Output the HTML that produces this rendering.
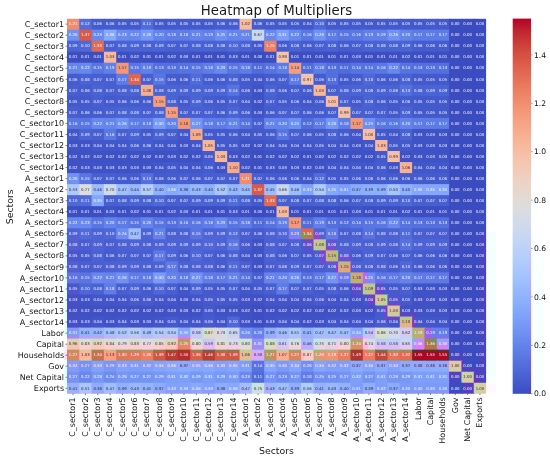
<!DOCTYPE html>
<html><head><meta charset="utf-8"><title>Heatmap of Multipliers</title>
<style>html,body{margin:0;padding:0;background:#fff}svg{display:block;will-change:transform}text{font-family:"DejaVu Sans","Liberation Sans",sans-serif}</style></head><body>
<svg width="550" height="459" viewBox="0 0 550 459">
<rect width="550" height="459" fill="#fff"/>
<g shape-rendering="crispEdges">
<rect x="64" y="232" width="16" height="8" fill="#e8ffff"/>
<rect x="80" y="232" width="16" height="8" fill="#e2ffff"/>
<rect x="96" y="232" width="16" height="8" fill="#e3ffff"/>
<rect x="112" y="232" width="16" height="8" fill="#e0ffff"/>
<rect x="128" y="232" width="16" height="8" fill="#e3ffff"/>
<rect x="144" y="232" width="16" height="8" fill="#e2ffff"/>
<rect x="160" y="232" width="16" height="8" fill="#e2ffff"/>
<rect x="176" y="232" width="16" height="8" fill="#e2ffff"/>
<rect x="192" y="232" width="16" height="8" fill="#e2ffff"/>
<rect x="208" y="232" width="16" height="8" fill="#e4ffff"/>
<rect x="224" y="232" width="16" height="8" fill="#e1ffff"/>
<rect x="240" y="232" width="16" height="8" fill="#e4ffff"/>
<rect x="256" y="232" width="16" height="8" fill="#e4ffff"/>
<rect x="272" y="232" width="16" height="8" fill="#e3ffff"/>
<rect x="288" y="232" width="16" height="8" fill="#f2ffff"/>
<rect x="304" y="232" width="16" height="8" fill="#ffeeff"/>
<rect x="320" y="232" width="16" height="8" fill="#e5ffff"/>
<rect x="336" y="232" width="16" height="8" fill="#e3ffff"/>
<rect x="352" y="232" width="16" height="8" fill="#e3ffff"/>
<rect x="368" y="232" width="16" height="8" fill="#e2ffff"/>
<rect x="384" y="232" width="16" height="8" fill="#e3ffff"/>
<rect x="400" y="232" width="16" height="8" fill="#e2ffff"/>
<rect x="416" y="232" width="16" height="8" fill="#e4ffff"/>
<rect x="432" y="232" width="16" height="8" fill="#e4ffff"/>
<rect x="448" y="232" width="16" height="8" fill="#e7ffff"/>
<rect x="464" y="232" width="16" height="8" fill="#e8ffff"/>
<rect x="480" y="232" width="16" height="8" fill="#f6ffff"/>
<rect x="512" y="232" width="16" height="8" fill="#f1ffff"/>
<rect x="528" y="232" width="16" height="8" fill="#fcffff"/>
<rect x="64" y="240" width="16" height="8" fill="#e9ffff"/>
<rect x="80" y="240" width="16" height="8" fill="#e4ffff"/>
<rect x="96" y="240" width="16" height="8" fill="#e4ffff"/>
<rect x="112" y="240" width="16" height="8" fill="#e3ffff"/>
<rect x="128" y="240" width="16" height="8" fill="#e3ffff"/>
<rect x="144" y="240" width="16" height="8" fill="#e3ffff"/>
<rect x="160" y="240" width="16" height="8" fill="#e4ffff"/>
<rect x="176" y="240" width="16" height="8" fill="#e2ffff"/>
<rect x="192" y="240" width="16" height="8" fill="#e3ffff"/>
<rect x="208" y="240" width="16" height="8" fill="#e3ffff"/>
<rect x="224" y="240" width="16" height="8" fill="#e1ffff"/>
<rect x="240" y="240" width="16" height="8" fill="#e5ffff"/>
<rect x="256" y="240" width="16" height="8" fill="#e5ffff"/>
<rect x="272" y="240" width="16" height="8" fill="#e4ffff"/>
<rect x="288" y="240" width="16" height="8" fill="#e3ffff"/>
<rect x="304" y="240" width="16" height="8" fill="#fffcff"/>
<rect x="336" y="240" width="16" height="8" fill="#e3ffff"/>
<rect x="352" y="240" width="16" height="8" fill="#e3ffff"/>
<rect x="368" y="240" width="16" height="8" fill="#e3ffff"/>
<rect x="384" y="240" width="16" height="8" fill="#e3ffff"/>
<rect x="400" y="240" width="16" height="8" fill="#e1ffff"/>
<rect x="416" y="240" width="16" height="8" fill="#e3ffff"/>
<rect x="432" y="240" width="16" height="8" fill="#e3ffff"/>
<rect x="448" y="240" width="16" height="8" fill="#e7ffff"/>
<rect x="464" y="240" width="16" height="8" fill="#e8ffff"/>
<rect x="480" y="240" width="16" height="8" fill="#f6ffff"/>
<rect x="512" y="240" width="16" height="8" fill="#efffff"/>
<rect x="528" y="240" width="16" height="8" fill="#fcffff"/>
<rect x="64" y="248" width="16" height="8" fill="#e9ffff"/>
<rect x="80" y="248" width="16" height="8" fill="#e3ffff"/>
<rect x="96" y="248" width="16" height="8" fill="#e3ffff"/>
<rect x="112" y="248" width="16" height="8" fill="#e3ffff"/>
<rect x="128" y="248" width="16" height="8" fill="#e3ffff"/>
<rect x="144" y="248" width="16" height="8" fill="#e2ffff"/>
<rect x="160" y="248" width="16" height="8" fill="#e2ffff"/>
<rect x="176" y="248" width="16" height="8" fill="#e2ffff"/>
<rect x="192" y="248" width="16" height="8" fill="#e2ffff"/>
<rect x="208" y="248" width="16" height="8" fill="#e3ffff"/>
<rect x="224" y="248" width="16" height="8" fill="#e2ffff"/>
<rect x="240" y="248" width="16" height="8" fill="#e4ffff"/>
<rect x="256" y="248" width="16" height="8" fill="#e4ffff"/>
<rect x="272" y="248" width="16" height="8" fill="#e3ffff"/>
<rect x="288" y="248" width="16" height="8" fill="#e3ffff"/>
<rect x="304" y="248" width="16" height="8" fill="#eeffff"/>
<rect x="320" y="248" width="16" height="8" fill="#fff4ff"/>
<rect x="336" y="248" width="16" height="8" fill="#ebffff"/>
<rect x="352" y="248" width="16" height="8" fill="#e3ffff"/>
<rect x="368" y="248" width="16" height="8" fill="#e3ffff"/>
<rect x="384" y="248" width="16" height="8" fill="#e3ffff"/>
<rect x="400" y="248" width="16" height="8" fill="#e2ffff"/>
<rect x="416" y="248" width="16" height="8" fill="#e3ffff"/>
<rect x="432" y="248" width="16" height="8" fill="#e3ffff"/>
<rect x="448" y="248" width="16" height="8" fill="#e7ffff"/>
<rect x="464" y="248" width="16" height="8" fill="#e7ffff"/>
<rect x="480" y="248" width="16" height="8" fill="#f6ffff"/>
<rect x="512" y="248" width="16" height="8" fill="#ecffff"/>
<rect x="528" y="248" width="16" height="8" fill="#fbffff"/>
<rect x="64" y="256" width="16" height="8" fill="#e8ffff"/>
<rect x="80" y="256" width="16" height="8" fill="#e3ffff"/>
<rect x="96" y="256" width="16" height="8" fill="#e2ffff"/>
<rect x="112" y="256" width="16" height="8" fill="#e2ffff"/>
<rect x="128" y="256" width="16" height="8" fill="#e2ffff"/>
<rect x="144" y="256" width="16" height="8" fill="#e1ffff"/>
<rect x="160" y="256" width="16" height="8" fill="#e0ffff"/>
<rect x="176" y="256" width="16" height="8" fill="#e2ffff"/>
<rect x="192" y="256" width="16" height="8" fill="#e2ffff"/>
<rect x="208" y="256" width="16" height="8" fill="#e3ffff"/>
<rect x="224" y="256" width="16" height="8" fill="#e2ffff"/>
<rect x="240" y="256" width="16" height="8" fill="#e4ffff"/>
<rect x="256" y="256" width="16" height="8" fill="#e3ffff"/>
<rect x="272" y="256" width="16" height="8" fill="#e2ffff"/>
<rect x="288" y="256" width="16" height="8" fill="#e2ffff"/>
<rect x="304" y="256" width="16" height="8" fill="#e3ffff"/>
<rect x="320" y="256" width="16" height="8" fill="#fffaff"/>
<rect x="336" y="256" width="16" height="8" fill="#fffdff"/>
<rect x="352" y="256" width="16" height="8" fill="#e2ffff"/>
<rect x="368" y="256" width="16" height="8" fill="#e2ffff"/>
<rect x="384" y="256" width="16" height="8" fill="#e3ffff"/>
<rect x="400" y="256" width="16" height="8" fill="#e2ffff"/>
<rect x="416" y="256" width="16" height="8" fill="#e3ffff"/>
<rect x="432" y="256" width="16" height="8" fill="#e3ffff"/>
<rect x="448" y="256" width="16" height="8" fill="#e6ffff"/>
<rect x="464" y="256" width="16" height="8" fill="#e7ffff"/>
<rect x="480" y="256" width="16" height="8" fill="#f6ffff"/>
<rect x="512" y="256" width="16" height="8" fill="#e8ffff"/>
<rect x="528" y="256" width="16" height="8" fill="#faffff"/>
<rect x="64" y="264" width="16" height="8" fill="#e9ffff"/>
<rect x="80" y="264" width="16" height="8" fill="#e4ffff"/>
<rect x="96" y="264" width="16" height="8" fill="#e4ffff"/>
<rect x="112" y="264" width="16" height="8" fill="#e3ffff"/>
<rect x="128" y="264" width="16" height="8" fill="#e3ffff"/>
<rect x="144" y="264" width="16" height="8" fill="#e3ffff"/>
<rect x="160" y="264" width="16" height="8" fill="#e1ffff"/>
<rect x="176" y="264" width="16" height="8" fill="#e2ffff"/>
<rect x="192" y="264" width="16" height="8" fill="#e3ffff"/>
<rect x="208" y="264" width="16" height="8" fill="#e4ffff"/>
<rect x="224" y="264" width="16" height="8" fill="#e2ffff"/>
<rect x="240" y="264" width="16" height="8" fill="#e5ffff"/>
<rect x="256" y="264" width="16" height="8" fill="#e5ffff"/>
<rect x="272" y="264" width="16" height="8" fill="#e4ffff"/>
<rect x="288" y="264" width="16" height="8" fill="#e3ffff"/>
<rect x="304" y="264" width="16" height="8" fill="#e4ffff"/>
<rect x="320" y="264" width="16" height="8" fill="#e4ffff"/>
<rect x="336" y="264" width="16" height="8" fill="#ffeaff"/>
<rect x="352" y="264" width="16" height="8" fill="#e3ffff"/>
<rect x="368" y="264" width="16" height="8" fill="#e4ffff"/>
<rect x="384" y="264" width="16" height="8" fill="#e4ffff"/>
<rect x="400" y="264" width="16" height="8" fill="#e3ffff"/>
<rect x="416" y="264" width="16" height="8" fill="#e4ffff"/>
<rect x="432" y="264" width="16" height="8" fill="#e4ffff"/>
<rect x="448" y="264" width="16" height="8" fill="#e7ffff"/>
<rect x="464" y="264" width="16" height="8" fill="#e8ffff"/>
<rect x="480" y="264" width="16" height="8" fill="#f6ffff"/>
<rect x="512" y="264" width="16" height="8" fill="#e6ffff"/>
<rect x="528" y="264" width="16" height="8" fill="#faffff"/>
<rect x="64" y="272" width="16" height="8" fill="#e6ffff"/>
<rect x="80" y="272" width="16" height="8" fill="#e1ffff"/>
<rect x="96" y="272" width="16" height="8" fill="#dfffff"/>
<rect x="112" y="272" width="16" height="8" fill="#dfffff"/>
<rect x="128" y="272" width="16" height="8" fill="#dfffff"/>
<rect x="144" y="272" width="16" height="8" fill="#e0ffff"/>
<rect x="160" y="272" width="16" height="8" fill="#dfffff"/>
<rect x="176" y="272" width="16" height="8" fill="#dfffff"/>
<rect x="192" y="272" width="16" height="8" fill="#dfffff"/>
<rect x="208" y="272" width="16" height="8" fill="#e0ffff"/>
<rect x="224" y="272" width="16" height="8" fill="#dfffff"/>
<rect x="240" y="272" width="16" height="8" fill="#e2ffff"/>
<rect x="256" y="272" width="16" height="8" fill="#e2ffff"/>
<rect x="272" y="272" width="16" height="8" fill="#dfffff"/>
<rect x="288" y="272" width="16" height="8" fill="#dfffff"/>
<rect x="304" y="272" width="16" height="8" fill="#e1ffff"/>
<rect x="320" y="272" width="16" height="8" fill="#dfffff"/>
<rect x="336" y="272" width="16" height="8" fill="#ecffff"/>
<rect x="352" y="272" width="16" height="8" fill="#fff0ff"/>
<rect x="368" y="272" width="16" height="8" fill="#e0ffff"/>
<rect x="384" y="272" width="16" height="8" fill="#e0ffff"/>
<rect x="400" y="272" width="16" height="8" fill="#dfffff"/>
<rect x="416" y="272" width="16" height="8" fill="#e0ffff"/>
<rect x="432" y="272" width="16" height="8" fill="#e0ffff"/>
<rect x="448" y="272" width="16" height="8" fill="#e7ffff"/>
<rect x="464" y="272" width="16" height="8" fill="#e8ffff"/>
<rect x="480" y="272" width="16" height="8" fill="#f6ffff"/>
<rect x="512" y="272" width="16" height="8" fill="#e4ffff"/>
<rect x="528" y="272" width="16" height="8" fill="#faffff"/>
<rect x="64" y="280" width="16" height="8" fill="#e7ffff"/>
<rect x="80" y="280" width="16" height="8" fill="#e0ffff"/>
<rect x="96" y="280" width="16" height="8" fill="#dfffff"/>
<rect x="112" y="280" width="16" height="8" fill="#dfffff"/>
<rect x="128" y="280" width="16" height="8" fill="#e0ffff"/>
<rect x="144" y="280" width="16" height="8" fill="#e0ffff"/>
<rect x="160" y="280" width="16" height="8" fill="#e0ffff"/>
<rect x="176" y="280" width="16" height="8" fill="#e1ffff"/>
<rect x="192" y="280" width="16" height="8" fill="#e0ffff"/>
<rect x="208" y="280" width="16" height="8" fill="#e1ffff"/>
<rect x="224" y="280" width="16" height="8" fill="#e0ffff"/>
<rect x="240" y="280" width="16" height="8" fill="#e2ffff"/>
<rect x="256" y="280" width="16" height="8" fill="#e2ffff"/>
<rect x="272" y="280" width="16" height="8" fill="#deffff"/>
<rect x="288" y="280" width="16" height="8" fill="#e0ffff"/>
<rect x="304" y="280" width="16" height="8" fill="#e1ffff"/>
<rect x="320" y="280" width="16" height="8" fill="#e0ffff"/>
<rect x="336" y="280" width="16" height="8" fill="#e4ffff"/>
<rect x="352" y="280" width="16" height="8" fill="#fff7ff"/>
<rect x="368" y="280" width="16" height="8" fill="#f6ffff"/>
<rect x="384" y="280" width="16" height="8" fill="#e1ffff"/>
<rect x="400" y="280" width="16" height="8" fill="#e0ffff"/>
<rect x="416" y="280" width="16" height="8" fill="#e2ffff"/>
<rect x="432" y="280" width="16" height="8" fill="#e2ffff"/>
<rect x="448" y="280" width="16" height="8" fill="#e6ffff"/>
<rect x="464" y="280" width="16" height="8" fill="#e6ffff"/>
<rect x="480" y="280" width="16" height="8" fill="#f6ffff"/>
<rect x="512" y="280" width="16" height="8" fill="#e2ffff"/>
<rect x="528" y="280" width="16" height="8" fill="#f9ffff"/>
<rect x="64" y="288" width="16" height="8" fill="#e9ffff"/>
<rect x="80" y="288" width="16" height="8" fill="#e3ffff"/>
<rect x="96" y="288" width="16" height="8" fill="#e2ffff"/>
<rect x="112" y="288" width="16" height="8" fill="#e3ffff"/>
<rect x="128" y="288" width="16" height="8" fill="#e3ffff"/>
<rect x="144" y="288" width="16" height="8" fill="#e3ffff"/>
<rect x="160" y="288" width="16" height="8" fill="#e3ffff"/>
<rect x="176" y="288" width="16" height="8" fill="#e4ffff"/>
<rect x="192" y="288" width="16" height="8" fill="#e3ffff"/>
<rect x="208" y="288" width="16" height="8" fill="#e4ffff"/>
<rect x="224" y="288" width="16" height="8" fill="#e3ffff"/>
<rect x="240" y="288" width="16" height="8" fill="#e5ffff"/>
<rect x="256" y="288" width="16" height="8" fill="#e4ffff"/>
<rect x="272" y="288" width="16" height="8" fill="#e1ffff"/>
<rect x="288" y="288" width="16" height="8" fill="#e3ffff"/>
<rect x="304" y="288" width="16" height="8" fill="#e4ffff"/>
<rect x="320" y="288" width="16" height="8" fill="#e4ffff"/>
<rect x="336" y="288" width="16" height="8" fill="#e4ffff"/>
<rect x="352" y="288" width="16" height="8" fill="#faffff"/>
<rect x="368" y="288" width="16" height="8" fill="#fffaff"/>
<rect x="384" y="288" width="16" height="8" fill="#e7ffff"/>
<rect x="400" y="288" width="16" height="8" fill="#e4ffff"/>
<rect x="416" y="288" width="16" height="8" fill="#e5ffff"/>
<rect x="432" y="288" width="16" height="8" fill="#e6ffff"/>
<rect x="448" y="288" width="16" height="8" fill="#e7ffff"/>
<rect x="464" y="288" width="16" height="8" fill="#e7ffff"/>
<rect x="480" y="288" width="16" height="8" fill="#f6ffff"/>
<rect x="512" y="288" width="16" height="8" fill="#e1ffff"/>
<rect x="528" y="288" width="16" height="8" fill="#f9ffff"/>
<rect x="64" y="296" width="16" height="8" fill="#ebffff"/>
<rect x="80" y="296" width="16" height="8" fill="#e6ffff"/>
<rect x="96" y="296" width="16" height="8" fill="#e6ffff"/>
<rect x="112" y="296" width="16" height="8" fill="#e6ffff"/>
<rect x="128" y="296" width="16" height="8" fill="#e4ffff"/>
<rect x="144" y="296" width="16" height="8" fill="#e5ffff"/>
<rect x="160" y="296" width="16" height="8" fill="#e6ffff"/>
<rect x="176" y="296" width="16" height="8" fill="#e6ffff"/>
<rect x="192" y="296" width="16" height="8" fill="#e5ffff"/>
<rect x="208" y="296" width="16" height="8" fill="#e5ffff"/>
<rect x="224" y="296" width="16" height="8" fill="#e5ffff"/>
<rect x="240" y="296" width="16" height="8" fill="#e6ffff"/>
<rect x="256" y="296" width="16" height="8" fill="#e6ffff"/>
<rect x="272" y="296" width="16" height="8" fill="#e6ffff"/>
<rect x="288" y="296" width="16" height="8" fill="#e5ffff"/>
<rect x="304" y="296" width="16" height="8" fill="#e5ffff"/>
<rect x="320" y="296" width="16" height="8" fill="#e6ffff"/>
<rect x="336" y="296" width="16" height="8" fill="#e5ffff"/>
<rect x="352" y="296" width="16" height="8" fill="#e6ffff"/>
<rect x="368" y="296" width="16" height="8" fill="#fff7ff"/>
<rect x="384" y="296" width="16" height="8" fill="#f5ffff"/>
<rect x="400" y="296" width="16" height="8" fill="#e5ffff"/>
<rect x="416" y="296" width="16" height="8" fill="#e6ffff"/>
<rect x="432" y="296" width="16" height="8" fill="#e6ffff"/>
<rect x="448" y="296" width="16" height="8" fill="#e8ffff"/>
<rect x="464" y="296" width="16" height="8" fill="#e8ffff"/>
<rect x="480" y="296" width="16" height="8" fill="#f6ffff"/>
<rect x="512" y="296" width="16" height="8" fill="#dfffff"/>
<rect x="528" y="296" width="16" height="8" fill="#f9ffff"/>
<rect x="64" y="304" width="16" height="8" fill="#ebffff"/>
<rect x="80" y="304" width="16" height="8" fill="#e6ffff"/>
<rect x="96" y="304" width="16" height="8" fill="#e7ffff"/>
<rect x="112" y="304" width="16" height="8" fill="#e6ffff"/>
<rect x="128" y="304" width="16" height="8" fill="#e6ffff"/>
<rect x="144" y="304" width="16" height="8" fill="#e6ffff"/>
<rect x="160" y="304" width="16" height="8" fill="#e6ffff"/>
<rect x="176" y="304" width="16" height="8" fill="#e6ffff"/>
<rect x="192" y="304" width="16" height="8" fill="#e6ffff"/>
<rect x="208" y="304" width="16" height="8" fill="#e6ffff"/>
<rect x="224" y="304" width="16" height="8" fill="#e6ffff"/>
<rect x="240" y="304" width="16" height="8" fill="#e7ffff"/>
<rect x="256" y="304" width="16" height="8" fill="#e7ffff"/>
<rect x="272" y="304" width="16" height="8" fill="#e6ffff"/>
<rect x="288" y="304" width="16" height="8" fill="#e6ffff"/>
<rect x="304" y="304" width="16" height="8" fill="#e6ffff"/>
<rect x="320" y="304" width="16" height="8" fill="#e7ffff"/>
<rect x="336" y="304" width="16" height="8" fill="#e6ffff"/>
<rect x="352" y="304" width="16" height="8" fill="#e6ffff"/>
<rect x="368" y="304" width="16" height="8" fill="#eeffff"/>
<rect x="384" y="304" width="16" height="8" fill="#fff5ff"/>
<rect x="400" y="304" width="16" height="8" fill="#e6ffff"/>
<rect x="416" y="304" width="16" height="8" fill="#e6ffff"/>
<rect x="432" y="304" width="16" height="8" fill="#e6ffff"/>
<rect x="448" y="304" width="16" height="8" fill="#e8ffff"/>
<rect x="464" y="304" width="16" height="8" fill="#e8ffff"/>
<rect x="480" y="304" width="16" height="8" fill="#f6ffff"/>
<rect x="512" y="304" width="16" height="8" fill="#deffff"/>
<rect x="528" y="304" width="16" height="8" fill="#f8ffff"/>
<rect x="64" y="312" width="16" height="8" fill="#e9ffff"/>
<rect x="80" y="312" width="16" height="8" fill="#e4ffff"/>
<rect x="96" y="312" width="16" height="8" fill="#e4ffff"/>
<rect x="112" y="312" width="16" height="8" fill="#e4ffff"/>
<rect x="128" y="312" width="16" height="8" fill="#e4ffff"/>
<rect x="144" y="312" width="16" height="8" fill="#e4ffff"/>
<rect x="160" y="312" width="16" height="8" fill="#e4ffff"/>
<rect x="176" y="312" width="16" height="8" fill="#e4ffff"/>
<rect x="192" y="312" width="16" height="8" fill="#e3ffff"/>
<rect x="208" y="312" width="16" height="8" fill="#e3ffff"/>
<rect x="224" y="312" width="16" height="8" fill="#e2ffff"/>
<rect x="240" y="312" width="16" height="8" fill="#e4ffff"/>
<rect x="256" y="312" width="16" height="8" fill="#e5ffff"/>
<rect x="272" y="312" width="16" height="8" fill="#e4ffff"/>
<rect x="288" y="312" width="16" height="8" fill="#e4ffff"/>
<rect x="304" y="312" width="16" height="8" fill="#e4ffff"/>
<rect x="320" y="312" width="16" height="8" fill="#e4ffff"/>
<rect x="336" y="312" width="16" height="8" fill="#e4ffff"/>
<rect x="352" y="312" width="16" height="8" fill="#e4ffff"/>
<rect x="368" y="312" width="16" height="8" fill="#e3ffff"/>
<rect x="384" y="312" width="16" height="8" fill="#fffcff"/>
<rect x="416" y="312" width="16" height="8" fill="#e4ffff"/>
<rect x="432" y="312" width="16" height="8" fill="#e4ffff"/>
<rect x="448" y="312" width="16" height="8" fill="#e6ffff"/>
<rect x="464" y="312" width="16" height="8" fill="#e6ffff"/>
<rect x="480" y="312" width="16" height="8" fill="#f5ffff"/>
<rect x="512" y="312" width="16" height="8" fill="#deffff"/>
<rect x="528" y="312" width="16" height="8" fill="#f8ffff"/>
<rect x="64" y="320" width="16" height="8" fill="#eaffff"/>
<rect x="80" y="320" width="16" height="8" fill="#e6ffff"/>
<rect x="96" y="320" width="16" height="8" fill="#e6ffff"/>
<rect x="112" y="320" width="16" height="8" fill="#e6ffff"/>
<rect x="128" y="320" width="16" height="8" fill="#e6ffff"/>
<rect x="144" y="320" width="16" height="8" fill="#e6ffff"/>
<rect x="160" y="320" width="16" height="8" fill="#e6ffff"/>
<rect x="176" y="320" width="16" height="8" fill="#e5ffff"/>
<rect x="192" y="320" width="16" height="8" fill="#e6ffff"/>
<rect x="208" y="320" width="16" height="8" fill="#e7ffff"/>
<rect x="224" y="320" width="16" height="8" fill="#e4ffff"/>
<rect x="240" y="320" width="16" height="8" fill="#e6ffff"/>
<rect x="256" y="320" width="16" height="8" fill="#e6ffff"/>
<rect x="272" y="320" width="16" height="8" fill="#e6ffff"/>
<rect x="288" y="320" width="16" height="8" fill="#e5ffff"/>
<rect x="304" y="320" width="16" height="8" fill="#e6ffff"/>
<rect x="320" y="320" width="16" height="8" fill="#e6ffff"/>
<rect x="336" y="320" width="16" height="8" fill="#e5ffff"/>
<rect x="352" y="320" width="16" height="8" fill="#e5ffff"/>
<rect x="368" y="320" width="16" height="8" fill="#e6ffff"/>
<rect x="384" y="320" width="16" height="8" fill="#e8ffff"/>
<rect x="400" y="320" width="16" height="8" fill="#ffeeff"/>
<rect x="416" y="320" width="16" height="8" fill="#e8ffff"/>
<rect x="432" y="320" width="16" height="8" fill="#e5ffff"/>
<rect x="448" y="320" width="16" height="8" fill="#e8ffff"/>
<rect x="464" y="320" width="16" height="8" fill="#e8ffff"/>
<rect x="480" y="320" width="16" height="8" fill="#f6ffff"/>
<rect x="512" y="320" width="16" height="8" fill="#ddffff"/>
<rect x="528" y="320" width="16" height="8" fill="#f8ffff"/>
<rect x="64" y="328" width="16" height="8" fill="#e4ffff"/>
<rect x="80" y="328" width="16" height="8" fill="#e1ffff"/>
<rect x="96" y="328" width="16" height="8" fill="#e3ffff"/>
<rect x="112" y="328" width="16" height="8" fill="#e6ffff"/>
<rect x="128" y="328" width="16" height="8" fill="#e8ffff"/>
<rect x="144" y="328" width="16" height="8" fill="#e6ffff"/>
<rect x="160" y="328" width="16" height="8" fill="#e8ffff"/>
<rect x="176" y="328" width="16" height="8" fill="#e1ffff"/>
<rect x="192" y="328" width="16" height="8" fill="#f8ffff"/>
<rect x="208" y="328" width="16" height="8" fill="#fffdff"/>
<rect x="224" y="328" width="16" height="8" fill="#f3ffff"/>
<rect x="240" y="328" width="16" height="8" fill="#dfffff"/>
<rect x="256" y="328" width="16" height="8" fill="#dfffff"/>
<rect x="272" y="328" width="16" height="8" fill="#e2ffff"/>
<rect x="288" y="328" width="16" height="8" fill="#e5ffff"/>
<rect x="304" y="328" width="16" height="8" fill="#e2ffff"/>
<rect x="320" y="328" width="16" height="8" fill="#e3ffff"/>
<rect x="336" y="328" width="16" height="8" fill="#e2ffff"/>
<rect x="352" y="328" width="16" height="8" fill="#e2ffff"/>
<rect x="368" y="328" width="16" height="8" fill="#fdffff"/>
<rect x="384" y="328" width="16" height="8" fill="#fbffff"/>
<rect x="400" y="328" width="16" height="8" fill="#fffdff"/>
<rect x="416" y="328" width="16" height="8" fill="#fff5ff"/>
<rect x="432" y="328" width="16" height="8" fill="#e0ffff"/>
<rect x="448" y="328" width="16" height="8" fill="#e7ffff"/>
<rect x="464" y="328" width="16" height="8" fill="#e8ffff"/>
<rect x="480" y="328" width="16" height="8" fill="#f6ffff"/>
<rect x="512" y="328" width="16" height="8" fill="#ddffff"/>
<rect x="528" y="328" width="16" height="8" fill="#f8ffff"/>
<rect x="64" y="336" width="16" height="8" fill="#fffbff"/>
<rect x="96" y="336" width="16" height="8" fill="#fffeff"/>
<rect x="112" y="336" width="16" height="8" fill="#faffff"/>
<rect x="128" y="336" width="16" height="8" fill="#fdffff"/>
<rect x="144" y="336" width="16" height="8" fill="#faffff"/>
<rect x="160" y="336" width="16" height="8" fill="#fffcff"/>
<rect x="176" y="336" width="16" height="8" fill="#ffefff"/>
<rect x="192" y="336" width="16" height="8" fill="#faffff"/>
<rect x="208" y="336" width="16" height="8" fill="#fdffff"/>
<rect x="224" y="336" width="16" height="8" fill="#f9ffff"/>
<rect x="240" y="336" width="16" height="8" fill="#f0ffff"/>
<rect x="256" y="336" width="16" height="8" fill="#efffff"/>
<rect x="272" y="336" width="16" height="8" fill="#f0ffff"/>
<rect x="288" y="336" width="16" height="8" fill="#f1ffff"/>
<rect x="304" y="336" width="16" height="8" fill="#e9ffff"/>
<rect x="320" y="336" width="16" height="8" fill="#f1ffff"/>
<rect x="336" y="336" width="16" height="8" fill="#fcffff"/>
<rect x="352" y="336" width="16" height="8" fill="#fff4ff"/>
<rect x="368" y="336" width="16" height="8" fill="#f6ffff"/>
<rect x="384" y="336" width="16" height="8" fill="#f0ffff"/>
<rect x="400" y="336" width="16" height="8" fill="#f4ffff"/>
<rect x="416" y="336" width="16" height="8" fill="#fff3ff"/>
<rect x="432" y="336" width="16" height="8" fill="#f6ffff"/>
<rect x="448" y="336" width="16" height="8" fill="#e6ffff"/>
<rect x="464" y="336" width="16" height="8" fill="#e7ffff"/>
<rect x="480" y="336" width="16" height="8" fill="#f6ffff"/>
<rect x="512" y="336" width="16" height="8" fill="#deffff"/>
<rect x="528" y="336" width="16" height="8" fill="#f8ffff"/>
<rect x="64" y="344" width="16" height="8" fill="#ffecff"/>
<rect x="80" y="344" width="16" height="8" fill="#fff1ff"/>
<rect x="96" y="344" width="16" height="8" fill="#ffedff"/>
<rect x="112" y="344" width="16" height="8" fill="#fff1ff"/>
<rect x="128" y="344" width="16" height="8" fill="#ffefff"/>
<rect x="144" y="344" width="16" height="8" fill="#fff0ff"/>
<rect x="160" y="344" width="16" height="8" fill="#ffe8ff"/>
<rect x="176" y="344" width="16" height="8" fill="#ffd9ff"/>
<rect x="192" y="344" width="16" height="8" fill="#fff2ff"/>
<rect x="208" y="344" width="16" height="8" fill="#fff2ff"/>
<rect x="224" y="344" width="16" height="8" fill="#fff2ff"/>
<rect x="240" y="344" width="16" height="8" fill="#fffcff"/>
<rect x="256" y="344" width="16" height="8" fill="#fffeff"/>
<rect x="272" y="344" width="16" height="8" fill="#fff8ff"/>
<rect x="288" y="344" width="16" height="8" fill="#fff7ff"/>
<rect x="320" y="344" width="16" height="8" fill="#fff6ff"/>
<rect x="336" y="344" width="16" height="8" fill="#ffefff"/>
<rect x="352" y="344" width="16" height="8" fill="#ffdfff"/>
<rect x="368" y="344" width="16" height="8" fill="#fff6ff"/>
<rect x="384" y="344" width="16" height="8" fill="#fff9ff"/>
<rect x="400" y="344" width="16" height="8" fill="#fff7ff"/>
<rect x="416" y="344" width="16" height="8" fill="#ffe4ff"/>
<rect x="432" y="344" width="16" height="8" fill="#ffecff"/>
<rect x="448" y="344" width="16" height="8" fill="#e9ffff"/>
<rect x="464" y="344" width="16" height="8" fill="#e7ffff"/>
<rect x="480" y="344" width="16" height="8" fill="#f6ffff"/>
<rect x="512" y="344" width="16" height="8" fill="#deffff"/>
<rect x="528" y="344" width="16" height="8" fill="#f8ffff"/>
<rect x="64" y="352" width="16" height="8" fill="#ffe0ff"/>
<rect x="80" y="352" width="16" height="8" fill="#ffe3ff"/>
<rect x="96" y="352" width="16" height="8" fill="#ffdbff"/>
<rect x="112" y="352" width="16" height="8" fill="#ffdaff"/>
<rect x="128" y="352" width="16" height="8" fill="#ffd7ff"/>
<rect x="144" y="352" width="16" height="8" fill="#ffd6ff"/>
<rect x="160" y="352" width="16" height="8" fill="#ffd1ff"/>
<rect x="176" y="352" width="16" height="8" fill="#ffcdff"/>
<rect x="192" y="352" width="16" height="8" fill="#ffd3ff"/>
<rect x="208" y="352" width="16" height="8" fill="#ffd2ff"/>
<rect x="224" y="352" width="16" height="8" fill="#ffd3ff"/>
<rect x="240" y="352" width="16" height="8" fill="#fff0ff"/>
<rect x="256" y="352" width="16" height="8" fill="#fff3ff"/>
<rect x="272" y="352" width="16" height="8" fill="#ffe2ff"/>
<rect x="288" y="352" width="16" height="8" fill="#ffdeff"/>
<rect x="304" y="352" width="16" height="8" fill="#ffecff"/>
<rect x="320" y="352" width="16" height="8" fill="#ffdeff"/>
<rect x="336" y="352" width="16" height="8" fill="#ffd7ff"/>
<rect x="352" y="352" width="16" height="8" fill="#ffd1ff"/>
<rect x="368" y="352" width="16" height="8" fill="#ffd4ff"/>
<rect x="384" y="352" width="16" height="8" fill="#ffd6ff"/>
<rect x="400" y="352" width="16" height="8" fill="#ffd2ff"/>
<rect x="416" y="352" width="16" height="8" fill="#ffc6ff"/>
<rect x="432" y="352" width="16" height="8" fill="#ffc7ff"/>
<rect x="448" y="352" width="16" height="8" fill="#f2ffff"/>
<rect x="464" y="352" width="16" height="8" fill="#e8ffff"/>
<rect x="480" y="352" width="16" height="8" fill="#f6ffff"/>
<rect x="512" y="352" width="16" height="8" fill="#dfffff"/>
<rect x="528" y="352" width="16" height="8" fill="#f9ffff"/>
<rect x="64" y="360" width="16" height="8" fill="#edffff"/>
<rect x="80" y="360" width="16" height="8" fill="#e6ffff"/>
<rect x="96" y="360" width="16" height="8" fill="#e9ffff"/>
<rect x="112" y="360" width="16" height="8" fill="#e9ffff"/>
<rect x="128" y="360" width="16" height="8" fill="#e8ffff"/>
<rect x="144" y="360" width="16" height="8" fill="#e9ffff"/>
<rect x="160" y="360" width="16" height="8" fill="#ebffff"/>
<rect x="176" y="360" width="16" height="8" fill="#eaffff"/>
<rect x="192" y="360" width="16" height="8" fill="#ebffff"/>
<rect x="208" y="360" width="16" height="8" fill="#ebffff"/>
<rect x="224" y="360" width="16" height="8" fill="#eaffff"/>
<rect x="240" y="360" width="16" height="8" fill="#e5ffff"/>
<rect x="256" y="360" width="16" height="8" fill="#e5ffff"/>
<rect x="272" y="360" width="16" height="8" fill="#e7ffff"/>
<rect x="288" y="360" width="16" height="8" fill="#e7ffff"/>
<rect x="304" y="360" width="16" height="8" fill="#e5ffff"/>
<rect x="320" y="360" width="16" height="8" fill="#e8ffff"/>
<rect x="336" y="360" width="16" height="8" fill="#e8ffff"/>
<rect x="352" y="360" width="16" height="8" fill="#eaffff"/>
<rect x="368" y="360" width="16" height="8" fill="#eaffff"/>
<rect x="384" y="360" width="16" height="8" fill="#eaffff"/>
<rect x="400" y="360" width="16" height="8" fill="#eaffff"/>
<rect x="416" y="360" width="16" height="8" fill="#edffff"/>
<rect x="432" y="360" width="16" height="8" fill="#edffff"/>
<rect x="448" y="360" width="16" height="8" fill="#fff4ff"/>
<rect x="464" y="360" width="16" height="8" fill="#e8ffff"/>
<rect x="480" y="360" width="16" height="8" fill="#f6ffff"/>
<rect x="512" y="360" width="16" height="8" fill="#e1ffff"/>
<rect x="528" y="360" width="16" height="8" fill="#f9ffff"/>
<rect x="64" y="368" width="16" height="8" fill="#e3ffff"/>
<rect x="80" y="368" width="16" height="8" fill="#ddffff"/>
<rect x="96" y="368" width="16" height="8" fill="#ddffff"/>
<rect x="112" y="368" width="16" height="8" fill="#ddffff"/>
<rect x="128" y="368" width="16" height="8" fill="#dcffff"/>
<rect x="144" y="368" width="16" height="8" fill="#ddffff"/>
<rect x="160" y="368" width="16" height="8" fill="#ddffff"/>
<rect x="176" y="368" width="16" height="8" fill="#ddffff"/>
<rect x="192" y="368" width="16" height="8" fill="#ddffff"/>
<rect x="208" y="368" width="16" height="8" fill="#ddffff"/>
<rect x="224" y="368" width="16" height="8" fill="#ddffff"/>
<rect x="240" y="368" width="16" height="8" fill="#ddffff"/>
<rect x="256" y="368" width="16" height="8" fill="#deffff"/>
<rect x="272" y="368" width="16" height="8" fill="#ddffff"/>
<rect x="288" y="368" width="16" height="8" fill="#ddffff"/>
<rect x="304" y="368" width="16" height="8" fill="#ddffff"/>
<rect x="320" y="368" width="16" height="8" fill="#ddffff"/>
<rect x="336" y="368" width="16" height="8" fill="#ddffff"/>
<rect x="352" y="368" width="16" height="8" fill="#ddffff"/>
<rect x="368" y="368" width="16" height="8" fill="#ddffff"/>
<rect x="384" y="368" width="16" height="8" fill="#ddffff"/>
<rect x="400" y="368" width="16" height="8" fill="#deffff"/>
<rect x="416" y="368" width="16" height="8" fill="#deffff"/>
<rect x="432" y="368" width="16" height="8" fill="#ddffff"/>
<rect x="448" y="368" width="16" height="8" fill="#fffdff"/>
<rect x="464" y="368" width="16" height="8" fill="#fcffff"/>
<rect x="480" y="368" width="16" height="8" fill="#f6ffff"/>
<rect x="512" y="368" width="16" height="8" fill="#e2ffff"/>
<rect x="528" y="368" width="16" height="8" fill="#f9ffff"/>
<rect x="64" y="376" width="16" height="8" fill="#e4ffff"/>
<rect x="80" y="376" width="16" height="8" fill="#dfffff"/>
<rect x="96" y="376" width="16" height="8" fill="#dfffff"/>
<rect x="112" y="376" width="16" height="8" fill="#dfffff"/>
<rect x="128" y="376" width="16" height="8" fill="#deffff"/>
<rect x="144" y="376" width="16" height="8" fill="#deffff"/>
<rect x="160" y="376" width="16" height="8" fill="#deffff"/>
<rect x="176" y="376" width="16" height="8" fill="#deffff"/>
<rect x="192" y="376" width="16" height="8" fill="#deffff"/>
<rect x="208" y="376" width="16" height="8" fill="#deffff"/>
<rect x="224" y="376" width="16" height="8" fill="#deffff"/>
<rect x="240" y="376" width="16" height="8" fill="#e0ffff"/>
<rect x="256" y="376" width="16" height="8" fill="#e2ffff"/>
<rect x="272" y="376" width="16" height="8" fill="#deffff"/>
<rect x="288" y="376" width="16" height="8" fill="#deffff"/>
<rect x="304" y="376" width="16" height="8" fill="#e0ffff"/>
<rect x="320" y="376" width="16" height="8" fill="#dfffff"/>
<rect x="336" y="376" width="16" height="8" fill="#ddffff"/>
<rect x="352" y="376" width="16" height="8" fill="#deffff"/>
<rect x="368" y="376" width="16" height="8" fill="#deffff"/>
<rect x="384" y="376" width="16" height="8" fill="#deffff"/>
<rect x="400" y="376" width="16" height="8" fill="#deffff"/>
<rect x="416" y="376" width="16" height="8" fill="#deffff"/>
<rect x="432" y="376" width="16" height="8" fill="#ddffff"/>
<rect x="448" y="376" width="16" height="8" fill="#efffff"/>
<rect x="464" y="376" width="16" height="8" fill="#fff8ff"/>
<rect x="480" y="376" width="16" height="8" fill="#faffff"/>
<rect x="512" y="376" width="16" height="8" fill="#e3ffff"/>
<rect x="528" y="376" width="16" height="8" fill="#f9ffff"/>
<rect x="64" y="384" width="16" height="8" fill="#e7ffff"/>
<rect x="80" y="384" width="16" height="8" fill="#e4ffff"/>
<rect x="96" y="384" width="16" height="8" fill="#e2ffff"/>
<rect x="112" y="384" width="16" height="8" fill="#e1ffff"/>
<rect x="128" y="384" width="16" height="8" fill="#e1ffff"/>
<rect x="144" y="384" width="16" height="8" fill="#e0ffff"/>
<rect x="160" y="384" width="16" height="8" fill="#e0ffff"/>
<rect x="176" y="384" width="16" height="8" fill="#dfffff"/>
<rect x="192" y="384" width="16" height="8" fill="#e0ffff"/>
<rect x="208" y="384" width="16" height="8" fill="#e0ffff"/>
<rect x="224" y="384" width="16" height="8" fill="#e0ffff"/>
<rect x="240" y="384" width="16" height="8" fill="#e9ffff"/>
<rect x="256" y="384" width="16" height="8" fill="#efffff"/>
<rect x="272" y="384" width="16" height="8" fill="#e3ffff"/>
<rect x="288" y="384" width="16" height="8" fill="#e2ffff"/>
<rect x="304" y="384" width="16" height="8" fill="#e6ffff"/>
<rect x="320" y="384" width="16" height="8" fill="#e2ffff"/>
<rect x="336" y="384" width="16" height="8" fill="#e0ffff"/>
<rect x="352" y="384" width="16" height="8" fill="#dfffff"/>
<rect x="368" y="384" width="16" height="8" fill="#e0ffff"/>
<rect x="384" y="384" width="16" height="8" fill="#dfffff"/>
<rect x="400" y="384" width="16" height="8" fill="#dfffff"/>
<rect x="416" y="384" width="16" height="8" fill="#dfffff"/>
<rect x="432" y="384" width="16" height="8" fill="#dfffff"/>
<rect x="448" y="384" width="16" height="8" fill="#e7ffff"/>
<rect x="464" y="384" width="16" height="8" fill="#fffeff"/>
<rect x="480" y="384" width="16" height="8" fill="#fff7ff"/>
<rect x="512" y="384" width="16" height="8" fill="#e5ffff"/>
<rect x="528" y="384" width="16" height="8" fill="#faffff"/>
<rect x="64" y="392" width="16" height="8" fill="#f9ffff"/>
<rect x="80" y="392" width="16" height="8" fill="#f9ffff"/>
<rect x="96" y="392" width="16" height="8" fill="#f8ffff"/>
<rect x="112" y="392" width="16" height="8" fill="#f8ffff"/>
<rect x="128" y="392" width="16" height="8" fill="#f8ffff"/>
<rect x="144" y="392" width="16" height="8" fill="#f8ffff"/>
<rect x="160" y="392" width="16" height="8" fill="#f8ffff"/>
<rect x="176" y="392" width="16" height="8" fill="#f7ffff"/>
<rect x="192" y="392" width="16" height="8" fill="#f8ffff"/>
<rect x="208" y="392" width="16" height="8" fill="#f8ffff"/>
<rect x="224" y="392" width="16" height="8" fill="#f8ffff"/>
<rect x="240" y="392" width="16" height="8" fill="#faffff"/>
<rect x="256" y="392" width="16" height="8" fill="#fbffff"/>
<rect x="272" y="392" width="16" height="8" fill="#f8ffff"/>
<rect x="288" y="392" width="16" height="8" fill="#f8ffff"/>
<rect x="304" y="392" width="16" height="8" fill="#f9ffff"/>
<rect x="320" y="392" width="16" height="8" fill="#f8ffff"/>
<rect x="336" y="392" width="16" height="8" fill="#f8ffff"/>
<rect x="352" y="392" width="16" height="8" fill="#f7ffff"/>
<rect x="368" y="392" width="16" height="8" fill="#f8ffff"/>
<rect x="384" y="392" width="16" height="8" fill="#f8ffff"/>
<rect x="400" y="392" width="16" height="8" fill="#f7ffff"/>
<rect x="416" y="392" width="16" height="8" fill="#f7ffff"/>
<rect x="432" y="392" width="16" height="8" fill="#f7ffff"/>
<rect x="448" y="392" width="16" height="8" fill="#f9ffff"/>
<rect x="480" y="392" width="16" height="8" fill="#fffdff"/>
<rect x="512" y="392" width="16" height="8" fill="#faffff"/>
</g>
<clipPath id="hm"><rect x="66.9" y="18.6" width="419.20" height="375.20"/></clipPath>
<g clip-path="url(#hm)">
<rect x="66.90" y="18.60" width="13.33" height="12.04" fill="#f18d6f"/>
<rect x="79.23" y="18.60" width="13.33" height="12.04" fill="#516ddb"/>
<rect x="91.56" y="18.60" width="13.33" height="12.04" fill="#455cce"/>
<rect x="103.89" y="18.60" width="13.33" height="12.04" fill="#455cce"/>
<rect x="116.22" y="18.60" width="13.33" height="12.04" fill="#445acc"/>
<rect x="128.55" y="18.60" width="13.33" height="12.04" fill="#445acc"/>
<rect x="140.88" y="18.60" width="13.33" height="12.04" fill="#506bda"/>
<rect x="153.21" y="18.60" width="13.33" height="12.04" fill="#445acc"/>
<rect x="165.54" y="18.60" width="13.33" height="12.04" fill="#445acc"/>
<rect x="177.86" y="18.60" width="13.33" height="12.04" fill="#445acc"/>
<rect x="190.19" y="18.60" width="13.33" height="12.04" fill="#445acc"/>
<rect x="202.52" y="18.60" width="13.33" height="12.04" fill="#445acc"/>
<rect x="214.85" y="18.60" width="13.33" height="12.04" fill="#455cce"/>
<rect x="227.18" y="18.60" width="13.33" height="12.04" fill="#455cce"/>
<rect x="239.51" y="18.60" width="13.33" height="12.04" fill="#f7ba9f"/>
<rect x="251.84" y="18.60" width="13.33" height="12.04" fill="#455cce"/>
<rect x="264.17" y="18.60" width="13.33" height="12.04" fill="#445acc"/>
<rect x="276.50" y="18.60" width="13.33" height="12.04" fill="#445acc"/>
<rect x="288.83" y="18.60" width="13.33" height="12.04" fill="#445acc"/>
<rect x="301.16" y="18.60" width="13.33" height="12.04" fill="#4257c9"/>
<rect x="313.49" y="18.60" width="13.33" height="12.04" fill="#4e68d8"/>
<rect x="325.82" y="18.60" width="13.33" height="12.04" fill="#445acc"/>
<rect x="338.15" y="18.60" width="13.33" height="12.04" fill="#445acc"/>
<rect x="350.48" y="18.60" width="13.33" height="12.04" fill="#445acc"/>
<rect x="362.81" y="18.60" width="13.33" height="12.04" fill="#445acc"/>
<rect x="375.14" y="18.60" width="13.33" height="12.04" fill="#445acc"/>
<rect x="387.46" y="18.60" width="13.33" height="12.04" fill="#445acc"/>
<rect x="399.79" y="18.60" width="13.33" height="12.04" fill="#445acc"/>
<rect x="412.12" y="18.60" width="13.33" height="12.04" fill="#445acc"/>
<rect x="424.45" y="18.60" width="13.33" height="12.04" fill="#445acc"/>
<rect x="436.78" y="18.60" width="13.33" height="12.04" fill="#445acc"/>
<rect x="449.11" y="18.60" width="13.33" height="12.04" fill="#3b4cc0"/>
<rect x="461.44" y="18.60" width="13.33" height="12.04" fill="#3b4cc0"/>
<rect x="473.77" y="18.60" width="13.33" height="12.04" fill="#3b4cc0"/>
<rect x="66.90" y="29.64" width="13.33" height="12.04" fill="#6f92f3"/>
<rect x="79.23" y="29.64" width="13.33" height="12.04" fill="#da5a49"/>
<rect x="91.56" y="29.64" width="13.33" height="12.04" fill="#688aef"/>
<rect x="103.89" y="29.64" width="13.33" height="12.04" fill="#86a9fc"/>
<rect x="116.22" y="29.64" width="13.33" height="12.04" fill="#688aef"/>
<rect x="128.55" y="29.64" width="13.33" height="12.04" fill="#6788ee"/>
<rect x="140.88" y="29.64" width="13.33" height="12.04" fill="#7597f6"/>
<rect x="153.21" y="29.64" width="13.33" height="12.04" fill="#6384eb"/>
<rect x="165.54" y="29.64" width="13.33" height="12.04" fill="#5e7de7"/>
<rect x="177.86" y="29.64" width="13.33" height="12.04" fill="#5e7de7"/>
<rect x="190.19" y="29.64" width="13.33" height="12.04" fill="#6485ec"/>
<rect x="202.52" y="29.64" width="13.33" height="12.04" fill="#6180e9"/>
<rect x="214.85" y="29.64" width="13.33" height="12.04" fill="#6e90f2"/>
<rect x="227.18" y="29.64" width="13.33" height="12.04" fill="#6485ec"/>
<rect x="239.51" y="29.64" width="13.33" height="12.04" fill="#6485ec"/>
<rect x="251.84" y="29.64" width="13.33" height="12.04" fill="#cad8ef"/>
<rect x="264.17" y="29.64" width="13.33" height="12.04" fill="#6788ee"/>
<rect x="276.50" y="29.64" width="13.33" height="12.04" fill="#7b9ff9"/>
<rect x="288.83" y="29.64" width="13.33" height="12.04" fill="#6788ee"/>
<rect x="301.16" y="29.64" width="13.33" height="12.04" fill="#5a78e4"/>
<rect x="313.49" y="29.64" width="13.33" height="12.04" fill="#6f92f3"/>
<rect x="325.82" y="29.64" width="13.33" height="12.04" fill="#5d7ce6"/>
<rect x="338.15" y="29.64" width="13.33" height="12.04" fill="#5875e1"/>
<rect x="350.48" y="29.64" width="13.33" height="12.04" fill="#5a78e4"/>
<rect x="362.81" y="29.64" width="13.33" height="12.04" fill="#6180e9"/>
<rect x="375.14" y="29.64" width="13.33" height="12.04" fill="#6180e9"/>
<rect x="387.46" y="29.64" width="13.33" height="12.04" fill="#6f92f3"/>
<rect x="399.79" y="29.64" width="13.33" height="12.04" fill="#6384eb"/>
<rect x="412.12" y="29.64" width="13.33" height="12.04" fill="#5d7ce6"/>
<rect x="424.45" y="29.64" width="13.33" height="12.04" fill="#5d7ce6"/>
<rect x="436.78" y="29.64" width="13.33" height="12.04" fill="#5d7ce6"/>
<rect x="449.11" y="29.64" width="13.33" height="12.04" fill="#3b4cc0"/>
<rect x="461.44" y="29.64" width="13.33" height="12.04" fill="#3b4cc0"/>
<rect x="473.77" y="29.64" width="13.33" height="12.04" fill="#3b4cc0"/>
<rect x="66.90" y="40.67" width="13.33" height="12.04" fill="#4b64d5"/>
<rect x="79.23" y="40.67" width="13.33" height="12.04" fill="#4e68d8"/>
<rect x="91.56" y="40.67" width="13.33" height="12.04" fill="#e26952"/>
<rect x="103.89" y="40.67" width="13.33" height="12.04" fill="#485fd1"/>
<rect x="116.22" y="40.67" width="13.33" height="12.04" fill="#4a63d3"/>
<rect x="128.55" y="40.67" width="13.33" height="12.04" fill="#4b64d5"/>
<rect x="140.88" y="40.67" width="13.33" height="12.04" fill="#4a63d3"/>
<rect x="153.21" y="40.67" width="13.33" height="12.04" fill="#4b64d5"/>
<rect x="165.54" y="40.67" width="13.33" height="12.04" fill="#485fd1"/>
<rect x="177.86" y="40.67" width="13.33" height="12.04" fill="#485fd1"/>
<rect x="190.19" y="40.67" width="13.33" height="12.04" fill="#4a63d3"/>
<rect x="202.52" y="40.67" width="13.33" height="12.04" fill="#4a63d3"/>
<rect x="214.85" y="40.67" width="13.33" height="12.04" fill="#4a63d3"/>
<rect x="227.18" y="40.67" width="13.33" height="12.04" fill="#4e68d8"/>
<rect x="239.51" y="40.67" width="13.33" height="12.04" fill="#4a63d3"/>
<rect x="251.84" y="40.67" width="13.33" height="12.04" fill="#445acc"/>
<rect x="264.17" y="40.67" width="13.33" height="12.04" fill="#ec8165"/>
<rect x="276.50" y="40.67" width="13.33" height="12.04" fill="#455cce"/>
<rect x="288.83" y="40.67" width="13.33" height="12.04" fill="#4a63d3"/>
<rect x="301.16" y="40.67" width="13.33" height="12.04" fill="#455cce"/>
<rect x="313.49" y="40.67" width="13.33" height="12.04" fill="#485fd1"/>
<rect x="325.82" y="40.67" width="13.33" height="12.04" fill="#4a63d3"/>
<rect x="338.15" y="40.67" width="13.33" height="12.04" fill="#455cce"/>
<rect x="350.48" y="40.67" width="13.33" height="12.04" fill="#485fd1"/>
<rect x="362.81" y="40.67" width="13.33" height="12.04" fill="#4a63d3"/>
<rect x="375.14" y="40.67" width="13.33" height="12.04" fill="#4a63d3"/>
<rect x="387.46" y="40.67" width="13.33" height="12.04" fill="#4a63d3"/>
<rect x="399.79" y="40.67" width="13.33" height="12.04" fill="#4b64d5"/>
<rect x="412.12" y="40.67" width="13.33" height="12.04" fill="#455cce"/>
<rect x="424.45" y="40.67" width="13.33" height="12.04" fill="#455cce"/>
<rect x="436.78" y="40.67" width="13.33" height="12.04" fill="#455cce"/>
<rect x="449.11" y="40.67" width="13.33" height="12.04" fill="#3b4cc0"/>
<rect x="461.44" y="40.67" width="13.33" height="12.04" fill="#3b4cc0"/>
<rect x="473.77" y="40.67" width="13.33" height="12.04" fill="#3b4cc0"/>
<rect x="66.90" y="51.71" width="13.33" height="12.04" fill="#3c4ec2"/>
<rect x="79.23" y="51.71" width="13.33" height="12.04" fill="#3c4ec2"/>
<rect x="91.56" y="51.71" width="13.33" height="12.04" fill="#3c4ec2"/>
<rect x="103.89" y="51.71" width="13.33" height="12.04" fill="#f7b89c"/>
<rect x="116.22" y="51.71" width="13.33" height="12.04" fill="#3c4ec2"/>
<rect x="128.55" y="51.71" width="13.33" height="12.04" fill="#3e51c5"/>
<rect x="140.88" y="51.71" width="13.33" height="12.04" fill="#3c4ec2"/>
<rect x="153.21" y="51.71" width="13.33" height="12.04" fill="#3c4ec2"/>
<rect x="165.54" y="51.71" width="13.33" height="12.04" fill="#3e51c5"/>
<rect x="177.86" y="51.71" width="13.33" height="12.04" fill="#3f53c6"/>
<rect x="190.19" y="51.71" width="13.33" height="12.04" fill="#3c4ec2"/>
<rect x="202.52" y="51.71" width="13.33" height="12.04" fill="#3c4ec2"/>
<rect x="214.85" y="51.71" width="13.33" height="12.04" fill="#3c4ec2"/>
<rect x="227.18" y="51.71" width="13.33" height="12.04" fill="#3f53c6"/>
<rect x="239.51" y="51.71" width="13.33" height="12.04" fill="#3c4ec2"/>
<rect x="251.84" y="51.71" width="13.33" height="12.04" fill="#3b4cc0"/>
<rect x="264.17" y="51.71" width="13.33" height="12.04" fill="#3c4ec2"/>
<rect x="276.50" y="51.71" width="13.33" height="12.04" fill="#f5c2aa"/>
<rect x="288.83" y="51.71" width="13.33" height="12.04" fill="#3c4ec2"/>
<rect x="301.16" y="51.71" width="13.33" height="12.04" fill="#3c4ec2"/>
<rect x="313.49" y="51.71" width="13.33" height="12.04" fill="#3c4ec2"/>
<rect x="325.82" y="51.71" width="13.33" height="12.04" fill="#3c4ec2"/>
<rect x="338.15" y="51.71" width="13.33" height="12.04" fill="#3c4ec2"/>
<rect x="350.48" y="51.71" width="13.33" height="12.04" fill="#3f53c6"/>
<rect x="362.81" y="51.71" width="13.33" height="12.04" fill="#3c4ec2"/>
<rect x="375.14" y="51.71" width="13.33" height="12.04" fill="#3c4ec2"/>
<rect x="387.46" y="51.71" width="13.33" height="12.04" fill="#3c4ec2"/>
<rect x="399.79" y="51.71" width="13.33" height="12.04" fill="#3e51c5"/>
<rect x="412.12" y="51.71" width="13.33" height="12.04" fill="#3c4ec2"/>
<rect x="424.45" y="51.71" width="13.33" height="12.04" fill="#3c4ec2"/>
<rect x="436.78" y="51.71" width="13.33" height="12.04" fill="#3c4ec2"/>
<rect x="449.11" y="51.71" width="13.33" height="12.04" fill="#3b4cc0"/>
<rect x="461.44" y="51.71" width="13.33" height="12.04" fill="#3b4cc0"/>
<rect x="473.77" y="51.71" width="13.33" height="12.04" fill="#3b4cc0"/>
<rect x="66.90" y="62.74" width="13.33" height="12.04" fill="#6485ec"/>
<rect x="79.23" y="62.74" width="13.33" height="12.04" fill="#6788ee"/>
<rect x="91.56" y="62.74" width="13.33" height="12.04" fill="#5875e1"/>
<rect x="103.89" y="62.74" width="13.33" height="12.04" fill="#6180e9"/>
<rect x="116.22" y="62.74" width="13.33" height="12.04" fill="#f39778"/>
<rect x="128.55" y="62.74" width="13.33" height="12.04" fill="#5875e1"/>
<rect x="140.88" y="62.74" width="13.33" height="12.04" fill="#6180e9"/>
<rect x="153.21" y="62.74" width="13.33" height="12.04" fill="#5470de"/>
<rect x="165.54" y="62.74" width="13.33" height="12.04" fill="#5470de"/>
<rect x="177.86" y="62.74" width="13.33" height="12.04" fill="#5673e0"/>
<rect x="190.19" y="62.74" width="13.33" height="12.04" fill="#5875e1"/>
<rect x="202.52" y="62.74" width="13.33" height="12.04" fill="#5e7de7"/>
<rect x="214.85" y="62.74" width="13.33" height="12.04" fill="#688aef"/>
<rect x="227.18" y="62.74" width="13.33" height="12.04" fill="#5875e1"/>
<rect x="239.51" y="62.74" width="13.33" height="12.04" fill="#5e7de7"/>
<rect x="251.84" y="62.74" width="13.33" height="12.04" fill="#506bda"/>
<rect x="264.17" y="62.74" width="13.33" height="12.04" fill="#5673e0"/>
<rect x="276.50" y="62.74" width="13.33" height="12.04" fill="#5e7de7"/>
<rect x="288.83" y="62.74" width="13.33" height="12.04" fill="#f59f80"/>
<rect x="301.16" y="62.74" width="13.33" height="12.04" fill="#506bda"/>
<rect x="313.49" y="62.74" width="13.33" height="12.04" fill="#5e7de7"/>
<rect x="325.82" y="62.74" width="13.33" height="12.04" fill="#5470de"/>
<rect x="338.15" y="62.74" width="13.33" height="12.04" fill="#506bda"/>
<rect x="350.48" y="62.74" width="13.33" height="12.04" fill="#5673e0"/>
<rect x="362.81" y="62.74" width="13.33" height="12.04" fill="#5673e0"/>
<rect x="375.14" y="62.74" width="13.33" height="12.04" fill="#5a78e4"/>
<rect x="387.46" y="62.74" width="13.33" height="12.04" fill="#6788ee"/>
<rect x="399.79" y="62.74" width="13.33" height="12.04" fill="#5673e0"/>
<rect x="412.12" y="62.74" width="13.33" height="12.04" fill="#5470de"/>
<rect x="424.45" y="62.74" width="13.33" height="12.04" fill="#5470de"/>
<rect x="436.78" y="62.74" width="13.33" height="12.04" fill="#5470de"/>
<rect x="449.11" y="62.74" width="13.33" height="12.04" fill="#3b4cc0"/>
<rect x="461.44" y="62.74" width="13.33" height="12.04" fill="#3b4cc0"/>
<rect x="473.77" y="62.74" width="13.33" height="12.04" fill="#3b4cc0"/>
<rect x="66.90" y="73.78" width="13.33" height="12.04" fill="#455cce"/>
<rect x="79.23" y="73.78" width="13.33" height="12.04" fill="#4a63d3"/>
<rect x="91.56" y="73.78" width="13.33" height="12.04" fill="#485fd1"/>
<rect x="103.89" y="73.78" width="13.33" height="12.04" fill="#485fd1"/>
<rect x="116.22" y="73.78" width="13.33" height="12.04" fill="#5d7ce6"/>
<rect x="128.55" y="73.78" width="13.33" height="12.04" fill="#e0654f"/>
<rect x="140.88" y="73.78" width="13.33" height="12.04" fill="#485fd1"/>
<rect x="153.21" y="73.78" width="13.33" height="12.04" fill="#5875e1"/>
<rect x="165.54" y="73.78" width="13.33" height="12.04" fill="#455cce"/>
<rect x="177.86" y="73.78" width="13.33" height="12.04" fill="#455cce"/>
<rect x="190.19" y="73.78" width="13.33" height="12.04" fill="#506bda"/>
<rect x="202.52" y="73.78" width="13.33" height="12.04" fill="#455cce"/>
<rect x="214.85" y="73.78" width="13.33" height="12.04" fill="#455cce"/>
<rect x="227.18" y="73.78" width="13.33" height="12.04" fill="#4a63d3"/>
<rect x="239.51" y="73.78" width="13.33" height="12.04" fill="#445acc"/>
<rect x="251.84" y="73.78" width="13.33" height="12.04" fill="#4257c9"/>
<rect x="264.17" y="73.78" width="13.33" height="12.04" fill="#455cce"/>
<rect x="276.50" y="73.78" width="13.33" height="12.04" fill="#485fd1"/>
<rect x="288.83" y="73.78" width="13.33" height="12.04" fill="#5d7ce6"/>
<rect x="301.16" y="73.78" width="13.33" height="12.04" fill="#f5c4ac"/>
<rect x="313.49" y="73.78" width="13.33" height="12.04" fill="#455cce"/>
<rect x="325.82" y="73.78" width="13.33" height="12.04" fill="#5470de"/>
<rect x="338.15" y="73.78" width="13.33" height="12.04" fill="#445acc"/>
<rect x="350.48" y="73.78" width="13.33" height="12.04" fill="#455cce"/>
<rect x="362.81" y="73.78" width="13.33" height="12.04" fill="#4e68d8"/>
<rect x="375.14" y="73.78" width="13.33" height="12.04" fill="#455cce"/>
<rect x="387.46" y="73.78" width="13.33" height="12.04" fill="#455cce"/>
<rect x="399.79" y="73.78" width="13.33" height="12.04" fill="#4a63d3"/>
<rect x="412.12" y="73.78" width="13.33" height="12.04" fill="#445acc"/>
<rect x="424.45" y="73.78" width="13.33" height="12.04" fill="#445acc"/>
<rect x="436.78" y="73.78" width="13.33" height="12.04" fill="#445acc"/>
<rect x="449.11" y="73.78" width="13.33" height="12.04" fill="#3b4cc0"/>
<rect x="461.44" y="73.78" width="13.33" height="12.04" fill="#3b4cc0"/>
<rect x="473.77" y="73.78" width="13.33" height="12.04" fill="#3b4cc0"/>
<rect x="66.90" y="84.81" width="13.33" height="12.04" fill="#485fd1"/>
<rect x="79.23" y="84.81" width="13.33" height="12.04" fill="#455cce"/>
<rect x="91.56" y="84.81" width="13.33" height="12.04" fill="#4a63d3"/>
<rect x="103.89" y="84.81" width="13.33" height="12.04" fill="#485fd1"/>
<rect x="116.22" y="84.81" width="13.33" height="12.04" fill="#4a63d3"/>
<rect x="128.55" y="84.81" width="13.33" height="12.04" fill="#4a63d3"/>
<rect x="140.88" y="84.81" width="13.33" height="12.04" fill="#f7ad90"/>
<rect x="153.21" y="84.81" width="13.33" height="12.04" fill="#4a63d3"/>
<rect x="165.54" y="84.81" width="13.33" height="12.04" fill="#4b64d5"/>
<rect x="177.86" y="84.81" width="13.33" height="12.04" fill="#4b64d5"/>
<rect x="190.19" y="84.81" width="13.33" height="12.04" fill="#4b64d5"/>
<rect x="202.52" y="84.81" width="13.33" height="12.04" fill="#4b64d5"/>
<rect x="214.85" y="84.81" width="13.33" height="12.04" fill="#4b64d5"/>
<rect x="227.18" y="84.81" width="13.33" height="12.04" fill="#5673e0"/>
<rect x="239.51" y="84.81" width="13.33" height="12.04" fill="#455cce"/>
<rect x="251.84" y="84.81" width="13.33" height="12.04" fill="#3f53c6"/>
<rect x="264.17" y="84.81" width="13.33" height="12.04" fill="#4a63d3"/>
<rect x="276.50" y="84.81" width="13.33" height="12.04" fill="#455cce"/>
<rect x="288.83" y="84.81" width="13.33" height="12.04" fill="#485fd1"/>
<rect x="301.16" y="84.81" width="13.33" height="12.04" fill="#455cce"/>
<rect x="313.49" y="84.81" width="13.33" height="12.04" fill="#f7b89c"/>
<rect x="325.82" y="84.81" width="13.33" height="12.04" fill="#485fd1"/>
<rect x="338.15" y="84.81" width="13.33" height="12.04" fill="#4a63d3"/>
<rect x="350.48" y="84.81" width="13.33" height="12.04" fill="#4b64d5"/>
<rect x="362.81" y="84.81" width="13.33" height="12.04" fill="#4a63d3"/>
<rect x="375.14" y="84.81" width="13.33" height="12.04" fill="#4b64d5"/>
<rect x="387.46" y="84.81" width="13.33" height="12.04" fill="#4a63d3"/>
<rect x="399.79" y="84.81" width="13.33" height="12.04" fill="#5470de"/>
<rect x="412.12" y="84.81" width="13.33" height="12.04" fill="#4a63d3"/>
<rect x="424.45" y="84.81" width="13.33" height="12.04" fill="#4b64d5"/>
<rect x="436.78" y="84.81" width="13.33" height="12.04" fill="#4b64d5"/>
<rect x="449.11" y="84.81" width="13.33" height="12.04" fill="#3b4cc0"/>
<rect x="461.44" y="84.81" width="13.33" height="12.04" fill="#3b4cc0"/>
<rect x="473.77" y="84.81" width="13.33" height="12.04" fill="#3b4cc0"/>
<rect x="66.90" y="95.85" width="13.33" height="12.04" fill="#445acc"/>
<rect x="79.23" y="95.85" width="13.33" height="12.04" fill="#445acc"/>
<rect x="91.56" y="95.85" width="13.33" height="12.04" fill="#485fd1"/>
<rect x="103.89" y="95.85" width="13.33" height="12.04" fill="#445acc"/>
<rect x="116.22" y="95.85" width="13.33" height="12.04" fill="#455cce"/>
<rect x="128.55" y="95.85" width="13.33" height="12.04" fill="#455cce"/>
<rect x="140.88" y="95.85" width="13.33" height="12.04" fill="#455cce"/>
<rect x="153.21" y="95.85" width="13.33" height="12.04" fill="#f59d7e"/>
<rect x="165.54" y="95.85" width="13.33" height="12.04" fill="#4a63d3"/>
<rect x="177.86" y="95.85" width="13.33" height="12.04" fill="#445acc"/>
<rect x="190.19" y="95.85" width="13.33" height="12.04" fill="#4b64d5"/>
<rect x="202.52" y="95.85" width="13.33" height="12.04" fill="#455cce"/>
<rect x="214.85" y="95.85" width="13.33" height="12.04" fill="#445acc"/>
<rect x="227.18" y="95.85" width="13.33" height="12.04" fill="#485fd1"/>
<rect x="239.51" y="95.85" width="13.33" height="12.04" fill="#4257c9"/>
<rect x="251.84" y="95.85" width="13.33" height="12.04" fill="#3e51c5"/>
<rect x="264.17" y="95.85" width="13.33" height="12.04" fill="#485fd1"/>
<rect x="276.50" y="95.85" width="13.33" height="12.04" fill="#445acc"/>
<rect x="288.83" y="95.85" width="13.33" height="12.04" fill="#455cce"/>
<rect x="301.16" y="95.85" width="13.33" height="12.04" fill="#4257c9"/>
<rect x="313.49" y="95.85" width="13.33" height="12.04" fill="#455cce"/>
<rect x="325.82" y="95.85" width="13.33" height="12.04" fill="#f6bda2"/>
<rect x="338.15" y="95.85" width="13.33" height="12.04" fill="#485fd1"/>
<rect x="350.48" y="95.85" width="13.33" height="12.04" fill="#445acc"/>
<rect x="362.81" y="95.85" width="13.33" height="12.04" fill="#4a63d3"/>
<rect x="375.14" y="95.85" width="13.33" height="12.04" fill="#455cce"/>
<rect x="387.46" y="95.85" width="13.33" height="12.04" fill="#445acc"/>
<rect x="399.79" y="95.85" width="13.33" height="12.04" fill="#455cce"/>
<rect x="412.12" y="95.85" width="13.33" height="12.04" fill="#445acc"/>
<rect x="424.45" y="95.85" width="13.33" height="12.04" fill="#445acc"/>
<rect x="436.78" y="95.85" width="13.33" height="12.04" fill="#445acc"/>
<rect x="449.11" y="95.85" width="13.33" height="12.04" fill="#3b4cc0"/>
<rect x="461.44" y="95.85" width="13.33" height="12.04" fill="#3b4cc0"/>
<rect x="473.77" y="95.85" width="13.33" height="12.04" fill="#3b4cc0"/>
<rect x="66.90" y="106.88" width="13.33" height="12.04" fill="#485fd1"/>
<rect x="79.23" y="106.88" width="13.33" height="12.04" fill="#455cce"/>
<rect x="91.56" y="106.88" width="13.33" height="12.04" fill="#455cce"/>
<rect x="103.89" y="106.88" width="13.33" height="12.04" fill="#485fd1"/>
<rect x="116.22" y="106.88" width="13.33" height="12.04" fill="#4a63d3"/>
<rect x="128.55" y="106.88" width="13.33" height="12.04" fill="#4a63d3"/>
<rect x="140.88" y="106.88" width="13.33" height="12.04" fill="#485fd1"/>
<rect x="153.21" y="106.88" width="13.33" height="12.04" fill="#4a63d3"/>
<rect x="165.54" y="106.88" width="13.33" height="12.04" fill="#f59d7e"/>
<rect x="177.86" y="106.88" width="13.33" height="12.04" fill="#485fd1"/>
<rect x="190.19" y="106.88" width="13.33" height="12.04" fill="#485fd1"/>
<rect x="202.52" y="106.88" width="13.33" height="12.04" fill="#485fd1"/>
<rect x="214.85" y="106.88" width="13.33" height="12.04" fill="#455cce"/>
<rect x="227.18" y="106.88" width="13.33" height="12.04" fill="#4b64d5"/>
<rect x="239.51" y="106.88" width="13.33" height="12.04" fill="#455cce"/>
<rect x="251.84" y="106.88" width="13.33" height="12.04" fill="#3f53c6"/>
<rect x="264.17" y="106.88" width="13.33" height="12.04" fill="#455cce"/>
<rect x="276.50" y="106.88" width="13.33" height="12.04" fill="#485fd1"/>
<rect x="288.83" y="106.88" width="13.33" height="12.04" fill="#485fd1"/>
<rect x="301.16" y="106.88" width="13.33" height="12.04" fill="#455cce"/>
<rect x="313.49" y="106.88" width="13.33" height="12.04" fill="#455cce"/>
<rect x="325.82" y="106.88" width="13.33" height="12.04" fill="#485fd1"/>
<rect x="338.15" y="106.88" width="13.33" height="12.04" fill="#f5c0a7"/>
<rect x="350.48" y="106.88" width="13.33" height="12.04" fill="#485fd1"/>
<rect x="362.81" y="106.88" width="13.33" height="12.04" fill="#485fd1"/>
<rect x="375.14" y="106.88" width="13.33" height="12.04" fill="#485fd1"/>
<rect x="387.46" y="106.88" width="13.33" height="12.04" fill="#445acc"/>
<rect x="399.79" y="106.88" width="13.33" height="12.04" fill="#4b64d5"/>
<rect x="412.12" y="106.88" width="13.33" height="12.04" fill="#445acc"/>
<rect x="424.45" y="106.88" width="13.33" height="12.04" fill="#445acc"/>
<rect x="436.78" y="106.88" width="13.33" height="12.04" fill="#445acc"/>
<rect x="449.11" y="106.88" width="13.33" height="12.04" fill="#3b4cc0"/>
<rect x="461.44" y="106.88" width="13.33" height="12.04" fill="#3b4cc0"/>
<rect x="473.77" y="106.88" width="13.33" height="12.04" fill="#3b4cc0"/>
<rect x="66.90" y="117.92" width="13.33" height="12.04" fill="#5a78e4"/>
<rect x="79.23" y="117.92" width="13.33" height="12.04" fill="#5875e1"/>
<rect x="91.56" y="117.92" width="13.33" height="12.04" fill="#6788ee"/>
<rect x="103.89" y="117.92" width="13.33" height="12.04" fill="#6485ec"/>
<rect x="116.22" y="117.92" width="13.33" height="12.04" fill="#6f92f3"/>
<rect x="128.55" y="117.92" width="13.33" height="12.04" fill="#5d7ce6"/>
<rect x="140.88" y="117.92" width="13.33" height="12.04" fill="#5e7de7"/>
<rect x="153.21" y="117.92" width="13.33" height="12.04" fill="#799cf8"/>
<rect x="165.54" y="117.92" width="13.33" height="12.04" fill="#6384eb"/>
<rect x="177.86" y="117.92" width="13.33" height="12.04" fill="#f39577"/>
<rect x="190.19" y="117.92" width="13.33" height="12.04" fill="#7295f4"/>
<rect x="202.52" y="117.92" width="13.33" height="12.04" fill="#5e7de7"/>
<rect x="214.85" y="117.92" width="13.33" height="12.04" fill="#5d7ce6"/>
<rect x="227.18" y="117.92" width="13.33" height="12.04" fill="#6485ec"/>
<rect x="239.51" y="117.92" width="13.33" height="12.04" fill="#5673e0"/>
<rect x="251.84" y="117.92" width="13.33" height="12.04" fill="#485fd1"/>
<rect x="264.17" y="117.92" width="13.33" height="12.04" fill="#6485ec"/>
<rect x="276.50" y="117.92" width="13.33" height="12.04" fill="#6384eb"/>
<rect x="288.83" y="117.92" width="13.33" height="12.04" fill="#6e90f2"/>
<rect x="301.16" y="117.92" width="13.33" height="12.04" fill="#516ddb"/>
<rect x="313.49" y="117.92" width="13.33" height="12.04" fill="#5d7ce6"/>
<rect x="325.82" y="117.92" width="13.33" height="12.04" fill="#7597f6"/>
<rect x="338.15" y="117.92" width="13.33" height="12.04" fill="#5e7de7"/>
<rect x="350.48" y="117.92" width="13.33" height="12.04" fill="#f39778"/>
<rect x="362.81" y="117.92" width="13.33" height="12.04" fill="#6e90f2"/>
<rect x="375.14" y="117.92" width="13.33" height="12.04" fill="#5a78e4"/>
<rect x="387.46" y="117.92" width="13.33" height="12.04" fill="#5a78e4"/>
<rect x="399.79" y="117.92" width="13.33" height="12.04" fill="#6384eb"/>
<rect x="412.12" y="117.92" width="13.33" height="12.04" fill="#5d7ce6"/>
<rect x="424.45" y="117.92" width="13.33" height="12.04" fill="#5d7ce6"/>
<rect x="436.78" y="117.92" width="13.33" height="12.04" fill="#5d7ce6"/>
<rect x="449.11" y="117.92" width="13.33" height="12.04" fill="#3b4cc0"/>
<rect x="461.44" y="117.92" width="13.33" height="12.04" fill="#3b4cc0"/>
<rect x="473.77" y="117.92" width="13.33" height="12.04" fill="#3b4cc0"/>
<rect x="66.90" y="128.95" width="13.33" height="12.04" fill="#4257c9"/>
<rect x="79.23" y="128.95" width="13.33" height="12.04" fill="#4b64d5"/>
<rect x="91.56" y="128.95" width="13.33" height="12.04" fill="#485fd1"/>
<rect x="103.89" y="128.95" width="13.33" height="12.04" fill="#5a78e4"/>
<rect x="116.22" y="128.95" width="13.33" height="12.04" fill="#485fd1"/>
<rect x="128.55" y="128.95" width="13.33" height="12.04" fill="#4b64d5"/>
<rect x="140.88" y="128.95" width="13.33" height="12.04" fill="#445acc"/>
<rect x="153.21" y="128.95" width="13.33" height="12.04" fill="#4b64d5"/>
<rect x="165.54" y="128.95" width="13.33" height="12.04" fill="#485fd1"/>
<rect x="177.86" y="128.95" width="13.33" height="12.04" fill="#4257c9"/>
<rect x="190.19" y="128.95" width="13.33" height="12.04" fill="#f7aa8c"/>
<rect x="202.52" y="128.95" width="13.33" height="12.04" fill="#445acc"/>
<rect x="214.85" y="128.95" width="13.33" height="12.04" fill="#445acc"/>
<rect x="227.18" y="128.95" width="13.33" height="12.04" fill="#455cce"/>
<rect x="239.51" y="128.95" width="13.33" height="12.04" fill="#4257c9"/>
<rect x="251.84" y="128.95" width="13.33" height="12.04" fill="#445acc"/>
<rect x="264.17" y="128.95" width="13.33" height="12.04" fill="#455cce"/>
<rect x="276.50" y="128.95" width="13.33" height="12.04" fill="#5875e1"/>
<rect x="288.83" y="128.95" width="13.33" height="12.04" fill="#485fd1"/>
<rect x="301.16" y="128.95" width="13.33" height="12.04" fill="#455cce"/>
<rect x="313.49" y="128.95" width="13.33" height="12.04" fill="#445acc"/>
<rect x="325.82" y="128.95" width="13.33" height="12.04" fill="#4a63d3"/>
<rect x="338.15" y="128.95" width="13.33" height="12.04" fill="#455cce"/>
<rect x="350.48" y="128.95" width="13.33" height="12.04" fill="#4257c9"/>
<rect x="362.81" y="128.95" width="13.33" height="12.04" fill="#f6bea4"/>
<rect x="375.14" y="128.95" width="13.33" height="12.04" fill="#445acc"/>
<rect x="387.46" y="128.95" width="13.33" height="12.04" fill="#4257c9"/>
<rect x="399.79" y="128.95" width="13.33" height="12.04" fill="#4a63d3"/>
<rect x="412.12" y="128.95" width="13.33" height="12.04" fill="#3f53c6"/>
<rect x="424.45" y="128.95" width="13.33" height="12.04" fill="#3f53c6"/>
<rect x="436.78" y="128.95" width="13.33" height="12.04" fill="#3f53c6"/>
<rect x="449.11" y="128.95" width="13.33" height="12.04" fill="#3b4cc0"/>
<rect x="461.44" y="128.95" width="13.33" height="12.04" fill="#3b4cc0"/>
<rect x="473.77" y="128.95" width="13.33" height="12.04" fill="#3b4cc0"/>
<rect x="66.90" y="139.99" width="13.33" height="12.04" fill="#3f53c6"/>
<rect x="79.23" y="139.99" width="13.33" height="12.04" fill="#3f53c6"/>
<rect x="91.56" y="139.99" width="13.33" height="12.04" fill="#4257c9"/>
<rect x="103.89" y="139.99" width="13.33" height="12.04" fill="#4257c9"/>
<rect x="116.22" y="139.99" width="13.33" height="12.04" fill="#4257c9"/>
<rect x="128.55" y="139.99" width="13.33" height="12.04" fill="#455cce"/>
<rect x="140.88" y="139.99" width="13.33" height="12.04" fill="#455cce"/>
<rect x="153.21" y="139.99" width="13.33" height="12.04" fill="#4257c9"/>
<rect x="165.54" y="139.99" width="13.33" height="12.04" fill="#4257c9"/>
<rect x="177.86" y="139.99" width="13.33" height="12.04" fill="#3f53c6"/>
<rect x="190.19" y="139.99" width="13.33" height="12.04" fill="#4257c9"/>
<rect x="202.52" y="139.99" width="13.33" height="12.04" fill="#f7b497"/>
<rect x="214.85" y="139.99" width="13.33" height="12.04" fill="#445acc"/>
<rect x="227.18" y="139.99" width="13.33" height="12.04" fill="#445acc"/>
<rect x="239.51" y="139.99" width="13.33" height="12.04" fill="#3e51c5"/>
<rect x="251.84" y="139.99" width="13.33" height="12.04" fill="#3e51c5"/>
<rect x="264.17" y="139.99" width="13.33" height="12.04" fill="#4257c9"/>
<rect x="276.50" y="139.99" width="13.33" height="12.04" fill="#4257c9"/>
<rect x="288.83" y="139.99" width="13.33" height="12.04" fill="#4257c9"/>
<rect x="301.16" y="139.99" width="13.33" height="12.04" fill="#4257c9"/>
<rect x="313.49" y="139.99" width="13.33" height="12.04" fill="#445acc"/>
<rect x="325.82" y="139.99" width="13.33" height="12.04" fill="#4257c9"/>
<rect x="338.15" y="139.99" width="13.33" height="12.04" fill="#4257c9"/>
<rect x="350.48" y="139.99" width="13.33" height="12.04" fill="#3f53c6"/>
<rect x="362.81" y="139.99" width="13.33" height="12.04" fill="#4257c9"/>
<rect x="375.14" y="139.99" width="13.33" height="12.04" fill="#f7b89c"/>
<rect x="387.46" y="139.99" width="13.33" height="12.04" fill="#445acc"/>
<rect x="399.79" y="139.99" width="13.33" height="12.04" fill="#445acc"/>
<rect x="412.12" y="139.99" width="13.33" height="12.04" fill="#3f53c6"/>
<rect x="424.45" y="139.99" width="13.33" height="12.04" fill="#3f53c6"/>
<rect x="436.78" y="139.99" width="13.33" height="12.04" fill="#3f53c6"/>
<rect x="449.11" y="139.99" width="13.33" height="12.04" fill="#3b4cc0"/>
<rect x="461.44" y="139.99" width="13.33" height="12.04" fill="#3b4cc0"/>
<rect x="473.77" y="139.99" width="13.33" height="12.04" fill="#3b4cc0"/>
<rect x="66.90" y="151.02" width="13.33" height="12.04" fill="#3e51c5"/>
<rect x="79.23" y="151.02" width="13.33" height="12.04" fill="#3e51c5"/>
<rect x="91.56" y="151.02" width="13.33" height="12.04" fill="#3e51c5"/>
<rect x="103.89" y="151.02" width="13.33" height="12.04" fill="#3e51c5"/>
<rect x="116.22" y="151.02" width="13.33" height="12.04" fill="#3e51c5"/>
<rect x="128.55" y="151.02" width="13.33" height="12.04" fill="#3e51c5"/>
<rect x="140.88" y="151.02" width="13.33" height="12.04" fill="#3e51c5"/>
<rect x="153.21" y="151.02" width="13.33" height="12.04" fill="#3e51c5"/>
<rect x="165.54" y="151.02" width="13.33" height="12.04" fill="#3f53c6"/>
<rect x="177.86" y="151.02" width="13.33" height="12.04" fill="#3e51c5"/>
<rect x="190.19" y="151.02" width="13.33" height="12.04" fill="#3e51c5"/>
<rect x="202.52" y="151.02" width="13.33" height="12.04" fill="#445acc"/>
<rect x="214.85" y="151.02" width="13.33" height="12.04" fill="#f7b89c"/>
<rect x="227.18" y="151.02" width="13.33" height="12.04" fill="#3f53c6"/>
<rect x="239.51" y="151.02" width="13.33" height="12.04" fill="#3e51c5"/>
<rect x="251.84" y="151.02" width="13.33" height="12.04" fill="#3c4ec2"/>
<rect x="264.17" y="151.02" width="13.33" height="12.04" fill="#3e51c5"/>
<rect x="276.50" y="151.02" width="13.33" height="12.04" fill="#3e51c5"/>
<rect x="288.83" y="151.02" width="13.33" height="12.04" fill="#3e51c5"/>
<rect x="301.16" y="151.02" width="13.33" height="12.04" fill="#3c4ec2"/>
<rect x="313.49" y="151.02" width="13.33" height="12.04" fill="#3e51c5"/>
<rect x="325.82" y="151.02" width="13.33" height="12.04" fill="#3e51c5"/>
<rect x="338.15" y="151.02" width="13.33" height="12.04" fill="#3e51c5"/>
<rect x="350.48" y="151.02" width="13.33" height="12.04" fill="#3e51c5"/>
<rect x="362.81" y="151.02" width="13.33" height="12.04" fill="#3e51c5"/>
<rect x="375.14" y="151.02" width="13.33" height="12.04" fill="#445acc"/>
<rect x="387.46" y="151.02" width="13.33" height="12.04" fill="#f5c0a7"/>
<rect x="399.79" y="151.02" width="13.33" height="12.04" fill="#3e51c5"/>
<rect x="412.12" y="151.02" width="13.33" height="12.04" fill="#3f53c6"/>
<rect x="424.45" y="151.02" width="13.33" height="12.04" fill="#3f53c6"/>
<rect x="436.78" y="151.02" width="13.33" height="12.04" fill="#3f53c6"/>
<rect x="449.11" y="151.02" width="13.33" height="12.04" fill="#3b4cc0"/>
<rect x="461.44" y="151.02" width="13.33" height="12.04" fill="#3b4cc0"/>
<rect x="473.77" y="151.02" width="13.33" height="12.04" fill="#3b4cc0"/>
<rect x="66.90" y="162.06" width="13.33" height="12.04" fill="#3e51c5"/>
<rect x="79.23" y="162.06" width="13.33" height="12.04" fill="#3f53c6"/>
<rect x="91.56" y="162.06" width="13.33" height="12.04" fill="#3f53c6"/>
<rect x="103.89" y="162.06" width="13.33" height="12.04" fill="#3f53c6"/>
<rect x="116.22" y="162.06" width="13.33" height="12.04" fill="#3f53c6"/>
<rect x="128.55" y="162.06" width="13.33" height="12.04" fill="#3f53c6"/>
<rect x="140.88" y="162.06" width="13.33" height="12.04" fill="#3f53c6"/>
<rect x="153.21" y="162.06" width="13.33" height="12.04" fill="#4257c9"/>
<rect x="165.54" y="162.06" width="13.33" height="12.04" fill="#445acc"/>
<rect x="177.86" y="162.06" width="13.33" height="12.04" fill="#4257c9"/>
<rect x="190.19" y="162.06" width="13.33" height="12.04" fill="#4257c9"/>
<rect x="202.52" y="162.06" width="13.33" height="12.04" fill="#455cce"/>
<rect x="214.85" y="162.06" width="13.33" height="12.04" fill="#3f53c6"/>
<rect x="227.18" y="162.06" width="13.33" height="12.04" fill="#f7a98b"/>
<rect x="239.51" y="162.06" width="13.33" height="12.04" fill="#3e51c5"/>
<rect x="251.84" y="162.06" width="13.33" height="12.04" fill="#3c4ec2"/>
<rect x="264.17" y="162.06" width="13.33" height="12.04" fill="#3f53c6"/>
<rect x="276.50" y="162.06" width="13.33" height="12.04" fill="#3f53c6"/>
<rect x="288.83" y="162.06" width="13.33" height="12.04" fill="#3f53c6"/>
<rect x="301.16" y="162.06" width="13.33" height="12.04" fill="#3e51c5"/>
<rect x="313.49" y="162.06" width="13.33" height="12.04" fill="#3f53c6"/>
<rect x="325.82" y="162.06" width="13.33" height="12.04" fill="#4257c9"/>
<rect x="338.15" y="162.06" width="13.33" height="12.04" fill="#4257c9"/>
<rect x="350.48" y="162.06" width="13.33" height="12.04" fill="#4257c9"/>
<rect x="362.81" y="162.06" width="13.33" height="12.04" fill="#4257c9"/>
<rect x="375.14" y="162.06" width="13.33" height="12.04" fill="#455cce"/>
<rect x="387.46" y="162.06" width="13.33" height="12.04" fill="#3f53c6"/>
<rect x="399.79" y="162.06" width="13.33" height="12.04" fill="#f7b194"/>
<rect x="412.12" y="162.06" width="13.33" height="12.04" fill="#4257c9"/>
<rect x="424.45" y="162.06" width="13.33" height="12.04" fill="#4257c9"/>
<rect x="436.78" y="162.06" width="13.33" height="12.04" fill="#4257c9"/>
<rect x="449.11" y="162.06" width="13.33" height="12.04" fill="#3b4cc0"/>
<rect x="461.44" y="162.06" width="13.33" height="12.04" fill="#3b4cc0"/>
<rect x="473.77" y="162.06" width="13.33" height="12.04" fill="#3b4cc0"/>
<rect x="66.90" y="173.09" width="13.33" height="12.04" fill="#6f92f3"/>
<rect x="79.23" y="173.09" width="13.33" height="12.04" fill="#5875e1"/>
<rect x="91.56" y="173.09" width="13.33" height="12.04" fill="#485fd1"/>
<rect x="103.89" y="173.09" width="13.33" height="12.04" fill="#485fd1"/>
<rect x="116.22" y="173.09" width="13.33" height="12.04" fill="#455cce"/>
<rect x="128.55" y="173.09" width="13.33" height="12.04" fill="#455cce"/>
<rect x="140.88" y="173.09" width="13.33" height="12.04" fill="#5470de"/>
<rect x="153.21" y="173.09" width="13.33" height="12.04" fill="#455cce"/>
<rect x="165.54" y="173.09" width="13.33" height="12.04" fill="#455cce"/>
<rect x="177.86" y="173.09" width="13.33" height="12.04" fill="#485fd1"/>
<rect x="190.19" y="173.09" width="13.33" height="12.04" fill="#455cce"/>
<rect x="202.52" y="173.09" width="13.33" height="12.04" fill="#485fd1"/>
<rect x="214.85" y="173.09" width="13.33" height="12.04" fill="#485fd1"/>
<rect x="227.18" y="173.09" width="13.33" height="12.04" fill="#485fd1"/>
<rect x="239.51" y="173.09" width="13.33" height="12.04" fill="#f18d6f"/>
<rect x="251.84" y="173.09" width="13.33" height="12.04" fill="#485fd1"/>
<rect x="264.17" y="173.09" width="13.33" height="12.04" fill="#455cce"/>
<rect x="276.50" y="173.09" width="13.33" height="12.04" fill="#455cce"/>
<rect x="288.83" y="173.09" width="13.33" height="12.04" fill="#455cce"/>
<rect x="301.16" y="173.09" width="13.33" height="12.04" fill="#4257c9"/>
<rect x="313.49" y="173.09" width="13.33" height="12.04" fill="#516ddb"/>
<rect x="325.82" y="173.09" width="13.33" height="12.04" fill="#445acc"/>
<rect x="338.15" y="173.09" width="13.33" height="12.04" fill="#445acc"/>
<rect x="350.48" y="173.09" width="13.33" height="12.04" fill="#455cce"/>
<rect x="362.81" y="173.09" width="13.33" height="12.04" fill="#455cce"/>
<rect x="375.14" y="173.09" width="13.33" height="12.04" fill="#455cce"/>
<rect x="387.46" y="173.09" width="13.33" height="12.04" fill="#455cce"/>
<rect x="399.79" y="173.09" width="13.33" height="12.04" fill="#455cce"/>
<rect x="412.12" y="173.09" width="13.33" height="12.04" fill="#455cce"/>
<rect x="424.45" y="173.09" width="13.33" height="12.04" fill="#455cce"/>
<rect x="436.78" y="173.09" width="13.33" height="12.04" fill="#455cce"/>
<rect x="449.11" y="173.09" width="13.33" height="12.04" fill="#3b4cc0"/>
<rect x="461.44" y="173.09" width="13.33" height="12.04" fill="#3b4cc0"/>
<rect x="473.77" y="173.09" width="13.33" height="12.04" fill="#3b4cc0"/>
<rect x="66.90" y="184.13" width="13.33" height="12.04" fill="#adc9fd"/>
<rect x="79.23" y="184.13" width="13.33" height="12.04" fill="#dcdddd"/>
<rect x="91.56" y="184.13" width="13.33" height="12.04" fill="#9dbdff"/>
<rect x="103.89" y="184.13" width="13.33" height="12.04" fill="#cfdaea"/>
<rect x="116.22" y="184.13" width="13.33" height="12.04" fill="#9fbfff"/>
<rect x="128.55" y="184.13" width="13.33" height="12.04" fill="#98b9ff"/>
<rect x="140.88" y="184.13" width="13.33" height="12.04" fill="#b6cefa"/>
<rect x="153.21" y="184.13" width="13.33" height="12.04" fill="#90b2fe"/>
<rect x="165.54" y="184.13" width="13.33" height="12.04" fill="#86a9fc"/>
<rect x="177.86" y="184.13" width="13.33" height="12.04" fill="#8badfd"/>
<rect x="190.19" y="184.13" width="13.33" height="12.04" fill="#97b8ff"/>
<rect x="202.52" y="184.13" width="13.33" height="12.04" fill="#90b2fe"/>
<rect x="214.85" y="184.13" width="13.33" height="12.04" fill="#aac7fd"/>
<rect x="227.18" y="184.13" width="13.33" height="12.04" fill="#94b6ff"/>
<rect x="239.51" y="184.13" width="13.33" height="12.04" fill="#9bbcff"/>
<rect x="251.84" y="184.13" width="13.33" height="12.04" fill="#da5a49"/>
<rect x="264.17" y="184.13" width="13.33" height="12.04" fill="#9bbcff"/>
<rect x="276.50" y="184.13" width="13.33" height="12.04" fill="#c9d7f0"/>
<rect x="288.83" y="184.13" width="13.33" height="12.04" fill="#9dbdff"/>
<rect x="301.16" y="184.13" width="13.33" height="12.04" fill="#80a3fa"/>
<rect x="313.49" y="184.13" width="13.33" height="12.04" fill="#afcafc"/>
<rect x="325.82" y="184.13" width="13.33" height="12.04" fill="#84a7fc"/>
<rect x="338.15" y="184.13" width="13.33" height="12.04" fill="#7b9ff9"/>
<rect x="350.48" y="184.13" width="13.33" height="12.04" fill="#89acfd"/>
<rect x="362.81" y="184.13" width="13.33" height="12.04" fill="#8db0fe"/>
<rect x="375.14" y="184.13" width="13.33" height="12.04" fill="#8db0fe"/>
<rect x="387.46" y="184.13" width="13.33" height="12.04" fill="#a6c4fe"/>
<rect x="399.79" y="184.13" width="13.33" height="12.04" fill="#90b2fe"/>
<rect x="412.12" y="184.13" width="13.33" height="12.04" fill="#84a7fc"/>
<rect x="424.45" y="184.13" width="13.33" height="12.04" fill="#84a7fc"/>
<rect x="436.78" y="184.13" width="13.33" height="12.04" fill="#84a7fc"/>
<rect x="449.11" y="184.13" width="13.33" height="12.04" fill="#3b4cc0"/>
<rect x="461.44" y="184.13" width="13.33" height="12.04" fill="#3b4cc0"/>
<rect x="473.77" y="184.13" width="13.33" height="12.04" fill="#3b4cc0"/>
<rect x="66.90" y="195.16" width="13.33" height="12.04" fill="#4e68d8"/>
<rect x="79.23" y="195.16" width="13.33" height="12.04" fill="#506bda"/>
<rect x="91.56" y="195.16" width="13.33" height="12.04" fill="#84a7fc"/>
<rect x="103.89" y="195.16" width="13.33" height="12.04" fill="#485fd1"/>
<rect x="116.22" y="195.16" width="13.33" height="12.04" fill="#4a63d3"/>
<rect x="128.55" y="195.16" width="13.33" height="12.04" fill="#4b64d5"/>
<rect x="140.88" y="195.16" width="13.33" height="12.04" fill="#4a63d3"/>
<rect x="153.21" y="195.16" width="13.33" height="12.04" fill="#4e68d8"/>
<rect x="165.54" y="195.16" width="13.33" height="12.04" fill="#485fd1"/>
<rect x="177.86" y="195.16" width="13.33" height="12.04" fill="#485fd1"/>
<rect x="190.19" y="195.16" width="13.33" height="12.04" fill="#4b64d5"/>
<rect x="202.52" y="195.16" width="13.33" height="12.04" fill="#4b64d5"/>
<rect x="214.85" y="195.16" width="13.33" height="12.04" fill="#4b64d5"/>
<rect x="227.18" y="195.16" width="13.33" height="12.04" fill="#506bda"/>
<rect x="239.51" y="195.16" width="13.33" height="12.04" fill="#4a63d3"/>
<rect x="251.84" y="195.16" width="13.33" height="12.04" fill="#445acc"/>
<rect x="264.17" y="195.16" width="13.33" height="12.04" fill="#e26952"/>
<rect x="276.50" y="195.16" width="13.33" height="12.04" fill="#485fd1"/>
<rect x="288.83" y="195.16" width="13.33" height="12.04" fill="#4a63d3"/>
<rect x="301.16" y="195.16" width="13.33" height="12.04" fill="#485fd1"/>
<rect x="313.49" y="195.16" width="13.33" height="12.04" fill="#4a63d3"/>
<rect x="325.82" y="195.16" width="13.33" height="12.04" fill="#4a63d3"/>
<rect x="338.15" y="195.16" width="13.33" height="12.04" fill="#455cce"/>
<rect x="350.48" y="195.16" width="13.33" height="12.04" fill="#485fd1"/>
<rect x="362.81" y="195.16" width="13.33" height="12.04" fill="#4a63d3"/>
<rect x="375.14" y="195.16" width="13.33" height="12.04" fill="#4b64d5"/>
<rect x="387.46" y="195.16" width="13.33" height="12.04" fill="#4b64d5"/>
<rect x="399.79" y="195.16" width="13.33" height="12.04" fill="#4e68d8"/>
<rect x="412.12" y="195.16" width="13.33" height="12.04" fill="#485fd1"/>
<rect x="424.45" y="195.16" width="13.33" height="12.04" fill="#485fd1"/>
<rect x="436.78" y="195.16" width="13.33" height="12.04" fill="#485fd1"/>
<rect x="449.11" y="195.16" width="13.33" height="12.04" fill="#3b4cc0"/>
<rect x="461.44" y="195.16" width="13.33" height="12.04" fill="#3b4cc0"/>
<rect x="473.77" y="195.16" width="13.33" height="12.04" fill="#3b4cc0"/>
<rect x="66.90" y="206.20" width="13.33" height="12.04" fill="#3c4ec2"/>
<rect x="79.23" y="206.20" width="13.33" height="12.04" fill="#3c4ec2"/>
<rect x="91.56" y="206.20" width="13.33" height="12.04" fill="#3c4ec2"/>
<rect x="103.89" y="206.20" width="13.33" height="12.04" fill="#3f53c6"/>
<rect x="116.22" y="206.20" width="13.33" height="12.04" fill="#3c4ec2"/>
<rect x="128.55" y="206.20" width="13.33" height="12.04" fill="#3e51c5"/>
<rect x="140.88" y="206.20" width="13.33" height="12.04" fill="#3c4ec2"/>
<rect x="153.21" y="206.20" width="13.33" height="12.04" fill="#3c4ec2"/>
<rect x="165.54" y="206.20" width="13.33" height="12.04" fill="#3e51c5"/>
<rect x="177.86" y="206.20" width="13.33" height="12.04" fill="#3f53c6"/>
<rect x="190.19" y="206.20" width="13.33" height="12.04" fill="#3c4ec2"/>
<rect x="202.52" y="206.20" width="13.33" height="12.04" fill="#3c4ec2"/>
<rect x="214.85" y="206.20" width="13.33" height="12.04" fill="#3c4ec2"/>
<rect x="227.18" y="206.20" width="13.33" height="12.04" fill="#3f53c6"/>
<rect x="239.51" y="206.20" width="13.33" height="12.04" fill="#3c4ec2"/>
<rect x="251.84" y="206.20" width="13.33" height="12.04" fill="#3b4cc0"/>
<rect x="264.17" y="206.20" width="13.33" height="12.04" fill="#3c4ec2"/>
<rect x="276.50" y="206.20" width="13.33" height="12.04" fill="#f7b89c"/>
<rect x="288.83" y="206.20" width="13.33" height="12.04" fill="#3c4ec2"/>
<rect x="301.16" y="206.20" width="13.33" height="12.04" fill="#3c4ec2"/>
<rect x="313.49" y="206.20" width="13.33" height="12.04" fill="#3c4ec2"/>
<rect x="325.82" y="206.20" width="13.33" height="12.04" fill="#3c4ec2"/>
<rect x="338.15" y="206.20" width="13.33" height="12.04" fill="#3c4ec2"/>
<rect x="350.48" y="206.20" width="13.33" height="12.04" fill="#3f53c6"/>
<rect x="362.81" y="206.20" width="13.33" height="12.04" fill="#3c4ec2"/>
<rect x="375.14" y="206.20" width="13.33" height="12.04" fill="#3c4ec2"/>
<rect x="387.46" y="206.20" width="13.33" height="12.04" fill="#3c4ec2"/>
<rect x="399.79" y="206.20" width="13.33" height="12.04" fill="#3e51c5"/>
<rect x="412.12" y="206.20" width="13.33" height="12.04" fill="#3c4ec2"/>
<rect x="424.45" y="206.20" width="13.33" height="12.04" fill="#3c4ec2"/>
<rect x="436.78" y="206.20" width="13.33" height="12.04" fill="#3c4ec2"/>
<rect x="449.11" y="206.20" width="13.33" height="12.04" fill="#3b4cc0"/>
<rect x="461.44" y="206.20" width="13.33" height="12.04" fill="#3b4cc0"/>
<rect x="473.77" y="206.20" width="13.33" height="12.04" fill="#3b4cc0"/>
<rect x="66.90" y="217.24" width="13.33" height="12.04" fill="#6788ee"/>
<rect x="79.23" y="217.24" width="13.33" height="12.04" fill="#688aef"/>
<rect x="91.56" y="217.24" width="13.33" height="12.04" fill="#5875e1"/>
<rect x="103.89" y="217.24" width="13.33" height="12.04" fill="#6384eb"/>
<rect x="116.22" y="217.24" width="13.33" height="12.04" fill="#5d7ce6"/>
<rect x="128.55" y="217.24" width="13.33" height="12.04" fill="#5875e1"/>
<rect x="140.88" y="217.24" width="13.33" height="12.04" fill="#6384eb"/>
<rect x="153.21" y="217.24" width="13.33" height="12.04" fill="#5875e1"/>
<rect x="165.54" y="217.24" width="13.33" height="12.04" fill="#5470de"/>
<rect x="177.86" y="217.24" width="13.33" height="12.04" fill="#5a78e4"/>
<rect x="190.19" y="217.24" width="13.33" height="12.04" fill="#5a78e4"/>
<rect x="202.52" y="217.24" width="13.33" height="12.04" fill="#5e7de7"/>
<rect x="214.85" y="217.24" width="13.33" height="12.04" fill="#688aef"/>
<rect x="227.18" y="217.24" width="13.33" height="12.04" fill="#5875e1"/>
<rect x="239.51" y="217.24" width="13.33" height="12.04" fill="#5e7de7"/>
<rect x="251.84" y="217.24" width="13.33" height="12.04" fill="#506bda"/>
<rect x="264.17" y="217.24" width="13.33" height="12.04" fill="#5673e0"/>
<rect x="276.50" y="217.24" width="13.33" height="12.04" fill="#6180e9"/>
<rect x="288.83" y="217.24" width="13.33" height="12.04" fill="#f39778"/>
<rect x="301.16" y="217.24" width="13.33" height="12.04" fill="#506bda"/>
<rect x="313.49" y="217.24" width="13.33" height="12.04" fill="#6180e9"/>
<rect x="325.82" y="217.24" width="13.33" height="12.04" fill="#5470de"/>
<rect x="338.15" y="217.24" width="13.33" height="12.04" fill="#516ddb"/>
<rect x="350.48" y="217.24" width="13.33" height="12.04" fill="#5673e0"/>
<rect x="362.81" y="217.24" width="13.33" height="12.04" fill="#5875e1"/>
<rect x="375.14" y="217.24" width="13.33" height="12.04" fill="#5a78e4"/>
<rect x="387.46" y="217.24" width="13.33" height="12.04" fill="#6788ee"/>
<rect x="399.79" y="217.24" width="13.33" height="12.04" fill="#5673e0"/>
<rect x="412.12" y="217.24" width="13.33" height="12.04" fill="#5470de"/>
<rect x="424.45" y="217.24" width="13.33" height="12.04" fill="#5470de"/>
<rect x="436.78" y="217.24" width="13.33" height="12.04" fill="#5470de"/>
<rect x="449.11" y="217.24" width="13.33" height="12.04" fill="#3b4cc0"/>
<rect x="461.44" y="217.24" width="13.33" height="12.04" fill="#3b4cc0"/>
<rect x="473.77" y="217.24" width="13.33" height="12.04" fill="#3b4cc0"/>
<rect x="66.90" y="228.27" width="13.33" height="3.73" fill="#4b64d5"/>
<rect x="66.90" y="232.00" width="13.10" height="8.00" fill="#5360d5"/>
<rect x="66.90" y="240.00" width="13.10" height="0.31" fill="#5360d5"/>
<rect x="80.00" y="232.00" width="0.23" height="8.00" fill="#4d64d5"/>
<rect x="80.00" y="240.00" width="0.23" height="0.31" fill="#4e63d5"/>
<rect x="79.23" y="228.27" width="13.33" height="3.73" fill="#506bda"/>
<rect x="79.23" y="232.00" width="0.77" height="8.00" fill="#5967da"/>
<rect x="79.23" y="240.00" width="0.77" height="0.31" fill="#5966da"/>
<rect x="80.00" y="232.00" width="12.56" height="8.00" fill="#536ada"/>
<rect x="80.00" y="240.00" width="12.56" height="0.31" fill="#5469da"/>
<rect x="91.56" y="228.27" width="13.33" height="3.73" fill="#4b64d5"/>
<rect x="91.56" y="232.00" width="4.44" height="8.00" fill="#4d64d5"/>
<rect x="91.56" y="240.00" width="4.44" height="0.31" fill="#4e63d5"/>
<rect x="96.00" y="232.00" width="8.89" height="8.00" fill="#4d63d5"/>
<rect x="96.00" y="240.00" width="8.89" height="0.31" fill="#4f63d5"/>
<rect x="103.89" y="228.27" width="13.33" height="3.73" fill="#4e68d8"/>
<rect x="103.89" y="232.00" width="8.11" height="8.00" fill="#5166d8"/>
<rect x="103.89" y="240.00" width="8.11" height="0.31" fill="#5266d8"/>
<rect x="112.00" y="232.00" width="5.22" height="8.00" fill="#4e68d8"/>
<rect x="112.00" y="240.00" width="5.22" height="0.31" fill="#5166d8"/>
<rect x="116.22" y="228.27" width="13.33" height="3.73" fill="#6b8df0"/>
<rect x="116.22" y="232.00" width="11.78" height="8.00" fill="#6f8bf0"/>
<rect x="116.22" y="240.00" width="11.78" height="0.31" fill="#7389f0"/>
<rect x="128.00" y="232.00" width="1.55" height="8.00" fill="#728af0"/>
<rect x="128.00" y="240.00" width="1.55" height="0.31" fill="#7289f0"/>
<rect x="128.55" y="228.27" width="13.33" height="3.73" fill="#9fbfff"/>
<rect x="128.55" y="232.00" width="13.33" height="8.00" fill="#a0beff"/>
<rect x="128.55" y="240.00" width="13.33" height="0.31" fill="#a1beff"/>
<rect x="140.88" y="228.27" width="13.33" height="3.73" fill="#4b64d5"/>
<rect x="140.88" y="232.00" width="3.12" height="8.00" fill="#4d63d5"/>
<rect x="140.88" y="240.00" width="3.12" height="0.31" fill="#4e63d5"/>
<rect x="144.00" y="232.00" width="10.21" height="8.00" fill="#4c64d5"/>
<rect x="144.00" y="240.00" width="10.21" height="0.31" fill="#4e63d5"/>
<rect x="153.21" y="228.27" width="13.33" height="3.73" fill="#6485ec"/>
<rect x="153.21" y="232.00" width="6.79" height="8.00" fill="#6a83ec"/>
<rect x="153.21" y="240.00" width="6.79" height="0.31" fill="#6b82ec"/>
<rect x="160.00" y="232.00" width="6.54" height="8.00" fill="#6a82ec"/>
<rect x="160.00" y="240.00" width="6.54" height="0.31" fill="#6c82ec"/>
<rect x="165.54" y="228.27" width="13.33" height="3.73" fill="#4a63d3"/>
<rect x="165.54" y="232.00" width="10.46" height="8.00" fill="#4b62d3"/>
<rect x="165.54" y="240.00" width="10.46" height="0.31" fill="#4d61d3"/>
<rect x="176.00" y="232.00" width="2.86" height="8.00" fill="#4c62d3"/>
<rect x="176.00" y="240.00" width="2.86" height="0.31" fill="#4c62d3"/>
<rect x="177.86" y="228.27" width="13.33" height="3.73" fill="#4a63d3"/>
<rect x="177.86" y="232.00" width="13.33" height="8.00" fill="#4c62d3"/>
<rect x="177.86" y="240.00" width="13.33" height="0.31" fill="#4c62d3"/>
<rect x="190.19" y="228.27" width="13.33" height="3.73" fill="#5875e1"/>
<rect x="190.19" y="232.00" width="1.81" height="8.00" fill="#5c73e1"/>
<rect x="190.19" y="240.00" width="1.81" height="0.31" fill="#5c73e1"/>
<rect x="192.00" y="232.00" width="11.52" height="8.00" fill="#5b73e1"/>
<rect x="192.00" y="240.00" width="11.52" height="0.31" fill="#5d72e1"/>
<rect x="202.52" y="228.27" width="13.33" height="3.73" fill="#4b64d5"/>
<rect x="202.52" y="232.00" width="5.48" height="8.00" fill="#4c64d5"/>
<rect x="202.52" y="240.00" width="5.48" height="0.31" fill="#4e63d5"/>
<rect x="208.00" y="232.00" width="7.85" height="8.00" fill="#4e63d5"/>
<rect x="208.00" y="240.00" width="7.85" height="0.31" fill="#4e63d5"/>
<rect x="214.85" y="228.27" width="13.33" height="3.73" fill="#4b64d5"/>
<rect x="214.85" y="232.00" width="9.15" height="8.00" fill="#4e63d5"/>
<rect x="214.85" y="240.00" width="9.15" height="0.31" fill="#4e63d5"/>
<rect x="224.00" y="232.00" width="4.18" height="8.00" fill="#4c64d5"/>
<rect x="224.00" y="240.00" width="4.18" height="0.31" fill="#4b64d5"/>
<rect x="227.18" y="228.27" width="13.33" height="3.73" fill="#516ddb"/>
<rect x="227.18" y="232.00" width="12.82" height="8.00" fill="#546cdb"/>
<rect x="227.18" y="240.00" width="12.82" height="0.31" fill="#536cdb"/>
<rect x="240.00" y="232.00" width="0.51" height="8.00" fill="#566adb"/>
<rect x="240.00" y="240.00" width="0.51" height="0.31" fill="#576adb"/>
<rect x="239.51" y="228.27" width="13.33" height="3.73" fill="#485fd1"/>
<rect x="239.51" y="232.00" width="0.49" height="8.00" fill="#475fd1"/>
<rect x="239.51" y="240.00" width="0.49" height="0.31" fill="#4760d1"/>
<rect x="240.00" y="232.00" width="12.84" height="8.00" fill="#4a5ed1"/>
<rect x="240.00" y="240.00" width="12.84" height="0.31" fill="#4b5ed1"/>
<rect x="251.84" y="228.27" width="13.33" height="3.73" fill="#455cce"/>
<rect x="251.84" y="232.00" width="4.16" height="8.00" fill="#475bce"/>
<rect x="251.84" y="240.00" width="4.16" height="0.31" fill="#485ace"/>
<rect x="256.00" y="232.00" width="9.17" height="8.00" fill="#475bce"/>
<rect x="256.00" y="240.00" width="9.17" height="0.31" fill="#485ace"/>
<rect x="264.17" y="228.27" width="13.33" height="3.73" fill="#4a63d3"/>
<rect x="264.17" y="232.00" width="7.83" height="8.00" fill="#4d61d3"/>
<rect x="264.17" y="240.00" width="7.83" height="0.31" fill="#4e61d3"/>
<rect x="272.00" y="232.00" width="5.50" height="8.00" fill="#4c62d3"/>
<rect x="272.00" y="240.00" width="5.50" height="0.31" fill="#4d61d3"/>
<rect x="276.50" y="228.27" width="13.33" height="3.73" fill="#4e68d8"/>
<rect x="276.50" y="232.00" width="11.50" height="8.00" fill="#5166d8"/>
<rect x="276.50" y="240.00" width="11.50" height="0.31" fill="#5266d8"/>
<rect x="288.00" y="232.00" width="1.83" height="8.00" fill="#605ed8"/>
<rect x="288.00" y="240.00" width="1.83" height="0.31" fill="#5166d8"/>
<rect x="288.83" y="228.27" width="13.33" height="3.73" fill="#688aef"/>
<rect x="288.83" y="232.00" width="13.33" height="8.00" fill="#7f7fef"/>
<rect x="288.83" y="240.00" width="13.33" height="0.31" fill="#7086ef"/>
<rect x="301.16" y="228.27" width="13.33" height="3.73" fill="#e0654f"/>
<rect x="301.16" y="232.00" width="2.84" height="8.00" fill="#7a984f"/>
<rect x="301.16" y="240.00" width="2.84" height="0.31" fill="#6ba04f"/>
<rect x="304.00" y="232.00" width="10.49" height="8.00" fill="#a9814f"/>
<rect x="304.00" y="240.00" width="10.49" height="0.31" fill="#8d8f4f"/>
<rect x="313.49" y="228.27" width="13.33" height="3.73" fill="#4b64d5"/>
<rect x="313.49" y="232.00" width="6.51" height="8.00" fill="#8b44d5"/>
<rect x="313.49" y="240.00" width="6.51" height="0.31" fill="#6f52d5"/>
<rect x="320.00" y="232.00" width="6.82" height="8.00" fill="#4f62d5"/>
<rect x="320.00" y="240.00" width="6.82" height="0.31" fill="#6b54d5"/>
<rect x="325.82" y="228.27" width="13.33" height="3.73" fill="#5e7de7"/>
<rect x="325.82" y="232.00" width="10.18" height="8.00" fill="#6579e7"/>
<rect x="325.82" y="240.00" width="10.18" height="0.31" fill="#816be7"/>
<rect x="336.00" y="232.00" width="3.15" height="8.00" fill="#647ae7"/>
<rect x="336.00" y="240.00" width="3.15" height="0.31" fill="#647ae7"/>
<rect x="338.15" y="228.27" width="13.33" height="3.73" fill="#485fd1"/>
<rect x="338.15" y="232.00" width="13.33" height="8.00" fill="#495fd1"/>
<rect x="338.15" y="240.00" width="13.33" height="0.31" fill="#495fd1"/>
<rect x="350.48" y="228.27" width="13.33" height="3.73" fill="#4a63d3"/>
<rect x="350.48" y="232.00" width="1.52" height="8.00" fill="#4c62d3"/>
<rect x="350.48" y="240.00" width="1.52" height="0.31" fill="#4c62d3"/>
<rect x="352.00" y="232.00" width="11.81" height="8.00" fill="#4c62d3"/>
<rect x="352.00" y="240.00" width="11.81" height="0.31" fill="#4c61d3"/>
<rect x="362.81" y="228.27" width="13.33" height="3.73" fill="#5673e0"/>
<rect x="362.81" y="232.00" width="5.19" height="8.00" fill="#5b71e0"/>
<rect x="362.81" y="240.00" width="5.19" height="0.31" fill="#5b71e0"/>
<rect x="368.00" y="232.00" width="8.14" height="8.00" fill="#5a71e0"/>
<rect x="368.00" y="240.00" width="8.14" height="0.31" fill="#5c71e0"/>
<rect x="375.14" y="228.27" width="13.33" height="3.73" fill="#4a63d3"/>
<rect x="375.14" y="232.00" width="8.86" height="8.00" fill="#4b62d3"/>
<rect x="375.14" y="240.00" width="8.86" height="0.31" fill="#4d61d3"/>
<rect x="384.00" y="232.00" width="4.46" height="8.00" fill="#4c61d3"/>
<rect x="384.00" y="240.00" width="4.46" height="0.31" fill="#4c61d3"/>
<rect x="387.46" y="228.27" width="13.33" height="3.73" fill="#4a63d3"/>
<rect x="387.46" y="232.00" width="12.54" height="8.00" fill="#4c61d3"/>
<rect x="387.46" y="240.00" width="12.54" height="0.31" fill="#4c61d3"/>
<rect x="400.00" y="232.00" width="0.79" height="8.00" fill="#4b62d3"/>
<rect x="400.00" y="240.00" width="0.79" height="0.31" fill="#4a62d3"/>
<rect x="399.79" y="228.27" width="13.33" height="3.73" fill="#506bda"/>
<rect x="399.79" y="232.00" width="0.21" height="8.00" fill="#5469da"/>
<rect x="399.79" y="240.00" width="0.21" height="0.31" fill="#5469da"/>
<rect x="400.00" y="232.00" width="13.12" height="8.00" fill="#536ada"/>
<rect x="400.00" y="240.00" width="13.12" height="0.31" fill="#526ada"/>
<rect x="412.12" y="228.27" width="13.33" height="3.73" fill="#485fd1"/>
<rect x="412.12" y="232.00" width="3.88" height="8.00" fill="#485fd1"/>
<rect x="412.12" y="240.00" width="3.88" height="0.31" fill="#475fd1"/>
<rect x="416.00" y="232.00" width="9.45" height="8.00" fill="#4a5ed1"/>
<rect x="416.00" y="240.00" width="9.45" height="0.31" fill="#495ed1"/>
<rect x="424.45" y="228.27" width="13.33" height="3.73" fill="#485fd1"/>
<rect x="424.45" y="232.00" width="7.55" height="8.00" fill="#4a5ed1"/>
<rect x="424.45" y="240.00" width="7.55" height="0.31" fill="#495ed1"/>
<rect x="432.00" y="232.00" width="5.78" height="8.00" fill="#4a5ed1"/>
<rect x="432.00" y="240.00" width="5.78" height="0.31" fill="#495ed1"/>
<rect x="436.78" y="228.27" width="13.33" height="3.73" fill="#485fd1"/>
<rect x="436.78" y="232.00" width="11.22" height="8.00" fill="#4a5ed1"/>
<rect x="436.78" y="240.00" width="11.22" height="0.31" fill="#495ed1"/>
<rect x="448.00" y="232.00" width="2.11" height="8.00" fill="#4e5cd1"/>
<rect x="448.00" y="240.00" width="2.11" height="0.31" fill="#4d5cd1"/>
<rect x="449.11" y="228.27" width="13.33" height="3.73" fill="#3b4cc0"/>
<rect x="449.11" y="232.00" width="13.33" height="8.00" fill="#3d4bc0"/>
<rect x="449.11" y="240.00" width="13.33" height="0.31" fill="#3d4bc0"/>
<rect x="461.44" y="228.27" width="13.33" height="3.73" fill="#3b4cc0"/>
<rect x="461.44" y="232.00" width="2.56" height="8.00" fill="#3d4bc0"/>
<rect x="461.44" y="240.00" width="2.56" height="0.31" fill="#3d4bc0"/>
<rect x="464.00" y="232.00" width="10.77" height="8.00" fill="#3d4bc0"/>
<rect x="464.00" y="240.00" width="10.77" height="0.31" fill="#3d4bc0"/>
<rect x="473.77" y="228.27" width="13.33" height="3.73" fill="#3b4cc0"/>
<rect x="473.77" y="232.00" width="6.23" height="8.00" fill="#3d4bc0"/>
<rect x="473.77" y="240.00" width="6.23" height="0.31" fill="#3d4bc0"/>
<rect x="480.00" y="232.00" width="7.10" height="8.00" fill="#4b44c0"/>
<rect x="480.00" y="240.00" width="7.10" height="0.31" fill="#4b44c0"/>
<rect x="66.90" y="239.31" width="13.10" height="0.69" fill="#515fd3"/>
<rect x="66.90" y="240.00" width="13.10" height="8.00" fill="#525fd3"/>
<rect x="66.90" y="248.00" width="13.10" height="3.34" fill="#525fd3"/>
<rect x="80.00" y="239.31" width="0.23" height="0.69" fill="#4b62d3"/>
<rect x="80.00" y="240.00" width="0.23" height="8.00" fill="#4d61d3"/>
<rect x="80.00" y="248.00" width="0.23" height="3.34" fill="#4d61d3"/>
<rect x="79.23" y="239.31" width="0.77" height="0.69" fill="#4e5cd1"/>
<rect x="79.23" y="240.00" width="0.77" height="8.00" fill="#4f5cd1"/>
<rect x="79.23" y="248.00" width="0.77" height="3.34" fill="#4f5cd1"/>
<rect x="80.00" y="239.31" width="12.56" height="0.69" fill="#485fd1"/>
<rect x="80.00" y="240.00" width="12.56" height="8.00" fill="#4a5ed1"/>
<rect x="80.00" y="248.00" width="12.56" height="3.34" fill="#495ed1"/>
<rect x="91.56" y="239.31" width="4.44" height="0.69" fill="#4d64d5"/>
<rect x="91.56" y="240.00" width="4.44" height="8.00" fill="#4e63d5"/>
<rect x="91.56" y="248.00" width="4.44" height="3.34" fill="#4e63d5"/>
<rect x="96.00" y="239.31" width="8.89" height="0.69" fill="#4d63d5"/>
<rect x="96.00" y="240.00" width="8.89" height="8.00" fill="#4f63d5"/>
<rect x="96.00" y="248.00" width="8.89" height="3.34" fill="#4e63d5"/>
<rect x="103.89" y="239.31" width="8.11" height="0.69" fill="#495fd1"/>
<rect x="103.89" y="240.00" width="8.11" height="8.00" fill="#4a5ed1"/>
<rect x="103.89" y="248.00" width="8.11" height="3.34" fill="#495ed1"/>
<rect x="112.00" y="239.31" width="5.22" height="0.69" fill="#4660d1"/>
<rect x="112.00" y="240.00" width="5.22" height="8.00" fill="#4a5ed1"/>
<rect x="112.00" y="248.00" width="5.22" height="3.34" fill="#495ed1"/>
<rect x="116.22" y="239.31" width="11.78" height="0.69" fill="#4963d3"/>
<rect x="116.22" y="240.00" width="11.78" height="8.00" fill="#4d61d3"/>
<rect x="116.22" y="248.00" width="11.78" height="3.34" fill="#4c62d3"/>
<rect x="128.00" y="239.31" width="1.55" height="0.69" fill="#4c62d3"/>
<rect x="128.00" y="240.00" width="1.55" height="8.00" fill="#4c62d3"/>
<rect x="128.00" y="248.00" width="1.55" height="3.34" fill="#4c62d3"/>
<rect x="128.55" y="239.31" width="13.33" height="0.69" fill="#4d63d5"/>
<rect x="128.55" y="240.00" width="13.33" height="8.00" fill="#4e63d5"/>
<rect x="128.55" y="248.00" width="13.33" height="3.34" fill="#4d63d5"/>
<rect x="140.88" y="239.31" width="3.12" height="0.69" fill="#4c62d3"/>
<rect x="140.88" y="240.00" width="3.12" height="8.00" fill="#4c62d3"/>
<rect x="140.88" y="248.00" width="3.12" height="3.34" fill="#4c62d3"/>
<rect x="144.00" y="239.31" width="10.21" height="0.69" fill="#4b62d3"/>
<rect x="144.00" y="240.00" width="10.21" height="8.00" fill="#4c61d3"/>
<rect x="144.00" y="248.00" width="10.21" height="3.34" fill="#4b62d3"/>
<rect x="153.21" y="239.31" width="6.79" height="0.69" fill="#4c64d5"/>
<rect x="153.21" y="240.00" width="6.79" height="8.00" fill="#4e63d5"/>
<rect x="153.21" y="248.00" width="6.79" height="3.34" fill="#4c64d5"/>
<rect x="160.00" y="239.31" width="6.54" height="0.69" fill="#4d64d5"/>
<rect x="160.00" y="240.00" width="6.54" height="8.00" fill="#4e63d5"/>
<rect x="160.00" y="248.00" width="6.54" height="3.34" fill="#4c64d5"/>
<rect x="165.54" y="239.31" width="10.46" height="0.69" fill="#4d64d5"/>
<rect x="165.54" y="240.00" width="10.46" height="8.00" fill="#4e63d5"/>
<rect x="165.54" y="248.00" width="10.46" height="3.34" fill="#4c64d5"/>
<rect x="176.00" y="239.31" width="2.86" height="0.69" fill="#4d63d5"/>
<rect x="176.00" y="240.00" width="2.86" height="8.00" fill="#4d63d5"/>
<rect x="176.00" y="248.00" width="2.86" height="3.34" fill="#4d63d5"/>
<rect x="177.86" y="239.31" width="13.33" height="0.69" fill="#4d63d5"/>
<rect x="177.86" y="240.00" width="13.33" height="8.00" fill="#4d63d5"/>
<rect x="177.86" y="248.00" width="13.33" height="3.34" fill="#4d63d5"/>
<rect x="190.19" y="239.31" width="1.81" height="0.69" fill="#4d63d5"/>
<rect x="190.19" y="240.00" width="1.81" height="8.00" fill="#4d63d5"/>
<rect x="190.19" y="248.00" width="1.81" height="3.34" fill="#4d63d5"/>
<rect x="192.00" y="239.31" width="11.52" height="0.69" fill="#4c64d5"/>
<rect x="192.00" y="240.00" width="11.52" height="8.00" fill="#4e63d5"/>
<rect x="192.00" y="248.00" width="11.52" height="3.34" fill="#4d64d5"/>
<rect x="202.52" y="239.31" width="5.48" height="0.69" fill="#5067d8"/>
<rect x="202.52" y="240.00" width="5.48" height="8.00" fill="#5166d8"/>
<rect x="202.52" y="248.00" width="5.48" height="3.34" fill="#5067d8"/>
<rect x="208.00" y="239.31" width="7.85" height="0.69" fill="#5166d8"/>
<rect x="208.00" y="240.00" width="7.85" height="8.00" fill="#5166d8"/>
<rect x="208.00" y="248.00" width="7.85" height="3.34" fill="#5166d8"/>
<rect x="214.85" y="239.31" width="9.15" height="0.69" fill="#4e63d5"/>
<rect x="214.85" y="240.00" width="9.15" height="8.00" fill="#4e63d5"/>
<rect x="214.85" y="248.00" width="9.15" height="3.34" fill="#4e63d5"/>
<rect x="224.00" y="239.31" width="4.18" height="0.69" fill="#4c64d5"/>
<rect x="224.00" y="240.00" width="4.18" height="8.00" fill="#4b64d5"/>
<rect x="224.00" y="248.00" width="4.18" height="3.34" fill="#4c64d5"/>
<rect x="227.18" y="239.31" width="12.82" height="0.69" fill="#5e76e4"/>
<rect x="227.18" y="240.00" width="12.82" height="8.00" fill="#5d77e4"/>
<rect x="227.18" y="248.00" width="12.82" height="3.34" fill="#5e76e4"/>
<rect x="240.00" y="239.31" width="0.51" height="0.69" fill="#6175e4"/>
<rect x="240.00" y="240.00" width="0.51" height="8.00" fill="#6175e4"/>
<rect x="240.00" y="248.00" width="0.51" height="3.34" fill="#6175e4"/>
<rect x="239.51" y="239.31" width="0.49" height="0.69" fill="#445cce"/>
<rect x="239.51" y="240.00" width="0.49" height="8.00" fill="#445cce"/>
<rect x="239.51" y="248.00" width="0.49" height="3.34" fill="#455cce"/>
<rect x="240.00" y="239.31" width="12.84" height="0.69" fill="#475bce"/>
<rect x="240.00" y="240.00" width="12.84" height="8.00" fill="#485ace"/>
<rect x="240.00" y="248.00" width="12.84" height="3.34" fill="#485bce"/>
<rect x="251.84" y="239.31" width="4.16" height="0.69" fill="#4053c6"/>
<rect x="251.84" y="240.00" width="4.16" height="8.00" fill="#4053c6"/>
<rect x="251.84" y="248.00" width="4.16" height="3.34" fill="#4053c6"/>
<rect x="256.00" y="239.31" width="9.17" height="0.69" fill="#3f53c6"/>
<rect x="256.00" y="240.00" width="9.17" height="8.00" fill="#4053c6"/>
<rect x="256.00" y="248.00" width="9.17" height="3.34" fill="#3f53c6"/>
<rect x="264.17" y="239.31" width="7.83" height="0.69" fill="#4d61d3"/>
<rect x="264.17" y="240.00" width="7.83" height="8.00" fill="#4e61d3"/>
<rect x="264.17" y="248.00" width="7.83" height="3.34" fill="#4d61d3"/>
<rect x="272.00" y="239.31" width="5.50" height="0.69" fill="#4c62d3"/>
<rect x="272.00" y="240.00" width="5.50" height="8.00" fill="#4d61d3"/>
<rect x="272.00" y="248.00" width="5.50" height="3.34" fill="#4c61d3"/>
<rect x="276.50" y="239.31" width="11.50" height="0.69" fill="#495ed1"/>
<rect x="276.50" y="240.00" width="11.50" height="8.00" fill="#4a5ed1"/>
<rect x="276.50" y="248.00" width="11.50" height="3.34" fill="#495ed1"/>
<rect x="288.00" y="239.31" width="1.83" height="0.69" fill="#5857d1"/>
<rect x="288.00" y="240.00" width="1.83" height="8.00" fill="#495ed1"/>
<rect x="288.00" y="248.00" width="1.83" height="3.34" fill="#495fd1"/>
<rect x="288.83" y="239.31" width="13.33" height="0.69" fill="#5b5ad3"/>
<rect x="288.83" y="240.00" width="13.33" height="8.00" fill="#4c61d3"/>
<rect x="288.83" y="248.00" width="13.33" height="3.34" fill="#4c62d3"/>
<rect x="301.16" y="239.31" width="2.84" height="0.69" fill="#5554ce"/>
<rect x="301.16" y="240.00" width="2.84" height="8.00" fill="#465bce"/>
<rect x="301.16" y="248.00" width="2.84" height="3.34" fill="#465bce"/>
<rect x="304.00" y="239.31" width="10.49" height="0.69" fill="#843cce"/>
<rect x="304.00" y="240.00" width="10.49" height="8.00" fill="#684ace"/>
<rect x="304.00" y="248.00" width="10.49" height="3.34" fill="#5156ce"/>
<rect x="313.49" y="239.31" width="6.51" height="0.69" fill="#e1b890"/>
<rect x="313.49" y="240.00" width="6.51" height="8.00" fill="#c6c690"/>
<rect x="313.49" y="248.00" width="6.51" height="3.34" fill="#afd290"/>
<rect x="320.00" y="239.31" width="6.82" height="0.69" fill="#a5d790"/>
<rect x="320.00" y="240.00" width="6.82" height="8.00" fill="#c1c990"/>
<rect x="320.00" y="248.00" width="6.82" height="3.34" fill="#d5bf90"/>
<rect x="325.82" y="239.31" width="10.18" height="0.69" fill="#4e61d3"/>
<rect x="325.82" y="240.00" width="10.18" height="8.00" fill="#6953d3"/>
<rect x="325.82" y="248.00" width="10.18" height="3.34" fill="#7d49d3"/>
<rect x="336.00" y="239.31" width="3.15" height="0.69" fill="#4c62d3"/>
<rect x="336.00" y="240.00" width="3.15" height="8.00" fill="#4c62d3"/>
<rect x="336.00" y="248.00" width="3.15" height="3.34" fill="#545dd3"/>
<rect x="338.15" y="239.31" width="13.33" height="0.69" fill="#4c62d3"/>
<rect x="338.15" y="240.00" width="13.33" height="8.00" fill="#4c62d3"/>
<rect x="338.15" y="248.00" width="13.33" height="3.34" fill="#545dd3"/>
<rect x="350.48" y="239.31" width="1.52" height="0.69" fill="#4d63d5"/>
<rect x="350.48" y="240.00" width="1.52" height="8.00" fill="#4d63d5"/>
<rect x="350.48" y="248.00" width="1.52" height="3.34" fill="#565fd5"/>
<rect x="352.00" y="239.31" width="11.81" height="0.69" fill="#4d63d5"/>
<rect x="352.00" y="240.00" width="11.81" height="8.00" fill="#4e63d5"/>
<rect x="352.00" y="248.00" width="11.81" height="3.34" fill="#4d63d5"/>
<rect x="362.81" y="239.31" width="5.19" height="0.69" fill="#4c62d3"/>
<rect x="362.81" y="240.00" width="5.19" height="8.00" fill="#4c61d3"/>
<rect x="362.81" y="248.00" width="5.19" height="3.34" fill="#4c62d3"/>
<rect x="368.00" y="239.31" width="8.14" height="0.69" fill="#4b62d3"/>
<rect x="368.00" y="240.00" width="8.14" height="8.00" fill="#4d61d3"/>
<rect x="368.00" y="248.00" width="8.14" height="3.34" fill="#4c62d3"/>
<rect x="375.14" y="239.31" width="8.86" height="0.69" fill="#4d63d5"/>
<rect x="375.14" y="240.00" width="8.86" height="8.00" fill="#4e63d5"/>
<rect x="375.14" y="248.00" width="8.86" height="3.34" fill="#4d63d5"/>
<rect x="384.00" y="239.31" width="4.46" height="0.69" fill="#4e63d5"/>
<rect x="384.00" y="240.00" width="4.46" height="8.00" fill="#4e63d5"/>
<rect x="384.00" y="248.00" width="4.46" height="3.34" fill="#4e63d5"/>
<rect x="387.46" y="239.31" width="12.54" height="0.69" fill="#4c61d3"/>
<rect x="387.46" y="240.00" width="12.54" height="8.00" fill="#4c61d3"/>
<rect x="387.46" y="248.00" width="12.54" height="3.34" fill="#4c62d3"/>
<rect x="400.00" y="239.31" width="0.79" height="0.69" fill="#4b62d3"/>
<rect x="400.00" y="240.00" width="0.79" height="8.00" fill="#4a62d3"/>
<rect x="400.00" y="248.00" width="0.79" height="3.34" fill="#4b62d3"/>
<rect x="399.79" y="239.31" width="0.21" height="0.69" fill="#5b71e0"/>
<rect x="399.79" y="240.00" width="0.21" height="8.00" fill="#5b71e0"/>
<rect x="399.79" y="248.00" width="0.21" height="3.34" fill="#5b71e0"/>
<rect x="400.00" y="239.31" width="13.12" height="0.69" fill="#5a71e0"/>
<rect x="400.00" y="240.00" width="13.12" height="8.00" fill="#5972e0"/>
<rect x="400.00" y="248.00" width="13.12" height="3.34" fill="#5a71e0"/>
<rect x="412.12" y="239.31" width="3.88" height="0.69" fill="#4d64d5"/>
<rect x="412.12" y="240.00" width="3.88" height="8.00" fill="#4c64d5"/>
<rect x="412.12" y="248.00" width="3.88" height="3.34" fill="#4d63d5"/>
<rect x="416.00" y="239.31" width="9.45" height="0.69" fill="#4f63d5"/>
<rect x="416.00" y="240.00" width="9.45" height="8.00" fill="#4e63d5"/>
<rect x="416.00" y="248.00" width="9.45" height="3.34" fill="#4e63d5"/>
<rect x="424.45" y="239.31" width="7.55" height="0.69" fill="#4f63d5"/>
<rect x="424.45" y="240.00" width="7.55" height="8.00" fill="#4e63d5"/>
<rect x="424.45" y="248.00" width="7.55" height="3.34" fill="#4e63d5"/>
<rect x="432.00" y="239.31" width="5.78" height="0.69" fill="#4f63d5"/>
<rect x="432.00" y="240.00" width="5.78" height="8.00" fill="#4e63d5"/>
<rect x="432.00" y="248.00" width="5.78" height="3.34" fill="#4e63d5"/>
<rect x="436.78" y="239.31" width="11.22" height="0.69" fill="#4f63d5"/>
<rect x="436.78" y="240.00" width="11.22" height="8.00" fill="#4e63d5"/>
<rect x="436.78" y="248.00" width="11.22" height="3.34" fill="#4e63d5"/>
<rect x="448.00" y="239.31" width="2.11" height="0.69" fill="#5261d5"/>
<rect x="448.00" y="240.00" width="2.11" height="8.00" fill="#5261d5"/>
<rect x="448.00" y="248.00" width="2.11" height="3.34" fill="#5161d5"/>
<rect x="449.11" y="239.31" width="13.33" height="0.69" fill="#3d4bc0"/>
<rect x="449.11" y="240.00" width="13.33" height="8.00" fill="#3d4bc0"/>
<rect x="449.11" y="248.00" width="13.33" height="3.34" fill="#3c4bc0"/>
<rect x="461.44" y="239.31" width="2.56" height="0.69" fill="#3d4bc0"/>
<rect x="461.44" y="240.00" width="2.56" height="8.00" fill="#3d4bc0"/>
<rect x="461.44" y="248.00" width="2.56" height="3.34" fill="#3c4bc0"/>
<rect x="464.00" y="239.31" width="10.77" height="0.69" fill="#3d4bc0"/>
<rect x="464.00" y="240.00" width="10.77" height="8.00" fill="#3d4bc0"/>
<rect x="464.00" y="248.00" width="10.77" height="3.34" fill="#3c4bc0"/>
<rect x="473.77" y="239.31" width="6.23" height="0.69" fill="#3d4bc0"/>
<rect x="473.77" y="240.00" width="6.23" height="8.00" fill="#3d4bc0"/>
<rect x="473.77" y="248.00" width="6.23" height="3.34" fill="#3c4bc0"/>
<rect x="480.00" y="239.31" width="7.10" height="0.69" fill="#4b44c0"/>
<rect x="480.00" y="240.00" width="7.10" height="8.00" fill="#4b44c0"/>
<rect x="480.00" y="248.00" width="7.10" height="3.34" fill="#4b44c0"/>
<rect x="66.90" y="250.34" width="13.10" height="5.66" fill="#4a57cc"/>
<rect x="66.90" y="256.00" width="13.10" height="6.38" fill="#4a57cc"/>
<rect x="80.00" y="250.34" width="0.23" height="5.66" fill="#455acc"/>
<rect x="80.00" y="256.00" width="0.23" height="6.38" fill="#445acc"/>
<rect x="79.23" y="250.34" width="0.77" height="5.66" fill="#4a57cc"/>
<rect x="79.23" y="256.00" width="0.77" height="6.38" fill="#4a57cc"/>
<rect x="80.00" y="250.34" width="12.56" height="5.66" fill="#455acc"/>
<rect x="80.00" y="256.00" width="12.56" height="6.38" fill="#445acc"/>
<rect x="91.56" y="250.34" width="4.44" height="5.66" fill="#4d61d3"/>
<rect x="91.56" y="256.00" width="4.44" height="6.38" fill="#4c62d3"/>
<rect x="96.00" y="250.34" width="8.89" height="5.66" fill="#4c62d3"/>
<rect x="96.00" y="256.00" width="8.89" height="6.38" fill="#4b62d3"/>
<rect x="103.89" y="250.34" width="8.11" height="5.66" fill="#465bce"/>
<rect x="103.89" y="256.00" width="8.11" height="6.38" fill="#455cce"/>
<rect x="112.00" y="250.34" width="5.22" height="5.66" fill="#465bce"/>
<rect x="112.00" y="256.00" width="5.22" height="6.38" fill="#455cce"/>
<rect x="116.22" y="250.34" width="11.78" height="5.66" fill="#495ed1"/>
<rect x="116.22" y="256.00" width="11.78" height="6.38" fill="#485fd1"/>
<rect x="128.00" y="250.34" width="1.55" height="5.66" fill="#495fd1"/>
<rect x="128.00" y="256.00" width="1.55" height="6.38" fill="#485fd1"/>
<rect x="128.55" y="250.34" width="13.33" height="5.66" fill="#495fd1"/>
<rect x="128.55" y="256.00" width="13.33" height="6.38" fill="#485fd1"/>
<rect x="140.88" y="250.34" width="3.12" height="5.66" fill="#495fd1"/>
<rect x="140.88" y="256.00" width="3.12" height="6.38" fill="#485fd1"/>
<rect x="144.00" y="250.34" width="10.21" height="5.66" fill="#485fd1"/>
<rect x="144.00" y="256.00" width="10.21" height="6.38" fill="#475fd1"/>
<rect x="153.21" y="250.34" width="6.79" height="5.66" fill="#6179e6"/>
<rect x="153.21" y="256.00" width="6.79" height="6.38" fill="#617ae6"/>
<rect x="160.00" y="250.34" width="6.54" height="5.66" fill="#6179e6"/>
<rect x="160.00" y="256.00" width="6.54" height="6.38" fill="#5f7ae6"/>
<rect x="165.54" y="250.34" width="10.46" height="5.66" fill="#4c64d5"/>
<rect x="165.54" y="256.00" width="10.46" height="6.38" fill="#4b65d5"/>
<rect x="176.00" y="250.34" width="2.86" height="5.66" fill="#4d63d5"/>
<rect x="176.00" y="256.00" width="2.86" height="6.38" fill="#4d64d5"/>
<rect x="177.86" y="250.34" width="13.33" height="5.66" fill="#455cce"/>
<rect x="177.86" y="256.00" width="13.33" height="6.38" fill="#455cce"/>
<rect x="190.19" y="250.34" width="1.81" height="5.66" fill="#5067d8"/>
<rect x="190.19" y="256.00" width="1.81" height="6.38" fill="#5067d8"/>
<rect x="192.00" y="250.34" width="11.52" height="5.66" fill="#5067d8"/>
<rect x="192.00" y="256.00" width="11.52" height="6.38" fill="#4f67d8"/>
<rect x="202.52" y="250.34" width="5.48" height="5.66" fill="#485fd1"/>
<rect x="202.52" y="256.00" width="5.48" height="6.38" fill="#485fd1"/>
<rect x="208.00" y="250.34" width="7.85" height="5.66" fill="#495ed1"/>
<rect x="208.00" y="256.00" width="7.85" height="6.38" fill="#495fd1"/>
<rect x="214.85" y="250.34" width="9.15" height="5.66" fill="#465bce"/>
<rect x="214.85" y="256.00" width="9.15" height="6.38" fill="#465cce"/>
<rect x="224.00" y="250.34" width="4.18" height="5.66" fill="#455cce"/>
<rect x="224.00" y="256.00" width="4.18" height="6.38" fill="#455cce"/>
<rect x="227.18" y="250.34" width="12.82" height="5.66" fill="#4b62d3"/>
<rect x="227.18" y="256.00" width="12.82" height="6.38" fill="#4b62d3"/>
<rect x="240.00" y="250.34" width="0.51" height="5.66" fill="#4e61d3"/>
<rect x="240.00" y="256.00" width="0.51" height="6.38" fill="#4d61d3"/>
<rect x="239.51" y="250.34" width="0.49" height="5.66" fill="#4057c9"/>
<rect x="239.51" y="256.00" width="0.49" height="6.38" fill="#4057c9"/>
<rect x="240.00" y="250.34" width="12.84" height="5.66" fill="#4356c9"/>
<rect x="240.00" y="256.00" width="12.84" height="6.38" fill="#4256c9"/>
<rect x="251.84" y="250.34" width="4.16" height="5.66" fill="#4053c6"/>
<rect x="251.84" y="256.00" width="4.16" height="6.38" fill="#3f53c6"/>
<rect x="256.00" y="250.34" width="9.17" height="5.66" fill="#3f53c6"/>
<rect x="256.00" y="256.00" width="9.17" height="6.38" fill="#3f53c6"/>
<rect x="264.17" y="250.34" width="7.83" height="5.66" fill="#4d61d3"/>
<rect x="264.17" y="256.00" width="7.83" height="6.38" fill="#4d61d3"/>
<rect x="272.00" y="250.34" width="5.50" height="5.66" fill="#4c61d3"/>
<rect x="272.00" y="256.00" width="5.50" height="6.38" fill="#4c62d3"/>
<rect x="276.50" y="250.34" width="11.50" height="5.66" fill="#465bce"/>
<rect x="276.50" y="256.00" width="11.50" height="6.38" fill="#455cce"/>
<rect x="288.00" y="250.34" width="1.83" height="5.66" fill="#465bce"/>
<rect x="288.00" y="256.00" width="1.83" height="6.38" fill="#455cce"/>
<rect x="288.83" y="250.34" width="13.33" height="5.66" fill="#495fd1"/>
<rect x="288.83" y="256.00" width="13.33" height="6.38" fill="#485fd1"/>
<rect x="301.16" y="250.34" width="2.84" height="5.66" fill="#445acc"/>
<rect x="301.16" y="256.00" width="2.84" height="6.38" fill="#445acc"/>
<rect x="304.00" y="250.34" width="10.49" height="5.66" fill="#4f54cc"/>
<rect x="304.00" y="256.00" width="10.49" height="6.38" fill="#455acc"/>
<rect x="313.49" y="250.34" width="6.51" height="5.66" fill="#5459d1"/>
<rect x="313.49" y="256.00" width="6.51" height="6.38" fill="#495ed1"/>
<rect x="320.00" y="250.34" width="6.82" height="5.66" fill="#7a45d1"/>
<rect x="320.00" y="256.00" width="6.82" height="6.38" fill="#6f4bd1"/>
<rect x="325.82" y="250.34" width="10.18" height="5.66" fill="#c9b47e"/>
<rect x="325.82" y="256.00" width="10.18" height="6.38" fill="#beb97e"/>
<rect x="336.00" y="250.34" width="3.15" height="5.66" fill="#a0c87e"/>
<rect x="336.00" y="256.00" width="3.15" height="6.38" fill="#b7bc7e"/>
<rect x="338.15" y="250.34" width="13.33" height="5.66" fill="#545dd3"/>
<rect x="338.15" y="256.00" width="13.33" height="6.38" fill="#6c51d3"/>
<rect x="350.48" y="250.34" width="1.52" height="5.66" fill="#4e57ce"/>
<rect x="350.48" y="256.00" width="1.52" height="6.38" fill="#664bce"/>
<rect x="352.00" y="250.34" width="11.81" height="5.66" fill="#465bce"/>
<rect x="352.00" y="256.00" width="11.81" height="6.38" fill="#455cce"/>
<rect x="362.81" y="250.34" width="5.19" height="5.66" fill="#4d63d5"/>
<rect x="362.81" y="256.00" width="5.19" height="6.38" fill="#4d63d5"/>
<rect x="368.00" y="250.34" width="8.14" height="5.66" fill="#4d63d5"/>
<rect x="368.00" y="256.00" width="8.14" height="6.38" fill="#4d64d5"/>
<rect x="375.14" y="250.34" width="8.86" height="5.66" fill="#495fd1"/>
<rect x="375.14" y="256.00" width="8.86" height="6.38" fill="#485fd1"/>
<rect x="384.00" y="250.34" width="4.46" height="5.66" fill="#495ed1"/>
<rect x="384.00" y="256.00" width="4.46" height="6.38" fill="#495fd1"/>
<rect x="387.46" y="250.34" width="12.54" height="5.66" fill="#465bce"/>
<rect x="387.46" y="256.00" width="12.54" height="6.38" fill="#465bce"/>
<rect x="400.00" y="250.34" width="0.79" height="5.66" fill="#455cce"/>
<rect x="400.00" y="256.00" width="0.79" height="6.38" fill="#455cce"/>
<rect x="399.79" y="250.34" width="0.21" height="5.66" fill="#495ed1"/>
<rect x="399.79" y="256.00" width="0.21" height="6.38" fill="#495fd1"/>
<rect x="400.00" y="250.34" width="13.12" height="5.66" fill="#485fd1"/>
<rect x="400.00" y="256.00" width="13.12" height="6.38" fill="#485fd1"/>
<rect x="412.12" y="250.34" width="3.88" height="5.66" fill="#455cce"/>
<rect x="412.12" y="256.00" width="3.88" height="6.38" fill="#455cce"/>
<rect x="416.00" y="250.34" width="9.45" height="5.66" fill="#465bce"/>
<rect x="416.00" y="256.00" width="9.45" height="6.38" fill="#465bce"/>
<rect x="424.45" y="250.34" width="7.55" height="5.66" fill="#465bce"/>
<rect x="424.45" y="256.00" width="7.55" height="6.38" fill="#465bce"/>
<rect x="432.00" y="250.34" width="5.78" height="5.66" fill="#465bce"/>
<rect x="432.00" y="256.00" width="5.78" height="6.38" fill="#465bce"/>
<rect x="436.78" y="250.34" width="11.22" height="5.66" fill="#465bce"/>
<rect x="436.78" y="256.00" width="11.22" height="6.38" fill="#465bce"/>
<rect x="448.00" y="250.34" width="2.11" height="5.66" fill="#4a59ce"/>
<rect x="448.00" y="256.00" width="2.11" height="6.38" fill="#495ace"/>
<rect x="449.11" y="250.34" width="13.33" height="5.66" fill="#3c4bc0"/>
<rect x="449.11" y="256.00" width="13.33" height="6.38" fill="#3b4cc0"/>
<rect x="461.44" y="250.34" width="2.56" height="5.66" fill="#3c4bc0"/>
<rect x="461.44" y="256.00" width="2.56" height="6.38" fill="#3b4cc0"/>
<rect x="464.00" y="250.34" width="10.77" height="5.66" fill="#3c4bc0"/>
<rect x="464.00" y="256.00" width="10.77" height="6.38" fill="#3c4cc0"/>
<rect x="473.77" y="250.34" width="6.23" height="5.66" fill="#3c4bc0"/>
<rect x="473.77" y="256.00" width="6.23" height="6.38" fill="#3c4cc0"/>
<rect x="480.00" y="250.34" width="7.10" height="5.66" fill="#4b44c0"/>
<rect x="480.00" y="256.00" width="7.10" height="6.38" fill="#4b44c0"/>
<rect x="66.90" y="261.38" width="13.10" height="2.62" fill="#515fd3"/>
<rect x="66.90" y="264.00" width="13.10" height="8.00" fill="#525fd3"/>
<rect x="66.90" y="272.00" width="13.10" height="1.41" fill="#4f60d3"/>
<rect x="80.00" y="261.38" width="0.23" height="2.62" fill="#4c62d3"/>
<rect x="80.00" y="264.00" width="0.23" height="8.00" fill="#4d61d3"/>
<rect x="80.00" y="272.00" width="0.23" height="1.41" fill="#4a63d3"/>
<rect x="79.23" y="261.38" width="0.77" height="2.62" fill="#4e5cd1"/>
<rect x="79.23" y="264.00" width="0.77" height="8.00" fill="#4f5cd1"/>
<rect x="79.23" y="272.00" width="0.77" height="1.41" fill="#4c5dd1"/>
<rect x="80.00" y="261.38" width="12.56" height="2.62" fill="#495fd1"/>
<rect x="80.00" y="264.00" width="12.56" height="8.00" fill="#4a5ed1"/>
<rect x="80.00" y="272.00" width="12.56" height="1.41" fill="#4760d1"/>
<rect x="91.56" y="261.38" width="4.44" height="2.62" fill="#495fd1"/>
<rect x="91.56" y="264.00" width="4.44" height="8.00" fill="#4a5ed1"/>
<rect x="91.56" y="272.00" width="4.44" height="1.41" fill="#4760d1"/>
<rect x="96.00" y="261.38" width="8.89" height="2.62" fill="#485fd1"/>
<rect x="96.00" y="264.00" width="8.89" height="8.00" fill="#4a5ed1"/>
<rect x="96.00" y="272.00" width="8.89" height="1.41" fill="#4560d1"/>
<rect x="103.89" y="261.38" width="8.11" height="2.62" fill="#4b62d3"/>
<rect x="103.89" y="264.00" width="8.11" height="8.00" fill="#4d61d3"/>
<rect x="103.89" y="272.00" width="8.11" height="1.41" fill="#4863d3"/>
<rect x="112.00" y="261.38" width="5.22" height="2.62" fill="#4b62d3"/>
<rect x="112.00" y="264.00" width="5.22" height="8.00" fill="#4c61d3"/>
<rect x="112.00" y="272.00" width="5.22" height="1.41" fill="#4864d3"/>
<rect x="116.22" y="261.38" width="11.78" height="2.62" fill="#4d63d5"/>
<rect x="116.22" y="264.00" width="11.78" height="8.00" fill="#4e63d5"/>
<rect x="116.22" y="272.00" width="11.78" height="1.41" fill="#4965d5"/>
<rect x="128.00" y="261.38" width="1.55" height="2.62" fill="#4d64d5"/>
<rect x="128.00" y="264.00" width="1.55" height="8.00" fill="#4e63d5"/>
<rect x="128.00" y="272.00" width="1.55" height="1.41" fill="#4a65d5"/>
<rect x="128.55" y="261.38" width="13.33" height="2.62" fill="#4d64d5"/>
<rect x="128.55" y="264.00" width="13.33" height="8.00" fill="#4e63d5"/>
<rect x="128.55" y="272.00" width="13.33" height="1.41" fill="#4a65d5"/>
<rect x="140.88" y="261.38" width="3.12" height="2.62" fill="#4b62d3"/>
<rect x="140.88" y="264.00" width="3.12" height="8.00" fill="#4c62d3"/>
<rect x="140.88" y="272.00" width="3.12" height="1.41" fill="#4863d3"/>
<rect x="144.00" y="261.38" width="10.21" height="2.62" fill="#4a63d3"/>
<rect x="144.00" y="264.00" width="10.21" height="8.00" fill="#4c61d3"/>
<rect x="144.00" y="272.00" width="10.21" height="1.41" fill="#4963d3"/>
<rect x="153.21" y="261.38" width="6.79" height="2.62" fill="#4c64d5"/>
<rect x="153.21" y="264.00" width="6.79" height="8.00" fill="#4e63d5"/>
<rect x="153.21" y="272.00" width="6.79" height="1.41" fill="#4a65d5"/>
<rect x="160.00" y="261.38" width="6.54" height="2.62" fill="#4b65d5"/>
<rect x="160.00" y="264.00" width="6.54" height="8.00" fill="#4c64d5"/>
<rect x="160.00" y="272.00" width="6.54" height="1.41" fill="#4a65d5"/>
<rect x="165.54" y="261.38" width="10.46" height="2.62" fill="#5f7ae6"/>
<rect x="165.54" y="264.00" width="10.46" height="8.00" fill="#617ae6"/>
<rect x="165.54" y="272.00" width="10.46" height="1.41" fill="#5f7ae6"/>
<rect x="176.00" y="261.38" width="2.86" height="2.62" fill="#6179e6"/>
<rect x="176.00" y="264.00" width="2.86" height="8.00" fill="#6279e6"/>
<rect x="176.00" y="272.00" width="2.86" height="1.41" fill="#5e7be6"/>
<rect x="177.86" y="261.38" width="13.33" height="2.62" fill="#4b62d3"/>
<rect x="177.86" y="264.00" width="13.33" height="8.00" fill="#4b62d3"/>
<rect x="177.86" y="272.00" width="13.33" height="1.41" fill="#4864d3"/>
<rect x="190.19" y="261.38" width="1.81" height="2.62" fill="#4b62d3"/>
<rect x="190.19" y="264.00" width="1.81" height="8.00" fill="#4b62d3"/>
<rect x="190.19" y="272.00" width="1.81" height="1.41" fill="#4864d3"/>
<rect x="192.00" y="261.38" width="11.52" height="2.62" fill="#4b62d3"/>
<rect x="192.00" y="264.00" width="11.52" height="8.00" fill="#4d61d3"/>
<rect x="192.00" y="272.00" width="11.52" height="1.41" fill="#4864d3"/>
<rect x="202.52" y="261.38" width="5.48" height="2.62" fill="#4b62d3"/>
<rect x="202.52" y="264.00" width="5.48" height="8.00" fill="#4d61d3"/>
<rect x="202.52" y="272.00" width="5.48" height="1.41" fill="#4864d3"/>
<rect x="208.00" y="261.38" width="7.85" height="2.62" fill="#4c62d3"/>
<rect x="208.00" y="264.00" width="7.85" height="8.00" fill="#4d61d3"/>
<rect x="208.00" y="272.00" width="7.85" height="1.41" fill="#4963d3"/>
<rect x="214.85" y="261.38" width="9.15" height="2.62" fill="#465cce"/>
<rect x="214.85" y="264.00" width="9.15" height="8.00" fill="#475bce"/>
<rect x="214.85" y="272.00" width="9.15" height="1.41" fill="#435dce"/>
<rect x="224.00" y="261.38" width="4.18" height="2.62" fill="#455cce"/>
<rect x="224.00" y="264.00" width="4.18" height="8.00" fill="#455cce"/>
<rect x="224.00" y="272.00" width="4.18" height="1.41" fill="#425ece"/>
<rect x="227.18" y="261.38" width="12.82" height="2.62" fill="#526ada"/>
<rect x="227.18" y="264.00" width="12.82" height="8.00" fill="#536ada"/>
<rect x="227.18" y="272.00" width="12.82" height="1.41" fill="#4f6bda"/>
<rect x="240.00" y="261.38" width="0.51" height="2.62" fill="#5569da"/>
<rect x="240.00" y="264.00" width="0.51" height="8.00" fill="#5568da"/>
<rect x="240.00" y="272.00" width="0.51" height="1.41" fill="#526ada"/>
<rect x="239.51" y="261.38" width="0.49" height="2.62" fill="#485fd1"/>
<rect x="239.51" y="264.00" width="0.49" height="8.00" fill="#485fd1"/>
<rect x="239.51" y="272.00" width="0.49" height="1.41" fill="#4561d1"/>
<rect x="240.00" y="261.38" width="12.84" height="2.62" fill="#4a5ed1"/>
<rect x="240.00" y="264.00" width="12.84" height="8.00" fill="#4b5ed1"/>
<rect x="240.00" y="272.00" width="12.84" height="1.41" fill="#485fd1"/>
<rect x="251.84" y="261.38" width="4.16" height="2.62" fill="#3f53c6"/>
<rect x="251.84" y="264.00" width="4.16" height="8.00" fill="#4053c6"/>
<rect x="251.84" y="272.00" width="4.16" height="1.41" fill="#3d54c6"/>
<rect x="256.00" y="261.38" width="9.17" height="2.62" fill="#3f53c6"/>
<rect x="256.00" y="264.00" width="9.17" height="8.00" fill="#4152c6"/>
<rect x="256.00" y="272.00" width="9.17" height="1.41" fill="#3d54c6"/>
<rect x="264.17" y="261.38" width="7.83" height="2.62" fill="#4a5ed1"/>
<rect x="264.17" y="264.00" width="7.83" height="8.00" fill="#4b5dd1"/>
<rect x="264.17" y="272.00" width="7.83" height="1.41" fill="#485fd1"/>
<rect x="272.00" y="261.38" width="5.50" height="2.62" fill="#495fd1"/>
<rect x="272.00" y="264.00" width="5.50" height="8.00" fill="#4a5ed1"/>
<rect x="272.00" y="272.00" width="5.50" height="1.41" fill="#4560d1"/>
<rect x="276.50" y="261.38" width="11.50" height="2.62" fill="#4c62d3"/>
<rect x="276.50" y="264.00" width="11.50" height="8.00" fill="#4d61d3"/>
<rect x="276.50" y="272.00" width="11.50" height="1.41" fill="#4864d3"/>
<rect x="288.00" y="261.38" width="1.83" height="2.62" fill="#4b62d3"/>
<rect x="288.00" y="264.00" width="1.83" height="8.00" fill="#4c62d3"/>
<rect x="288.00" y="272.00" width="1.83" height="1.41" fill="#4864d3"/>
<rect x="288.83" y="261.38" width="13.33" height="2.62" fill="#4d63d5"/>
<rect x="288.83" y="264.00" width="13.33" height="8.00" fill="#4e63d5"/>
<rect x="288.83" y="272.00" width="13.33" height="1.41" fill="#4965d5"/>
<rect x="301.16" y="261.38" width="2.84" height="2.62" fill="#485fd1"/>
<rect x="301.16" y="264.00" width="2.84" height="8.00" fill="#495ed1"/>
<rect x="301.16" y="272.00" width="2.84" height="1.41" fill="#4561d1"/>
<rect x="304.00" y="261.38" width="10.49" height="2.62" fill="#495ed1"/>
<rect x="304.00" y="264.00" width="10.49" height="8.00" fill="#4a5ed1"/>
<rect x="304.00" y="272.00" width="10.49" height="1.41" fill="#4760d1"/>
<rect x="313.49" y="261.38" width="6.51" height="2.62" fill="#495ed1"/>
<rect x="313.49" y="264.00" width="6.51" height="8.00" fill="#4a5ed1"/>
<rect x="313.49" y="272.00" width="6.51" height="1.41" fill="#4760d1"/>
<rect x="320.00" y="261.38" width="6.82" height="2.62" fill="#6f4bd1"/>
<rect x="320.00" y="264.00" width="6.82" height="8.00" fill="#4a5ed1"/>
<rect x="320.00" y="272.00" width="6.82" height="1.41" fill="#4560d1"/>
<rect x="325.82" y="261.38" width="10.18" height="2.62" fill="#724ed3"/>
<rect x="325.82" y="264.00" width="10.18" height="8.00" fill="#4d61d3"/>
<rect x="325.82" y="272.00" width="10.18" height="1.41" fill="#4864d3"/>
<rect x="336.00" y="261.38" width="3.15" height="2.62" fill="#6c51d3"/>
<rect x="336.00" y="264.00" width="3.15" height="8.00" fill="#913fd3"/>
<rect x="336.00" y="272.00" width="3.15" height="1.41" fill="#555dd3"/>
<rect x="338.15" y="261.38" width="13.33" height="2.62" fill="#b7bc7e"/>
<rect x="338.15" y="264.00" width="13.33" height="8.00" fill="#ddaa7e"/>
<rect x="338.15" y="272.00" width="13.33" height="1.41" fill="#a1c87e"/>
<rect x="350.48" y="261.38" width="1.52" height="2.62" fill="#6c51d3"/>
<rect x="350.48" y="264.00" width="1.52" height="8.00" fill="#913fd3"/>
<rect x="350.48" y="272.00" width="1.52" height="1.41" fill="#555dd3"/>
<rect x="352.00" y="261.38" width="11.81" height="2.62" fill="#4b62d3"/>
<rect x="352.00" y="264.00" width="11.81" height="8.00" fill="#4c61d3"/>
<rect x="352.00" y="272.00" width="11.81" height="1.41" fill="#8644d3"/>
<rect x="362.81" y="261.38" width="5.19" height="2.62" fill="#4b62d3"/>
<rect x="362.81" y="264.00" width="5.19" height="8.00" fill="#4c61d3"/>
<rect x="362.81" y="272.00" width="5.19" height="1.41" fill="#8644d3"/>
<rect x="368.00" y="261.38" width="8.14" height="2.62" fill="#4b62d3"/>
<rect x="368.00" y="264.00" width="8.14" height="8.00" fill="#4d61d3"/>
<rect x="368.00" y="272.00" width="8.14" height="1.41" fill="#4963d3"/>
<rect x="375.14" y="261.38" width="8.86" height="2.62" fill="#4b62d3"/>
<rect x="375.14" y="264.00" width="8.86" height="8.00" fill="#4d61d3"/>
<rect x="375.14" y="272.00" width="8.86" height="1.41" fill="#4963d3"/>
<rect x="384.00" y="261.38" width="4.46" height="2.62" fill="#4c62d3"/>
<rect x="384.00" y="264.00" width="4.46" height="8.00" fill="#4d61d3"/>
<rect x="384.00" y="272.00" width="4.46" height="1.41" fill="#4963d3"/>
<rect x="387.46" y="261.38" width="12.54" height="2.62" fill="#465bce"/>
<rect x="387.46" y="264.00" width="12.54" height="8.00" fill="#475bce"/>
<rect x="387.46" y="272.00" width="12.54" height="1.41" fill="#435dce"/>
<rect x="400.00" y="261.38" width="0.79" height="2.62" fill="#455cce"/>
<rect x="400.00" y="264.00" width="0.79" height="8.00" fill="#465cce"/>
<rect x="400.00" y="272.00" width="0.79" height="1.41" fill="#425dce"/>
<rect x="399.79" y="261.38" width="0.21" height="2.62" fill="#5066d8"/>
<rect x="399.79" y="264.00" width="0.21" height="8.00" fill="#5266d8"/>
<rect x="399.79" y="272.00" width="0.21" height="1.41" fill="#4d68d8"/>
<rect x="400.00" y="261.38" width="13.12" height="2.62" fill="#5067d8"/>
<rect x="400.00" y="264.00" width="13.12" height="8.00" fill="#5066d8"/>
<rect x="400.00" y="272.00" width="13.12" height="1.41" fill="#4d68d8"/>
<rect x="412.12" y="261.38" width="3.88" height="2.62" fill="#455cce"/>
<rect x="412.12" y="264.00" width="3.88" height="8.00" fill="#465cce"/>
<rect x="412.12" y="272.00" width="3.88" height="1.41" fill="#425dce"/>
<rect x="416.00" y="261.38" width="9.45" height="2.62" fill="#465bce"/>
<rect x="416.00" y="264.00" width="9.45" height="8.00" fill="#475bce"/>
<rect x="416.00" y="272.00" width="9.45" height="1.41" fill="#435dce"/>
<rect x="424.45" y="261.38" width="7.55" height="2.62" fill="#465bce"/>
<rect x="424.45" y="264.00" width="7.55" height="8.00" fill="#475bce"/>
<rect x="424.45" y="272.00" width="7.55" height="1.41" fill="#435dce"/>
<rect x="432.00" y="261.38" width="5.78" height="2.62" fill="#465bce"/>
<rect x="432.00" y="264.00" width="5.78" height="8.00" fill="#485bce"/>
<rect x="432.00" y="272.00" width="5.78" height="1.41" fill="#435dce"/>
<rect x="436.78" y="261.38" width="11.22" height="2.62" fill="#465bce"/>
<rect x="436.78" y="264.00" width="11.22" height="8.00" fill="#485bce"/>
<rect x="436.78" y="272.00" width="11.22" height="1.41" fill="#435dce"/>
<rect x="448.00" y="261.38" width="2.11" height="2.62" fill="#495ace"/>
<rect x="448.00" y="264.00" width="2.11" height="8.00" fill="#4a59ce"/>
<rect x="448.00" y="272.00" width="2.11" height="1.41" fill="#4a59ce"/>
<rect x="449.11" y="261.38" width="13.33" height="2.62" fill="#3b4cc0"/>
<rect x="449.11" y="264.00" width="13.33" height="8.00" fill="#3d4bc0"/>
<rect x="449.11" y="272.00" width="13.33" height="1.41" fill="#3c4bc0"/>
<rect x="461.44" y="261.38" width="2.56" height="2.62" fill="#3b4cc0"/>
<rect x="461.44" y="264.00" width="2.56" height="8.00" fill="#3d4bc0"/>
<rect x="461.44" y="272.00" width="2.56" height="1.41" fill="#3c4bc0"/>
<rect x="464.00" y="261.38" width="10.77" height="2.62" fill="#3c4cc0"/>
<rect x="464.00" y="264.00" width="10.77" height="8.00" fill="#3d4bc0"/>
<rect x="464.00" y="272.00" width="10.77" height="1.41" fill="#3d4bc0"/>
<rect x="473.77" y="261.38" width="6.23" height="2.62" fill="#3c4cc0"/>
<rect x="473.77" y="264.00" width="6.23" height="8.00" fill="#3d4bc0"/>
<rect x="473.77" y="272.00" width="6.23" height="1.41" fill="#3d4bc0"/>
<rect x="480.00" y="261.38" width="7.10" height="2.62" fill="#4b44c0"/>
<rect x="480.00" y="264.00" width="7.10" height="8.00" fill="#4b44c0"/>
<rect x="480.00" y="272.00" width="7.10" height="1.41" fill="#4b44c0"/>
<rect x="66.90" y="272.41" width="13.10" height="7.59" fill="#6374e4"/>
<rect x="66.90" y="280.00" width="13.10" height="4.45" fill="#6374e4"/>
<rect x="80.00" y="272.41" width="0.23" height="7.59" fill="#5d77e4"/>
<rect x="80.00" y="280.00" width="0.23" height="4.45" fill="#5c77e4"/>
<rect x="79.23" y="272.41" width="0.77" height="7.59" fill="#6071e1"/>
<rect x="79.23" y="280.00" width="0.77" height="4.45" fill="#6071e1"/>
<rect x="80.00" y="272.41" width="12.56" height="7.59" fill="#5a74e1"/>
<rect x="80.00" y="280.00" width="12.56" height="4.45" fill="#5a74e1"/>
<rect x="91.56" y="272.41" width="4.44" height="7.59" fill="#6c86ee"/>
<rect x="91.56" y="280.00" width="4.44" height="4.45" fill="#6b86ee"/>
<rect x="96.00" y="272.41" width="8.89" height="7.59" fill="#6a87ee"/>
<rect x="96.00" y="280.00" width="8.89" height="4.45" fill="#6987ee"/>
<rect x="103.89" y="272.41" width="8.11" height="7.59" fill="#6784ec"/>
<rect x="103.89" y="280.00" width="8.11" height="4.45" fill="#6784ec"/>
<rect x="112.00" y="272.41" width="5.22" height="7.59" fill="#6784ec"/>
<rect x="112.00" y="280.00" width="5.22" height="4.45" fill="#6784ec"/>
<rect x="116.22" y="272.41" width="11.78" height="7.59" fill="#7290f3"/>
<rect x="116.22" y="280.00" width="11.78" height="4.45" fill="#7390f3"/>
<rect x="128.00" y="272.41" width="1.55" height="7.59" fill="#7390f3"/>
<rect x="128.00" y="280.00" width="1.55" height="4.45" fill="#738ff3"/>
<rect x="128.55" y="272.41" width="13.33" height="7.59" fill="#5f7be6"/>
<rect x="128.55" y="280.00" width="13.33" height="4.45" fill="#5f7ae6"/>
<rect x="140.88" y="272.41" width="3.12" height="7.59" fill="#607ce7"/>
<rect x="140.88" y="280.00" width="3.12" height="4.45" fill="#617ce7"/>
<rect x="144.00" y="272.41" width="10.21" height="7.59" fill="#607ce7"/>
<rect x="144.00" y="280.00" width="10.21" height="4.45" fill="#617ce7"/>
<rect x="153.21" y="272.41" width="6.79" height="7.59" fill="#7c9af8"/>
<rect x="153.21" y="280.00" width="6.79" height="4.45" fill="#7d9af8"/>
<rect x="160.00" y="272.41" width="6.54" height="7.59" fill="#7c9af8"/>
<rect x="160.00" y="280.00" width="6.54" height="4.45" fill="#7d9af8"/>
<rect x="165.54" y="272.41" width="10.46" height="7.59" fill="#6682eb"/>
<rect x="165.54" y="280.00" width="10.46" height="4.45" fill="#6782eb"/>
<rect x="176.00" y="272.41" width="2.86" height="7.59" fill="#6682eb"/>
<rect x="176.00" y="280.00" width="2.86" height="4.45" fill="#6782eb"/>
<rect x="177.86" y="272.41" width="13.33" height="7.59" fill="#607ce7"/>
<rect x="177.86" y="280.00" width="13.33" height="4.45" fill="#627be7"/>
<rect x="190.19" y="272.41" width="1.81" height="7.59" fill="#7593f4"/>
<rect x="190.19" y="280.00" width="1.81" height="4.45" fill="#7792f4"/>
<rect x="192.00" y="272.41" width="11.52" height="7.59" fill="#7593f4"/>
<rect x="192.00" y="280.00" width="11.52" height="4.45" fill="#7692f4"/>
<rect x="202.52" y="272.41" width="5.48" height="7.59" fill="#607ce7"/>
<rect x="202.52" y="280.00" width="5.48" height="4.45" fill="#617ce7"/>
<rect x="208.00" y="272.41" width="7.85" height="7.59" fill="#617ce7"/>
<rect x="208.00" y="280.00" width="7.85" height="4.45" fill="#627be7"/>
<rect x="214.85" y="272.41" width="9.15" height="7.59" fill="#607ae6"/>
<rect x="214.85" y="280.00" width="9.15" height="4.45" fill="#617ae6"/>
<rect x="224.00" y="272.41" width="4.18" height="7.59" fill="#5e7be6"/>
<rect x="224.00" y="280.00" width="4.18" height="4.45" fill="#607ae6"/>
<rect x="227.18" y="272.41" width="12.82" height="7.59" fill="#6784ec"/>
<rect x="227.18" y="280.00" width="12.82" height="4.45" fill="#6883ec"/>
<rect x="240.00" y="272.41" width="0.51" height="7.59" fill="#6a82ec"/>
<rect x="240.00" y="280.00" width="0.51" height="4.45" fill="#6a82ec"/>
<rect x="239.51" y="272.41" width="0.49" height="7.59" fill="#5773e0"/>
<rect x="239.51" y="280.00" width="0.49" height="4.45" fill="#5872e0"/>
<rect x="240.00" y="272.41" width="12.84" height="7.59" fill="#5a72e0"/>
<rect x="240.00" y="280.00" width="12.84" height="4.45" fill="#5a71e0"/>
<rect x="251.84" y="272.41" width="4.16" height="7.59" fill="#485fd1"/>
<rect x="251.84" y="280.00" width="4.16" height="4.45" fill="#485fd1"/>
<rect x="256.00" y="272.41" width="9.17" height="7.59" fill="#485fd1"/>
<rect x="256.00" y="280.00" width="9.17" height="4.45" fill="#485fd1"/>
<rect x="264.17" y="272.41" width="7.83" height="7.59" fill="#6a82ec"/>
<rect x="264.17" y="280.00" width="7.83" height="4.45" fill="#6a83ec"/>
<rect x="272.00" y="272.41" width="5.50" height="7.59" fill="#6784ec"/>
<rect x="272.00" y="280.00" width="5.50" height="4.45" fill="#6684ec"/>
<rect x="276.50" y="272.41" width="11.50" height="7.59" fill="#6682eb"/>
<rect x="276.50" y="280.00" width="11.50" height="4.45" fill="#6583eb"/>
<rect x="288.00" y="272.41" width="1.83" height="7.59" fill="#6583eb"/>
<rect x="288.00" y="280.00" width="1.83" height="4.45" fill="#6682eb"/>
<rect x="288.83" y="272.41" width="13.33" height="7.59" fill="#7290f3"/>
<rect x="288.83" y="280.00" width="13.33" height="4.45" fill="#7390f3"/>
<rect x="301.16" y="272.41" width="2.84" height="7.59" fill="#5470de"/>
<rect x="301.16" y="280.00" width="2.84" height="4.45" fill="#5570de"/>
<rect x="304.00" y="272.41" width="10.49" height="7.59" fill="#566fde"/>
<rect x="304.00" y="280.00" width="10.49" height="4.45" fill="#566fde"/>
<rect x="313.49" y="272.41" width="6.51" height="7.59" fill="#607ae6"/>
<rect x="313.49" y="280.00" width="6.51" height="4.45" fill="#617ae6"/>
<rect x="320.00" y="272.41" width="6.82" height="7.59" fill="#5f7be6"/>
<rect x="320.00" y="280.00" width="6.82" height="4.45" fill="#607ae6"/>
<rect x="325.82" y="272.41" width="10.18" height="7.59" fill="#7593f4"/>
<rect x="325.82" y="280.00" width="10.18" height="4.45" fill="#7692f4"/>
<rect x="336.00" y="272.41" width="3.15" height="7.59" fill="#828cf4"/>
<rect x="336.00" y="280.00" width="3.15" height="4.45" fill="#7a90f4"/>
<rect x="338.15" y="272.41" width="13.33" height="7.59" fill="#7079e9"/>
<rect x="338.15" y="280.00" width="13.33" height="4.45" fill="#687de9"/>
<rect x="350.48" y="272.41" width="1.52" height="7.59" fill="#9bc277"/>
<rect x="350.48" y="280.00" width="1.52" height="4.45" fill="#93c677"/>
<rect x="352.00" y="272.41" width="11.81" height="7.59" fill="#cca977"/>
<rect x="352.00" y="280.00" width="11.81" height="4.45" fill="#bdb177"/>
<rect x="362.81" y="272.41" width="5.19" height="7.59" fill="#af6ff2"/>
<rect x="362.81" y="280.00" width="5.19" height="4.45" fill="#a076f2"/>
<rect x="368.00" y="272.41" width="8.14" height="7.59" fill="#728ef2"/>
<rect x="368.00" y="280.00" width="8.14" height="4.45" fill="#8883f2"/>
<rect x="375.14" y="272.41" width="8.86" height="7.59" fill="#5c77e4"/>
<rect x="375.14" y="280.00" width="8.86" height="4.45" fill="#726ce4"/>
<rect x="384.00" y="272.41" width="4.46" height="7.59" fill="#5c77e4"/>
<rect x="384.00" y="280.00" width="4.46" height="4.45" fill="#5d77e4"/>
<rect x="387.46" y="272.41" width="12.54" height="7.59" fill="#5f7ae6"/>
<rect x="387.46" y="280.00" width="12.54" height="4.45" fill="#607ae6"/>
<rect x="400.00" y="272.41" width="0.79" height="7.59" fill="#5f7be6"/>
<rect x="400.00" y="280.00" width="0.79" height="4.45" fill="#607ae6"/>
<rect x="399.79" y="272.41" width="0.21" height="7.59" fill="#6682eb"/>
<rect x="399.79" y="280.00" width="0.21" height="4.45" fill="#6881eb"/>
<rect x="400.00" y="272.41" width="13.12" height="7.59" fill="#6682eb"/>
<rect x="400.00" y="280.00" width="13.12" height="4.45" fill="#6782eb"/>
<rect x="412.12" y="272.41" width="3.88" height="7.59" fill="#5f7be6"/>
<rect x="412.12" y="280.00" width="3.88" height="4.45" fill="#607ae6"/>
<rect x="416.00" y="272.41" width="9.45" height="7.59" fill="#5f7ae6"/>
<rect x="416.00" y="280.00" width="9.45" height="4.45" fill="#6179e6"/>
<rect x="424.45" y="272.41" width="7.55" height="7.59" fill="#5f7ae6"/>
<rect x="424.45" y="280.00" width="7.55" height="4.45" fill="#6179e6"/>
<rect x="432.00" y="272.41" width="5.78" height="7.59" fill="#5f7ae6"/>
<rect x="432.00" y="280.00" width="5.78" height="4.45" fill="#6179e6"/>
<rect x="436.78" y="272.41" width="11.22" height="7.59" fill="#5f7ae6"/>
<rect x="436.78" y="280.00" width="11.22" height="4.45" fill="#6179e6"/>
<rect x="448.00" y="272.41" width="2.11" height="7.59" fill="#6777e6"/>
<rect x="448.00" y="280.00" width="2.11" height="4.45" fill="#6577e6"/>
<rect x="449.11" y="272.41" width="13.33" height="7.59" fill="#3c4bc0"/>
<rect x="449.11" y="280.00" width="13.33" height="4.45" fill="#3b4cc0"/>
<rect x="461.44" y="272.41" width="2.56" height="7.59" fill="#3c4bc0"/>
<rect x="461.44" y="280.00" width="2.56" height="4.45" fill="#3b4cc0"/>
<rect x="464.00" y="272.41" width="10.77" height="7.59" fill="#3d4bc0"/>
<rect x="464.00" y="280.00" width="10.77" height="4.45" fill="#3c4cc0"/>
<rect x="473.77" y="272.41" width="6.23" height="7.59" fill="#3d4bc0"/>
<rect x="473.77" y="280.00" width="6.23" height="4.45" fill="#3c4cc0"/>
<rect x="480.00" y="272.41" width="7.10" height="7.59" fill="#4b44c0"/>
<rect x="480.00" y="280.00" width="7.10" height="4.45" fill="#4b44c0"/>
<rect x="66.90" y="283.45" width="13.10" height="4.55" fill="#4858cc"/>
<rect x="66.90" y="288.00" width="13.10" height="7.48" fill="#4b57cc"/>
<rect x="80.00" y="283.45" width="0.23" height="4.55" fill="#415bcc"/>
<rect x="80.00" y="288.00" width="0.23" height="7.48" fill="#445acc"/>
<rect x="79.23" y="283.45" width="0.77" height="4.55" fill="#5464d8"/>
<rect x="79.23" y="288.00" width="0.77" height="7.48" fill="#5763d8"/>
<rect x="80.00" y="283.45" width="12.56" height="4.55" fill="#4e68d8"/>
<rect x="80.00" y="288.00" width="12.56" height="7.48" fill="#5066d8"/>
<rect x="91.56" y="283.45" width="4.44" height="4.55" fill="#4963d3"/>
<rect x="91.56" y="288.00" width="4.44" height="7.48" fill="#4c62d3"/>
<rect x="96.00" y="283.45" width="8.89" height="4.55" fill="#4864d3"/>
<rect x="96.00" y="288.00" width="8.89" height="7.48" fill="#4b62d3"/>
<rect x="103.89" y="283.45" width="8.11" height="4.55" fill="#5f7ce7"/>
<rect x="103.89" y="288.00" width="8.11" height="7.48" fill="#627be7"/>
<rect x="112.00" y="283.45" width="5.22" height="4.55" fill="#607ce7"/>
<rect x="112.00" y="288.00" width="5.22" height="7.48" fill="#647ae7"/>
<rect x="116.22" y="283.45" width="11.78" height="4.55" fill="#4560d1"/>
<rect x="116.22" y="288.00" width="11.78" height="7.48" fill="#495fd1"/>
<rect x="128.00" y="283.45" width="1.55" height="4.55" fill="#4660d1"/>
<rect x="128.00" y="288.00" width="1.55" height="7.48" fill="#495fd1"/>
<rect x="128.55" y="283.45" width="13.33" height="4.55" fill="#4b65d5"/>
<rect x="128.55" y="288.00" width="13.33" height="7.48" fill="#4d63d5"/>
<rect x="140.88" y="283.45" width="3.12" height="4.55" fill="#435dce"/>
<rect x="140.88" y="288.00" width="3.12" height="7.48" fill="#465cce"/>
<rect x="144.00" y="283.45" width="10.21" height="4.55" fill="#435dce"/>
<rect x="144.00" y="288.00" width="10.21" height="7.48" fill="#465bce"/>
<rect x="153.21" y="283.45" width="6.79" height="4.55" fill="#4e68d8"/>
<rect x="153.21" y="288.00" width="6.79" height="7.48" fill="#5166d8"/>
<rect x="160.00" y="283.45" width="6.54" height="4.55" fill="#4d68d8"/>
<rect x="160.00" y="288.00" width="6.54" height="7.48" fill="#5166d8"/>
<rect x="165.54" y="283.45" width="10.46" height="4.55" fill="#4660d1"/>
<rect x="165.54" y="288.00" width="10.46" height="7.48" fill="#495ed1"/>
<rect x="176.00" y="283.45" width="2.86" height="4.55" fill="#4760d1"/>
<rect x="176.00" y="288.00" width="2.86" height="7.48" fill="#4a5ed1"/>
<rect x="177.86" y="283.45" width="13.33" height="4.55" fill="#3f58c9"/>
<rect x="177.86" y="288.00" width="13.33" height="7.48" fill="#4356c9"/>
<rect x="190.19" y="283.45" width="1.81" height="4.55" fill="#4b64d5"/>
<rect x="190.19" y="288.00" width="1.81" height="7.48" fill="#4f62d5"/>
<rect x="192.00" y="283.45" width="11.52" height="4.55" fill="#4b65d5"/>
<rect x="192.00" y="288.00" width="11.52" height="7.48" fill="#4e63d5"/>
<rect x="202.52" y="283.45" width="5.48" height="4.55" fill="#415bcc"/>
<rect x="202.52" y="288.00" width="5.48" height="7.48" fill="#455acc"/>
<rect x="208.00" y="283.45" width="7.85" height="4.55" fill="#435bcc"/>
<rect x="208.00" y="288.00" width="7.85" height="7.48" fill="#4659cc"/>
<rect x="214.85" y="283.45" width="9.15" height="4.55" fill="#435bcc"/>
<rect x="214.85" y="288.00" width="9.15" height="7.48" fill="#4659cc"/>
<rect x="224.00" y="283.45" width="4.18" height="4.55" fill="#425bcc"/>
<rect x="224.00" y="288.00" width="4.18" height="7.48" fill="#455acc"/>
<rect x="227.18" y="283.45" width="12.82" height="4.55" fill="#4660d1"/>
<rect x="227.18" y="288.00" width="12.82" height="7.48" fill="#495ed1"/>
<rect x="240.00" y="283.45" width="0.51" height="4.55" fill="#485fd1"/>
<rect x="240.00" y="288.00" width="0.51" height="7.48" fill="#4b5dd1"/>
<rect x="239.51" y="283.45" width="0.49" height="4.55" fill="#3f58c9"/>
<rect x="239.51" y="288.00" width="0.49" height="7.48" fill="#4257c9"/>
<rect x="240.00" y="283.45" width="12.84" height="4.55" fill="#4057c9"/>
<rect x="240.00" y="288.00" width="12.84" height="7.48" fill="#4356c9"/>
<rect x="251.84" y="283.45" width="4.16" height="4.55" fill="#445acc"/>
<rect x="251.84" y="288.00" width="4.16" height="7.48" fill="#4659cc"/>
<rect x="256.00" y="283.45" width="9.17" height="4.55" fill="#435bcc"/>
<rect x="256.00" y="288.00" width="9.17" height="7.48" fill="#4659cc"/>
<rect x="264.17" y="283.45" width="7.83" height="4.55" fill="#485fd1"/>
<rect x="264.17" y="288.00" width="7.83" height="7.48" fill="#4a5ed1"/>
<rect x="272.00" y="283.45" width="5.50" height="4.55" fill="#4461d1"/>
<rect x="272.00" y="288.00" width="5.50" height="7.48" fill="#4760d1"/>
<rect x="276.50" y="283.45" width="11.50" height="4.55" fill="#5e7be6"/>
<rect x="276.50" y="288.00" width="11.50" height="7.48" fill="#607ae6"/>
<rect x="288.00" y="283.45" width="1.83" height="4.55" fill="#5f7ae6"/>
<rect x="288.00" y="288.00" width="1.83" height="7.48" fill="#6379e6"/>
<rect x="288.83" y="283.45" width="13.33" height="4.55" fill="#4660d1"/>
<rect x="288.83" y="288.00" width="13.33" height="7.48" fill="#495ed1"/>
<rect x="301.16" y="283.45" width="2.84" height="4.55" fill="#4660d1"/>
<rect x="301.16" y="288.00" width="2.84" height="7.48" fill="#495ed1"/>
<rect x="304.00" y="283.45" width="10.49" height="4.55" fill="#475fd1"/>
<rect x="304.00" y="288.00" width="10.49" height="7.48" fill="#4a5ed1"/>
<rect x="313.49" y="283.45" width="6.51" height="4.55" fill="#435bcc"/>
<rect x="313.49" y="288.00" width="6.51" height="7.48" fill="#4559cc"/>
<rect x="320.00" y="283.45" width="6.82" height="4.55" fill="#425bcc"/>
<rect x="320.00" y="288.00" width="6.82" height="7.48" fill="#4559cc"/>
<rect x="325.82" y="283.45" width="10.18" height="4.55" fill="#4963d3"/>
<rect x="325.82" y="288.00" width="10.18" height="7.48" fill="#4d61d3"/>
<rect x="336.00" y="283.45" width="3.15" height="4.55" fill="#4e61d3"/>
<rect x="336.00" y="288.00" width="3.15" height="7.48" fill="#4d61d3"/>
<rect x="338.15" y="283.45" width="13.33" height="4.55" fill="#475bce"/>
<rect x="338.15" y="288.00" width="13.33" height="7.48" fill="#475bce"/>
<rect x="350.48" y="283.45" width="1.52" height="4.55" fill="#4356c9"/>
<rect x="350.48" y="288.00" width="1.52" height="7.48" fill="#4256c9"/>
<rect x="352.00" y="283.45" width="11.81" height="4.55" fill="#6d41c9"/>
<rect x="352.00" y="288.00" width="11.81" height="7.48" fill="#594bc9"/>
<rect x="362.81" y="283.45" width="5.19" height="4.55" fill="#cdc08c"/>
<rect x="362.81" y="288.00" width="5.19" height="7.48" fill="#b9ca8c"/>
<rect x="368.00" y="283.45" width="8.14" height="4.55" fill="#b5cc8c"/>
<rect x="368.00" y="288.00" width="8.14" height="7.48" fill="#c8c28c"/>
<rect x="375.14" y="283.45" width="8.86" height="4.55" fill="#5750cc"/>
<rect x="375.14" y="288.00" width="8.86" height="7.48" fill="#6b46cc"/>
<rect x="384.00" y="283.45" width="4.46" height="4.55" fill="#425bcc"/>
<rect x="384.00" y="288.00" width="4.46" height="7.48" fill="#4958cc"/>
<rect x="387.46" y="283.45" width="12.54" height="4.55" fill="#425bcc"/>
<rect x="387.46" y="288.00" width="12.54" height="7.48" fill="#4958cc"/>
<rect x="400.00" y="283.45" width="0.79" height="4.55" fill="#425bcc"/>
<rect x="400.00" y="288.00" width="0.79" height="7.48" fill="#4559cc"/>
<rect x="399.79" y="283.45" width="0.21" height="4.55" fill="#4760d1"/>
<rect x="399.79" y="288.00" width="0.21" height="7.48" fill="#4d5cd1"/>
<rect x="400.00" y="283.45" width="13.12" height="4.55" fill="#4660d1"/>
<rect x="400.00" y="288.00" width="13.12" height="7.48" fill="#4a5ed1"/>
<rect x="412.12" y="283.45" width="3.88" height="4.55" fill="#3c55c6"/>
<rect x="412.12" y="288.00" width="3.88" height="7.48" fill="#3f53c6"/>
<rect x="416.00" y="283.45" width="9.45" height="4.55" fill="#3d54c6"/>
<rect x="416.00" y="288.00" width="9.45" height="7.48" fill="#4152c6"/>
<rect x="424.45" y="283.45" width="7.55" height="4.55" fill="#3d54c6"/>
<rect x="424.45" y="288.00" width="7.55" height="7.48" fill="#4152c6"/>
<rect x="432.00" y="283.45" width="5.78" height="4.55" fill="#3d54c6"/>
<rect x="432.00" y="288.00" width="5.78" height="7.48" fill="#4152c6"/>
<rect x="436.78" y="283.45" width="11.22" height="4.55" fill="#3d54c6"/>
<rect x="436.78" y="288.00" width="11.22" height="7.48" fill="#4152c6"/>
<rect x="448.00" y="283.45" width="2.11" height="4.55" fill="#4152c6"/>
<rect x="448.00" y="288.00" width="2.11" height="7.48" fill="#4252c6"/>
<rect x="449.11" y="283.45" width="13.33" height="4.55" fill="#3b4cc0"/>
<rect x="449.11" y="288.00" width="13.33" height="7.48" fill="#3c4bc0"/>
<rect x="461.44" y="283.45" width="2.56" height="4.55" fill="#3b4cc0"/>
<rect x="461.44" y="288.00" width="2.56" height="7.48" fill="#3c4bc0"/>
<rect x="464.00" y="283.45" width="10.77" height="4.55" fill="#3c4cc0"/>
<rect x="464.00" y="288.00" width="10.77" height="7.48" fill="#3d4bc0"/>
<rect x="473.77" y="283.45" width="6.23" height="4.55" fill="#3c4cc0"/>
<rect x="473.77" y="288.00" width="6.23" height="7.48" fill="#3d4bc0"/>
<rect x="480.00" y="283.45" width="7.10" height="4.55" fill="#4b44c0"/>
<rect x="480.00" y="288.00" width="7.10" height="7.48" fill="#4b44c0"/>
<rect x="66.90" y="294.48" width="13.10" height="1.52" fill="#4450c6"/>
<rect x="66.90" y="296.00" width="13.10" height="8.00" fill="#4650c6"/>
<rect x="66.90" y="304.00" width="13.10" height="2.52" fill="#4650c6"/>
<rect x="80.00" y="294.48" width="0.23" height="1.52" fill="#3e54c6"/>
<rect x="80.00" y="296.00" width="0.23" height="8.00" fill="#4152c6"/>
<rect x="80.00" y="304.00" width="0.23" height="2.52" fill="#4252c6"/>
<rect x="79.23" y="294.48" width="0.77" height="1.52" fill="#4450c6"/>
<rect x="79.23" y="296.00" width="0.77" height="8.00" fill="#4650c6"/>
<rect x="79.23" y="304.00" width="0.77" height="2.52" fill="#4650c6"/>
<rect x="80.00" y="294.48" width="12.56" height="1.52" fill="#3e54c6"/>
<rect x="80.00" y="296.00" width="12.56" height="8.00" fill="#4152c6"/>
<rect x="80.00" y="304.00" width="12.56" height="2.52" fill="#4252c6"/>
<rect x="91.56" y="294.48" width="4.44" height="1.52" fill="#4157c9"/>
<rect x="91.56" y="296.00" width="4.44" height="8.00" fill="#4455c9"/>
<rect x="91.56" y="304.00" width="4.44" height="2.52" fill="#4555c9"/>
<rect x="96.00" y="294.48" width="8.89" height="1.52" fill="#4057c9"/>
<rect x="96.00" y="296.00" width="8.89" height="8.00" fill="#4455c9"/>
<rect x="96.00" y="304.00" width="8.89" height="2.52" fill="#4555c9"/>
<rect x="103.89" y="294.48" width="8.11" height="1.52" fill="#4057c9"/>
<rect x="103.89" y="296.00" width="8.11" height="8.00" fill="#4455c9"/>
<rect x="103.89" y="304.00" width="8.11" height="2.52" fill="#4555c9"/>
<rect x="112.00" y="294.48" width="5.22" height="1.52" fill="#4157c9"/>
<rect x="112.00" y="296.00" width="5.22" height="8.00" fill="#4455c9"/>
<rect x="112.00" y="304.00" width="5.22" height="2.52" fill="#4555c9"/>
<rect x="116.22" y="294.48" width="11.78" height="1.52" fill="#4157c9"/>
<rect x="116.22" y="296.00" width="11.78" height="8.00" fill="#4455c9"/>
<rect x="116.22" y="304.00" width="11.78" height="2.52" fill="#4555c9"/>
<rect x="128.00" y="294.48" width="1.55" height="1.52" fill="#4157c9"/>
<rect x="128.00" y="296.00" width="1.55" height="8.00" fill="#4356c9"/>
<rect x="128.00" y="304.00" width="1.55" height="2.52" fill="#4455c9"/>
<rect x="128.55" y="294.48" width="13.33" height="1.52" fill="#465cce"/>
<rect x="128.55" y="296.00" width="13.33" height="8.00" fill="#475bce"/>
<rect x="128.55" y="304.00" width="13.33" height="2.52" fill="#495ace"/>
<rect x="140.88" y="294.48" width="3.12" height="1.52" fill="#465cce"/>
<rect x="140.88" y="296.00" width="3.12" height="8.00" fill="#475bce"/>
<rect x="140.88" y="304.00" width="3.12" height="2.52" fill="#495ace"/>
<rect x="144.00" y="294.48" width="10.21" height="1.52" fill="#465bce"/>
<rect x="144.00" y="296.00" width="10.21" height="8.00" fill="#485ace"/>
<rect x="144.00" y="304.00" width="10.21" height="2.52" fill="#495ace"/>
<rect x="153.21" y="294.48" width="6.79" height="1.52" fill="#4257c9"/>
<rect x="153.21" y="296.00" width="6.79" height="8.00" fill="#4356c9"/>
<rect x="153.21" y="304.00" width="6.79" height="2.52" fill="#4555c9"/>
<rect x="160.00" y="294.48" width="6.54" height="1.52" fill="#4257c9"/>
<rect x="160.00" y="296.00" width="6.54" height="8.00" fill="#4455c9"/>
<rect x="160.00" y="304.00" width="6.54" height="2.52" fill="#4555c9"/>
<rect x="165.54" y="294.48" width="10.46" height="1.52" fill="#4257c9"/>
<rect x="165.54" y="296.00" width="10.46" height="8.00" fill="#4455c9"/>
<rect x="165.54" y="304.00" width="10.46" height="2.52" fill="#4555c9"/>
<rect x="176.00" y="294.48" width="2.86" height="1.52" fill="#4356c9"/>
<rect x="176.00" y="296.00" width="2.86" height="8.00" fill="#4455c9"/>
<rect x="176.00" y="304.00" width="2.86" height="2.52" fill="#4455c9"/>
<rect x="177.86" y="294.48" width="13.33" height="1.52" fill="#3f53c6"/>
<rect x="177.86" y="296.00" width="13.33" height="8.00" fill="#4152c6"/>
<rect x="177.86" y="304.00" width="13.33" height="2.52" fill="#4152c6"/>
<rect x="190.19" y="294.48" width="1.81" height="1.52" fill="#4356c9"/>
<rect x="190.19" y="296.00" width="1.81" height="8.00" fill="#4455c9"/>
<rect x="190.19" y="304.00" width="1.81" height="2.52" fill="#4455c9"/>
<rect x="192.00" y="294.48" width="11.52" height="1.52" fill="#4256c9"/>
<rect x="192.00" y="296.00" width="11.52" height="8.00" fill="#4455c9"/>
<rect x="192.00" y="304.00" width="11.52" height="2.52" fill="#4455c9"/>
<rect x="202.52" y="294.48" width="5.48" height="1.52" fill="#455acc"/>
<rect x="202.52" y="296.00" width="5.48" height="8.00" fill="#4759cc"/>
<rect x="202.52" y="304.00" width="5.48" height="2.52" fill="#4758cc"/>
<rect x="208.00" y="294.48" width="7.85" height="1.52" fill="#4659cc"/>
<rect x="208.00" y="296.00" width="7.85" height="8.00" fill="#4759cc"/>
<rect x="208.00" y="304.00" width="7.85" height="2.52" fill="#4758cc"/>
<rect x="214.85" y="294.48" width="9.15" height="1.52" fill="#4659cc"/>
<rect x="214.85" y="296.00" width="9.15" height="8.00" fill="#4759cc"/>
<rect x="214.85" y="304.00" width="9.15" height="2.52" fill="#4758cc"/>
<rect x="224.00" y="294.48" width="4.18" height="1.52" fill="#455acc"/>
<rect x="224.00" y="296.00" width="4.18" height="8.00" fill="#4659cc"/>
<rect x="224.00" y="304.00" width="4.18" height="2.52" fill="#4758cc"/>
<rect x="227.18" y="294.48" width="12.82" height="1.52" fill="#455acc"/>
<rect x="227.18" y="296.00" width="12.82" height="8.00" fill="#4659cc"/>
<rect x="227.18" y="304.00" width="12.82" height="2.52" fill="#4758cc"/>
<rect x="240.00" y="294.48" width="0.51" height="1.52" fill="#4659cc"/>
<rect x="240.00" y="296.00" width="0.51" height="8.00" fill="#4858cc"/>
<rect x="240.00" y="304.00" width="0.51" height="2.52" fill="#4858cc"/>
<rect x="239.51" y="294.48" width="0.49" height="1.52" fill="#3f53c6"/>
<rect x="239.51" y="296.00" width="0.49" height="8.00" fill="#4053c6"/>
<rect x="239.51" y="304.00" width="0.49" height="2.52" fill="#4152c6"/>
<rect x="240.00" y="294.48" width="12.84" height="1.52" fill="#4053c6"/>
<rect x="240.00" y="296.00" width="12.84" height="8.00" fill="#4252c6"/>
<rect x="240.00" y="304.00" width="12.84" height="2.52" fill="#4252c6"/>
<rect x="251.84" y="294.48" width="4.16" height="1.52" fill="#3f51c5"/>
<rect x="251.84" y="296.00" width="4.16" height="8.00" fill="#4050c5"/>
<rect x="251.84" y="304.00" width="4.16" height="2.52" fill="#4050c5"/>
<rect x="256.00" y="294.48" width="9.17" height="1.52" fill="#3e51c5"/>
<rect x="256.00" y="296.00" width="9.17" height="8.00" fill="#4050c5"/>
<rect x="256.00" y="304.00" width="9.17" height="2.52" fill="#4150c5"/>
<rect x="264.17" y="294.48" width="7.83" height="1.52" fill="#4356c9"/>
<rect x="264.17" y="296.00" width="7.83" height="8.00" fill="#4555c9"/>
<rect x="264.17" y="304.00" width="7.83" height="2.52" fill="#4555c9"/>
<rect x="272.00" y="294.48" width="5.50" height="1.52" fill="#3f58c9"/>
<rect x="272.00" y="296.00" width="5.50" height="8.00" fill="#4455c9"/>
<rect x="272.00" y="304.00" width="5.50" height="2.52" fill="#4555c9"/>
<rect x="276.50" y="294.48" width="11.50" height="1.52" fill="#3f58c9"/>
<rect x="276.50" y="296.00" width="11.50" height="8.00" fill="#4455c9"/>
<rect x="276.50" y="304.00" width="11.50" height="2.52" fill="#4555c9"/>
<rect x="288.00" y="294.48" width="1.83" height="1.52" fill="#4257c9"/>
<rect x="288.00" y="296.00" width="1.83" height="8.00" fill="#4456c9"/>
<rect x="288.00" y="304.00" width="1.83" height="2.52" fill="#4455c9"/>
<rect x="288.83" y="294.48" width="13.33" height="1.52" fill="#4257c9"/>
<rect x="288.83" y="296.00" width="13.33" height="8.00" fill="#4456c9"/>
<rect x="288.83" y="304.00" width="13.33" height="2.52" fill="#4455c9"/>
<rect x="301.16" y="294.48" width="2.84" height="1.52" fill="#4257c9"/>
<rect x="301.16" y="296.00" width="2.84" height="8.00" fill="#4456c9"/>
<rect x="301.16" y="304.00" width="2.84" height="2.52" fill="#4455c9"/>
<rect x="304.00" y="294.48" width="10.49" height="1.52" fill="#4256c9"/>
<rect x="304.00" y="296.00" width="10.49" height="8.00" fill="#4456c9"/>
<rect x="304.00" y="304.00" width="10.49" height="2.52" fill="#4555c9"/>
<rect x="313.49" y="294.48" width="6.51" height="1.52" fill="#475bce"/>
<rect x="313.49" y="296.00" width="6.51" height="8.00" fill="#485ace"/>
<rect x="313.49" y="304.00" width="6.51" height="2.52" fill="#495ace"/>
<rect x="320.00" y="294.48" width="6.82" height="1.52" fill="#475bce"/>
<rect x="320.00" y="296.00" width="6.82" height="8.00" fill="#495ace"/>
<rect x="320.00" y="304.00" width="6.82" height="2.52" fill="#4a5ace"/>
<rect x="325.82" y="294.48" width="10.18" height="1.52" fill="#4256c9"/>
<rect x="325.82" y="296.00" width="10.18" height="8.00" fill="#4455c9"/>
<rect x="325.82" y="304.00" width="10.18" height="2.52" fill="#4555c9"/>
<rect x="336.00" y="294.48" width="3.15" height="1.52" fill="#4256c9"/>
<rect x="336.00" y="296.00" width="3.15" height="8.00" fill="#4356c9"/>
<rect x="336.00" y="304.00" width="3.15" height="2.52" fill="#4455c9"/>
<rect x="338.15" y="294.48" width="13.33" height="1.52" fill="#4256c9"/>
<rect x="338.15" y="296.00" width="13.33" height="8.00" fill="#4356c9"/>
<rect x="338.15" y="304.00" width="13.33" height="2.52" fill="#4455c9"/>
<rect x="350.48" y="294.48" width="1.52" height="1.52" fill="#3f53c6"/>
<rect x="350.48" y="296.00" width="1.52" height="8.00" fill="#4053c6"/>
<rect x="350.48" y="304.00" width="1.52" height="2.52" fill="#4152c6"/>
<rect x="352.00" y="294.48" width="11.81" height="1.52" fill="#5648c6"/>
<rect x="352.00" y="296.00" width="11.81" height="8.00" fill="#4152c6"/>
<rect x="352.00" y="304.00" width="11.81" height="2.52" fill="#4252c6"/>
<rect x="362.81" y="294.48" width="5.19" height="1.52" fill="#594bc9"/>
<rect x="362.81" y="296.00" width="5.19" height="8.00" fill="#4455c9"/>
<rect x="362.81" y="304.00" width="5.19" height="2.52" fill="#4555c9"/>
<rect x="368.00" y="294.48" width="8.14" height="1.52" fill="#6843c9"/>
<rect x="368.00" y="296.00" width="8.14" height="8.00" fill="#6c41c9"/>
<rect x="368.00" y="304.00" width="8.14" height="2.52" fill="#4c51c9"/>
<rect x="375.14" y="294.48" width="8.86" height="1.52" fill="#cfc897"/>
<rect x="375.14" y="296.00" width="8.86" height="8.00" fill="#d4c697"/>
<rect x="375.14" y="304.00" width="8.86" height="2.52" fill="#b4d697"/>
<rect x="384.00" y="294.48" width="4.46" height="1.52" fill="#adda97"/>
<rect x="384.00" y="296.00" width="4.46" height="8.00" fill="#bbd397"/>
<rect x="384.00" y="304.00" width="4.46" height="2.52" fill="#d9c397"/>
<rect x="387.46" y="294.48" width="12.54" height="1.52" fill="#4958cc"/>
<rect x="387.46" y="296.00" width="12.54" height="8.00" fill="#5651cc"/>
<rect x="387.46" y="304.00" width="12.54" height="2.52" fill="#7541cc"/>
<rect x="400.00" y="294.48" width="0.79" height="1.52" fill="#4559cc"/>
<rect x="400.00" y="296.00" width="0.79" height="8.00" fill="#4759cc"/>
<rect x="400.00" y="304.00" width="0.79" height="2.52" fill="#4758cc"/>
<rect x="399.79" y="294.48" width="0.21" height="1.52" fill="#4958cc"/>
<rect x="399.79" y="296.00" width="0.21" height="8.00" fill="#5651cc"/>
<rect x="399.79" y="304.00" width="0.21" height="2.52" fill="#7541cc"/>
<rect x="400.00" y="294.48" width="13.12" height="1.52" fill="#4559cc"/>
<rect x="400.00" y="296.00" width="13.12" height="8.00" fill="#4759cc"/>
<rect x="400.00" y="304.00" width="13.12" height="2.52" fill="#4758cc"/>
<rect x="412.12" y="294.48" width="3.88" height="1.52" fill="#3f53c6"/>
<rect x="412.12" y="296.00" width="3.88" height="8.00" fill="#4053c6"/>
<rect x="412.12" y="304.00" width="3.88" height="2.52" fill="#4152c6"/>
<rect x="416.00" y="294.48" width="9.45" height="1.52" fill="#4152c6"/>
<rect x="416.00" y="296.00" width="9.45" height="8.00" fill="#4252c6"/>
<rect x="416.00" y="304.00" width="9.45" height="2.52" fill="#4152c6"/>
<rect x="424.45" y="294.48" width="7.55" height="1.52" fill="#4152c6"/>
<rect x="424.45" y="296.00" width="7.55" height="8.00" fill="#4252c6"/>
<rect x="424.45" y="304.00" width="7.55" height="2.52" fill="#4152c6"/>
<rect x="432.00" y="294.48" width="5.78" height="1.52" fill="#4152c6"/>
<rect x="432.00" y="296.00" width="5.78" height="8.00" fill="#4252c6"/>
<rect x="432.00" y="304.00" width="5.78" height="2.52" fill="#4152c6"/>
<rect x="436.78" y="294.48" width="11.22" height="1.52" fill="#4152c6"/>
<rect x="436.78" y="296.00" width="11.22" height="8.00" fill="#4252c6"/>
<rect x="436.78" y="304.00" width="11.22" height="2.52" fill="#4152c6"/>
<rect x="448.00" y="294.48" width="2.11" height="1.52" fill="#4252c6"/>
<rect x="448.00" y="296.00" width="2.11" height="8.00" fill="#4351c6"/>
<rect x="448.00" y="304.00" width="2.11" height="2.52" fill="#4351c6"/>
<rect x="449.11" y="294.48" width="13.33" height="1.52" fill="#3c4bc0"/>
<rect x="449.11" y="296.00" width="13.33" height="8.00" fill="#3d4bc0"/>
<rect x="449.11" y="304.00" width="13.33" height="2.52" fill="#3d4bc0"/>
<rect x="461.44" y="294.48" width="2.56" height="1.52" fill="#3c4bc0"/>
<rect x="461.44" y="296.00" width="2.56" height="8.00" fill="#3d4bc0"/>
<rect x="461.44" y="304.00" width="2.56" height="2.52" fill="#3d4bc0"/>
<rect x="464.00" y="294.48" width="10.77" height="1.52" fill="#3d4bc0"/>
<rect x="464.00" y="296.00" width="10.77" height="8.00" fill="#3d4bc0"/>
<rect x="464.00" y="304.00" width="10.77" height="2.52" fill="#3d4bc0"/>
<rect x="473.77" y="294.48" width="6.23" height="1.52" fill="#3d4bc0"/>
<rect x="473.77" y="296.00" width="6.23" height="8.00" fill="#3d4bc0"/>
<rect x="473.77" y="304.00" width="6.23" height="2.52" fill="#3d4bc0"/>
<rect x="480.00" y="294.48" width="7.10" height="1.52" fill="#4b44c0"/>
<rect x="480.00" y="296.00" width="7.10" height="8.00" fill="#4b44c0"/>
<rect x="480.00" y="304.00" width="7.10" height="2.52" fill="#4b44c0"/>
<rect x="66.90" y="305.52" width="13.10" height="6.48" fill="#454ec5"/>
<rect x="66.90" y="312.00" width="13.10" height="5.55" fill="#434fc5"/>
<rect x="80.00" y="305.52" width="0.23" height="6.48" fill="#4050c5"/>
<rect x="80.00" y="312.00" width="0.23" height="5.55" fill="#3e51c5"/>
<rect x="79.23" y="305.52" width="0.77" height="6.48" fill="#454ec5"/>
<rect x="79.23" y="312.00" width="0.77" height="5.55" fill="#434fc5"/>
<rect x="80.00" y="305.52" width="12.56" height="6.48" fill="#4050c5"/>
<rect x="80.00" y="312.00" width="12.56" height="5.55" fill="#3e51c5"/>
<rect x="91.56" y="305.52" width="4.44" height="6.48" fill="#4050c5"/>
<rect x="91.56" y="312.00" width="4.44" height="5.55" fill="#3e51c5"/>
<rect x="96.00" y="305.52" width="8.89" height="6.48" fill="#4050c5"/>
<rect x="96.00" y="312.00" width="8.89" height="5.55" fill="#3e52c5"/>
<rect x="103.89" y="305.52" width="8.11" height="6.48" fill="#4050c5"/>
<rect x="103.89" y="312.00" width="8.11" height="5.55" fill="#3e52c5"/>
<rect x="112.00" y="305.52" width="5.22" height="6.48" fill="#4050c5"/>
<rect x="112.00" y="312.00" width="5.22" height="5.55" fill="#3e52c5"/>
<rect x="116.22" y="305.52" width="11.78" height="6.48" fill="#4050c5"/>
<rect x="116.22" y="312.00" width="11.78" height="5.55" fill="#3e52c5"/>
<rect x="128.00" y="305.52" width="1.55" height="6.48" fill="#4051c5"/>
<rect x="128.00" y="312.00" width="1.55" height="5.55" fill="#3e51c5"/>
<rect x="128.55" y="305.52" width="13.33" height="6.48" fill="#4051c5"/>
<rect x="128.55" y="312.00" width="13.33" height="5.55" fill="#3e51c5"/>
<rect x="140.88" y="305.52" width="3.12" height="6.48" fill="#4051c5"/>
<rect x="140.88" y="312.00" width="3.12" height="5.55" fill="#3e51c5"/>
<rect x="144.00" y="305.52" width="10.21" height="6.48" fill="#4050c5"/>
<rect x="144.00" y="312.00" width="10.21" height="5.55" fill="#3e51c5"/>
<rect x="153.21" y="305.52" width="6.79" height="6.48" fill="#4050c5"/>
<rect x="153.21" y="312.00" width="6.79" height="5.55" fill="#3e51c5"/>
<rect x="160.00" y="305.52" width="6.54" height="6.48" fill="#4050c5"/>
<rect x="160.00" y="312.00" width="6.54" height="5.55" fill="#3d52c5"/>
<rect x="165.54" y="305.52" width="10.46" height="6.48" fill="#4252c6"/>
<rect x="165.54" y="312.00" width="10.46" height="5.55" fill="#3f53c6"/>
<rect x="176.00" y="305.52" width="2.86" height="6.48" fill="#4152c6"/>
<rect x="176.00" y="312.00" width="2.86" height="5.55" fill="#3f53c6"/>
<rect x="177.86" y="305.52" width="13.33" height="6.48" fill="#4152c6"/>
<rect x="177.86" y="312.00" width="13.33" height="5.55" fill="#3f53c6"/>
<rect x="190.19" y="305.52" width="1.81" height="6.48" fill="#3f51c5"/>
<rect x="190.19" y="312.00" width="1.81" height="5.55" fill="#3d52c5"/>
<rect x="192.00" y="305.52" width="11.52" height="6.48" fill="#4051c5"/>
<rect x="192.00" y="312.00" width="11.52" height="5.55" fill="#3d52c5"/>
<rect x="202.52" y="305.52" width="5.48" height="6.48" fill="#4758cc"/>
<rect x="202.52" y="312.00" width="5.48" height="5.55" fill="#455acc"/>
<rect x="208.00" y="305.52" width="7.85" height="6.48" fill="#4758cc"/>
<rect x="208.00" y="312.00" width="7.85" height="5.55" fill="#445acc"/>
<rect x="214.85" y="305.52" width="9.15" height="6.48" fill="#4152c6"/>
<rect x="214.85" y="312.00" width="9.15" height="5.55" fill="#3e54c6"/>
<rect x="224.00" y="305.52" width="4.18" height="6.48" fill="#4152c6"/>
<rect x="224.00" y="312.00" width="4.18" height="5.55" fill="#3e54c6"/>
<rect x="227.18" y="305.52" width="12.82" height="6.48" fill="#4152c6"/>
<rect x="227.18" y="312.00" width="12.82" height="5.55" fill="#3e54c6"/>
<rect x="240.00" y="305.52" width="0.51" height="6.48" fill="#4252c6"/>
<rect x="240.00" y="312.00" width="0.51" height="5.55" fill="#4053c6"/>
<rect x="239.51" y="305.52" width="0.49" height="6.48" fill="#3f51c5"/>
<rect x="239.51" y="312.00" width="0.49" height="5.55" fill="#3c52c5"/>
<rect x="240.00" y="305.52" width="12.84" height="6.48" fill="#4050c5"/>
<rect x="240.00" y="312.00" width="12.84" height="5.55" fill="#3e51c5"/>
<rect x="251.84" y="305.52" width="4.16" height="6.48" fill="#3d4dc2"/>
<rect x="251.84" y="312.00" width="4.16" height="5.55" fill="#3b4ec2"/>
<rect x="256.00" y="305.52" width="9.17" height="6.48" fill="#3e4dc2"/>
<rect x="256.00" y="312.00" width="9.17" height="5.55" fill="#3b4ec2"/>
<rect x="264.17" y="305.52" width="7.83" height="6.48" fill="#4150c5"/>
<rect x="264.17" y="312.00" width="7.83" height="5.55" fill="#3f51c5"/>
<rect x="272.00" y="305.52" width="5.50" height="6.48" fill="#4050c5"/>
<rect x="272.00" y="312.00" width="5.50" height="5.55" fill="#3e52c5"/>
<rect x="276.50" y="305.52" width="11.50" height="6.48" fill="#4050c5"/>
<rect x="276.50" y="312.00" width="11.50" height="5.55" fill="#3e52c5"/>
<rect x="288.00" y="305.52" width="1.83" height="6.48" fill="#4051c5"/>
<rect x="288.00" y="312.00" width="1.83" height="5.55" fill="#3e52c5"/>
<rect x="288.83" y="305.52" width="13.33" height="6.48" fill="#4051c5"/>
<rect x="288.83" y="312.00" width="13.33" height="5.55" fill="#3e52c5"/>
<rect x="301.16" y="305.52" width="2.84" height="6.48" fill="#4051c5"/>
<rect x="301.16" y="312.00" width="2.84" height="5.55" fill="#3e52c5"/>
<rect x="304.00" y="305.52" width="10.49" height="6.48" fill="#4050c5"/>
<rect x="304.00" y="312.00" width="10.49" height="5.55" fill="#3e51c5"/>
<rect x="313.49" y="305.52" width="6.51" height="6.48" fill="#4050c5"/>
<rect x="313.49" y="312.00" width="6.51" height="5.55" fill="#3e51c5"/>
<rect x="320.00" y="305.52" width="6.82" height="6.48" fill="#4050c5"/>
<rect x="320.00" y="312.00" width="6.82" height="5.55" fill="#3e52c5"/>
<rect x="325.82" y="305.52" width="10.18" height="6.48" fill="#4050c5"/>
<rect x="325.82" y="312.00" width="10.18" height="5.55" fill="#3e52c5"/>
<rect x="336.00" y="305.52" width="3.15" height="6.48" fill="#4051c5"/>
<rect x="336.00" y="312.00" width="3.15" height="5.55" fill="#3e52c5"/>
<rect x="338.15" y="305.52" width="13.33" height="6.48" fill="#4051c5"/>
<rect x="338.15" y="312.00" width="13.33" height="5.55" fill="#3e52c5"/>
<rect x="350.48" y="305.52" width="1.52" height="6.48" fill="#4152c6"/>
<rect x="350.48" y="312.00" width="1.52" height="5.55" fill="#3f53c6"/>
<rect x="352.00" y="305.52" width="11.81" height="6.48" fill="#4252c6"/>
<rect x="352.00" y="312.00" width="11.81" height="5.55" fill="#3f53c6"/>
<rect x="362.81" y="305.52" width="5.19" height="6.48" fill="#4050c5"/>
<rect x="362.81" y="312.00" width="5.19" height="5.55" fill="#3d52c5"/>
<rect x="368.00" y="305.52" width="8.14" height="6.48" fill="#484dc5"/>
<rect x="368.00" y="312.00" width="8.14" height="5.55" fill="#3d52c5"/>
<rect x="375.14" y="305.52" width="8.86" height="6.48" fill="#4f54cc"/>
<rect x="375.14" y="312.00" width="8.86" height="5.55" fill="#455acc"/>
<rect x="384.00" y="305.52" width="4.46" height="6.48" fill="#7541cc"/>
<rect x="384.00" y="312.00" width="4.46" height="5.55" fill="#6649cc"/>
<rect x="387.46" y="305.52" width="12.54" height="6.48" fill="#dcc69c"/>
<rect x="387.46" y="312.00" width="12.54" height="5.55" fill="#cdcd9c"/>
<rect x="400.00" y="305.52" width="0.79" height="6.48" fill="#aedd9c"/>
<rect x="400.00" y="312.00" width="0.79" height="5.55" fill="#c8d09c"/>
<rect x="399.79" y="305.52" width="0.21" height="6.48" fill="#6f3bc6"/>
<rect x="399.79" y="312.00" width="0.21" height="5.55" fill="#6043c6"/>
<rect x="400.00" y="305.52" width="13.12" height="6.48" fill="#4152c6"/>
<rect x="400.00" y="312.00" width="13.12" height="5.55" fill="#5b45c6"/>
<rect x="412.12" y="305.52" width="3.88" height="6.48" fill="#4152c6"/>
<rect x="412.12" y="312.00" width="3.88" height="5.55" fill="#5b45c6"/>
<rect x="416.00" y="305.52" width="9.45" height="6.48" fill="#4152c6"/>
<rect x="416.00" y="312.00" width="9.45" height="5.55" fill="#3f53c6"/>
<rect x="424.45" y="305.52" width="7.55" height="6.48" fill="#4152c6"/>
<rect x="424.45" y="312.00" width="7.55" height="5.55" fill="#3f53c6"/>
<rect x="432.00" y="305.52" width="5.78" height="6.48" fill="#4152c6"/>
<rect x="432.00" y="312.00" width="5.78" height="5.55" fill="#3f53c6"/>
<rect x="436.78" y="305.52" width="11.22" height="6.48" fill="#4152c6"/>
<rect x="436.78" y="312.00" width="11.22" height="5.55" fill="#3f53c6"/>
<rect x="448.00" y="305.52" width="2.11" height="6.48" fill="#4351c6"/>
<rect x="448.00" y="312.00" width="2.11" height="5.55" fill="#4152c6"/>
<rect x="449.11" y="305.52" width="13.33" height="6.48" fill="#3d4bc0"/>
<rect x="449.11" y="312.00" width="13.33" height="5.55" fill="#3b4cc0"/>
<rect x="461.44" y="305.52" width="2.56" height="6.48" fill="#3d4bc0"/>
<rect x="461.44" y="312.00" width="2.56" height="5.55" fill="#3b4cc0"/>
<rect x="464.00" y="305.52" width="10.77" height="6.48" fill="#3d4bc0"/>
<rect x="464.00" y="312.00" width="10.77" height="5.55" fill="#3b4cc0"/>
<rect x="473.77" y="305.52" width="6.23" height="6.48" fill="#3d4bc0"/>
<rect x="473.77" y="312.00" width="6.23" height="5.55" fill="#3b4cc0"/>
<rect x="480.00" y="305.52" width="7.10" height="6.48" fill="#4b44c0"/>
<rect x="480.00" y="312.00" width="7.10" height="5.55" fill="#4b44c0"/>
<rect x="66.90" y="316.55" width="13.10" height="3.45" fill="#4450c6"/>
<rect x="66.90" y="320.00" width="13.10" height="8.00" fill="#4650c6"/>
<rect x="66.90" y="328.00" width="13.10" height="0.59" fill="#4053c6"/>
<rect x="80.00" y="316.55" width="0.23" height="3.45" fill="#3f53c6"/>
<rect x="80.00" y="320.00" width="0.23" height="8.00" fill="#4152c6"/>
<rect x="80.00" y="328.00" width="0.23" height="0.59" fill="#3c55c6"/>
<rect x="79.23" y="316.55" width="0.77" height="3.45" fill="#4450c6"/>
<rect x="79.23" y="320.00" width="0.77" height="8.00" fill="#4650c6"/>
<rect x="79.23" y="328.00" width="0.77" height="0.59" fill="#4053c6"/>
<rect x="80.00" y="316.55" width="12.56" height="3.45" fill="#3f53c6"/>
<rect x="80.00" y="320.00" width="12.56" height="8.00" fill="#4152c6"/>
<rect x="80.00" y="328.00" width="12.56" height="0.59" fill="#3c55c6"/>
<rect x="91.56" y="316.55" width="4.44" height="3.45" fill="#4356c9"/>
<rect x="91.56" y="320.00" width="4.44" height="8.00" fill="#4455c9"/>
<rect x="91.56" y="328.00" width="4.44" height="0.59" fill="#3f58c9"/>
<rect x="96.00" y="316.55" width="8.89" height="3.45" fill="#4256c9"/>
<rect x="96.00" y="320.00" width="8.89" height="8.00" fill="#4455c9"/>
<rect x="96.00" y="328.00" width="8.89" height="0.59" fill="#4157c9"/>
<rect x="103.89" y="316.55" width="8.11" height="3.45" fill="#3f53c6"/>
<rect x="103.89" y="320.00" width="8.11" height="8.00" fill="#4152c6"/>
<rect x="103.89" y="328.00" width="8.11" height="0.59" fill="#3e54c6"/>
<rect x="112.00" y="316.55" width="5.22" height="3.45" fill="#3f53c6"/>
<rect x="112.00" y="320.00" width="5.22" height="8.00" fill="#4152c6"/>
<rect x="112.00" y="328.00" width="5.22" height="0.59" fill="#4152c6"/>
<rect x="116.22" y="316.55" width="11.78" height="3.45" fill="#4256c9"/>
<rect x="116.22" y="320.00" width="11.78" height="8.00" fill="#4455c9"/>
<rect x="116.22" y="328.00" width="11.78" height="0.59" fill="#4455c9"/>
<rect x="128.00" y="316.55" width="1.55" height="3.45" fill="#4356c9"/>
<rect x="128.00" y="320.00" width="1.55" height="8.00" fill="#4555c9"/>
<rect x="128.00" y="328.00" width="1.55" height="0.59" fill="#4654c9"/>
<rect x="128.55" y="316.55" width="13.33" height="3.45" fill="#4053c6"/>
<rect x="128.55" y="320.00" width="13.33" height="8.00" fill="#4152c6"/>
<rect x="128.55" y="328.00" width="13.33" height="0.59" fill="#4351c6"/>
<rect x="140.88" y="316.55" width="3.12" height="3.45" fill="#4053c6"/>
<rect x="140.88" y="320.00" width="3.12" height="8.00" fill="#4152c6"/>
<rect x="140.88" y="328.00" width="3.12" height="0.59" fill="#4351c6"/>
<rect x="144.00" y="316.55" width="10.21" height="3.45" fill="#3f53c6"/>
<rect x="144.00" y="320.00" width="10.21" height="8.00" fill="#4152c6"/>
<rect x="144.00" y="328.00" width="10.21" height="0.59" fill="#4152c6"/>
<rect x="153.21" y="316.55" width="6.79" height="3.45" fill="#4356c9"/>
<rect x="153.21" y="320.00" width="6.79" height="8.00" fill="#4455c9"/>
<rect x="153.21" y="328.00" width="6.79" height="0.59" fill="#4455c9"/>
<rect x="160.00" y="316.55" width="6.54" height="3.45" fill="#4256c9"/>
<rect x="160.00" y="320.00" width="6.54" height="8.00" fill="#4455c9"/>
<rect x="160.00" y="328.00" width="6.54" height="0.59" fill="#4754c9"/>
<rect x="165.54" y="316.55" width="10.46" height="3.45" fill="#455acc"/>
<rect x="165.54" y="320.00" width="10.46" height="8.00" fill="#4758cc"/>
<rect x="165.54" y="328.00" width="10.46" height="0.59" fill="#4a57cc"/>
<rect x="176.00" y="316.55" width="2.86" height="3.45" fill="#455acc"/>
<rect x="176.00" y="320.00" width="2.86" height="8.00" fill="#4659cc"/>
<rect x="176.00" y="328.00" width="2.86" height="0.59" fill="#435bcc"/>
<rect x="177.86" y="316.55" width="13.33" height="3.45" fill="#4256c9"/>
<rect x="177.86" y="320.00" width="13.33" height="8.00" fill="#4356c9"/>
<rect x="177.86" y="328.00" width="13.33" height="0.59" fill="#4058c9"/>
<rect x="190.19" y="316.55" width="1.81" height="3.45" fill="#4256c9"/>
<rect x="190.19" y="320.00" width="1.81" height="8.00" fill="#4356c9"/>
<rect x="190.19" y="328.00" width="1.81" height="0.59" fill="#4058c9"/>
<rect x="192.00" y="316.55" width="11.52" height="3.45" fill="#4257c9"/>
<rect x="192.00" y="320.00" width="11.52" height="8.00" fill="#4555c9"/>
<rect x="192.00" y="328.00" width="11.52" height="0.59" fill="#564cc9"/>
<rect x="202.52" y="316.55" width="5.48" height="3.45" fill="#465bce"/>
<rect x="202.52" y="320.00" width="5.48" height="8.00" fill="#495ace"/>
<rect x="202.52" y="328.00" width="5.48" height="0.59" fill="#5b51ce"/>
<rect x="208.00" y="316.55" width="7.85" height="3.45" fill="#465bce"/>
<rect x="208.00" y="320.00" width="7.85" height="8.00" fill="#4a59ce"/>
<rect x="208.00" y="328.00" width="7.85" height="0.59" fill="#664bce"/>
<rect x="214.85" y="316.55" width="9.15" height="3.45" fill="#4157c9"/>
<rect x="214.85" y="320.00" width="9.15" height="8.00" fill="#4655c9"/>
<rect x="214.85" y="328.00" width="9.15" height="0.59" fill="#6246c9"/>
<rect x="224.00" y="316.55" width="4.18" height="3.45" fill="#4157c9"/>
<rect x="224.00" y="320.00" width="4.18" height="8.00" fill="#4256c9"/>
<rect x="224.00" y="328.00" width="4.18" height="0.59" fill="#514fc9"/>
<rect x="227.18" y="316.55" width="12.82" height="3.45" fill="#5066d8"/>
<rect x="227.18" y="320.00" width="12.82" height="8.00" fill="#5266d8"/>
<rect x="227.18" y="328.00" width="12.82" height="0.59" fill="#605ed8"/>
<rect x="240.00" y="316.55" width="0.51" height="3.45" fill="#5265d8"/>
<rect x="240.00" y="320.00" width="0.51" height="8.00" fill="#5465d8"/>
<rect x="240.00" y="328.00" width="0.51" height="0.59" fill="#4c68d8"/>
<rect x="239.51" y="316.55" width="0.49" height="3.45" fill="#3e54c6"/>
<rect x="239.51" y="320.00" width="0.49" height="8.00" fill="#3f53c6"/>
<rect x="239.51" y="328.00" width="0.49" height="0.59" fill="#4e4cc6"/>
<rect x="240.00" y="316.55" width="12.84" height="3.45" fill="#4053c6"/>
<rect x="240.00" y="320.00" width="12.84" height="8.00" fill="#4152c6"/>
<rect x="240.00" y="328.00" width="12.84" height="0.59" fill="#3a56c6"/>
<rect x="251.84" y="316.55" width="4.16" height="3.45" fill="#3b4ec2"/>
<rect x="251.84" y="320.00" width="4.16" height="8.00" fill="#3d4dc2"/>
<rect x="251.84" y="328.00" width="4.16" height="0.59" fill="#3551c2"/>
<rect x="256.00" y="316.55" width="9.17" height="3.45" fill="#3b4ec2"/>
<rect x="256.00" y="320.00" width="9.17" height="8.00" fill="#3d4dc2"/>
<rect x="256.00" y="328.00" width="9.17" height="0.59" fill="#3651c2"/>
<rect x="264.17" y="316.55" width="7.83" height="3.45" fill="#4053c6"/>
<rect x="264.17" y="320.00" width="7.83" height="8.00" fill="#4252c6"/>
<rect x="264.17" y="328.00" width="7.83" height="0.59" fill="#3b55c6"/>
<rect x="272.00" y="316.55" width="5.50" height="3.45" fill="#3f53c6"/>
<rect x="272.00" y="320.00" width="5.50" height="8.00" fill="#4152c6"/>
<rect x="272.00" y="328.00" width="5.50" height="0.59" fill="#3e54c6"/>
<rect x="276.50" y="316.55" width="11.50" height="3.45" fill="#4256c9"/>
<rect x="276.50" y="320.00" width="11.50" height="8.00" fill="#4455c9"/>
<rect x="276.50" y="328.00" width="11.50" height="0.59" fill="#4157c9"/>
<rect x="288.00" y="316.55" width="1.83" height="3.45" fill="#4256c9"/>
<rect x="288.00" y="320.00" width="1.83" height="8.00" fill="#4456c9"/>
<rect x="288.00" y="328.00" width="1.83" height="0.59" fill="#4356c9"/>
<rect x="288.83" y="316.55" width="13.33" height="3.45" fill="#4256c9"/>
<rect x="288.83" y="320.00" width="13.33" height="8.00" fill="#4456c9"/>
<rect x="288.83" y="328.00" width="13.33" height="0.59" fill="#4356c9"/>
<rect x="301.16" y="316.55" width="2.84" height="3.45" fill="#3e52c5"/>
<rect x="301.16" y="320.00" width="2.84" height="8.00" fill="#3f51c5"/>
<rect x="301.16" y="328.00" width="2.84" height="0.59" fill="#3f51c5"/>
<rect x="304.00" y="316.55" width="10.49" height="3.45" fill="#3e51c5"/>
<rect x="304.00" y="320.00" width="10.49" height="8.00" fill="#4050c5"/>
<rect x="304.00" y="328.00" width="10.49" height="0.59" fill="#3c53c5"/>
<rect x="313.49" y="316.55" width="6.51" height="3.45" fill="#4053c6"/>
<rect x="313.49" y="320.00" width="6.51" height="8.00" fill="#4252c6"/>
<rect x="313.49" y="328.00" width="6.51" height="0.59" fill="#3d54c6"/>
<rect x="320.00" y="316.55" width="6.82" height="3.45" fill="#3f53c6"/>
<rect x="320.00" y="320.00" width="6.82" height="8.00" fill="#4152c6"/>
<rect x="320.00" y="328.00" width="6.82" height="0.59" fill="#3f53c6"/>
<rect x="325.82" y="316.55" width="10.18" height="3.45" fill="#4256c9"/>
<rect x="325.82" y="320.00" width="10.18" height="8.00" fill="#4455c9"/>
<rect x="325.82" y="328.00" width="10.18" height="0.59" fill="#4257c9"/>
<rect x="336.00" y="316.55" width="3.15" height="3.45" fill="#4256c9"/>
<rect x="336.00" y="320.00" width="3.15" height="8.00" fill="#4356c9"/>
<rect x="336.00" y="328.00" width="3.15" height="0.59" fill="#4157c9"/>
<rect x="338.15" y="316.55" width="13.33" height="3.45" fill="#4256c9"/>
<rect x="338.15" y="320.00" width="13.33" height="8.00" fill="#4356c9"/>
<rect x="338.15" y="328.00" width="13.33" height="0.59" fill="#4157c9"/>
<rect x="350.48" y="316.55" width="1.52" height="3.45" fill="#4256c9"/>
<rect x="350.48" y="320.00" width="1.52" height="8.00" fill="#4356c9"/>
<rect x="350.48" y="328.00" width="1.52" height="0.59" fill="#4157c9"/>
<rect x="352.00" y="316.55" width="11.81" height="3.45" fill="#4256c9"/>
<rect x="352.00" y="320.00" width="11.81" height="8.00" fill="#4455c9"/>
<rect x="352.00" y="328.00" width="11.81" height="0.59" fill="#4157c9"/>
<rect x="362.81" y="316.55" width="5.19" height="3.45" fill="#4256c9"/>
<rect x="362.81" y="320.00" width="5.19" height="8.00" fill="#4455c9"/>
<rect x="362.81" y="328.00" width="5.19" height="0.59" fill="#4157c9"/>
<rect x="368.00" y="316.55" width="8.14" height="3.45" fill="#4157c9"/>
<rect x="368.00" y="320.00" width="8.14" height="8.00" fill="#4555c9"/>
<rect x="368.00" y="328.00" width="8.14" height="0.59" fill="#5c49c9"/>
<rect x="375.14" y="316.55" width="8.86" height="3.45" fill="#465bce"/>
<rect x="375.14" y="320.00" width="8.86" height="8.00" fill="#495ace"/>
<rect x="375.14" y="328.00" width="8.86" height="0.59" fill="#604ece"/>
<rect x="384.00" y="316.55" width="4.46" height="3.45" fill="#674ace"/>
<rect x="384.00" y="320.00" width="4.46" height="8.00" fill="#4b59ce"/>
<rect x="384.00" y="328.00" width="4.46" height="0.59" fill="#5e4fce"/>
<rect x="387.46" y="316.55" width="12.54" height="3.45" fill="#6346c9"/>
<rect x="387.46" y="320.00" width="12.54" height="8.00" fill="#4654c9"/>
<rect x="387.46" y="328.00" width="12.54" height="0.59" fill="#5a4ac9"/>
<rect x="400.00" y="316.55" width="0.79" height="3.45" fill="#5e48c9"/>
<rect x="400.00" y="320.00" width="0.79" height="8.00" fill="#7f37c9"/>
<rect x="400.00" y="328.00" width="0.79" height="0.59" fill="#6147c9"/>
<rect x="399.79" y="316.55" width="0.21" height="3.45" fill="#c2c48b"/>
<rect x="399.79" y="320.00" width="0.21" height="8.00" fill="#a5d38b"/>
<rect x="399.79" y="328.00" width="0.21" height="0.59" fill="#b9c88b"/>
<rect x="400.00" y="316.55" width="13.12" height="3.45" fill="#bec68b"/>
<rect x="400.00" y="320.00" width="13.12" height="8.00" fill="#deb68b"/>
<rect x="400.00" y="328.00" width="13.12" height="0.59" fill="#c1c58b"/>
<rect x="412.12" y="316.55" width="3.88" height="3.45" fill="#5e48c9"/>
<rect x="412.12" y="320.00" width="3.88" height="8.00" fill="#7f37c9"/>
<rect x="412.12" y="328.00" width="3.88" height="0.59" fill="#6147c9"/>
<rect x="416.00" y="316.55" width="9.45" height="3.45" fill="#4256c9"/>
<rect x="416.00" y="320.00" width="9.45" height="8.00" fill="#4754c9"/>
<rect x="416.00" y="328.00" width="9.45" height="0.59" fill="#713ec9"/>
<rect x="424.45" y="316.55" width="7.55" height="3.45" fill="#4256c9"/>
<rect x="424.45" y="320.00" width="7.55" height="8.00" fill="#4754c9"/>
<rect x="424.45" y="328.00" width="7.55" height="0.59" fill="#713ec9"/>
<rect x="432.00" y="316.55" width="5.78" height="3.45" fill="#4256c9"/>
<rect x="432.00" y="320.00" width="5.78" height="8.00" fill="#4456c9"/>
<rect x="432.00" y="328.00" width="5.78" height="0.59" fill="#3e58c9"/>
<rect x="436.78" y="316.55" width="11.22" height="3.45" fill="#4256c9"/>
<rect x="436.78" y="320.00" width="11.22" height="8.00" fill="#4456c9"/>
<rect x="436.78" y="328.00" width="11.22" height="0.59" fill="#3e58c9"/>
<rect x="448.00" y="316.55" width="2.11" height="3.45" fill="#4455c9"/>
<rect x="448.00" y="320.00" width="2.11" height="8.00" fill="#4654c9"/>
<rect x="448.00" y="328.00" width="2.11" height="0.59" fill="#4655c9"/>
<rect x="449.11" y="316.55" width="13.33" height="3.45" fill="#3b4cc0"/>
<rect x="449.11" y="320.00" width="13.33" height="8.00" fill="#3d4bc0"/>
<rect x="449.11" y="328.00" width="13.33" height="0.59" fill="#3c4bc0"/>
<rect x="461.44" y="316.55" width="2.56" height="3.45" fill="#3b4cc0"/>
<rect x="461.44" y="320.00" width="2.56" height="8.00" fill="#3d4bc0"/>
<rect x="461.44" y="328.00" width="2.56" height="0.59" fill="#3c4bc0"/>
<rect x="464.00" y="316.55" width="10.77" height="3.45" fill="#3b4cc0"/>
<rect x="464.00" y="320.00" width="10.77" height="8.00" fill="#3d4bc0"/>
<rect x="464.00" y="328.00" width="10.77" height="0.59" fill="#3d4bc0"/>
<rect x="473.77" y="316.55" width="6.23" height="3.45" fill="#3b4cc0"/>
<rect x="473.77" y="320.00" width="6.23" height="8.00" fill="#3d4bc0"/>
<rect x="473.77" y="328.00" width="6.23" height="0.59" fill="#3d4bc0"/>
<rect x="480.00" y="316.55" width="7.10" height="3.45" fill="#4b44c0"/>
<rect x="480.00" y="320.00" width="7.10" height="8.00" fill="#4b44c0"/>
<rect x="480.00" y="328.00" width="7.10" height="0.59" fill="#4b44c0"/>
<rect x="66.90" y="327.59" width="13.10" height="0.41" fill="#8a97f9"/>
<rect x="66.90" y="328.00" width="13.10" height="8.00" fill="#849af9"/>
<rect x="66.90" y="336.00" width="13.10" height="3.62" fill="#a689f9"/>
<rect x="80.00" y="327.59" width="0.23" height="0.41" fill="#859af9"/>
<rect x="80.00" y="328.00" width="0.23" height="8.00" fill="#809cf9"/>
<rect x="80.00" y="336.00" width="0.23" height="3.62" fill="#9e8df9"/>
<rect x="79.23" y="327.59" width="0.77" height="0.41" fill="#9daefe"/>
<rect x="79.23" y="328.00" width="0.77" height="8.00" fill="#97b1fe"/>
<rect x="79.23" y="336.00" width="0.77" height="3.62" fill="#ba9ffe"/>
<rect x="80.00" y="327.59" width="12.56" height="0.41" fill="#99b0fe"/>
<rect x="80.00" y="328.00" width="12.56" height="8.00" fill="#94b2fe"/>
<rect x="80.00" y="336.00" width="12.56" height="3.62" fill="#b1a3fe"/>
<rect x="91.56" y="327.59" width="4.44" height="0.41" fill="#9bb3ff"/>
<rect x="91.56" y="328.00" width="4.44" height="8.00" fill="#96b5ff"/>
<rect x="91.56" y="336.00" width="4.44" height="3.62" fill="#b4a6ff"/>
<rect x="96.00" y="327.59" width="8.89" height="0.41" fill="#9bb3ff"/>
<rect x="96.00" y="328.00" width="8.89" height="8.00" fill="#98b4ff"/>
<rect x="96.00" y="336.00" width="8.89" height="3.62" fill="#b7a4ff"/>
<rect x="103.89" y="327.59" width="8.11" height="0.41" fill="#a6bfff"/>
<rect x="103.89" y="328.00" width="8.11" height="8.00" fill="#a2c1ff"/>
<rect x="103.89" y="336.00" width="8.11" height="3.62" fill="#c1b1ff"/>
<rect x="112.00" y="327.59" width="5.22" height="0.41" fill="#a5bfff"/>
<rect x="112.00" y="328.00" width="5.22" height="8.00" fill="#a5bfff"/>
<rect x="112.00" y="336.00" width="5.22" height="3.62" fill="#b9b5ff"/>
<rect x="116.22" y="327.59" width="11.78" height="0.41" fill="#abc6fd"/>
<rect x="116.22" y="328.00" width="11.78" height="8.00" fill="#abc6fd"/>
<rect x="116.22" y="336.00" width="11.78" height="3.62" fill="#bfbcfd"/>
<rect x="128.00" y="327.59" width="1.55" height="0.41" fill="#abc6fd"/>
<rect x="128.00" y="328.00" width="1.55" height="8.00" fill="#adc5fd"/>
<rect x="128.00" y="336.00" width="1.55" height="3.62" fill="#c2bbfd"/>
<rect x="128.55" y="327.59" width="13.33" height="0.41" fill="#b1cefb"/>
<rect x="128.55" y="328.00" width="13.33" height="8.00" fill="#b3cdfb"/>
<rect x="128.55" y="336.00" width="13.33" height="3.62" fill="#c8c2fb"/>
<rect x="140.88" y="327.59" width="3.12" height="0.41" fill="#a7c0fe"/>
<rect x="140.88" y="328.00" width="3.12" height="8.00" fill="#a9bffe"/>
<rect x="140.88" y="336.00" width="3.12" height="3.62" fill="#bdb5fe"/>
<rect x="144.00" y="327.59" width="10.21" height="0.41" fill="#a7c0fe"/>
<rect x="144.00" y="328.00" width="10.21" height="8.00" fill="#a7c0fe"/>
<rect x="144.00" y="336.00" width="10.21" height="3.62" fill="#bbb6fe"/>
<rect x="153.21" y="327.59" width="6.79" height="0.41" fill="#afcbfc"/>
<rect x="153.21" y="328.00" width="6.79" height="8.00" fill="#afcbfc"/>
<rect x="153.21" y="336.00" width="6.79" height="3.62" fill="#c3c0fc"/>
<rect x="160.00" y="327.59" width="6.54" height="0.41" fill="#afcbfc"/>
<rect x="160.00" y="328.00" width="6.54" height="8.00" fill="#b1c9fc"/>
<rect x="160.00" y="336.00" width="6.54" height="3.62" fill="#cebbfc"/>
<rect x="165.54" y="327.59" width="10.46" height="0.41" fill="#afcbfc"/>
<rect x="165.54" y="328.00" width="10.46" height="8.00" fill="#b1c9fc"/>
<rect x="165.54" y="336.00" width="10.46" height="3.62" fill="#cebbfc"/>
<rect x="176.00" y="327.59" width="2.86" height="0.41" fill="#aecbfc"/>
<rect x="176.00" y="328.00" width="2.86" height="8.00" fill="#aacdfc"/>
<rect x="176.00" y="336.00" width="2.86" height="3.62" fill="#e6aefc"/>
<rect x="177.86" y="327.59" width="13.33" height="0.41" fill="#8ca3fc"/>
<rect x="177.86" y="328.00" width="13.33" height="8.00" fill="#88a4fc"/>
<rect x="177.86" y="336.00" width="13.33" height="3.62" fill="#c586fc"/>
<rect x="190.19" y="327.59" width="1.81" height="0.41" fill="#b2d2f9"/>
<rect x="190.19" y="328.00" width="1.81" height="8.00" fill="#afd3f9"/>
<rect x="190.19" y="336.00" width="1.81" height="3.62" fill="#ebb5f9"/>
<rect x="192.00" y="327.59" width="11.52" height="0.41" fill="#b4d1f9"/>
<rect x="192.00" y="328.00" width="11.52" height="8.00" fill="#c6c8f9"/>
<rect x="192.00" y="336.00" width="11.52" height="3.62" fill="#c8c7f9"/>
<rect x="202.52" y="327.59" width="5.48" height="0.41" fill="#c0e9c6"/>
<rect x="202.52" y="328.00" width="5.48" height="8.00" fill="#d2e0c6"/>
<rect x="202.52" y="336.00" width="5.48" height="3.62" fill="#d4dfc6"/>
<rect x="208.00" y="327.59" width="7.85" height="0.41" fill="#c1e9c6"/>
<rect x="208.00" y="328.00" width="7.85" height="8.00" fill="#dddac6"/>
<rect x="208.00" y="336.00" width="7.85" height="3.62" fill="#d7ddc6"/>
<rect x="214.85" y="327.59" width="9.15" height="0.41" fill="#c3e5e5"/>
<rect x="214.85" y="328.00" width="9.15" height="8.00" fill="#dfd6e5"/>
<rect x="214.85" y="336.00" width="9.15" height="3.62" fill="#d9d9e5"/>
<rect x="224.00" y="327.59" width="4.18" height="0.41" fill="#bfe6e5"/>
<rect x="224.00" y="328.00" width="4.18" height="8.00" fill="#cedfe5"/>
<rect x="224.00" y="336.00" width="4.18" height="3.62" fill="#d5dce5"/>
<rect x="227.18" y="327.59" width="12.82" height="0.41" fill="#baddf1"/>
<rect x="227.18" y="328.00" width="12.82" height="8.00" fill="#c8d5f1"/>
<rect x="227.18" y="336.00" width="12.82" height="3.62" fill="#cfd2f1"/>
<rect x="240.00" y="327.59" width="0.51" height="0.41" fill="#bcdcf1"/>
<rect x="240.00" y="328.00" width="0.51" height="8.00" fill="#b4e0f1"/>
<rect x="240.00" y="336.00" width="0.51" height="3.62" fill="#c6d7f1"/>
<rect x="239.51" y="327.59" width="0.49" height="0.41" fill="#778df3"/>
<rect x="239.51" y="328.00" width="0.49" height="8.00" fill="#8686f3"/>
<rect x="239.51" y="336.00" width="0.49" height="3.62" fill="#8c83f3"/>
<rect x="240.00" y="327.59" width="12.84" height="0.41" fill="#798cf3"/>
<rect x="240.00" y="328.00" width="12.84" height="8.00" fill="#7290f3"/>
<rect x="240.00" y="336.00" width="12.84" height="3.62" fill="#8487f3"/>
<rect x="251.84" y="327.59" width="4.16" height="0.41" fill="#6d7feb"/>
<rect x="251.84" y="328.00" width="4.16" height="8.00" fill="#6583eb"/>
<rect x="251.84" y="336.00" width="4.16" height="3.62" fill="#777aeb"/>
<rect x="256.00" y="327.59" width="9.17" height="0.41" fill="#6d7feb"/>
<rect x="256.00" y="328.00" width="9.17" height="8.00" fill="#6682eb"/>
<rect x="256.00" y="336.00" width="9.17" height="3.62" fill="#767aeb"/>
<rect x="264.17" y="327.59" width="7.83" height="0.41" fill="#96acfe"/>
<rect x="264.17" y="328.00" width="7.83" height="8.00" fill="#8faffe"/>
<rect x="264.17" y="336.00" width="7.83" height="3.62" fill="#9ea7fe"/>
<rect x="272.00" y="327.59" width="5.50" height="0.41" fill="#95acfe"/>
<rect x="272.00" y="328.00" width="5.50" height="8.00" fill="#92aefe"/>
<rect x="272.00" y="336.00" width="5.50" height="3.62" fill="#a0a7fe"/>
<rect x="276.50" y="327.59" width="11.50" height="0.41" fill="#a1baff"/>
<rect x="276.50" y="328.00" width="11.50" height="8.00" fill="#9ebcff"/>
<rect x="276.50" y="336.00" width="11.50" height="3.62" fill="#acb5ff"/>
<rect x="288.00" y="327.59" width="1.83" height="0.41" fill="#a1baff"/>
<rect x="288.00" y="328.00" width="1.83" height="8.00" fill="#a0bbff"/>
<rect x="288.00" y="336.00" width="1.83" height="3.62" fill="#adb4ff"/>
<rect x="288.83" y="327.59" width="13.33" height="0.41" fill="#aac5fd"/>
<rect x="288.83" y="328.00" width="13.33" height="8.00" fill="#a9c6fd"/>
<rect x="288.83" y="336.00" width="13.33" height="3.62" fill="#b5bffd"/>
<rect x="301.16" y="327.59" width="2.84" height="0.41" fill="#98b0fe"/>
<rect x="301.16" y="328.00" width="2.84" height="8.00" fill="#98b0fe"/>
<rect x="301.16" y="336.00" width="2.84" height="3.62" fill="#a4aafe"/>
<rect x="304.00" y="327.59" width="10.49" height="0.41" fill="#99b0fe"/>
<rect x="304.00" y="328.00" width="10.49" height="8.00" fill="#95b2fe"/>
<rect x="304.00" y="336.00" width="10.49" height="3.62" fill="#9caefe"/>
<rect x="313.49" y="327.59" width="6.51" height="0.41" fill="#a4bcff"/>
<rect x="313.49" y="328.00" width="6.51" height="8.00" fill="#9fbfff"/>
<rect x="313.49" y="336.00" width="6.51" height="3.62" fill="#a6bbff"/>
<rect x="320.00" y="327.59" width="6.82" height="0.41" fill="#a4bdff"/>
<rect x="320.00" y="328.00" width="6.82" height="8.00" fill="#a1beff"/>
<rect x="320.00" y="336.00" width="6.82" height="3.62" fill="#afb7ff"/>
<rect x="325.82" y="327.59" width="10.18" height="0.41" fill="#a4bdff"/>
<rect x="325.82" y="328.00" width="10.18" height="8.00" fill="#a1beff"/>
<rect x="325.82" y="336.00" width="10.18" height="3.62" fill="#afb7ff"/>
<rect x="336.00" y="327.59" width="3.15" height="0.41" fill="#a2bdff"/>
<rect x="336.00" y="328.00" width="3.15" height="8.00" fill="#a0bfff"/>
<rect x="336.00" y="336.00" width="3.15" height="3.62" fill="#bab1ff"/>
<rect x="338.15" y="327.59" width="13.33" height="0.41" fill="#a2bdff"/>
<rect x="338.15" y="328.00" width="13.33" height="8.00" fill="#a0bfff"/>
<rect x="338.15" y="336.00" width="13.33" height="3.62" fill="#bab1ff"/>
<rect x="350.48" y="327.59" width="1.52" height="0.41" fill="#8ba1fb"/>
<rect x="350.48" y="328.00" width="1.52" height="8.00" fill="#88a3fb"/>
<rect x="350.48" y="336.00" width="1.52" height="3.62" fill="#a295fb"/>
<rect x="352.00" y="327.59" width="11.81" height="0.41" fill="#8ba1fb"/>
<rect x="352.00" y="328.00" width="11.81" height="8.00" fill="#88a3fb"/>
<rect x="352.00" y="336.00" width="11.81" height="3.62" fill="#bb89fb"/>
<rect x="362.81" y="327.59" width="5.19" height="0.41" fill="#aecbfc"/>
<rect x="362.81" y="328.00" width="5.19" height="8.00" fill="#abcdfc"/>
<rect x="362.81" y="336.00" width="5.19" height="3.62" fill="#deb3fc"/>
<rect x="368.00" y="327.59" width="8.14" height="0.41" fill="#afcafc"/>
<rect x="368.00" y="328.00" width="8.14" height="8.00" fill="#c6bffc"/>
<rect x="368.00" y="336.00" width="8.14" height="3.62" fill="#bfc3fc"/>
<rect x="375.14" y="327.59" width="8.86" height="0.41" fill="#c1e9c8"/>
<rect x="375.14" y="328.00" width="8.86" height="8.00" fill="#d8dec8"/>
<rect x="375.14" y="336.00" width="8.86" height="3.62" fill="#d0e1c8"/>
<rect x="384.00" y="327.59" width="4.46" height="0.41" fill="#c2e9c8"/>
<rect x="384.00" y="328.00" width="4.46" height="8.00" fill="#d6dfc8"/>
<rect x="384.00" y="336.00" width="4.46" height="3.62" fill="#cae4c8"/>
<rect x="387.46" y="327.59" width="12.54" height="0.41" fill="#c1e1ea"/>
<rect x="387.46" y="328.00" width="12.54" height="8.00" fill="#d5d7ea"/>
<rect x="387.46" y="336.00" width="12.54" height="3.62" fill="#caddea"/>
<rect x="400.00" y="327.59" width="0.79" height="0.41" fill="#fac4ea"/>
<rect x="400.00" y="328.00" width="0.79" height="8.00" fill="#dcd3ea"/>
<rect x="400.00" y="336.00" width="0.79" height="3.62" fill="#cedbea"/>
<rect x="399.79" y="327.59" width="0.21" height="0.41" fill="#bad7f5"/>
<rect x="399.79" y="328.00" width="0.21" height="8.00" fill="#cecdf5"/>
<rect x="399.79" y="336.00" width="0.21" height="3.62" fill="#c3d2f5"/>
<rect x="400.00" y="327.59" width="13.12" height="0.41" fill="#f3baf5"/>
<rect x="400.00" y="328.00" width="13.12" height="8.00" fill="#d5c9f5"/>
<rect x="400.00" y="336.00" width="13.12" height="3.62" fill="#c7d0f5"/>
<rect x="412.12" y="327.59" width="3.88" height="0.41" fill="#cda574"/>
<rect x="412.12" y="328.00" width="3.88" height="8.00" fill="#afb474"/>
<rect x="412.12" y="336.00" width="3.88" height="3.62" fill="#a0bc74"/>
<rect x="416.00" y="327.59" width="9.45" height="0.41" fill="#95c274"/>
<rect x="416.00" y="328.00" width="9.45" height="8.00" fill="#bfac74"/>
<rect x="416.00" y="336.00" width="9.45" height="3.62" fill="#c2aa74"/>
<rect x="424.45" y="327.59" width="7.55" height="0.41" fill="#6c7be9"/>
<rect x="424.45" y="328.00" width="7.55" height="8.00" fill="#9765e9"/>
<rect x="424.45" y="336.00" width="7.55" height="3.62" fill="#9a63e9"/>
<rect x="432.00" y="327.59" width="5.78" height="0.41" fill="#697ce9"/>
<rect x="432.00" y="328.00" width="5.78" height="8.00" fill="#647fe9"/>
<rect x="432.00" y="336.00" width="5.78" height="3.62" fill="#7a73e9"/>
<rect x="436.78" y="327.59" width="11.22" height="0.41" fill="#697ce9"/>
<rect x="436.78" y="328.00" width="11.22" height="8.00" fill="#647fe9"/>
<rect x="436.78" y="336.00" width="11.22" height="3.62" fill="#7a73e9"/>
<rect x="448.00" y="327.59" width="2.11" height="0.41" fill="#6b7be9"/>
<rect x="448.00" y="328.00" width="2.11" height="8.00" fill="#6b7be9"/>
<rect x="448.00" y="336.00" width="2.11" height="3.62" fill="#6a7ce9"/>
<rect x="449.11" y="327.59" width="13.33" height="0.41" fill="#3d4bc0"/>
<rect x="449.11" y="328.00" width="13.33" height="8.00" fill="#3c4bc0"/>
<rect x="449.11" y="336.00" width="13.33" height="3.62" fill="#3c4cc0"/>
<rect x="461.44" y="327.59" width="2.56" height="0.41" fill="#3d4bc0"/>
<rect x="461.44" y="328.00" width="2.56" height="8.00" fill="#3c4bc0"/>
<rect x="461.44" y="336.00" width="2.56" height="3.62" fill="#3c4cc0"/>
<rect x="464.00" y="327.59" width="10.77" height="0.41" fill="#3d4bc0"/>
<rect x="464.00" y="328.00" width="10.77" height="8.00" fill="#3d4bc0"/>
<rect x="464.00" y="336.00" width="10.77" height="3.62" fill="#3c4bc0"/>
<rect x="473.77" y="327.59" width="6.23" height="0.41" fill="#3d4bc0"/>
<rect x="473.77" y="328.00" width="6.23" height="8.00" fill="#3d4bc0"/>
<rect x="473.77" y="336.00" width="6.23" height="3.62" fill="#3c4bc0"/>
<rect x="480.00" y="327.59" width="7.10" height="0.41" fill="#4b44c0"/>
<rect x="480.00" y="328.00" width="7.10" height="8.00" fill="#4b44c0"/>
<rect x="480.00" y="336.00" width="7.10" height="3.62" fill="#4b44c0"/>
<rect x="66.90" y="338.62" width="13.10" height="5.38" fill="#d9d4af"/>
<rect x="66.90" y="344.00" width="13.10" height="6.66" fill="#f6c4af"/>
<rect x="80.00" y="338.62" width="0.23" height="5.38" fill="#d0d8af"/>
<rect x="80.00" y="344.00" width="0.23" height="6.66" fill="#edc9af"/>
<rect x="79.23" y="338.62" width="0.77" height="5.38" fill="#e3d9cf"/>
<rect x="79.23" y="344.00" width="0.77" height="6.66" fill="#ffcacf"/>
<rect x="80.00" y="338.62" width="12.56" height="5.38" fill="#daddcf"/>
<rect x="80.00" y="344.00" width="12.56" height="6.66" fill="#f7cfcf"/>
<rect x="91.56" y="338.62" width="4.44" height="5.38" fill="#d5dbba"/>
<rect x="91.56" y="344.00" width="4.44" height="6.66" fill="#f1ccba"/>
<rect x="96.00" y="338.62" width="8.89" height="5.38" fill="#d8d9ba"/>
<rect x="96.00" y="344.00" width="8.89" height="6.66" fill="#f9c8ba"/>
<rect x="103.89" y="338.62" width="8.11" height="5.38" fill="#dddcce"/>
<rect x="103.89" y="344.00" width="8.11" height="6.66" fill="#fecbce"/>
<rect x="112.00" y="338.62" width="5.22" height="5.38" fill="#d5e0ce"/>
<rect x="112.00" y="344.00" width="5.22" height="6.66" fill="#f5cfce"/>
<rect x="116.22" y="338.62" width="11.78" height="5.38" fill="#d7e0d9"/>
<rect x="116.22" y="344.00" width="11.78" height="6.66" fill="#f7cfd9"/>
<rect x="128.00" y="338.62" width="1.55" height="5.38" fill="#daded9"/>
<rect x="128.00" y="344.00" width="1.55" height="6.66" fill="#fbcdd9"/>
<rect x="128.55" y="338.62" width="13.33" height="5.38" fill="#d9decf"/>
<rect x="128.55" y="344.00" width="13.33" height="6.66" fill="#facecf"/>
<rect x="140.88" y="338.62" width="3.12" height="5.38" fill="#dadedd"/>
<rect x="140.88" y="344.00" width="3.12" height="6.66" fill="#fbcddd"/>
<rect x="144.00" y="338.62" width="10.21" height="5.38" fill="#d8dfdd"/>
<rect x="144.00" y="344.00" width="10.21" height="6.66" fill="#facddd"/>
<rect x="153.21" y="338.62" width="6.79" height="5.38" fill="#d5dfcb"/>
<rect x="153.21" y="344.00" width="6.79" height="6.66" fill="#f7cecb"/>
<rect x="160.00" y="338.62" width="6.54" height="5.38" fill="#e0dacb"/>
<rect x="160.00" y="344.00" width="6.54" height="6.66" fill="#ffc6cb"/>
<rect x="165.54" y="338.62" width="10.46" height="5.38" fill="#dcd7ba"/>
<rect x="165.54" y="344.00" width="10.46" height="6.66" fill="#ffc4ba"/>
<rect x="176.00" y="338.62" width="2.86" height="5.38" fill="#f4cbba"/>
<rect x="176.00" y="344.00" width="2.86" height="6.66" fill="#ffb5ba"/>
<rect x="177.86" y="338.62" width="13.33" height="5.38" fill="#bc9965"/>
<rect x="177.86" y="344.00" width="13.33" height="6.66" fill="#e88365"/>
<rect x="190.19" y="338.62" width="1.81" height="5.38" fill="#faced6"/>
<rect x="190.19" y="344.00" width="1.81" height="6.66" fill="#ffb7d6"/>
<rect x="192.00" y="338.62" width="11.52" height="5.38" fill="#d7dfd6"/>
<rect x="192.00" y="344.00" width="11.52" height="6.66" fill="#f5d0d6"/>
<rect x="202.52" y="338.62" width="5.48" height="5.38" fill="#c9c9f8"/>
<rect x="202.52" y="344.00" width="5.48" height="6.66" fill="#e8b9f8"/>
<rect x="208.00" y="338.62" width="7.85" height="5.38" fill="#cdc7f8"/>
<rect x="208.00" y="344.00" width="7.85" height="6.66" fill="#e7b9f8"/>
<rect x="214.85" y="338.62" width="9.15" height="5.38" fill="#daded5"/>
<rect x="214.85" y="344.00" width="9.15" height="6.66" fill="#f5d0d5"/>
<rect x="224.00" y="338.62" width="4.18" height="5.38" fill="#d6e0d5"/>
<rect x="224.00" y="344.00" width="4.18" height="6.66" fill="#f5d0d5"/>
<rect x="227.18" y="338.62" width="12.82" height="5.38" fill="#d5dce5"/>
<rect x="227.18" y="344.00" width="12.82" height="6.66" fill="#f4cce5"/>
<rect x="240.00" y="338.62" width="0.51" height="5.38" fill="#cce0e5"/>
<rect x="240.00" y="344.00" width="0.51" height="6.66" fill="#e1d6e5"/>
<rect x="239.51" y="338.62" width="0.49" height="5.38" fill="#d6e0d6"/>
<rect x="239.51" y="344.00" width="0.49" height="6.66" fill="#f5d0d6"/>
<rect x="240.00" y="338.62" width="12.84" height="5.38" fill="#cde5d6"/>
<rect x="240.00" y="344.00" width="12.84" height="6.66" fill="#e2dad6"/>
<rect x="251.84" y="338.62" width="4.16" height="5.38" fill="#9094f9"/>
<rect x="251.84" y="344.00" width="4.16" height="6.66" fill="#a48af9"/>
<rect x="256.00" y="338.62" width="9.17" height="5.38" fill="#8e95f9"/>
<rect x="256.00" y="344.00" width="9.17" height="6.66" fill="#a08cf9"/>
<rect x="264.17" y="338.62" width="7.83" height="5.38" fill="#c8e4c3"/>
<rect x="264.17" y="344.00" width="7.83" height="6.66" fill="#dadbc3"/>
<rect x="272.00" y="338.62" width="5.50" height="5.38" fill="#c9e4c3"/>
<rect x="272.00" y="344.00" width="5.50" height="6.66" fill="#e5d5c3"/>
<rect x="276.50" y="338.62" width="11.50" height="5.38" fill="#c2d0f6"/>
<rect x="276.50" y="344.00" width="11.50" height="6.66" fill="#ddc2f6"/>
<rect x="288.00" y="338.62" width="1.83" height="5.38" fill="#c2d0f6"/>
<rect x="288.00" y="344.00" width="1.83" height="6.66" fill="#dfc1f6"/>
<rect x="288.83" y="338.62" width="13.33" height="5.38" fill="#cee2e0"/>
<rect x="288.83" y="344.00" width="13.33" height="6.66" fill="#ebd4e0"/>
<rect x="301.16" y="338.62" width="2.84" height="5.38" fill="#adb4ff"/>
<rect x="301.16" y="344.00" width="2.84" height="6.66" fill="#caa6ff"/>
<rect x="304.00" y="338.62" width="10.49" height="5.38" fill="#a4b9ff"/>
<rect x="304.00" y="344.00" width="10.49" height="6.66" fill="#b9aeff"/>
<rect x="313.49" y="338.62" width="6.51" height="5.38" fill="#c5e6e2"/>
<rect x="313.49" y="344.00" width="6.51" height="6.66" fill="#dadbe2"/>
<rect x="320.00" y="338.62" width="6.82" height="5.38" fill="#cee1e2"/>
<rect x="320.00" y="344.00" width="6.82" height="6.66" fill="#ecd2e2"/>
<rect x="325.82" y="338.62" width="10.18" height="5.38" fill="#ccdee8"/>
<rect x="325.82" y="344.00" width="10.18" height="6.66" fill="#eacee8"/>
<rect x="336.00" y="338.62" width="3.15" height="5.38" fill="#d7d8e8"/>
<rect x="336.00" y="344.00" width="3.15" height="6.66" fill="#f9c7e8"/>
<rect x="338.15" y="338.62" width="13.33" height="5.38" fill="#d9dfd6"/>
<rect x="338.15" y="344.00" width="13.33" height="6.66" fill="#fbcdd6"/>
<rect x="350.48" y="338.62" width="1.52" height="5.38" fill="#9ead68"/>
<rect x="350.48" y="344.00" width="1.52" height="6.66" fill="#c09c68"/>
<rect x="352.00" y="338.62" width="11.81" height="5.38" fill="#b6a168"/>
<rect x="352.00" y="344.00" width="11.81" height="6.66" fill="#df8c68"/>
<rect x="362.81" y="338.62" width="5.19" height="5.38" fill="#f1cfe3"/>
<rect x="362.81" y="344.00" width="5.19" height="6.66" fill="#ffbae3"/>
<rect x="368.00" y="338.62" width="8.14" height="5.38" fill="#d2dee3"/>
<rect x="368.00" y="344.00" width="8.14" height="6.66" fill="#ecd1e3"/>
<rect x="375.14" y="338.62" width="8.86" height="5.38" fill="#c3c9f9"/>
<rect x="375.14" y="344.00" width="8.86" height="6.66" fill="#debbf9"/>
<rect x="384.00" y="338.62" width="4.46" height="5.38" fill="#beccf9"/>
<rect x="384.00" y="344.00" width="4.46" height="6.66" fill="#d8bef9"/>
<rect x="387.46" y="338.62" width="12.54" height="5.38" fill="#beccf9"/>
<rect x="387.46" y="344.00" width="12.54" height="6.66" fill="#d8bef9"/>
<rect x="400.00" y="338.62" width="0.79" height="5.38" fill="#c2caf9"/>
<rect x="400.00" y="344.00" width="0.79" height="6.66" fill="#dcbcf9"/>
<rect x="399.79" y="338.62" width="0.21" height="5.38" fill="#c6d7f1"/>
<rect x="399.79" y="344.00" width="0.21" height="6.66" fill="#e0c9f1"/>
<rect x="400.00" y="338.62" width="13.12" height="5.38" fill="#cad5f1"/>
<rect x="400.00" y="344.00" width="13.12" height="6.66" fill="#e4c7f1"/>
<rect x="412.12" y="338.62" width="3.88" height="5.38" fill="#9e9efc"/>
<rect x="412.12" y="344.00" width="3.88" height="6.66" fill="#b890fc"/>
<rect x="416.00" y="338.62" width="9.45" height="5.38" fill="#bf8dfc"/>
<rect x="416.00" y="344.00" width="9.45" height="6.66" fill="#dc7efc"/>
<rect x="424.45" y="338.62" width="7.55" height="5.38" fill="#99814b"/>
<rect x="424.45" y="344.00" width="7.55" height="6.66" fill="#b6724b"/>
<rect x="432.00" y="338.62" width="5.78" height="5.38" fill="#79914b"/>
<rect x="432.00" y="344.00" width="5.78" height="6.66" fill="#a87a4b"/>
<rect x="436.78" y="338.62" width="11.22" height="5.38" fill="#a09dfc"/>
<rect x="436.78" y="344.00" width="11.22" height="6.66" fill="#ce85fc"/>
<rect x="448.00" y="338.62" width="2.11" height="5.38" fill="#90a5fc"/>
<rect x="448.00" y="344.00" width="2.11" height="6.66" fill="#93a3fc"/>
<rect x="449.11" y="338.62" width="13.33" height="5.38" fill="#3c4cc0"/>
<rect x="449.11" y="344.00" width="13.33" height="6.66" fill="#3e4ac0"/>
<rect x="461.44" y="338.62" width="2.56" height="5.38" fill="#3c4cc0"/>
<rect x="461.44" y="344.00" width="2.56" height="6.66" fill="#3e4ac0"/>
<rect x="464.00" y="338.62" width="10.77" height="5.38" fill="#3c4bc0"/>
<rect x="464.00" y="344.00" width="10.77" height="6.66" fill="#3c4cc0"/>
<rect x="473.77" y="338.62" width="6.23" height="5.38" fill="#3c4bc0"/>
<rect x="473.77" y="344.00" width="6.23" height="6.66" fill="#3c4cc0"/>
<rect x="480.00" y="338.62" width="7.10" height="5.38" fill="#4b44c0"/>
<rect x="480.00" y="344.00" width="7.10" height="6.66" fill="#4b44c0"/>
<rect x="66.90" y="349.66" width="13.10" height="2.34" fill="#bf9160"/>
<rect x="66.90" y="352.00" width="13.10" height="8.00" fill="#d68660"/>
<rect x="66.90" y="360.00" width="13.10" height="1.69" fill="#87ae60"/>
<rect x="80.00" y="349.66" width="0.23" height="2.34" fill="#b69660"/>
<rect x="80.00" y="352.00" width="0.23" height="8.00" fill="#d18860"/>
<rect x="80.00" y="360.00" width="0.23" height="1.69" fill="#81b160"/>
<rect x="79.23" y="349.66" width="0.77" height="2.34" fill="#edbd9c"/>
<rect x="79.23" y="352.00" width="0.77" height="8.00" fill="#ffb19c"/>
<rect x="79.23" y="360.00" width="0.77" height="1.69" fill="#b5d99c"/>
<rect x="80.00" y="349.66" width="12.56" height="2.34" fill="#e4c29c"/>
<rect x="80.00" y="352.00" width="12.56" height="8.00" fill="#ffb49c"/>
<rect x="80.00" y="360.00" width="12.56" height="1.69" fill="#afdc9c"/>
<rect x="91.56" y="349.66" width="4.44" height="2.34" fill="#a3834f"/>
<rect x="91.56" y="352.00" width="4.44" height="8.00" fill="#be764f"/>
<rect x="91.56" y="360.00" width="4.44" height="1.69" fill="#6e9e4f"/>
<rect x="96.00" y="349.66" width="8.89" height="2.34" fill="#ab804f"/>
<rect x="96.00" y="352.00" width="8.89" height="8.00" fill="#cd6e4f"/>
<rect x="96.00" y="360.00" width="8.89" height="1.69" fill="#719d4f"/>
<rect x="103.89" y="349.66" width="8.11" height="2.34" fill="#dbaf83"/>
<rect x="103.89" y="352.00" width="8.11" height="8.00" fill="#fd9e83"/>
<rect x="103.89" y="360.00" width="8.11" height="1.69" fill="#a1cd83"/>
<rect x="112.00" y="349.66" width="5.22" height="2.34" fill="#d2b483"/>
<rect x="112.00" y="352.00" width="5.22" height="8.00" fill="#ff9d83"/>
<rect x="112.00" y="360.00" width="5.22" height="1.69" fill="#a1cd83"/>
<rect x="116.22" y="349.66" width="11.78" height="2.34" fill="#ad8f59"/>
<rect x="116.22" y="352.00" width="11.78" height="8.00" fill="#db7859"/>
<rect x="116.22" y="360.00" width="11.78" height="1.69" fill="#7ca859"/>
<rect x="128.00" y="349.66" width="1.55" height="2.34" fill="#b18d59"/>
<rect x="128.00" y="352.00" width="1.55" height="8.00" fill="#e07659"/>
<rect x="128.00" y="360.00" width="1.55" height="1.69" fill="#7ba959"/>
<rect x="128.55" y="349.66" width="13.33" height="2.34" fill="#b28f5b"/>
<rect x="128.55" y="352.00" width="13.33" height="8.00" fill="#e1775b"/>
<rect x="128.55" y="360.00" width="13.33" height="1.69" fill="#7caa5b"/>
<rect x="140.88" y="349.66" width="3.12" height="2.34" fill="#ba9662"/>
<rect x="140.88" y="352.00" width="3.12" height="8.00" fill="#e97e62"/>
<rect x="140.88" y="360.00" width="3.12" height="1.69" fill="#84b262"/>
<rect x="144.00" y="349.66" width="10.21" height="2.34" fill="#b89762"/>
<rect x="144.00" y="352.00" width="10.21" height="8.00" fill="#eb7e62"/>
<rect x="144.00" y="360.00" width="10.21" height="1.69" fill="#85b162"/>
<rect x="153.21" y="349.66" width="6.79" height="2.34" fill="#977545"/>
<rect x="153.21" y="352.00" width="6.79" height="8.00" fill="#c95b45"/>
<rect x="153.21" y="360.00" width="6.79" height="1.69" fill="#648f45"/>
<rect x="160.00" y="349.66" width="6.54" height="2.34" fill="#a66d45"/>
<rect x="160.00" y="352.00" width="6.54" height="8.00" fill="#d55645"/>
<rect x="160.00" y="360.00" width="6.54" height="1.69" fill="#668e45"/>
<rect x="165.54" y="349.66" width="10.46" height="2.34" fill="#8e5335"/>
<rect x="165.54" y="352.00" width="10.46" height="8.00" fill="#bc3b35"/>
<rect x="165.54" y="360.00" width="10.46" height="1.69" fill="#4d7435"/>
<rect x="176.00" y="349.66" width="2.86" height="2.34" fill="#ab4435"/>
<rect x="176.00" y="352.00" width="2.86" height="8.00" fill="#c33835"/>
<rect x="176.00" y="360.00" width="2.86" height="1.69" fill="#4c7435"/>
<rect x="177.86" y="349.66" width="13.33" height="2.34" fill="#a1382f"/>
<rect x="177.86" y="352.00" width="13.33" height="8.00" fill="#b82c2f"/>
<rect x="177.86" y="360.00" width="13.33" height="1.69" fill="#41692f"/>
<rect x="190.19" y="349.66" width="1.81" height="2.34" fill="#cc674b"/>
<rect x="190.19" y="352.00" width="1.81" height="8.00" fill="#e45b4b"/>
<rect x="190.19" y="360.00" width="1.81" height="1.69" fill="#6d974b"/>
<rect x="192.00" y="349.66" width="11.52" height="2.34" fill="#9c804b"/>
<rect x="192.00" y="352.00" width="11.52" height="8.00" fill="#d9604b"/>
<rect x="192.00" y="360.00" width="11.52" height="1.69" fill="#6e974b"/>
<rect x="202.52" y="349.66" width="5.48" height="2.34" fill="#7d5f36"/>
<rect x="202.52" y="352.00" width="5.48" height="8.00" fill="#ba3f36"/>
<rect x="202.52" y="360.00" width="5.48" height="1.69" fill="#4f7636"/>
<rect x="208.00" y="349.66" width="7.85" height="2.34" fill="#7c5f36"/>
<rect x="208.00" y="352.00" width="7.85" height="8.00" fill="#bb3f36"/>
<rect x="208.00" y="360.00" width="7.85" height="1.69" fill="#4f7636"/>
<rect x="214.85" y="349.66" width="9.15" height="2.34" fill="#967b47"/>
<rect x="214.85" y="352.00" width="9.15" height="8.00" fill="#d55b47"/>
<rect x="214.85" y="360.00" width="9.15" height="1.69" fill="#699247"/>
<rect x="224.00" y="349.66" width="4.18" height="2.34" fill="#967a47"/>
<rect x="224.00" y="352.00" width="4.18" height="8.00" fill="#d35c47"/>
<rect x="224.00" y="360.00" width="4.18" height="1.69" fill="#689247"/>
<rect x="227.18" y="349.66" width="12.82" height="2.34" fill="#937745"/>
<rect x="227.18" y="352.00" width="12.82" height="8.00" fill="#cf5845"/>
<rect x="227.18" y="360.00" width="12.82" height="1.69" fill="#648f45"/>
<rect x="240.00" y="349.66" width="0.51" height="2.34" fill="#7f8145"/>
<rect x="240.00" y="352.00" width="0.51" height="8.00" fill="#977545"/>
<rect x="240.00" y="360.00" width="0.51" height="1.69" fill="#5f9145"/>
<rect x="239.51" y="349.66" width="0.49" height="2.34" fill="#dcbf94"/>
<rect x="239.51" y="352.00" width="0.49" height="8.00" fill="#ffa094"/>
<rect x="239.51" y="360.00" width="0.49" height="1.69" fill="#aed794"/>
<rect x="240.00" y="349.66" width="12.84" height="2.34" fill="#c9c994"/>
<rect x="240.00" y="352.00" width="12.84" height="8.00" fill="#e0bd94"/>
<rect x="240.00" y="360.00" width="12.84" height="1.69" fill="#a9da94"/>
<rect x="251.84" y="349.66" width="4.16" height="2.34" fill="#c7b3fe"/>
<rect x="251.84" y="352.00" width="4.16" height="8.00" fill="#dfa7fe"/>
<rect x="251.84" y="360.00" width="4.16" height="1.69" fill="#a7c3fe"/>
<rect x="256.00" y="349.66" width="9.17" height="2.34" fill="#c4b5fe"/>
<rect x="256.00" y="352.00" width="9.17" height="8.00" fill="#d9aafe"/>
<rect x="256.00" y="360.00" width="9.17" height="1.69" fill="#a8c3fe"/>
<rect x="264.17" y="349.66" width="7.83" height="2.34" fill="#9ba460"/>
<rect x="264.17" y="352.00" width="7.83" height="8.00" fill="#b19960"/>
<rect x="264.17" y="360.00" width="7.83" height="1.69" fill="#7fb260"/>
<rect x="272.00" y="349.66" width="5.50" height="2.34" fill="#a79e60"/>
<rect x="272.00" y="352.00" width="5.50" height="8.00" fill="#d38760"/>
<rect x="272.00" y="360.00" width="5.50" height="1.69" fill="#82b160"/>
<rect x="276.50" y="349.66" width="11.50" height="2.34" fill="#cfc593"/>
<rect x="276.50" y="352.00" width="11.50" height="8.00" fill="#fcae93"/>
<rect x="276.50" y="360.00" width="11.50" height="1.69" fill="#aad793"/>
<rect x="288.00" y="349.66" width="1.83" height="2.34" fill="#d1c493"/>
<rect x="288.00" y="352.00" width="1.83" height="8.00" fill="#ffaa93"/>
<rect x="288.00" y="360.00" width="1.83" height="1.69" fill="#aad793"/>
<rect x="288.83" y="349.66" width="13.33" height="2.34" fill="#a89d60"/>
<rect x="288.83" y="352.00" width="13.33" height="8.00" fill="#da8460"/>
<rect x="288.83" y="360.00" width="13.33" height="1.69" fill="#81b160"/>
<rect x="301.16" y="349.66" width="2.84" height="2.34" fill="#e8d5c6"/>
<rect x="301.16" y="352.00" width="2.84" height="8.00" fill="#ffbcc6"/>
<rect x="301.16" y="360.00" width="2.84" height="1.69" fill="#c1e9c6"/>
<rect x="304.00" y="349.66" width="10.49" height="2.34" fill="#d8ddc6"/>
<rect x="304.00" y="352.00" width="10.49" height="8.00" fill="#ffc9c6"/>
<rect x="304.00" y="360.00" width="10.49" height="1.69" fill="#bfeac6"/>
<rect x="313.49" y="349.66" width="6.51" height="2.34" fill="#a8b471"/>
<rect x="313.49" y="352.00" width="6.51" height="8.00" fill="#cfa071"/>
<rect x="313.49" y="360.00" width="6.51" height="1.69" fill="#8fc171"/>
<rect x="320.00" y="349.66" width="6.82" height="2.34" fill="#b9ab71"/>
<rect x="320.00" y="352.00" width="6.82" height="8.00" fill="#ea9271"/>
<rect x="320.00" y="360.00" width="6.82" height="1.69" fill="#92bf71"/>
<rect x="325.82" y="349.66" width="10.18" height="2.34" fill="#bcae74"/>
<rect x="325.82" y="352.00" width="10.18" height="8.00" fill="#ec9574"/>
<rect x="325.82" y="360.00" width="10.18" height="1.69" fill="#95c274"/>
<rect x="336.00" y="349.66" width="3.15" height="2.34" fill="#cba674"/>
<rect x="336.00" y="352.00" width="3.15" height="8.00" fill="#f98e74"/>
<rect x="336.00" y="360.00" width="3.15" height="1.69" fill="#94c274"/>
<rect x="338.15" y="349.66" width="13.33" height="2.34" fill="#b99560"/>
<rect x="338.15" y="352.00" width="13.33" height="8.00" fill="#e87d60"/>
<rect x="338.15" y="360.00" width="13.33" height="1.69" fill="#83b060"/>
<rect x="350.48" y="349.66" width="1.52" height="2.34" fill="#785030"/>
<rect x="350.48" y="352.00" width="1.52" height="8.00" fill="#a73930"/>
<rect x="350.48" y="360.00" width="1.52" height="1.69" fill="#426c30"/>
<rect x="352.00" y="349.66" width="11.81" height="2.34" fill="#974030"/>
<rect x="352.00" y="352.00" width="11.81" height="8.00" fill="#b23330"/>
<rect x="352.00" y="360.00" width="11.81" height="1.69" fill="#446b30"/>
<rect x="362.81" y="349.66" width="5.19" height="2.34" fill="#d88560"/>
<rect x="362.81" y="352.00" width="5.19" height="8.00" fill="#f37760"/>
<rect x="362.81" y="360.00" width="5.19" height="1.69" fill="#85af60"/>
<rect x="368.00" y="349.66" width="8.14" height="2.34" fill="#ab9c60"/>
<rect x="368.00" y="352.00" width="8.14" height="8.00" fill="#ed7a60"/>
<rect x="368.00" y="360.00" width="8.14" height="1.69" fill="#84af60"/>
<rect x="375.14" y="349.66" width="8.86" height="2.34" fill="#7c6c3b"/>
<rect x="375.14" y="352.00" width="8.86" height="8.00" fill="#bf4a3b"/>
<rect x="375.14" y="360.00" width="8.86" height="1.69" fill="#567f3b"/>
<rect x="384.00" y="349.66" width="4.46" height="2.34" fill="#766f3b"/>
<rect x="384.00" y="352.00" width="4.46" height="8.00" fill="#bc4b3b"/>
<rect x="384.00" y="360.00" width="4.46" height="1.69" fill="#567f3b"/>
<rect x="387.46" y="349.66" width="12.54" height="2.34" fill="#9d9759"/>
<rect x="387.46" y="352.00" width="12.54" height="8.00" fill="#e37459"/>
<rect x="387.46" y="360.00" width="12.54" height="1.69" fill="#7da859"/>
<rect x="400.00" y="349.66" width="0.79" height="2.34" fill="#a19559"/>
<rect x="400.00" y="352.00" width="0.79" height="8.00" fill="#ea7059"/>
<rect x="400.00" y="360.00" width="0.79" height="1.69" fill="#7da859"/>
<rect x="399.79" y="349.66" width="0.21" height="2.34" fill="#979154"/>
<rect x="399.79" y="352.00" width="0.21" height="8.00" fill="#dd6d54"/>
<rect x="399.79" y="360.00" width="0.21" height="1.69" fill="#76a254"/>
<rect x="400.00" y="349.66" width="13.12" height="2.34" fill="#9b8f54"/>
<rect x="400.00" y="352.00" width="13.12" height="8.00" fill="#e46a54"/>
<rect x="400.00" y="360.00" width="13.12" height="1.69" fill="#77a154"/>
<rect x="412.12" y="349.66" width="3.88" height="2.34" fill="#4c3926"/>
<rect x="412.12" y="352.00" width="3.88" height="8.00" fill="#951426"/>
<rect x="412.12" y="360.00" width="3.88" height="1.69" fill="#284b26"/>
<rect x="416.00" y="349.66" width="9.45" height="2.34" fill="#712626"/>
<rect x="416.00" y="352.00" width="9.45" height="8.00" fill="#ac0826"/>
<rect x="416.00" y="360.00" width="9.45" height="1.69" fill="#2b4a26"/>
<rect x="424.45" y="349.66" width="7.55" height="2.34" fill="#712626"/>
<rect x="424.45" y="352.00" width="7.55" height="8.00" fill="#ac0826"/>
<rect x="424.45" y="360.00" width="7.55" height="1.69" fill="#2b4a26"/>
<rect x="432.00" y="349.66" width="5.78" height="2.34" fill="#622e26"/>
<rect x="432.00" y="352.00" width="5.78" height="8.00" fill="#ab0826"/>
<rect x="432.00" y="360.00" width="5.78" height="1.69" fill="#2b4a26"/>
<rect x="436.78" y="349.66" width="11.22" height="2.34" fill="#622e26"/>
<rect x="436.78" y="352.00" width="11.22" height="8.00" fill="#ab0826"/>
<rect x="436.78" y="360.00" width="11.22" height="1.69" fill="#2b4a26"/>
<rect x="448.00" y="349.66" width="2.11" height="2.34" fill="#274c26"/>
<rect x="448.00" y="352.00" width="2.11" height="8.00" fill="#2f4826"/>
<rect x="448.00" y="360.00" width="2.11" height="1.69" fill="#513626"/>
<rect x="449.11" y="349.66" width="13.33" height="2.34" fill="#3e4ac0"/>
<rect x="449.11" y="352.00" width="13.33" height="8.00" fill="#4746c0"/>
<rect x="449.11" y="360.00" width="13.33" height="1.69" fill="#6934c0"/>
<rect x="461.44" y="349.66" width="2.56" height="2.34" fill="#3e4ac0"/>
<rect x="461.44" y="352.00" width="2.56" height="8.00" fill="#4746c0"/>
<rect x="461.44" y="360.00" width="2.56" height="1.69" fill="#6934c0"/>
<rect x="464.00" y="349.66" width="10.77" height="2.34" fill="#3c4cc0"/>
<rect x="464.00" y="352.00" width="10.77" height="8.00" fill="#3d4bc0"/>
<rect x="464.00" y="360.00" width="10.77" height="1.69" fill="#3d4bc0"/>
<rect x="473.77" y="349.66" width="6.23" height="2.34" fill="#3c4cc0"/>
<rect x="473.77" y="352.00" width="6.23" height="8.00" fill="#3d4bc0"/>
<rect x="473.77" y="360.00" width="6.23" height="1.69" fill="#3d4bc0"/>
<rect x="480.00" y="349.66" width="7.10" height="2.34" fill="#4b44c0"/>
<rect x="480.00" y="352.00" width="7.10" height="8.00" fill="#4b44c0"/>
<rect x="480.00" y="360.00" width="7.10" height="1.69" fill="#4b44c0"/>
<rect x="66.90" y="360.69" width="13.10" height="7.31" fill="#8d98f9"/>
<rect x="66.90" y="368.00" width="13.10" height="4.73" fill="#849cf9"/>
<rect x="80.00" y="360.69" width="0.23" height="7.31" fill="#879bf9"/>
<rect x="80.00" y="368.00" width="0.23" height="4.73" fill="#7ea0f9"/>
<rect x="79.23" y="360.69" width="0.77" height="7.31" fill="#838cf4"/>
<rect x="79.23" y="368.00" width="0.77" height="4.73" fill="#7991f4"/>
<rect x="80.00" y="360.69" width="12.56" height="7.31" fill="#7c8ff4"/>
<rect x="80.00" y="368.00" width="12.56" height="4.73" fill="#7394f4"/>
<rect x="91.56" y="360.69" width="4.44" height="7.31" fill="#8a9efa"/>
<rect x="91.56" y="368.00" width="4.44" height="4.73" fill="#80a2fa"/>
<rect x="96.00" y="360.69" width="8.89" height="7.31" fill="#8c9dfa"/>
<rect x="96.00" y="368.00" width="8.89" height="4.73" fill="#80a2fa"/>
<rect x="103.89" y="360.69" width="8.11" height="7.31" fill="#8392f6"/>
<rect x="103.89" y="368.00" width="8.11" height="4.73" fill="#7798f6"/>
<rect x="112.00" y="360.69" width="5.22" height="7.31" fill="#8392f6"/>
<rect x="112.00" y="368.00" width="5.22" height="4.73" fill="#7798f6"/>
<rect x="116.22" y="360.69" width="11.78" height="7.31" fill="#8c9cfa"/>
<rect x="116.22" y="368.00" width="11.78" height="4.73" fill="#80a2fa"/>
<rect x="128.00" y="360.69" width="1.55" height="7.31" fill="#8b9dfa"/>
<rect x="128.00" y="368.00" width="1.55" height="4.73" fill="#80a3fa"/>
<rect x="128.55" y="360.69" width="13.33" height="7.31" fill="#8799f9"/>
<rect x="128.55" y="368.00" width="13.33" height="4.73" fill="#7c9ef9"/>
<rect x="140.88" y="360.69" width="3.12" height="7.31" fill="#899af9"/>
<rect x="140.88" y="368.00" width="3.12" height="4.73" fill="#7da0f9"/>
<rect x="144.00" y="360.69" width="10.21" height="7.31" fill="#8a99f9"/>
<rect x="144.00" y="368.00" width="10.21" height="4.73" fill="#7ea0f9"/>
<rect x="153.21" y="360.69" width="6.79" height="7.31" fill="#8f9ffb"/>
<rect x="153.21" y="368.00" width="6.79" height="4.73" fill="#83a5fb"/>
<rect x="160.00" y="360.69" width="6.54" height="7.31" fill="#919efb"/>
<rect x="160.00" y="368.00" width="6.54" height="4.73" fill="#83a5fb"/>
<rect x="165.54" y="360.69" width="10.46" height="7.31" fill="#95a2fc"/>
<rect x="165.54" y="368.00" width="10.46" height="4.73" fill="#87a9fc"/>
<rect x="176.00" y="360.69" width="2.86" height="7.31" fill="#94a3fc"/>
<rect x="176.00" y="368.00" width="2.86" height="4.73" fill="#87a9fc"/>
<rect x="177.86" y="360.69" width="13.33" height="7.31" fill="#96a6fd"/>
<rect x="177.86" y="368.00" width="13.33" height="4.73" fill="#89acfd"/>
<rect x="190.19" y="360.69" width="1.81" height="7.31" fill="#91a0fc"/>
<rect x="190.19" y="368.00" width="1.81" height="4.73" fill="#84a7fc"/>
<rect x="192.00" y="360.69" width="11.52" height="7.31" fill="#92a0fc"/>
<rect x="192.00" y="368.00" width="11.52" height="4.73" fill="#84a7fc"/>
<rect x="202.52" y="360.69" width="5.48" height="7.31" fill="#94a3fc"/>
<rect x="202.52" y="368.00" width="5.48" height="4.73" fill="#87a9fc"/>
<rect x="208.00" y="360.69" width="7.85" height="7.31" fill="#95a2fc"/>
<rect x="208.00" y="368.00" width="7.85" height="4.73" fill="#87a9fc"/>
<rect x="214.85" y="360.69" width="9.15" height="7.31" fill="#8e9bfa"/>
<rect x="214.85" y="368.00" width="9.15" height="4.73" fill="#80a2fa"/>
<rect x="224.00" y="360.69" width="4.18" height="7.31" fill="#8d9cfa"/>
<rect x="224.00" y="368.00" width="4.18" height="4.73" fill="#80a2fa"/>
<rect x="227.18" y="360.69" width="12.82" height="7.31" fill="#91a0fc"/>
<rect x="227.18" y="368.00" width="12.82" height="4.73" fill="#84a7fc"/>
<rect x="240.00" y="360.69" width="0.51" height="7.31" fill="#8ca3fc"/>
<rect x="240.00" y="368.00" width="0.51" height="4.73" fill="#84a7fc"/>
<rect x="239.51" y="360.69" width="0.49" height="7.31" fill="#8998f9"/>
<rect x="239.51" y="368.00" width="0.49" height="4.73" fill="#7c9ef9"/>
<rect x="240.00" y="360.69" width="12.84" height="7.31" fill="#849af9"/>
<rect x="240.00" y="368.00" width="12.84" height="4.73" fill="#7d9ef9"/>
<rect x="251.84" y="360.69" width="4.16" height="7.31" fill="#5d70e0"/>
<rect x="251.84" y="368.00" width="4.16" height="4.73" fill="#5574e0"/>
<rect x="256.00" y="360.69" width="9.17" height="7.31" fill="#5d70e0"/>
<rect x="256.00" y="368.00" width="9.17" height="4.73" fill="#5673e0"/>
<rect x="264.17" y="360.69" width="7.83" height="7.31" fill="#8ca3fc"/>
<rect x="264.17" y="368.00" width="7.83" height="4.73" fill="#85a6fc"/>
<rect x="272.00" y="360.69" width="5.50" height="7.31" fill="#8ea2fc"/>
<rect x="272.00" y="368.00" width="5.50" height="4.73" fill="#84a7fc"/>
<rect x="276.50" y="360.69" width="11.50" height="7.31" fill="#8496f8"/>
<rect x="276.50" y="368.00" width="11.50" height="4.73" fill="#7a9bf8"/>
<rect x="288.00" y="360.69" width="1.83" height="7.31" fill="#8496f8"/>
<rect x="288.00" y="368.00" width="1.83" height="4.73" fill="#799bf8"/>
<rect x="288.83" y="360.69" width="13.33" height="7.31" fill="#8da0fb"/>
<rect x="288.83" y="368.00" width="13.33" height="4.73" fill="#82a6fb"/>
<rect x="301.16" y="360.69" width="2.84" height="7.31" fill="#7a8cf3"/>
<rect x="301.16" y="368.00" width="2.84" height="4.73" fill="#7091f3"/>
<rect x="304.00" y="360.69" width="10.49" height="7.31" fill="#788df3"/>
<rect x="304.00" y="368.00" width="10.49" height="4.73" fill="#7091f3"/>
<rect x="313.49" y="360.69" width="6.51" height="7.31" fill="#8ba1fb"/>
<rect x="313.49" y="368.00" width="6.51" height="4.73" fill="#83a5fb"/>
<rect x="320.00" y="360.69" width="6.82" height="7.31" fill="#8e9ffb"/>
<rect x="320.00" y="368.00" width="6.82" height="4.73" fill="#83a5fb"/>
<rect x="325.82" y="360.69" width="10.18" height="7.31" fill="#899af9"/>
<rect x="325.82" y="368.00" width="10.18" height="4.73" fill="#7ea0f9"/>
<rect x="336.00" y="360.69" width="3.15" height="7.31" fill="#899af9"/>
<rect x="336.00" y="368.00" width="3.15" height="4.73" fill="#7da0f9"/>
<rect x="338.15" y="360.69" width="13.33" height="7.31" fill="#899af9"/>
<rect x="338.15" y="368.00" width="13.33" height="4.73" fill="#7da0f9"/>
<rect x="350.48" y="360.69" width="1.52" height="7.31" fill="#94a7fd"/>
<rect x="350.48" y="368.00" width="1.52" height="4.73" fill="#89acfd"/>
<rect x="352.00" y="360.69" width="11.81" height="7.31" fill="#96a6fd"/>
<rect x="352.00" y="368.00" width="11.81" height="4.73" fill="#89acfd"/>
<rect x="362.81" y="360.69" width="5.19" height="7.31" fill="#909ffb"/>
<rect x="362.81" y="368.00" width="5.19" height="4.73" fill="#83a5fb"/>
<rect x="368.00" y="360.69" width="8.14" height="7.31" fill="#909ffb"/>
<rect x="368.00" y="368.00" width="8.14" height="4.73" fill="#83a5fb"/>
<rect x="375.14" y="360.69" width="8.86" height="7.31" fill="#96a6fd"/>
<rect x="375.14" y="368.00" width="8.86" height="4.73" fill="#89acfd"/>
<rect x="384.00" y="360.69" width="4.46" height="7.31" fill="#95a6fd"/>
<rect x="384.00" y="368.00" width="4.46" height="4.73" fill="#89acfd"/>
<rect x="387.46" y="360.69" width="12.54" height="7.31" fill="#8d9cfa"/>
<rect x="387.46" y="368.00" width="12.54" height="4.73" fill="#80a2fa"/>
<rect x="400.00" y="360.69" width="0.79" height="7.31" fill="#8d9cfa"/>
<rect x="400.00" y="368.00" width="0.79" height="4.73" fill="#81a2fa"/>
<rect x="399.79" y="360.69" width="0.21" height="7.31" fill="#95a6fd"/>
<rect x="399.79" y="368.00" width="0.21" height="4.73" fill="#89acfd"/>
<rect x="400.00" y="360.69" width="13.12" height="7.31" fill="#96a6fd"/>
<rect x="400.00" y="368.00" width="13.12" height="4.73" fill="#89acfd"/>
<rect x="412.12" y="360.69" width="3.88" height="7.31" fill="#97a7fd"/>
<rect x="412.12" y="368.00" width="3.88" height="4.73" fill="#8badfd"/>
<rect x="416.00" y="360.69" width="9.45" height="7.31" fill="#9ba5fd"/>
<rect x="416.00" y="368.00" width="9.45" height="4.73" fill="#8badfd"/>
<rect x="424.45" y="360.69" width="7.55" height="7.31" fill="#9ba5fd"/>
<rect x="424.45" y="368.00" width="7.55" height="4.73" fill="#8badfd"/>
<rect x="432.00" y="360.69" width="5.78" height="7.31" fill="#9ba5fd"/>
<rect x="432.00" y="368.00" width="5.78" height="4.73" fill="#8badfd"/>
<rect x="436.78" y="360.69" width="11.22" height="7.31" fill="#9ba5fd"/>
<rect x="436.78" y="368.00" width="11.22" height="4.73" fill="#8badfd"/>
<rect x="448.00" y="360.69" width="2.11" height="7.31" fill="#c192fd"/>
<rect x="448.00" y="368.00" width="2.11" height="4.73" fill="#b19afd"/>
<rect x="449.11" y="360.69" width="13.33" height="7.31" fill="#e1c9a4"/>
<rect x="449.11" y="368.00" width="13.33" height="4.73" fill="#d0d1a4"/>
<rect x="461.44" y="360.69" width="2.56" height="7.31" fill="#6934c0"/>
<rect x="461.44" y="368.00" width="2.56" height="4.73" fill="#593dc0"/>
<rect x="464.00" y="360.69" width="10.77" height="7.31" fill="#3d4bc0"/>
<rect x="464.00" y="368.00" width="10.77" height="4.73" fill="#5141c0"/>
<rect x="473.77" y="360.69" width="6.23" height="7.31" fill="#3d4bc0"/>
<rect x="473.77" y="368.00" width="6.23" height="4.73" fill="#5141c0"/>
<rect x="480.00" y="360.69" width="7.10" height="7.31" fill="#4b44c0"/>
<rect x="480.00" y="368.00" width="7.10" height="4.73" fill="#4b44c0"/>
<rect x="66.90" y="371.73" width="13.10" height="4.27" fill="#7991f4"/>
<rect x="66.90" y="376.00" width="13.10" height="7.76" fill="#7a90f4"/>
<rect x="80.00" y="371.73" width="0.23" height="4.27" fill="#7394f4"/>
<rect x="80.00" y="376.00" width="0.23" height="7.76" fill="#7593f4"/>
<rect x="79.23" y="371.73" width="0.77" height="4.27" fill="#6e85ee"/>
<rect x="79.23" y="376.00" width="0.77" height="7.76" fill="#6f84ee"/>
<rect x="80.00" y="371.73" width="12.56" height="4.27" fill="#6888ee"/>
<rect x="80.00" y="376.00" width="12.56" height="7.76" fill="#6a87ee"/>
<rect x="91.56" y="371.73" width="4.44" height="4.27" fill="#7697f6"/>
<rect x="91.56" y="376.00" width="4.44" height="7.76" fill="#7896f6"/>
<rect x="96.00" y="371.73" width="8.89" height="4.27" fill="#7697f6"/>
<rect x="96.00" y="376.00" width="8.89" height="7.76" fill="#7796f6"/>
<rect x="103.89" y="371.73" width="8.11" height="4.27" fill="#6c8cf0"/>
<rect x="103.89" y="376.00" width="8.11" height="7.76" fill="#6e8cf0"/>
<rect x="112.00" y="371.73" width="5.22" height="4.27" fill="#6c8cf0"/>
<rect x="112.00" y="376.00" width="5.22" height="7.76" fill="#6e8cf0"/>
<rect x="116.22" y="371.73" width="11.78" height="4.27" fill="#7697f6"/>
<rect x="116.22" y="376.00" width="11.78" height="7.76" fill="#7796f6"/>
<rect x="128.00" y="371.73" width="1.55" height="4.27" fill="#7597f6"/>
<rect x="128.00" y="376.00" width="1.55" height="7.76" fill="#7696f6"/>
<rect x="128.55" y="371.73" width="13.33" height="4.27" fill="#7294f4"/>
<rect x="128.55" y="376.00" width="13.33" height="7.76" fill="#7494f4"/>
<rect x="140.88" y="371.73" width="3.12" height="4.27" fill="#7294f4"/>
<rect x="140.88" y="376.00" width="3.12" height="7.76" fill="#7494f4"/>
<rect x="144.00" y="371.73" width="10.21" height="4.27" fill="#7394f4"/>
<rect x="144.00" y="376.00" width="10.21" height="7.76" fill="#7493f4"/>
<rect x="153.21" y="371.73" width="6.79" height="4.27" fill="#7798f6"/>
<rect x="153.21" y="376.00" width="6.79" height="7.76" fill="#7898f6"/>
<rect x="160.00" y="371.73" width="6.54" height="4.27" fill="#7798f6"/>
<rect x="160.00" y="376.00" width="6.54" height="7.76" fill="#7898f6"/>
<rect x="165.54" y="371.73" width="10.46" height="4.27" fill="#7c9ef9"/>
<rect x="165.54" y="376.00" width="10.46" height="7.76" fill="#7d9ef9"/>
<rect x="176.00" y="371.73" width="2.86" height="4.27" fill="#7d9ef9"/>
<rect x="176.00" y="376.00" width="2.86" height="7.76" fill="#7d9ef9"/>
<rect x="177.86" y="371.73" width="13.33" height="4.27" fill="#7e9ff9"/>
<rect x="177.86" y="376.00" width="13.33" height="7.76" fill="#7e9ff9"/>
<rect x="190.19" y="371.73" width="1.81" height="4.27" fill="#7798f6"/>
<rect x="190.19" y="376.00" width="1.81" height="7.76" fill="#7898f6"/>
<rect x="192.00" y="371.73" width="11.52" height="4.27" fill="#7798f6"/>
<rect x="192.00" y="376.00" width="11.52" height="7.76" fill="#7898f6"/>
<rect x="202.52" y="371.73" width="5.48" height="4.27" fill="#7d9ef9"/>
<rect x="202.52" y="376.00" width="5.48" height="7.76" fill="#7d9ef9"/>
<rect x="208.00" y="371.73" width="7.85" height="4.27" fill="#7d9ef9"/>
<rect x="208.00" y="376.00" width="7.85" height="7.76" fill="#7d9ef9"/>
<rect x="214.85" y="371.73" width="9.15" height="4.27" fill="#7798f6"/>
<rect x="214.85" y="376.00" width="9.15" height="7.76" fill="#7898f6"/>
<rect x="224.00" y="371.73" width="4.18" height="4.27" fill="#7798f6"/>
<rect x="224.00" y="376.00" width="4.18" height="7.76" fill="#7898f6"/>
<rect x="227.18" y="371.73" width="12.82" height="4.27" fill="#7a9bf8"/>
<rect x="227.18" y="376.00" width="12.82" height="7.76" fill="#7b9bf8"/>
<rect x="240.00" y="371.73" width="0.51" height="4.27" fill="#7a9bf8"/>
<rect x="240.00" y="376.00" width="0.51" height="7.76" fill="#7d9af8"/>
<rect x="239.51" y="371.73" width="0.49" height="4.27" fill="#6989ef"/>
<rect x="239.51" y="376.00" width="0.49" height="7.76" fill="#6a89ef"/>
<rect x="240.00" y="371.73" width="12.84" height="4.27" fill="#6a89ef"/>
<rect x="240.00" y="376.00" width="12.84" height="7.76" fill="#6d88ef"/>
<rect x="251.84" y="371.73" width="4.16" height="4.27" fill="#4e6cda"/>
<rect x="251.84" y="376.00" width="4.16" height="7.76" fill="#516bda"/>
<rect x="256.00" y="371.73" width="9.17" height="4.27" fill="#4f6cda"/>
<rect x="256.00" y="376.00" width="9.17" height="7.76" fill="#526ada"/>
<rect x="264.17" y="371.73" width="7.83" height="4.27" fill="#7493f4"/>
<rect x="264.17" y="376.00" width="7.83" height="7.76" fill="#7891f4"/>
<rect x="272.00" y="371.73" width="5.50" height="4.27" fill="#7394f4"/>
<rect x="272.00" y="376.00" width="5.50" height="7.76" fill="#7493f4"/>
<rect x="276.50" y="371.73" width="11.50" height="4.27" fill="#6989ef"/>
<rect x="276.50" y="376.00" width="11.50" height="7.76" fill="#6b89ef"/>
<rect x="288.00" y="371.73" width="1.83" height="4.27" fill="#698aef"/>
<rect x="288.00" y="376.00" width="1.83" height="7.76" fill="#6a89ef"/>
<rect x="288.83" y="371.73" width="13.33" height="4.27" fill="#7394f4"/>
<rect x="288.83" y="376.00" width="13.33" height="7.76" fill="#7493f4"/>
<rect x="301.16" y="371.73" width="2.84" height="4.27" fill="#5e7de7"/>
<rect x="301.16" y="376.00" width="2.84" height="7.76" fill="#5f7de7"/>
<rect x="304.00" y="371.73" width="10.49" height="4.27" fill="#5e7de7"/>
<rect x="304.00" y="376.00" width="10.49" height="7.76" fill="#617ce7"/>
<rect x="313.49" y="371.73" width="6.51" height="4.27" fill="#6f8ff2"/>
<rect x="313.49" y="376.00" width="6.51" height="7.76" fill="#728ef2"/>
<rect x="320.00" y="371.73" width="6.82" height="4.27" fill="#6f8ff2"/>
<rect x="320.00" y="376.00" width="6.82" height="7.76" fill="#718ff2"/>
<rect x="325.82" y="371.73" width="10.18" height="4.27" fill="#6f8ff2"/>
<rect x="325.82" y="376.00" width="10.18" height="7.76" fill="#718ff2"/>
<rect x="336.00" y="371.73" width="3.15" height="4.27" fill="#6f90f2"/>
<rect x="336.00" y="376.00" width="3.15" height="7.76" fill="#6f8ff2"/>
<rect x="338.15" y="371.73" width="13.33" height="4.27" fill="#7394f4"/>
<rect x="338.15" y="376.00" width="13.33" height="7.76" fill="#7394f4"/>
<rect x="350.48" y="371.73" width="1.52" height="4.27" fill="#7da0f9"/>
<rect x="350.48" y="376.00" width="1.52" height="7.76" fill="#7e9ff9"/>
<rect x="352.00" y="371.73" width="11.81" height="4.27" fill="#7e9ff9"/>
<rect x="352.00" y="376.00" width="11.81" height="7.76" fill="#7f9ff9"/>
<rect x="362.81" y="371.73" width="5.19" height="4.27" fill="#7394f4"/>
<rect x="362.81" y="376.00" width="5.19" height="7.76" fill="#7493f4"/>
<rect x="368.00" y="371.73" width="8.14" height="4.27" fill="#7394f4"/>
<rect x="368.00" y="376.00" width="8.14" height="7.76" fill="#7494f4"/>
<rect x="375.14" y="371.73" width="8.86" height="4.27" fill="#7c9ef9"/>
<rect x="375.14" y="376.00" width="8.86" height="7.76" fill="#7d9ef9"/>
<rect x="384.00" y="371.73" width="4.46" height="4.27" fill="#7d9ef9"/>
<rect x="384.00" y="376.00" width="4.46" height="7.76" fill="#7d9ef9"/>
<rect x="387.46" y="371.73" width="12.54" height="4.27" fill="#7697f6"/>
<rect x="387.46" y="376.00" width="12.54" height="7.76" fill="#7796f6"/>
<rect x="400.00" y="371.73" width="0.79" height="4.27" fill="#7697f6"/>
<rect x="400.00" y="376.00" width="0.79" height="7.76" fill="#7697f6"/>
<rect x="399.79" y="371.73" width="0.21" height="4.27" fill="#7798f6"/>
<rect x="399.79" y="376.00" width="0.21" height="7.76" fill="#7898f6"/>
<rect x="400.00" y="371.73" width="13.12" height="4.27" fill="#7898f6"/>
<rect x="400.00" y="376.00" width="13.12" height="7.76" fill="#7898f6"/>
<rect x="412.12" y="371.73" width="3.88" height="4.27" fill="#7d9ef9"/>
<rect x="412.12" y="376.00" width="3.88" height="7.76" fill="#7d9ef9"/>
<rect x="416.00" y="371.73" width="9.45" height="4.27" fill="#7d9ef9"/>
<rect x="416.00" y="376.00" width="9.45" height="7.76" fill="#7d9ef9"/>
<rect x="424.45" y="371.73" width="7.55" height="4.27" fill="#7d9ef9"/>
<rect x="424.45" y="376.00" width="7.55" height="7.76" fill="#7d9ef9"/>
<rect x="432.00" y="371.73" width="5.78" height="4.27" fill="#7d9ef9"/>
<rect x="432.00" y="376.00" width="5.78" height="7.76" fill="#7d9ef9"/>
<rect x="436.78" y="371.73" width="11.22" height="4.27" fill="#7d9ef9"/>
<rect x="436.78" y="376.00" width="11.22" height="7.76" fill="#7d9ef9"/>
<rect x="448.00" y="371.73" width="2.11" height="4.27" fill="#a38af9"/>
<rect x="448.00" y="376.00" width="2.11" height="7.76" fill="#8f95f9"/>
<rect x="449.11" y="371.73" width="13.33" height="4.27" fill="#593dc0"/>
<rect x="449.11" y="376.00" width="13.33" height="7.76" fill="#4447c0"/>
<rect x="461.44" y="371.73" width="2.56" height="4.27" fill="#d0d1a4"/>
<rect x="461.44" y="376.00" width="2.56" height="7.76" fill="#bcdba4"/>
<rect x="464.00" y="371.73" width="10.77" height="4.27" fill="#c8d5a4"/>
<rect x="464.00" y="376.00" width="10.77" height="7.76" fill="#d9cda4"/>
<rect x="473.77" y="371.73" width="6.23" height="4.27" fill="#5141c0"/>
<rect x="473.77" y="376.00" width="6.23" height="7.76" fill="#6139c0"/>
<rect x="480.00" y="371.73" width="7.10" height="4.27" fill="#4b44c0"/>
<rect x="480.00" y="376.00" width="7.10" height="7.76" fill="#4f42c0"/>
<rect x="66.90" y="382.76" width="13.10" height="1.24" fill="#97b1fe"/>
<rect x="66.90" y="384.00" width="13.10" height="8.00" fill="#99b0fe"/>
<rect x="66.90" y="392.00" width="13.10" height="2.80" fill="#aca6fe"/>
<rect x="80.00" y="382.76" width="0.23" height="1.24" fill="#92b3fe"/>
<rect x="80.00" y="384.00" width="0.23" height="8.00" fill="#97b1fe"/>
<rect x="80.00" y="392.00" width="0.23" height="2.80" fill="#aca6fe"/>
<rect x="79.23" y="382.76" width="0.77" height="1.24" fill="#a8c6fd"/>
<rect x="79.23" y="384.00" width="0.77" height="8.00" fill="#abc5fd"/>
<rect x="79.23" y="392.00" width="0.77" height="2.80" fill="#bebbfd"/>
<rect x="80.00" y="382.76" width="12.56" height="1.24" fill="#a4c8fd"/>
<rect x="80.00" y="384.00" width="12.56" height="8.00" fill="#a9c6fd"/>
<rect x="80.00" y="392.00" width="12.56" height="2.80" fill="#bdbbfd"/>
<rect x="91.56" y="382.76" width="4.44" height="1.24" fill="#8cadfd"/>
<rect x="91.56" y="384.00" width="4.44" height="8.00" fill="#91aafd"/>
<rect x="91.56" y="392.00" width="4.44" height="2.80" fill="#a6a0fd"/>
<rect x="96.00" y="382.76" width="8.89" height="1.24" fill="#8cadfd"/>
<rect x="96.00" y="384.00" width="8.89" height="8.00" fill="#8fabfd"/>
<rect x="96.00" y="392.00" width="8.89" height="2.80" fill="#a5a0fd"/>
<rect x="103.89" y="382.76" width="8.11" height="1.24" fill="#9cc0ff"/>
<rect x="103.89" y="384.00" width="8.11" height="8.00" fill="#a0bfff"/>
<rect x="103.89" y="392.00" width="8.11" height="2.80" fill="#b6b3ff"/>
<rect x="112.00" y="382.76" width="5.22" height="1.24" fill="#9cc0ff"/>
<rect x="112.00" y="384.00" width="5.22" height="8.00" fill="#9ebfff"/>
<rect x="112.00" y="392.00" width="5.22" height="2.80" fill="#b6b3ff"/>
<rect x="116.22" y="382.76" width="11.78" height="1.24" fill="#8eb0fe"/>
<rect x="116.22" y="384.00" width="11.78" height="8.00" fill="#90affe"/>
<rect x="116.22" y="392.00" width="11.78" height="2.80" fill="#a7a3fe"/>
<rect x="128.00" y="382.76" width="1.55" height="1.24" fill="#8db0fe"/>
<rect x="128.00" y="384.00" width="1.55" height="8.00" fill="#91aefe"/>
<rect x="128.00" y="392.00" width="1.55" height="2.80" fill="#a8a3fe"/>
<rect x="128.55" y="382.76" width="13.33" height="1.24" fill="#95b9ff"/>
<rect x="128.55" y="384.00" width="13.33" height="8.00" fill="#99b7ff"/>
<rect x="128.55" y="392.00" width="13.33" height="2.80" fill="#afacff"/>
<rect x="140.88" y="382.76" width="3.12" height="1.24" fill="#91b4fe"/>
<rect x="140.88" y="384.00" width="3.12" height="8.00" fill="#94b2fe"/>
<rect x="140.88" y="392.00" width="3.12" height="2.80" fill="#aba7fe"/>
<rect x="144.00" y="382.76" width="10.21" height="1.24" fill="#91b4fe"/>
<rect x="144.00" y="384.00" width="10.21" height="8.00" fill="#93b3fe"/>
<rect x="144.00" y="392.00" width="10.21" height="2.80" fill="#aba7fe"/>
<rect x="153.21" y="382.76" width="6.79" height="1.24" fill="#8aacfd"/>
<rect x="153.21" y="384.00" width="6.79" height="8.00" fill="#8cabfd"/>
<rect x="153.21" y="392.00" width="6.79" height="2.80" fill="#a49ffd"/>
<rect x="160.00" y="382.76" width="6.54" height="1.24" fill="#8aacfd"/>
<rect x="160.00" y="384.00" width="6.54" height="8.00" fill="#8cabfd"/>
<rect x="160.00" y="392.00" width="6.54" height="2.80" fill="#a39ffd"/>
<rect x="165.54" y="382.76" width="10.46" height="1.24" fill="#81a2fa"/>
<rect x="165.54" y="384.00" width="10.46" height="8.00" fill="#83a1fa"/>
<rect x="165.54" y="392.00" width="10.46" height="2.80" fill="#9b95fa"/>
<rect x="176.00" y="382.76" width="2.86" height="1.24" fill="#81a2fa"/>
<rect x="176.00" y="384.00" width="2.86" height="8.00" fill="#82a2fa"/>
<rect x="176.00" y="392.00" width="2.86" height="2.80" fill="#9b95fa"/>
<rect x="177.86" y="382.76" width="13.33" height="1.24" fill="#81a2fa"/>
<rect x="177.86" y="384.00" width="13.33" height="8.00" fill="#82a2fa"/>
<rect x="177.86" y="392.00" width="13.33" height="2.80" fill="#9b95fa"/>
<rect x="190.19" y="382.76" width="1.81" height="1.24" fill="#87a9fc"/>
<rect x="190.19" y="384.00" width="1.81" height="8.00" fill="#88a9fc"/>
<rect x="190.19" y="392.00" width="1.81" height="2.80" fill="#a19cfc"/>
<rect x="192.00" y="382.76" width="11.52" height="1.24" fill="#87a9fc"/>
<rect x="192.00" y="384.00" width="11.52" height="8.00" fill="#89a8fc"/>
<rect x="192.00" y="392.00" width="11.52" height="2.80" fill="#a19cfc"/>
<rect x="202.52" y="382.76" width="5.48" height="1.24" fill="#81a2fa"/>
<rect x="202.52" y="384.00" width="5.48" height="8.00" fill="#83a1fa"/>
<rect x="202.52" y="392.00" width="5.48" height="2.80" fill="#9b95fa"/>
<rect x="208.00" y="382.76" width="7.85" height="1.24" fill="#81a2fa"/>
<rect x="208.00" y="384.00" width="7.85" height="8.00" fill="#84a1fa"/>
<rect x="208.00" y="392.00" width="7.85" height="2.80" fill="#9b95fa"/>
<rect x="214.85" y="382.76" width="9.15" height="1.24" fill="#8badfd"/>
<rect x="214.85" y="384.00" width="9.15" height="8.00" fill="#8dacfd"/>
<rect x="214.85" y="392.00" width="9.15" height="2.80" fill="#a5a0fd"/>
<rect x="224.00" y="382.76" width="4.18" height="1.24" fill="#8badfd"/>
<rect x="224.00" y="384.00" width="4.18" height="8.00" fill="#8dacfd"/>
<rect x="224.00" y="392.00" width="4.18" height="2.80" fill="#a5a0fd"/>
<rect x="227.18" y="382.76" width="12.82" height="1.24" fill="#87a9fc"/>
<rect x="227.18" y="384.00" width="12.82" height="8.00" fill="#89a8fc"/>
<rect x="227.18" y="392.00" width="12.82" height="2.80" fill="#a19cfc"/>
<rect x="240.00" y="382.76" width="0.51" height="1.24" fill="#8aa8fc"/>
<rect x="240.00" y="384.00" width="0.51" height="8.00" fill="#93a3fc"/>
<rect x="240.00" y="392.00" width="0.51" height="2.80" fill="#a39bfc"/>
<rect x="239.51" y="382.76" width="0.49" height="1.24" fill="#9cc1ff"/>
<rect x="239.51" y="384.00" width="0.49" height="8.00" fill="#9ec0ff"/>
<rect x="239.51" y="392.00" width="0.49" height="2.80" fill="#b5b4ff"/>
<rect x="240.00" y="382.76" width="12.84" height="1.24" fill="#9ec0ff"/>
<rect x="240.00" y="384.00" width="12.84" height="8.00" fill="#a7bbff"/>
<rect x="240.00" y="392.00" width="12.84" height="2.80" fill="#b8b2ff"/>
<rect x="251.84" y="382.76" width="4.16" height="1.24" fill="#bdeae2"/>
<rect x="251.84" y="384.00" width="4.16" height="8.00" fill="#c6e5e2"/>
<rect x="251.84" y="392.00" width="4.16" height="2.80" fill="#d6dde2"/>
<rect x="256.00" y="382.76" width="9.17" height="1.24" fill="#bee9e2"/>
<rect x="256.00" y="384.00" width="9.17" height="8.00" fill="#cce2e2"/>
<rect x="256.00" y="392.00" width="9.17" height="2.80" fill="#d8dce2"/>
<rect x="264.17" y="382.76" width="7.83" height="1.24" fill="#99b7ff"/>
<rect x="264.17" y="384.00" width="7.83" height="8.00" fill="#a7b0ff"/>
<rect x="264.17" y="392.00" width="7.83" height="2.80" fill="#b3aaff"/>
<rect x="272.00" y="382.76" width="5.50" height="1.24" fill="#96b9ff"/>
<rect x="272.00" y="384.00" width="5.50" height="8.00" fill="#9ab7ff"/>
<rect x="272.00" y="392.00" width="5.50" height="2.80" fill="#b0acff"/>
<rect x="276.50" y="382.76" width="11.50" height="1.24" fill="#9cc1ff"/>
<rect x="276.50" y="384.00" width="11.50" height="8.00" fill="#a0beff"/>
<rect x="276.50" y="392.00" width="11.50" height="2.80" fill="#b6b3ff"/>
<rect x="288.00" y="382.76" width="1.83" height="1.24" fill="#9cc1ff"/>
<rect x="288.00" y="384.00" width="1.83" height="8.00" fill="#9fbfff"/>
<rect x="288.00" y="392.00" width="1.83" height="2.80" fill="#b6b3ff"/>
<rect x="288.83" y="382.76" width="13.33" height="1.24" fill="#8db0fe"/>
<rect x="288.83" y="384.00" width="13.33" height="8.00" fill="#91aefe"/>
<rect x="288.83" y="392.00" width="13.33" height="2.80" fill="#a8a3fe"/>
<rect x="301.16" y="382.76" width="2.84" height="1.24" fill="#a9d2fb"/>
<rect x="301.16" y="384.00" width="2.84" height="8.00" fill="#add0fb"/>
<rect x="301.16" y="392.00" width="2.84" height="2.80" fill="#c3c5fb"/>
<rect x="304.00" y="382.76" width="10.49" height="1.24" fill="#abd1fb"/>
<rect x="304.00" y="384.00" width="10.49" height="8.00" fill="#b1cefb"/>
<rect x="304.00" y="392.00" width="10.49" height="2.80" fill="#c4c4fb"/>
<rect x="313.49" y="382.76" width="6.51" height="1.24" fill="#93b3fe"/>
<rect x="313.49" y="384.00" width="6.51" height="8.00" fill="#99b0fe"/>
<rect x="313.49" y="392.00" width="6.51" height="2.80" fill="#aca6fe"/>
<rect x="320.00" y="382.76" width="6.82" height="1.24" fill="#91b4fe"/>
<rect x="320.00" y="384.00" width="6.82" height="8.00" fill="#95b2fe"/>
<rect x="320.00" y="392.00" width="6.82" height="2.80" fill="#aba7fe"/>
<rect x="325.82" y="382.76" width="10.18" height="1.24" fill="#96b9ff"/>
<rect x="325.82" y="384.00" width="10.18" height="8.00" fill="#99b7ff"/>
<rect x="325.82" y="392.00" width="10.18" height="2.80" fill="#afacff"/>
<rect x="336.00" y="382.76" width="3.15" height="1.24" fill="#95baff"/>
<rect x="336.00" y="384.00" width="3.15" height="8.00" fill="#98b8ff"/>
<rect x="336.00" y="392.00" width="3.15" height="2.80" fill="#afacff"/>
<rect x="338.15" y="382.76" width="13.33" height="1.24" fill="#8fb3fe"/>
<rect x="338.15" y="384.00" width="13.33" height="8.00" fill="#92b1fe"/>
<rect x="338.15" y="392.00" width="13.33" height="2.80" fill="#aaa5fe"/>
<rect x="350.48" y="382.76" width="1.52" height="1.24" fill="#7d9ef9"/>
<rect x="350.48" y="384.00" width="1.52" height="8.00" fill="#7f9df9"/>
<rect x="350.48" y="392.00" width="1.52" height="2.80" fill="#9790f9"/>
<rect x="352.00" y="382.76" width="11.81" height="1.24" fill="#7d9ef9"/>
<rect x="352.00" y="384.00" width="11.81" height="8.00" fill="#7e9df9"/>
<rect x="352.00" y="392.00" width="11.81" height="2.80" fill="#9791f9"/>
<rect x="362.81" y="382.76" width="5.19" height="1.24" fill="#8eb0fe"/>
<rect x="362.81" y="384.00" width="5.19" height="8.00" fill="#8eaffe"/>
<rect x="362.81" y="392.00" width="5.19" height="2.80" fill="#a7a3fe"/>
<rect x="368.00" y="382.76" width="8.14" height="1.24" fill="#8db0fe"/>
<rect x="368.00" y="384.00" width="8.14" height="8.00" fill="#8faffe"/>
<rect x="368.00" y="392.00" width="8.14" height="2.80" fill="#a7a3fe"/>
<rect x="375.14" y="382.76" width="8.86" height="1.24" fill="#7e9ff9"/>
<rect x="375.14" y="384.00" width="8.86" height="8.00" fill="#809ef9"/>
<rect x="375.14" y="392.00" width="8.86" height="2.80" fill="#9892f9"/>
<rect x="384.00" y="382.76" width="4.46" height="1.24" fill="#7f9ff9"/>
<rect x="384.00" y="384.00" width="4.46" height="8.00" fill="#809ff9"/>
<rect x="384.00" y="392.00" width="4.46" height="2.80" fill="#9892f9"/>
<rect x="387.46" y="382.76" width="12.54" height="1.24" fill="#8aacfd"/>
<rect x="387.46" y="384.00" width="12.54" height="8.00" fill="#8babfd"/>
<rect x="387.46" y="392.00" width="12.54" height="2.80" fill="#a39ffd"/>
<rect x="400.00" y="382.76" width="0.79" height="1.24" fill="#8aacfd"/>
<rect x="400.00" y="384.00" width="0.79" height="8.00" fill="#8babfd"/>
<rect x="400.00" y="392.00" width="0.79" height="2.80" fill="#a39ffd"/>
<rect x="399.79" y="382.76" width="0.21" height="1.24" fill="#7b9bf8"/>
<rect x="399.79" y="384.00" width="0.21" height="8.00" fill="#7c9af8"/>
<rect x="399.79" y="392.00" width="0.21" height="2.80" fill="#948ef8"/>
<rect x="400.00" y="382.76" width="13.12" height="1.24" fill="#7a9bf8"/>
<rect x="400.00" y="384.00" width="13.12" height="8.00" fill="#7c9af8"/>
<rect x="400.00" y="392.00" width="13.12" height="2.80" fill="#948ef8"/>
<rect x="412.12" y="382.76" width="3.88" height="1.24" fill="#7a9bf8"/>
<rect x="412.12" y="384.00" width="3.88" height="8.00" fill="#7c9af8"/>
<rect x="412.12" y="392.00" width="3.88" height="2.80" fill="#948ef8"/>
<rect x="416.00" y="382.76" width="9.45" height="1.24" fill="#7a9bf8"/>
<rect x="416.00" y="384.00" width="9.45" height="8.00" fill="#7c9af8"/>
<rect x="416.00" y="392.00" width="9.45" height="2.80" fill="#948ef8"/>
<rect x="424.45" y="382.76" width="7.55" height="1.24" fill="#7a9bf8"/>
<rect x="424.45" y="384.00" width="7.55" height="8.00" fill="#7c9af8"/>
<rect x="424.45" y="392.00" width="7.55" height="2.80" fill="#948ef8"/>
<rect x="432.00" y="382.76" width="5.78" height="1.24" fill="#7a9bf8"/>
<rect x="432.00" y="384.00" width="5.78" height="8.00" fill="#7c9af8"/>
<rect x="432.00" y="392.00" width="5.78" height="2.80" fill="#948ef8"/>
<rect x="436.78" y="382.76" width="11.22" height="1.24" fill="#7a9bf8"/>
<rect x="436.78" y="384.00" width="11.22" height="8.00" fill="#7c9af8"/>
<rect x="436.78" y="392.00" width="11.22" height="2.80" fill="#948ef8"/>
<rect x="448.00" y="382.76" width="2.11" height="1.24" fill="#8c92f8"/>
<rect x="448.00" y="384.00" width="2.11" height="8.00" fill="#8496f8"/>
<rect x="448.00" y="392.00" width="2.11" height="2.80" fill="#968df8"/>
<rect x="449.11" y="382.76" width="13.33" height="1.24" fill="#4447c0"/>
<rect x="449.11" y="384.00" width="13.33" height="8.00" fill="#3c4bc0"/>
<rect x="449.11" y="392.00" width="13.33" height="2.80" fill="#4e42c0"/>
<rect x="461.44" y="382.76" width="2.56" height="1.24" fill="#4447c0"/>
<rect x="461.44" y="384.00" width="2.56" height="8.00" fill="#3c4bc0"/>
<rect x="461.44" y="392.00" width="2.56" height="2.80" fill="#4e42c0"/>
<rect x="464.00" y="382.76" width="10.77" height="1.24" fill="#6139c0"/>
<rect x="464.00" y="384.00" width="10.77" height="8.00" fill="#563ec0"/>
<rect x="464.00" y="392.00" width="10.77" height="2.80" fill="#543fc0"/>
<rect x="473.77" y="382.76" width="6.23" height="1.24" fill="#d9cda4"/>
<rect x="473.77" y="384.00" width="6.23" height="8.00" fill="#cdd3a4"/>
<rect x="473.77" y="392.00" width="6.23" height="2.80" fill="#ccd3a4"/>
<rect x="480.00" y="382.76" width="7.10" height="1.24" fill="#c7d6a4"/>
<rect x="480.00" y="384.00" width="7.10" height="8.00" fill="#dbcca4"/>
<rect x="480.00" y="392.00" width="7.10" height="2.80" fill="#cfd2a4"/>
</g>
<g font-size="3.85" text-anchor="middle" stroke-width="0.08" opacity="0.78">
<text x="73.06" y="25.35" fill="#fff" stroke="#fff">1.21</text>
<text x="85.39" y="25.35" fill="#fff" stroke="#fff">0.12</text>
<text x="97.72" y="25.35" fill="#fff" stroke="#fff">0.06</text>
<text x="110.05" y="25.35" fill="#fff" stroke="#fff">0.06</text>
<text x="122.38" y="25.35" fill="#fff" stroke="#fff">0.05</text>
<text x="134.71" y="25.35" fill="#fff" stroke="#fff">0.05</text>
<text x="147.04" y="25.35" fill="#fff" stroke="#fff">0.11</text>
<text x="159.37" y="25.35" fill="#fff" stroke="#fff">0.05</text>
<text x="171.70" y="25.35" fill="#fff" stroke="#fff">0.05</text>
<text x="184.03" y="25.35" fill="#fff" stroke="#fff">0.05</text>
<text x="196.36" y="25.35" fill="#fff" stroke="#fff">0.05</text>
<text x="208.69" y="25.35" fill="#fff" stroke="#fff">0.05</text>
<text x="221.02" y="25.35" fill="#fff" stroke="#fff">0.06</text>
<text x="233.35" y="25.35" fill="#fff" stroke="#fff">0.06</text>
<text x="245.68" y="25.35" fill="#262626" stroke="#262626">1.02</text>
<text x="258.01" y="25.35" fill="#fff" stroke="#fff">0.06</text>
<text x="270.34" y="25.35" fill="#fff" stroke="#fff">0.05</text>
<text x="282.66" y="25.35" fill="#fff" stroke="#fff">0.05</text>
<text x="294.99" y="25.35" fill="#fff" stroke="#fff">0.05</text>
<text x="307.32" y="25.35" fill="#fff" stroke="#fff">0.04</text>
<text x="319.65" y="25.35" fill="#fff" stroke="#fff">0.10</text>
<text x="331.98" y="25.35" fill="#fff" stroke="#fff">0.05</text>
<text x="344.31" y="25.35" fill="#fff" stroke="#fff">0.05</text>
<text x="356.64" y="25.35" fill="#fff" stroke="#fff">0.05</text>
<text x="368.97" y="25.35" fill="#fff" stroke="#fff">0.05</text>
<text x="381.30" y="25.35" fill="#fff" stroke="#fff">0.05</text>
<text x="393.63" y="25.35" fill="#fff" stroke="#fff">0.05</text>
<text x="405.96" y="25.35" fill="#fff" stroke="#fff">0.05</text>
<text x="418.29" y="25.35" fill="#fff" stroke="#fff">0.05</text>
<text x="430.62" y="25.35" fill="#fff" stroke="#fff">0.05</text>
<text x="442.95" y="25.35" fill="#fff" stroke="#fff">0.05</text>
<text x="455.28" y="25.35" fill="#fff" stroke="#fff">0.00</text>
<text x="467.61" y="25.35" fill="#fff" stroke="#fff">0.00</text>
<text x="479.94" y="25.35" fill="#fff" stroke="#fff">0.00</text>
<text x="73.06" y="36.38" fill="#fff" stroke="#fff">0.26</text>
<text x="85.39" y="36.38" fill="#fff" stroke="#fff">1.37</text>
<text x="97.72" y="36.38" fill="#fff" stroke="#fff">0.23</text>
<text x="110.05" y="36.38" fill="#fff" stroke="#fff">0.36</text>
<text x="122.38" y="36.38" fill="#fff" stroke="#fff">0.23</text>
<text x="134.71" y="36.38" fill="#fff" stroke="#fff">0.22</text>
<text x="147.04" y="36.38" fill="#fff" stroke="#fff">0.28</text>
<text x="159.37" y="36.38" fill="#fff" stroke="#fff">0.20</text>
<text x="171.70" y="36.38" fill="#fff" stroke="#fff">0.18</text>
<text x="184.03" y="36.38" fill="#fff" stroke="#fff">0.18</text>
<text x="196.36" y="36.38" fill="#fff" stroke="#fff">0.21</text>
<text x="208.69" y="36.38" fill="#fff" stroke="#fff">0.19</text>
<text x="221.02" y="36.38" fill="#fff" stroke="#fff">0.25</text>
<text x="233.35" y="36.38" fill="#fff" stroke="#fff">0.21</text>
<text x="245.68" y="36.38" fill="#fff" stroke="#fff">0.21</text>
<text x="258.01" y="36.38" fill="#262626" stroke="#262626">0.67</text>
<text x="270.34" y="36.38" fill="#fff" stroke="#fff">0.22</text>
<text x="282.66" y="36.38" fill="#fff" stroke="#fff">0.31</text>
<text x="294.99" y="36.38" fill="#fff" stroke="#fff">0.22</text>
<text x="307.32" y="36.38" fill="#fff" stroke="#fff">0.16</text>
<text x="319.65" y="36.38" fill="#fff" stroke="#fff">0.26</text>
<text x="331.98" y="36.38" fill="#fff" stroke="#fff">0.17</text>
<text x="344.31" y="36.38" fill="#fff" stroke="#fff">0.15</text>
<text x="356.64" y="36.38" fill="#fff" stroke="#fff">0.16</text>
<text x="368.97" y="36.38" fill="#fff" stroke="#fff">0.19</text>
<text x="381.30" y="36.38" fill="#fff" stroke="#fff">0.19</text>
<text x="393.63" y="36.38" fill="#fff" stroke="#fff">0.26</text>
<text x="405.96" y="36.38" fill="#fff" stroke="#fff">0.20</text>
<text x="418.29" y="36.38" fill="#fff" stroke="#fff">0.17</text>
<text x="430.62" y="36.38" fill="#fff" stroke="#fff">0.17</text>
<text x="442.95" y="36.38" fill="#fff" stroke="#fff">0.17</text>
<text x="455.28" y="36.38" fill="#fff" stroke="#fff">0.00</text>
<text x="467.61" y="36.38" fill="#fff" stroke="#fff">0.00</text>
<text x="479.94" y="36.38" fill="#fff" stroke="#fff">0.00</text>
<text x="73.06" y="47.42" fill="#fff" stroke="#fff">0.09</text>
<text x="85.39" y="47.42" fill="#fff" stroke="#fff">0.10</text>
<text x="97.72" y="47.42" fill="#fff" stroke="#fff">1.33</text>
<text x="110.05" y="47.42" fill="#fff" stroke="#fff">0.07</text>
<text x="122.38" y="47.42" fill="#fff" stroke="#fff">0.08</text>
<text x="134.71" y="47.42" fill="#fff" stroke="#fff">0.09</text>
<text x="147.04" y="47.42" fill="#fff" stroke="#fff">0.08</text>
<text x="159.37" y="47.42" fill="#fff" stroke="#fff">0.09</text>
<text x="171.70" y="47.42" fill="#fff" stroke="#fff">0.07</text>
<text x="184.03" y="47.42" fill="#fff" stroke="#fff">0.07</text>
<text x="196.36" y="47.42" fill="#fff" stroke="#fff">0.08</text>
<text x="208.69" y="47.42" fill="#fff" stroke="#fff">0.08</text>
<text x="221.02" y="47.42" fill="#fff" stroke="#fff">0.08</text>
<text x="233.35" y="47.42" fill="#fff" stroke="#fff">0.10</text>
<text x="245.68" y="47.42" fill="#fff" stroke="#fff">0.08</text>
<text x="258.01" y="47.42" fill="#fff" stroke="#fff">0.05</text>
<text x="270.34" y="47.42" fill="#fff" stroke="#fff">1.25</text>
<text x="282.66" y="47.42" fill="#fff" stroke="#fff">0.06</text>
<text x="294.99" y="47.42" fill="#fff" stroke="#fff">0.08</text>
<text x="307.32" y="47.42" fill="#fff" stroke="#fff">0.06</text>
<text x="319.65" y="47.42" fill="#fff" stroke="#fff">0.07</text>
<text x="331.98" y="47.42" fill="#fff" stroke="#fff">0.08</text>
<text x="344.31" y="47.42" fill="#fff" stroke="#fff">0.06</text>
<text x="356.64" y="47.42" fill="#fff" stroke="#fff">0.07</text>
<text x="368.97" y="47.42" fill="#fff" stroke="#fff">0.08</text>
<text x="381.30" y="47.42" fill="#fff" stroke="#fff">0.08</text>
<text x="393.63" y="47.42" fill="#fff" stroke="#fff">0.08</text>
<text x="405.96" y="47.42" fill="#fff" stroke="#fff">0.09</text>
<text x="418.29" y="47.42" fill="#fff" stroke="#fff">0.06</text>
<text x="430.62" y="47.42" fill="#fff" stroke="#fff">0.06</text>
<text x="442.95" y="47.42" fill="#fff" stroke="#fff">0.06</text>
<text x="455.28" y="47.42" fill="#fff" stroke="#fff">0.00</text>
<text x="467.61" y="47.42" fill="#fff" stroke="#fff">0.00</text>
<text x="479.94" y="47.42" fill="#fff" stroke="#fff">0.00</text>
<text x="73.06" y="58.46" fill="#fff" stroke="#fff">0.01</text>
<text x="85.39" y="58.46" fill="#fff" stroke="#fff">0.01</text>
<text x="97.72" y="58.46" fill="#fff" stroke="#fff">0.01</text>
<text x="110.05" y="58.46" fill="#262626" stroke="#262626">1.03</text>
<text x="122.38" y="58.46" fill="#fff" stroke="#fff">0.01</text>
<text x="134.71" y="58.46" fill="#fff" stroke="#fff">0.02</text>
<text x="147.04" y="58.46" fill="#fff" stroke="#fff">0.01</text>
<text x="159.37" y="58.46" fill="#fff" stroke="#fff">0.01</text>
<text x="171.70" y="58.46" fill="#fff" stroke="#fff">0.02</text>
<text x="184.03" y="58.46" fill="#fff" stroke="#fff">0.03</text>
<text x="196.36" y="58.46" fill="#fff" stroke="#fff">0.01</text>
<text x="208.69" y="58.46" fill="#fff" stroke="#fff">0.01</text>
<text x="221.02" y="58.46" fill="#fff" stroke="#fff">0.01</text>
<text x="233.35" y="58.46" fill="#fff" stroke="#fff">0.03</text>
<text x="245.68" y="58.46" fill="#fff" stroke="#fff">0.01</text>
<text x="258.01" y="58.46" fill="#fff" stroke="#fff">0.00</text>
<text x="270.34" y="58.46" fill="#fff" stroke="#fff">0.01</text>
<text x="282.66" y="58.46" fill="#262626" stroke="#262626">0.98</text>
<text x="294.99" y="58.46" fill="#fff" stroke="#fff">0.01</text>
<text x="307.32" y="58.46" fill="#fff" stroke="#fff">0.01</text>
<text x="319.65" y="58.46" fill="#fff" stroke="#fff">0.01</text>
<text x="331.98" y="58.46" fill="#fff" stroke="#fff">0.01</text>
<text x="344.31" y="58.46" fill="#fff" stroke="#fff">0.01</text>
<text x="356.64" y="58.46" fill="#fff" stroke="#fff">0.03</text>
<text x="368.97" y="58.46" fill="#fff" stroke="#fff">0.01</text>
<text x="381.30" y="58.46" fill="#fff" stroke="#fff">0.01</text>
<text x="393.63" y="58.46" fill="#fff" stroke="#fff">0.01</text>
<text x="405.96" y="58.46" fill="#fff" stroke="#fff">0.02</text>
<text x="418.29" y="58.46" fill="#fff" stroke="#fff">0.01</text>
<text x="430.62" y="58.46" fill="#fff" stroke="#fff">0.01</text>
<text x="442.95" y="58.46" fill="#fff" stroke="#fff">0.01</text>
<text x="455.28" y="58.46" fill="#fff" stroke="#fff">0.00</text>
<text x="467.61" y="58.46" fill="#fff" stroke="#fff">0.00</text>
<text x="479.94" y="58.46" fill="#fff" stroke="#fff">0.00</text>
<text x="73.06" y="69.49" fill="#fff" stroke="#fff">0.21</text>
<text x="85.39" y="69.49" fill="#fff" stroke="#fff">0.22</text>
<text x="97.72" y="69.49" fill="#fff" stroke="#fff">0.15</text>
<text x="110.05" y="69.49" fill="#fff" stroke="#fff">0.19</text>
<text x="122.38" y="69.49" fill="#262626" stroke="#262626">1.17</text>
<text x="134.71" y="69.49" fill="#fff" stroke="#fff">0.15</text>
<text x="147.04" y="69.49" fill="#fff" stroke="#fff">0.19</text>
<text x="159.37" y="69.49" fill="#fff" stroke="#fff">0.13</text>
<text x="171.70" y="69.49" fill="#fff" stroke="#fff">0.13</text>
<text x="184.03" y="69.49" fill="#fff" stroke="#fff">0.14</text>
<text x="196.36" y="69.49" fill="#fff" stroke="#fff">0.15</text>
<text x="208.69" y="69.49" fill="#fff" stroke="#fff">0.18</text>
<text x="221.02" y="69.49" fill="#fff" stroke="#fff">0.23</text>
<text x="233.35" y="69.49" fill="#fff" stroke="#fff">0.15</text>
<text x="245.68" y="69.49" fill="#fff" stroke="#fff">0.18</text>
<text x="258.01" y="69.49" fill="#fff" stroke="#fff">0.11</text>
<text x="270.34" y="69.49" fill="#fff" stroke="#fff">0.14</text>
<text x="282.66" y="69.49" fill="#fff" stroke="#fff">0.18</text>
<text x="294.99" y="69.49" fill="#262626" stroke="#262626">1.14</text>
<text x="307.32" y="69.49" fill="#fff" stroke="#fff">0.11</text>
<text x="319.65" y="69.49" fill="#fff" stroke="#fff">0.18</text>
<text x="331.98" y="69.49" fill="#fff" stroke="#fff">0.13</text>
<text x="344.31" y="69.49" fill="#fff" stroke="#fff">0.11</text>
<text x="356.64" y="69.49" fill="#fff" stroke="#fff">0.14</text>
<text x="368.97" y="69.49" fill="#fff" stroke="#fff">0.14</text>
<text x="381.30" y="69.49" fill="#fff" stroke="#fff">0.16</text>
<text x="393.63" y="69.49" fill="#fff" stroke="#fff">0.22</text>
<text x="405.96" y="69.49" fill="#fff" stroke="#fff">0.14</text>
<text x="418.29" y="69.49" fill="#fff" stroke="#fff">0.13</text>
<text x="430.62" y="69.49" fill="#fff" stroke="#fff">0.13</text>
<text x="442.95" y="69.49" fill="#fff" stroke="#fff">0.13</text>
<text x="455.28" y="69.49" fill="#fff" stroke="#fff">0.00</text>
<text x="467.61" y="69.49" fill="#fff" stroke="#fff">0.00</text>
<text x="479.94" y="69.49" fill="#fff" stroke="#fff">0.00</text>
<text x="73.06" y="80.53" fill="#fff" stroke="#fff">0.06</text>
<text x="85.39" y="80.53" fill="#fff" stroke="#fff">0.08</text>
<text x="97.72" y="80.53" fill="#fff" stroke="#fff">0.07</text>
<text x="110.05" y="80.53" fill="#fff" stroke="#fff">0.07</text>
<text x="122.38" y="80.53" fill="#fff" stroke="#fff">0.17</text>
<text x="134.71" y="80.53" fill="#fff" stroke="#fff">1.34</text>
<text x="147.04" y="80.53" fill="#fff" stroke="#fff">0.07</text>
<text x="159.37" y="80.53" fill="#fff" stroke="#fff">0.15</text>
<text x="171.70" y="80.53" fill="#fff" stroke="#fff">0.06</text>
<text x="184.03" y="80.53" fill="#fff" stroke="#fff">0.06</text>
<text x="196.36" y="80.53" fill="#fff" stroke="#fff">0.11</text>
<text x="208.69" y="80.53" fill="#fff" stroke="#fff">0.06</text>
<text x="221.02" y="80.53" fill="#fff" stroke="#fff">0.06</text>
<text x="233.35" y="80.53" fill="#fff" stroke="#fff">0.08</text>
<text x="245.68" y="80.53" fill="#fff" stroke="#fff">0.05</text>
<text x="258.01" y="80.53" fill="#fff" stroke="#fff">0.04</text>
<text x="270.34" y="80.53" fill="#fff" stroke="#fff">0.06</text>
<text x="282.66" y="80.53" fill="#fff" stroke="#fff">0.07</text>
<text x="294.99" y="80.53" fill="#fff" stroke="#fff">0.17</text>
<text x="307.32" y="80.53" fill="#262626" stroke="#262626">0.97</text>
<text x="319.65" y="80.53" fill="#fff" stroke="#fff">0.06</text>
<text x="331.98" y="80.53" fill="#fff" stroke="#fff">0.13</text>
<text x="344.31" y="80.53" fill="#fff" stroke="#fff">0.05</text>
<text x="356.64" y="80.53" fill="#fff" stroke="#fff">0.06</text>
<text x="368.97" y="80.53" fill="#fff" stroke="#fff">0.10</text>
<text x="381.30" y="80.53" fill="#fff" stroke="#fff">0.06</text>
<text x="393.63" y="80.53" fill="#fff" stroke="#fff">0.06</text>
<text x="405.96" y="80.53" fill="#fff" stroke="#fff">0.08</text>
<text x="418.29" y="80.53" fill="#fff" stroke="#fff">0.05</text>
<text x="430.62" y="80.53" fill="#fff" stroke="#fff">0.05</text>
<text x="442.95" y="80.53" fill="#fff" stroke="#fff">0.05</text>
<text x="455.28" y="80.53" fill="#fff" stroke="#fff">0.00</text>
<text x="467.61" y="80.53" fill="#fff" stroke="#fff">0.00</text>
<text x="479.94" y="80.53" fill="#fff" stroke="#fff">0.00</text>
<text x="73.06" y="91.56" fill="#fff" stroke="#fff">0.07</text>
<text x="85.39" y="91.56" fill="#fff" stroke="#fff">0.06</text>
<text x="97.72" y="91.56" fill="#fff" stroke="#fff">0.08</text>
<text x="110.05" y="91.56" fill="#fff" stroke="#fff">0.07</text>
<text x="122.38" y="91.56" fill="#fff" stroke="#fff">0.08</text>
<text x="134.71" y="91.56" fill="#fff" stroke="#fff">0.08</text>
<text x="147.04" y="91.56" fill="#262626" stroke="#262626">1.08</text>
<text x="159.37" y="91.56" fill="#fff" stroke="#fff">0.08</text>
<text x="171.70" y="91.56" fill="#fff" stroke="#fff">0.09</text>
<text x="184.03" y="91.56" fill="#fff" stroke="#fff">0.09</text>
<text x="196.36" y="91.56" fill="#fff" stroke="#fff">0.09</text>
<text x="208.69" y="91.56" fill="#fff" stroke="#fff">0.09</text>
<text x="221.02" y="91.56" fill="#fff" stroke="#fff">0.09</text>
<text x="233.35" y="91.56" fill="#fff" stroke="#fff">0.14</text>
<text x="245.68" y="91.56" fill="#fff" stroke="#fff">0.06</text>
<text x="258.01" y="91.56" fill="#fff" stroke="#fff">0.03</text>
<text x="270.34" y="91.56" fill="#fff" stroke="#fff">0.08</text>
<text x="282.66" y="91.56" fill="#fff" stroke="#fff">0.06</text>
<text x="294.99" y="91.56" fill="#fff" stroke="#fff">0.07</text>
<text x="307.32" y="91.56" fill="#fff" stroke="#fff">0.06</text>
<text x="319.65" y="91.56" fill="#262626" stroke="#262626">1.03</text>
<text x="331.98" y="91.56" fill="#fff" stroke="#fff">0.07</text>
<text x="344.31" y="91.56" fill="#fff" stroke="#fff">0.08</text>
<text x="356.64" y="91.56" fill="#fff" stroke="#fff">0.09</text>
<text x="368.97" y="91.56" fill="#fff" stroke="#fff">0.08</text>
<text x="381.30" y="91.56" fill="#fff" stroke="#fff">0.09</text>
<text x="393.63" y="91.56" fill="#fff" stroke="#fff">0.08</text>
<text x="405.96" y="91.56" fill="#fff" stroke="#fff">0.13</text>
<text x="418.29" y="91.56" fill="#fff" stroke="#fff">0.08</text>
<text x="430.62" y="91.56" fill="#fff" stroke="#fff">0.09</text>
<text x="442.95" y="91.56" fill="#fff" stroke="#fff">0.09</text>
<text x="455.28" y="91.56" fill="#fff" stroke="#fff">0.00</text>
<text x="467.61" y="91.56" fill="#fff" stroke="#fff">0.00</text>
<text x="479.94" y="91.56" fill="#fff" stroke="#fff">0.00</text>
<text x="73.06" y="102.60" fill="#fff" stroke="#fff">0.05</text>
<text x="85.39" y="102.60" fill="#fff" stroke="#fff">0.05</text>
<text x="97.72" y="102.60" fill="#fff" stroke="#fff">0.07</text>
<text x="110.05" y="102.60" fill="#fff" stroke="#fff">0.05</text>
<text x="122.38" y="102.60" fill="#fff" stroke="#fff">0.06</text>
<text x="134.71" y="102.60" fill="#fff" stroke="#fff">0.06</text>
<text x="147.04" y="102.60" fill="#fff" stroke="#fff">0.06</text>
<text x="159.37" y="102.60" fill="#262626" stroke="#262626">1.15</text>
<text x="171.70" y="102.60" fill="#fff" stroke="#fff">0.08</text>
<text x="184.03" y="102.60" fill="#fff" stroke="#fff">0.05</text>
<text x="196.36" y="102.60" fill="#fff" stroke="#fff">0.09</text>
<text x="208.69" y="102.60" fill="#fff" stroke="#fff">0.06</text>
<text x="221.02" y="102.60" fill="#fff" stroke="#fff">0.05</text>
<text x="233.35" y="102.60" fill="#fff" stroke="#fff">0.07</text>
<text x="245.68" y="102.60" fill="#fff" stroke="#fff">0.04</text>
<text x="258.01" y="102.60" fill="#fff" stroke="#fff">0.02</text>
<text x="270.34" y="102.60" fill="#fff" stroke="#fff">0.07</text>
<text x="282.66" y="102.60" fill="#fff" stroke="#fff">0.05</text>
<text x="294.99" y="102.60" fill="#fff" stroke="#fff">0.06</text>
<text x="307.32" y="102.60" fill="#fff" stroke="#fff">0.04</text>
<text x="319.65" y="102.60" fill="#fff" stroke="#fff">0.06</text>
<text x="331.98" y="102.60" fill="#262626" stroke="#262626">1.01</text>
<text x="344.31" y="102.60" fill="#fff" stroke="#fff">0.07</text>
<text x="356.64" y="102.60" fill="#fff" stroke="#fff">0.05</text>
<text x="368.97" y="102.60" fill="#fff" stroke="#fff">0.08</text>
<text x="381.30" y="102.60" fill="#fff" stroke="#fff">0.06</text>
<text x="393.63" y="102.60" fill="#fff" stroke="#fff">0.05</text>
<text x="405.96" y="102.60" fill="#fff" stroke="#fff">0.06</text>
<text x="418.29" y="102.60" fill="#fff" stroke="#fff">0.05</text>
<text x="430.62" y="102.60" fill="#fff" stroke="#fff">0.05</text>
<text x="442.95" y="102.60" fill="#fff" stroke="#fff">0.05</text>
<text x="455.28" y="102.60" fill="#fff" stroke="#fff">0.00</text>
<text x="467.61" y="102.60" fill="#fff" stroke="#fff">0.00</text>
<text x="479.94" y="102.60" fill="#fff" stroke="#fff">0.00</text>
<text x="73.06" y="113.63" fill="#fff" stroke="#fff">0.07</text>
<text x="85.39" y="113.63" fill="#fff" stroke="#fff">0.06</text>
<text x="97.72" y="113.63" fill="#fff" stroke="#fff">0.06</text>
<text x="110.05" y="113.63" fill="#fff" stroke="#fff">0.07</text>
<text x="122.38" y="113.63" fill="#fff" stroke="#fff">0.08</text>
<text x="134.71" y="113.63" fill="#fff" stroke="#fff">0.08</text>
<text x="147.04" y="113.63" fill="#fff" stroke="#fff">0.07</text>
<text x="159.37" y="113.63" fill="#fff" stroke="#fff">0.08</text>
<text x="171.70" y="113.63" fill="#262626" stroke="#262626">1.15</text>
<text x="184.03" y="113.63" fill="#fff" stroke="#fff">0.07</text>
<text x="196.36" y="113.63" fill="#fff" stroke="#fff">0.07</text>
<text x="208.69" y="113.63" fill="#fff" stroke="#fff">0.07</text>
<text x="221.02" y="113.63" fill="#fff" stroke="#fff">0.06</text>
<text x="233.35" y="113.63" fill="#fff" stroke="#fff">0.09</text>
<text x="245.68" y="113.63" fill="#fff" stroke="#fff">0.06</text>
<text x="258.01" y="113.63" fill="#fff" stroke="#fff">0.03</text>
<text x="270.34" y="113.63" fill="#fff" stroke="#fff">0.06</text>
<text x="282.66" y="113.63" fill="#fff" stroke="#fff">0.07</text>
<text x="294.99" y="113.63" fill="#fff" stroke="#fff">0.07</text>
<text x="307.32" y="113.63" fill="#fff" stroke="#fff">0.06</text>
<text x="319.65" y="113.63" fill="#fff" stroke="#fff">0.06</text>
<text x="331.98" y="113.63" fill="#fff" stroke="#fff">0.07</text>
<text x="344.31" y="113.63" fill="#262626" stroke="#262626">0.99</text>
<text x="356.64" y="113.63" fill="#fff" stroke="#fff">0.07</text>
<text x="368.97" y="113.63" fill="#fff" stroke="#fff">0.07</text>
<text x="381.30" y="113.63" fill="#fff" stroke="#fff">0.07</text>
<text x="393.63" y="113.63" fill="#fff" stroke="#fff">0.05</text>
<text x="405.96" y="113.63" fill="#fff" stroke="#fff">0.09</text>
<text x="418.29" y="113.63" fill="#fff" stroke="#fff">0.05</text>
<text x="430.62" y="113.63" fill="#fff" stroke="#fff">0.05</text>
<text x="442.95" y="113.63" fill="#fff" stroke="#fff">0.05</text>
<text x="455.28" y="113.63" fill="#fff" stroke="#fff">0.00</text>
<text x="467.61" y="113.63" fill="#fff" stroke="#fff">0.00</text>
<text x="479.94" y="113.63" fill="#fff" stroke="#fff">0.00</text>
<text x="73.06" y="124.67" fill="#fff" stroke="#fff">0.16</text>
<text x="85.39" y="124.67" fill="#fff" stroke="#fff">0.15</text>
<text x="97.72" y="124.67" fill="#fff" stroke="#fff">0.22</text>
<text x="110.05" y="124.67" fill="#fff" stroke="#fff">0.21</text>
<text x="122.38" y="124.67" fill="#fff" stroke="#fff">0.26</text>
<text x="134.71" y="124.67" fill="#fff" stroke="#fff">0.17</text>
<text x="147.04" y="124.67" fill="#fff" stroke="#fff">0.18</text>
<text x="159.37" y="124.67" fill="#fff" stroke="#fff">0.30</text>
<text x="171.70" y="124.67" fill="#fff" stroke="#fff">0.20</text>
<text x="184.03" y="124.67" fill="#262626" stroke="#262626">1.18</text>
<text x="196.36" y="124.67" fill="#fff" stroke="#fff">0.27</text>
<text x="208.69" y="124.67" fill="#fff" stroke="#fff">0.18</text>
<text x="221.02" y="124.67" fill="#fff" stroke="#fff">0.17</text>
<text x="233.35" y="124.67" fill="#fff" stroke="#fff">0.21</text>
<text x="245.68" y="124.67" fill="#fff" stroke="#fff">0.14</text>
<text x="258.01" y="124.67" fill="#fff" stroke="#fff">0.07</text>
<text x="270.34" y="124.67" fill="#fff" stroke="#fff">0.21</text>
<text x="282.66" y="124.67" fill="#fff" stroke="#fff">0.20</text>
<text x="294.99" y="124.67" fill="#fff" stroke="#fff">0.25</text>
<text x="307.32" y="124.67" fill="#fff" stroke="#fff">0.12</text>
<text x="319.65" y="124.67" fill="#fff" stroke="#fff">0.17</text>
<text x="331.98" y="124.67" fill="#fff" stroke="#fff">0.28</text>
<text x="344.31" y="124.67" fill="#fff" stroke="#fff">0.18</text>
<text x="356.64" y="124.67" fill="#262626" stroke="#262626">1.17</text>
<text x="368.97" y="124.67" fill="#fff" stroke="#fff">0.25</text>
<text x="381.30" y="124.67" fill="#fff" stroke="#fff">0.16</text>
<text x="393.63" y="124.67" fill="#fff" stroke="#fff">0.16</text>
<text x="405.96" y="124.67" fill="#fff" stroke="#fff">0.20</text>
<text x="418.29" y="124.67" fill="#fff" stroke="#fff">0.17</text>
<text x="430.62" y="124.67" fill="#fff" stroke="#fff">0.17</text>
<text x="442.95" y="124.67" fill="#fff" stroke="#fff">0.17</text>
<text x="455.28" y="124.67" fill="#fff" stroke="#fff">0.00</text>
<text x="467.61" y="124.67" fill="#fff" stroke="#fff">0.00</text>
<text x="479.94" y="124.67" fill="#fff" stroke="#fff">0.00</text>
<text x="73.06" y="135.70" fill="#fff" stroke="#fff">0.04</text>
<text x="85.39" y="135.70" fill="#fff" stroke="#fff">0.09</text>
<text x="97.72" y="135.70" fill="#fff" stroke="#fff">0.07</text>
<text x="110.05" y="135.70" fill="#fff" stroke="#fff">0.16</text>
<text x="122.38" y="135.70" fill="#fff" stroke="#fff">0.07</text>
<text x="134.71" y="135.70" fill="#fff" stroke="#fff">0.09</text>
<text x="147.04" y="135.70" fill="#fff" stroke="#fff">0.05</text>
<text x="159.37" y="135.70" fill="#fff" stroke="#fff">0.09</text>
<text x="171.70" y="135.70" fill="#fff" stroke="#fff">0.07</text>
<text x="184.03" y="135.70" fill="#fff" stroke="#fff">0.04</text>
<text x="196.36" y="135.70" fill="#262626" stroke="#262626">1.09</text>
<text x="208.69" y="135.70" fill="#fff" stroke="#fff">0.05</text>
<text x="221.02" y="135.70" fill="#fff" stroke="#fff">0.05</text>
<text x="233.35" y="135.70" fill="#fff" stroke="#fff">0.06</text>
<text x="245.68" y="135.70" fill="#fff" stroke="#fff">0.04</text>
<text x="258.01" y="135.70" fill="#fff" stroke="#fff">0.05</text>
<text x="270.34" y="135.70" fill="#fff" stroke="#fff">0.06</text>
<text x="282.66" y="135.70" fill="#fff" stroke="#fff">0.15</text>
<text x="294.99" y="135.70" fill="#fff" stroke="#fff">0.07</text>
<text x="307.32" y="135.70" fill="#fff" stroke="#fff">0.06</text>
<text x="319.65" y="135.70" fill="#fff" stroke="#fff">0.05</text>
<text x="331.98" y="135.70" fill="#fff" stroke="#fff">0.08</text>
<text x="344.31" y="135.70" fill="#fff" stroke="#fff">0.06</text>
<text x="356.64" y="135.70" fill="#fff" stroke="#fff">0.04</text>
<text x="368.97" y="135.70" fill="#262626" stroke="#262626">1.00</text>
<text x="381.30" y="135.70" fill="#fff" stroke="#fff">0.05</text>
<text x="393.63" y="135.70" fill="#fff" stroke="#fff">0.04</text>
<text x="405.96" y="135.70" fill="#fff" stroke="#fff">0.08</text>
<text x="418.29" y="135.70" fill="#fff" stroke="#fff">0.03</text>
<text x="430.62" y="135.70" fill="#fff" stroke="#fff">0.03</text>
<text x="442.95" y="135.70" fill="#fff" stroke="#fff">0.03</text>
<text x="455.28" y="135.70" fill="#fff" stroke="#fff">0.00</text>
<text x="467.61" y="135.70" fill="#fff" stroke="#fff">0.00</text>
<text x="479.94" y="135.70" fill="#fff" stroke="#fff">0.00</text>
<text x="73.06" y="146.74" fill="#fff" stroke="#fff">0.03</text>
<text x="85.39" y="146.74" fill="#fff" stroke="#fff">0.03</text>
<text x="97.72" y="146.74" fill="#fff" stroke="#fff">0.04</text>
<text x="110.05" y="146.74" fill="#fff" stroke="#fff">0.04</text>
<text x="122.38" y="146.74" fill="#fff" stroke="#fff">0.04</text>
<text x="134.71" y="146.74" fill="#fff" stroke="#fff">0.06</text>
<text x="147.04" y="146.74" fill="#fff" stroke="#fff">0.06</text>
<text x="159.37" y="146.74" fill="#fff" stroke="#fff">0.04</text>
<text x="171.70" y="146.74" fill="#fff" stroke="#fff">0.04</text>
<text x="184.03" y="146.74" fill="#fff" stroke="#fff">0.03</text>
<text x="196.36" y="146.74" fill="#fff" stroke="#fff">0.04</text>
<text x="208.69" y="146.74" fill="#262626" stroke="#262626">1.05</text>
<text x="221.02" y="146.74" fill="#fff" stroke="#fff">0.05</text>
<text x="233.35" y="146.74" fill="#fff" stroke="#fff">0.05</text>
<text x="245.68" y="146.74" fill="#fff" stroke="#fff">0.02</text>
<text x="258.01" y="146.74" fill="#fff" stroke="#fff">0.02</text>
<text x="270.34" y="146.74" fill="#fff" stroke="#fff">0.04</text>
<text x="282.66" y="146.74" fill="#fff" stroke="#fff">0.04</text>
<text x="294.99" y="146.74" fill="#fff" stroke="#fff">0.04</text>
<text x="307.32" y="146.74" fill="#fff" stroke="#fff">0.04</text>
<text x="319.65" y="146.74" fill="#fff" stroke="#fff">0.05</text>
<text x="331.98" y="146.74" fill="#fff" stroke="#fff">0.04</text>
<text x="344.31" y="146.74" fill="#fff" stroke="#fff">0.04</text>
<text x="356.64" y="146.74" fill="#fff" stroke="#fff">0.03</text>
<text x="368.97" y="146.74" fill="#fff" stroke="#fff">0.04</text>
<text x="381.30" y="146.74" fill="#262626" stroke="#262626">1.03</text>
<text x="393.63" y="146.74" fill="#fff" stroke="#fff">0.05</text>
<text x="405.96" y="146.74" fill="#fff" stroke="#fff">0.05</text>
<text x="418.29" y="146.74" fill="#fff" stroke="#fff">0.03</text>
<text x="430.62" y="146.74" fill="#fff" stroke="#fff">0.03</text>
<text x="442.95" y="146.74" fill="#fff" stroke="#fff">0.03</text>
<text x="455.28" y="146.74" fill="#fff" stroke="#fff">0.00</text>
<text x="467.61" y="146.74" fill="#fff" stroke="#fff">0.00</text>
<text x="479.94" y="146.74" fill="#fff" stroke="#fff">0.00</text>
<text x="73.06" y="157.77" fill="#fff" stroke="#fff">0.02</text>
<text x="85.39" y="157.77" fill="#fff" stroke="#fff">0.02</text>
<text x="97.72" y="157.77" fill="#fff" stroke="#fff">0.02</text>
<text x="110.05" y="157.77" fill="#fff" stroke="#fff">0.02</text>
<text x="122.38" y="157.77" fill="#fff" stroke="#fff">0.02</text>
<text x="134.71" y="157.77" fill="#fff" stroke="#fff">0.02</text>
<text x="147.04" y="157.77" fill="#fff" stroke="#fff">0.02</text>
<text x="159.37" y="157.77" fill="#fff" stroke="#fff">0.02</text>
<text x="171.70" y="157.77" fill="#fff" stroke="#fff">0.03</text>
<text x="184.03" y="157.77" fill="#fff" stroke="#fff">0.02</text>
<text x="196.36" y="157.77" fill="#fff" stroke="#fff">0.02</text>
<text x="208.69" y="157.77" fill="#fff" stroke="#fff">0.05</text>
<text x="221.02" y="157.77" fill="#262626" stroke="#262626">1.03</text>
<text x="233.35" y="157.77" fill="#fff" stroke="#fff">0.03</text>
<text x="245.68" y="157.77" fill="#fff" stroke="#fff">0.02</text>
<text x="258.01" y="157.77" fill="#fff" stroke="#fff">0.01</text>
<text x="270.34" y="157.77" fill="#fff" stroke="#fff">0.02</text>
<text x="282.66" y="157.77" fill="#fff" stroke="#fff">0.02</text>
<text x="294.99" y="157.77" fill="#fff" stroke="#fff">0.02</text>
<text x="307.32" y="157.77" fill="#fff" stroke="#fff">0.01</text>
<text x="319.65" y="157.77" fill="#fff" stroke="#fff">0.02</text>
<text x="331.98" y="157.77" fill="#fff" stroke="#fff">0.02</text>
<text x="344.31" y="157.77" fill="#fff" stroke="#fff">0.02</text>
<text x="356.64" y="157.77" fill="#fff" stroke="#fff">0.02</text>
<text x="368.97" y="157.77" fill="#fff" stroke="#fff">0.02</text>
<text x="381.30" y="157.77" fill="#fff" stroke="#fff">0.05</text>
<text x="393.63" y="157.77" fill="#262626" stroke="#262626">0.99</text>
<text x="405.96" y="157.77" fill="#fff" stroke="#fff">0.02</text>
<text x="418.29" y="157.77" fill="#fff" stroke="#fff">0.03</text>
<text x="430.62" y="157.77" fill="#fff" stroke="#fff">0.03</text>
<text x="442.95" y="157.77" fill="#fff" stroke="#fff">0.03</text>
<text x="455.28" y="157.77" fill="#fff" stroke="#fff">0.00</text>
<text x="467.61" y="157.77" fill="#fff" stroke="#fff">0.00</text>
<text x="479.94" y="157.77" fill="#fff" stroke="#fff">0.00</text>
<text x="73.06" y="168.81" fill="#fff" stroke="#fff">0.02</text>
<text x="85.39" y="168.81" fill="#fff" stroke="#fff">0.03</text>
<text x="97.72" y="168.81" fill="#fff" stroke="#fff">0.03</text>
<text x="110.05" y="168.81" fill="#fff" stroke="#fff">0.03</text>
<text x="122.38" y="168.81" fill="#fff" stroke="#fff">0.03</text>
<text x="134.71" y="168.81" fill="#fff" stroke="#fff">0.03</text>
<text x="147.04" y="168.81" fill="#fff" stroke="#fff">0.03</text>
<text x="159.37" y="168.81" fill="#fff" stroke="#fff">0.04</text>
<text x="171.70" y="168.81" fill="#fff" stroke="#fff">0.05</text>
<text x="184.03" y="168.81" fill="#fff" stroke="#fff">0.04</text>
<text x="196.36" y="168.81" fill="#fff" stroke="#fff">0.04</text>
<text x="208.69" y="168.81" fill="#fff" stroke="#fff">0.06</text>
<text x="221.02" y="168.81" fill="#fff" stroke="#fff">0.03</text>
<text x="233.35" y="168.81" fill="#262626" stroke="#262626">1.10</text>
<text x="245.68" y="168.81" fill="#fff" stroke="#fff">0.02</text>
<text x="258.01" y="168.81" fill="#fff" stroke="#fff">0.01</text>
<text x="270.34" y="168.81" fill="#fff" stroke="#fff">0.03</text>
<text x="282.66" y="168.81" fill="#fff" stroke="#fff">0.03</text>
<text x="294.99" y="168.81" fill="#fff" stroke="#fff">0.03</text>
<text x="307.32" y="168.81" fill="#fff" stroke="#fff">0.02</text>
<text x="319.65" y="168.81" fill="#fff" stroke="#fff">0.03</text>
<text x="331.98" y="168.81" fill="#fff" stroke="#fff">0.04</text>
<text x="344.31" y="168.81" fill="#fff" stroke="#fff">0.04</text>
<text x="356.64" y="168.81" fill="#fff" stroke="#fff">0.04</text>
<text x="368.97" y="168.81" fill="#fff" stroke="#fff">0.04</text>
<text x="381.30" y="168.81" fill="#fff" stroke="#fff">0.06</text>
<text x="393.63" y="168.81" fill="#fff" stroke="#fff">0.03</text>
<text x="405.96" y="168.81" fill="#262626" stroke="#262626">1.06</text>
<text x="418.29" y="168.81" fill="#fff" stroke="#fff">0.04</text>
<text x="430.62" y="168.81" fill="#fff" stroke="#fff">0.04</text>
<text x="442.95" y="168.81" fill="#fff" stroke="#fff">0.04</text>
<text x="455.28" y="168.81" fill="#fff" stroke="#fff">0.00</text>
<text x="467.61" y="168.81" fill="#fff" stroke="#fff">0.00</text>
<text x="479.94" y="168.81" fill="#fff" stroke="#fff">0.00</text>
<text x="73.06" y="179.84" fill="#fff" stroke="#fff">0.26</text>
<text x="85.39" y="179.84" fill="#fff" stroke="#fff">0.15</text>
<text x="97.72" y="179.84" fill="#fff" stroke="#fff">0.07</text>
<text x="110.05" y="179.84" fill="#fff" stroke="#fff">0.07</text>
<text x="122.38" y="179.84" fill="#fff" stroke="#fff">0.06</text>
<text x="134.71" y="179.84" fill="#fff" stroke="#fff">0.06</text>
<text x="147.04" y="179.84" fill="#fff" stroke="#fff">0.13</text>
<text x="159.37" y="179.84" fill="#fff" stroke="#fff">0.06</text>
<text x="171.70" y="179.84" fill="#fff" stroke="#fff">0.06</text>
<text x="184.03" y="179.84" fill="#fff" stroke="#fff">0.07</text>
<text x="196.36" y="179.84" fill="#fff" stroke="#fff">0.06</text>
<text x="208.69" y="179.84" fill="#fff" stroke="#fff">0.07</text>
<text x="221.02" y="179.84" fill="#fff" stroke="#fff">0.07</text>
<text x="233.35" y="179.84" fill="#fff" stroke="#fff">0.07</text>
<text x="245.68" y="179.84" fill="#fff" stroke="#fff">1.21</text>
<text x="258.01" y="179.84" fill="#fff" stroke="#fff">0.07</text>
<text x="270.34" y="179.84" fill="#fff" stroke="#fff">0.06</text>
<text x="282.66" y="179.84" fill="#fff" stroke="#fff">0.06</text>
<text x="294.99" y="179.84" fill="#fff" stroke="#fff">0.06</text>
<text x="307.32" y="179.84" fill="#fff" stroke="#fff">0.04</text>
<text x="319.65" y="179.84" fill="#fff" stroke="#fff">0.12</text>
<text x="331.98" y="179.84" fill="#fff" stroke="#fff">0.05</text>
<text x="344.31" y="179.84" fill="#fff" stroke="#fff">0.05</text>
<text x="356.64" y="179.84" fill="#fff" stroke="#fff">0.06</text>
<text x="368.97" y="179.84" fill="#fff" stroke="#fff">0.06</text>
<text x="381.30" y="179.84" fill="#fff" stroke="#fff">0.06</text>
<text x="393.63" y="179.84" fill="#fff" stroke="#fff">0.06</text>
<text x="405.96" y="179.84" fill="#fff" stroke="#fff">0.06</text>
<text x="418.29" y="179.84" fill="#fff" stroke="#fff">0.06</text>
<text x="430.62" y="179.84" fill="#fff" stroke="#fff">0.06</text>
<text x="442.95" y="179.84" fill="#fff" stroke="#fff">0.06</text>
<text x="455.28" y="179.84" fill="#fff" stroke="#fff">0.00</text>
<text x="467.61" y="179.84" fill="#fff" stroke="#fff">0.00</text>
<text x="479.94" y="179.84" fill="#fff" stroke="#fff">0.00</text>
<text x="73.06" y="190.88" fill="#262626" stroke="#262626">0.53</text>
<text x="85.39" y="190.88" fill="#262626" stroke="#262626">0.77</text>
<text x="97.72" y="190.88" fill="#262626" stroke="#262626">0.46</text>
<text x="110.05" y="190.88" fill="#262626" stroke="#262626">0.70</text>
<text x="122.38" y="190.88" fill="#262626" stroke="#262626">0.47</text>
<text x="134.71" y="190.88" fill="#262626" stroke="#262626">0.44</text>
<text x="147.04" y="190.88" fill="#262626" stroke="#262626">0.57</text>
<text x="159.37" y="190.88" fill="#262626" stroke="#262626">0.40</text>
<text x="171.70" y="190.88" fill="#fff" stroke="#fff">0.36</text>
<text x="184.03" y="190.88" fill="#262626" stroke="#262626">0.38</text>
<text x="196.36" y="190.88" fill="#262626" stroke="#262626">0.43</text>
<text x="208.69" y="190.88" fill="#262626" stroke="#262626">0.40</text>
<text x="221.02" y="190.88" fill="#262626" stroke="#262626">0.52</text>
<text x="233.35" y="190.88" fill="#262626" stroke="#262626">0.42</text>
<text x="245.68" y="190.88" fill="#262626" stroke="#262626">0.45</text>
<text x="258.01" y="190.88" fill="#fff" stroke="#fff">1.37</text>
<text x="270.34" y="190.88" fill="#262626" stroke="#262626">0.45</text>
<text x="282.66" y="190.88" fill="#262626" stroke="#262626">0.66</text>
<text x="294.99" y="190.88" fill="#262626" stroke="#262626">0.46</text>
<text x="307.32" y="190.88" fill="#fff" stroke="#fff">0.33</text>
<text x="319.65" y="190.88" fill="#262626" stroke="#262626">0.54</text>
<text x="331.98" y="190.88" fill="#fff" stroke="#fff">0.35</text>
<text x="344.31" y="190.88" fill="#fff" stroke="#fff">0.31</text>
<text x="356.64" y="190.88" fill="#262626" stroke="#262626">0.37</text>
<text x="368.97" y="190.88" fill="#262626" stroke="#262626">0.39</text>
<text x="381.30" y="190.88" fill="#262626" stroke="#262626">0.39</text>
<text x="393.63" y="190.88" fill="#262626" stroke="#262626">0.50</text>
<text x="405.96" y="190.88" fill="#262626" stroke="#262626">0.40</text>
<text x="418.29" y="190.88" fill="#fff" stroke="#fff">0.35</text>
<text x="430.62" y="190.88" fill="#fff" stroke="#fff">0.35</text>
<text x="442.95" y="190.88" fill="#fff" stroke="#fff">0.35</text>
<text x="455.28" y="190.88" fill="#fff" stroke="#fff">0.00</text>
<text x="467.61" y="190.88" fill="#fff" stroke="#fff">0.00</text>
<text x="479.94" y="190.88" fill="#fff" stroke="#fff">0.00</text>
<text x="73.06" y="201.91" fill="#fff" stroke="#fff">0.10</text>
<text x="85.39" y="201.91" fill="#fff" stroke="#fff">0.11</text>
<text x="97.72" y="201.91" fill="#fff" stroke="#fff">0.35</text>
<text x="110.05" y="201.91" fill="#fff" stroke="#fff">0.07</text>
<text x="122.38" y="201.91" fill="#fff" stroke="#fff">0.08</text>
<text x="134.71" y="201.91" fill="#fff" stroke="#fff">0.09</text>
<text x="147.04" y="201.91" fill="#fff" stroke="#fff">0.08</text>
<text x="159.37" y="201.91" fill="#fff" stroke="#fff">0.10</text>
<text x="171.70" y="201.91" fill="#fff" stroke="#fff">0.07</text>
<text x="184.03" y="201.91" fill="#fff" stroke="#fff">0.07</text>
<text x="196.36" y="201.91" fill="#fff" stroke="#fff">0.09</text>
<text x="208.69" y="201.91" fill="#fff" stroke="#fff">0.09</text>
<text x="221.02" y="201.91" fill="#fff" stroke="#fff">0.09</text>
<text x="233.35" y="201.91" fill="#fff" stroke="#fff">0.11</text>
<text x="245.68" y="201.91" fill="#fff" stroke="#fff">0.08</text>
<text x="258.01" y="201.91" fill="#fff" stroke="#fff">0.05</text>
<text x="270.34" y="201.91" fill="#fff" stroke="#fff">1.33</text>
<text x="282.66" y="201.91" fill="#fff" stroke="#fff">0.07</text>
<text x="294.99" y="201.91" fill="#fff" stroke="#fff">0.08</text>
<text x="307.32" y="201.91" fill="#fff" stroke="#fff">0.07</text>
<text x="319.65" y="201.91" fill="#fff" stroke="#fff">0.08</text>
<text x="331.98" y="201.91" fill="#fff" stroke="#fff">0.08</text>
<text x="344.31" y="201.91" fill="#fff" stroke="#fff">0.06</text>
<text x="356.64" y="201.91" fill="#fff" stroke="#fff">0.07</text>
<text x="368.97" y="201.91" fill="#fff" stroke="#fff">0.08</text>
<text x="381.30" y="201.91" fill="#fff" stroke="#fff">0.09</text>
<text x="393.63" y="201.91" fill="#fff" stroke="#fff">0.09</text>
<text x="405.96" y="201.91" fill="#fff" stroke="#fff">0.10</text>
<text x="418.29" y="201.91" fill="#fff" stroke="#fff">0.07</text>
<text x="430.62" y="201.91" fill="#fff" stroke="#fff">0.07</text>
<text x="442.95" y="201.91" fill="#fff" stroke="#fff">0.07</text>
<text x="455.28" y="201.91" fill="#fff" stroke="#fff">0.00</text>
<text x="467.61" y="201.91" fill="#fff" stroke="#fff">0.00</text>
<text x="479.94" y="201.91" fill="#fff" stroke="#fff">0.00</text>
<text x="73.06" y="212.95" fill="#fff" stroke="#fff">0.01</text>
<text x="85.39" y="212.95" fill="#fff" stroke="#fff">0.01</text>
<text x="97.72" y="212.95" fill="#fff" stroke="#fff">0.01</text>
<text x="110.05" y="212.95" fill="#fff" stroke="#fff">0.03</text>
<text x="122.38" y="212.95" fill="#fff" stroke="#fff">0.01</text>
<text x="134.71" y="212.95" fill="#fff" stroke="#fff">0.02</text>
<text x="147.04" y="212.95" fill="#fff" stroke="#fff">0.01</text>
<text x="159.37" y="212.95" fill="#fff" stroke="#fff">0.01</text>
<text x="171.70" y="212.95" fill="#fff" stroke="#fff">0.02</text>
<text x="184.03" y="212.95" fill="#fff" stroke="#fff">0.03</text>
<text x="196.36" y="212.95" fill="#fff" stroke="#fff">0.01</text>
<text x="208.69" y="212.95" fill="#fff" stroke="#fff">0.01</text>
<text x="221.02" y="212.95" fill="#fff" stroke="#fff">0.01</text>
<text x="233.35" y="212.95" fill="#fff" stroke="#fff">0.03</text>
<text x="245.68" y="212.95" fill="#fff" stroke="#fff">0.01</text>
<text x="258.01" y="212.95" fill="#fff" stroke="#fff">0.00</text>
<text x="270.34" y="212.95" fill="#fff" stroke="#fff">0.01</text>
<text x="282.66" y="212.95" fill="#262626" stroke="#262626">1.03</text>
<text x="294.99" y="212.95" fill="#fff" stroke="#fff">0.01</text>
<text x="307.32" y="212.95" fill="#fff" stroke="#fff">0.01</text>
<text x="319.65" y="212.95" fill="#fff" stroke="#fff">0.01</text>
<text x="331.98" y="212.95" fill="#fff" stroke="#fff">0.01</text>
<text x="344.31" y="212.95" fill="#fff" stroke="#fff">0.01</text>
<text x="356.64" y="212.95" fill="#fff" stroke="#fff">0.03</text>
<text x="368.97" y="212.95" fill="#fff" stroke="#fff">0.01</text>
<text x="381.30" y="212.95" fill="#fff" stroke="#fff">0.01</text>
<text x="393.63" y="212.95" fill="#fff" stroke="#fff">0.01</text>
<text x="405.96" y="212.95" fill="#fff" stroke="#fff">0.02</text>
<text x="418.29" y="212.95" fill="#fff" stroke="#fff">0.01</text>
<text x="430.62" y="212.95" fill="#fff" stroke="#fff">0.01</text>
<text x="442.95" y="212.95" fill="#fff" stroke="#fff">0.01</text>
<text x="455.28" y="212.95" fill="#fff" stroke="#fff">0.00</text>
<text x="467.61" y="212.95" fill="#fff" stroke="#fff">0.00</text>
<text x="479.94" y="212.95" fill="#fff" stroke="#fff">0.00</text>
<text x="73.06" y="223.98" fill="#fff" stroke="#fff">0.22</text>
<text x="85.39" y="223.98" fill="#fff" stroke="#fff">0.23</text>
<text x="97.72" y="223.98" fill="#fff" stroke="#fff">0.15</text>
<text x="110.05" y="223.98" fill="#fff" stroke="#fff">0.20</text>
<text x="122.38" y="223.98" fill="#fff" stroke="#fff">0.17</text>
<text x="134.71" y="223.98" fill="#fff" stroke="#fff">0.15</text>
<text x="147.04" y="223.98" fill="#fff" stroke="#fff">0.20</text>
<text x="159.37" y="223.98" fill="#fff" stroke="#fff">0.15</text>
<text x="171.70" y="223.98" fill="#fff" stroke="#fff">0.13</text>
<text x="184.03" y="223.98" fill="#fff" stroke="#fff">0.16</text>
<text x="196.36" y="223.98" fill="#fff" stroke="#fff">0.16</text>
<text x="208.69" y="223.98" fill="#fff" stroke="#fff">0.18</text>
<text x="221.02" y="223.98" fill="#fff" stroke="#fff">0.23</text>
<text x="233.35" y="223.98" fill="#fff" stroke="#fff">0.15</text>
<text x="245.68" y="223.98" fill="#fff" stroke="#fff">0.18</text>
<text x="258.01" y="223.98" fill="#fff" stroke="#fff">0.11</text>
<text x="270.34" y="223.98" fill="#fff" stroke="#fff">0.14</text>
<text x="282.66" y="223.98" fill="#fff" stroke="#fff">0.19</text>
<text x="294.99" y="223.98" fill="#262626" stroke="#262626">1.17</text>
<text x="307.32" y="223.98" fill="#fff" stroke="#fff">0.11</text>
<text x="319.65" y="223.98" fill="#fff" stroke="#fff">0.19</text>
<text x="331.98" y="223.98" fill="#fff" stroke="#fff">0.13</text>
<text x="344.31" y="223.98" fill="#fff" stroke="#fff">0.12</text>
<text x="356.64" y="223.98" fill="#fff" stroke="#fff">0.14</text>
<text x="368.97" y="223.98" fill="#fff" stroke="#fff">0.15</text>
<text x="381.30" y="223.98" fill="#fff" stroke="#fff">0.16</text>
<text x="393.63" y="223.98" fill="#fff" stroke="#fff">0.22</text>
<text x="405.96" y="223.98" fill="#fff" stroke="#fff">0.14</text>
<text x="418.29" y="223.98" fill="#fff" stroke="#fff">0.13</text>
<text x="430.62" y="223.98" fill="#fff" stroke="#fff">0.13</text>
<text x="442.95" y="223.98" fill="#fff" stroke="#fff">0.13</text>
<text x="455.28" y="223.98" fill="#fff" stroke="#fff">0.00</text>
<text x="467.61" y="223.98" fill="#fff" stroke="#fff">0.00</text>
<text x="479.94" y="223.98" fill="#fff" stroke="#fff">0.00</text>
<text x="73.06" y="235.02" fill="#fff" stroke="#fff">0.09</text>
<text x="85.39" y="235.02" fill="#fff" stroke="#fff">0.11</text>
<text x="97.72" y="235.02" fill="#fff" stroke="#fff">0.09</text>
<text x="110.05" y="235.02" fill="#fff" stroke="#fff">0.10</text>
<text x="122.38" y="235.02" fill="#fff" stroke="#fff">0.24</text>
<text x="134.71" y="235.02" fill="#262626" stroke="#262626">0.47</text>
<text x="147.04" y="235.02" fill="#fff" stroke="#fff">0.09</text>
<text x="159.37" y="235.02" fill="#fff" stroke="#fff">0.21</text>
<text x="171.70" y="235.02" fill="#fff" stroke="#fff">0.08</text>
<text x="184.03" y="235.02" fill="#fff" stroke="#fff">0.08</text>
<text x="196.36" y="235.02" fill="#fff" stroke="#fff">0.15</text>
<text x="208.69" y="235.02" fill="#fff" stroke="#fff">0.09</text>
<text x="221.02" y="235.02" fill="#fff" stroke="#fff">0.09</text>
<text x="233.35" y="235.02" fill="#fff" stroke="#fff">0.12</text>
<text x="245.68" y="235.02" fill="#fff" stroke="#fff">0.07</text>
<text x="258.01" y="235.02" fill="#fff" stroke="#fff">0.06</text>
<text x="270.34" y="235.02" fill="#fff" stroke="#fff">0.08</text>
<text x="282.66" y="235.02" fill="#fff" stroke="#fff">0.10</text>
<text x="294.99" y="235.02" fill="#fff" stroke="#fff">0.23</text>
<text x="307.32" y="235.02" fill="#fff" stroke="#fff">1.34</text>
<text x="319.65" y="235.02" fill="#fff" stroke="#fff">0.09</text>
<text x="331.98" y="235.02" fill="#fff" stroke="#fff">0.18</text>
<text x="344.31" y="235.02" fill="#fff" stroke="#fff">0.07</text>
<text x="356.64" y="235.02" fill="#fff" stroke="#fff">0.08</text>
<text x="368.97" y="235.02" fill="#fff" stroke="#fff">0.14</text>
<text x="381.30" y="235.02" fill="#fff" stroke="#fff">0.08</text>
<text x="393.63" y="235.02" fill="#fff" stroke="#fff">0.08</text>
<text x="405.96" y="235.02" fill="#fff" stroke="#fff">0.11</text>
<text x="418.29" y="235.02" fill="#fff" stroke="#fff">0.07</text>
<text x="430.62" y="235.02" fill="#fff" stroke="#fff">0.07</text>
<text x="442.95" y="235.02" fill="#fff" stroke="#fff">0.07</text>
<text x="455.28" y="235.02" fill="#fff" stroke="#fff">0.00</text>
<text x="467.61" y="235.02" fill="#fff" stroke="#fff">0.00</text>
<text x="479.94" y="235.02" fill="#fff" stroke="#fff">0.00</text>
<text x="73.06" y="246.06" fill="#fff" stroke="#fff">0.08</text>
<text x="85.39" y="246.06" fill="#fff" stroke="#fff">0.07</text>
<text x="97.72" y="246.06" fill="#fff" stroke="#fff">0.09</text>
<text x="110.05" y="246.06" fill="#fff" stroke="#fff">0.07</text>
<text x="122.38" y="246.06" fill="#fff" stroke="#fff">0.08</text>
<text x="134.71" y="246.06" fill="#fff" stroke="#fff">0.09</text>
<text x="147.04" y="246.06" fill="#fff" stroke="#fff">0.08</text>
<text x="159.37" y="246.06" fill="#fff" stroke="#fff">0.09</text>
<text x="171.70" y="246.06" fill="#fff" stroke="#fff">0.09</text>
<text x="184.03" y="246.06" fill="#fff" stroke="#fff">0.09</text>
<text x="196.36" y="246.06" fill="#fff" stroke="#fff">0.09</text>
<text x="208.69" y="246.06" fill="#fff" stroke="#fff">0.10</text>
<text x="221.02" y="246.06" fill="#fff" stroke="#fff">0.09</text>
<text x="233.35" y="246.06" fill="#fff" stroke="#fff">0.16</text>
<text x="245.68" y="246.06" fill="#fff" stroke="#fff">0.06</text>
<text x="258.01" y="246.06" fill="#fff" stroke="#fff">0.03</text>
<text x="270.34" y="246.06" fill="#fff" stroke="#fff">0.08</text>
<text x="282.66" y="246.06" fill="#fff" stroke="#fff">0.07</text>
<text x="294.99" y="246.06" fill="#fff" stroke="#fff">0.08</text>
<text x="307.32" y="246.06" fill="#fff" stroke="#fff">0.06</text>
<text x="319.65" y="246.06" fill="#262626" stroke="#262626">1.08</text>
<text x="331.98" y="246.06" fill="#fff" stroke="#fff">0.08</text>
<text x="344.31" y="246.06" fill="#fff" stroke="#fff">0.08</text>
<text x="356.64" y="246.06" fill="#fff" stroke="#fff">0.09</text>
<text x="368.97" y="246.06" fill="#fff" stroke="#fff">0.08</text>
<text x="381.30" y="246.06" fill="#fff" stroke="#fff">0.09</text>
<text x="393.63" y="246.06" fill="#fff" stroke="#fff">0.08</text>
<text x="405.96" y="246.06" fill="#fff" stroke="#fff">0.14</text>
<text x="418.29" y="246.06" fill="#fff" stroke="#fff">0.09</text>
<text x="430.62" y="246.06" fill="#fff" stroke="#fff">0.09</text>
<text x="442.95" y="246.06" fill="#fff" stroke="#fff">0.09</text>
<text x="455.28" y="246.06" fill="#fff" stroke="#fff">0.00</text>
<text x="467.61" y="246.06" fill="#fff" stroke="#fff">0.00</text>
<text x="479.94" y="246.06" fill="#fff" stroke="#fff">0.00</text>
<text x="73.06" y="257.09" fill="#fff" stroke="#fff">0.05</text>
<text x="85.39" y="257.09" fill="#fff" stroke="#fff">0.05</text>
<text x="97.72" y="257.09" fill="#fff" stroke="#fff">0.08</text>
<text x="110.05" y="257.09" fill="#fff" stroke="#fff">0.06</text>
<text x="122.38" y="257.09" fill="#fff" stroke="#fff">0.07</text>
<text x="134.71" y="257.09" fill="#fff" stroke="#fff">0.07</text>
<text x="147.04" y="257.09" fill="#fff" stroke="#fff">0.07</text>
<text x="159.37" y="257.09" fill="#fff" stroke="#fff">0.17</text>
<text x="171.70" y="257.09" fill="#fff" stroke="#fff">0.09</text>
<text x="184.03" y="257.09" fill="#fff" stroke="#fff">0.06</text>
<text x="196.36" y="257.09" fill="#fff" stroke="#fff">0.10</text>
<text x="208.69" y="257.09" fill="#fff" stroke="#fff">0.07</text>
<text x="221.02" y="257.09" fill="#fff" stroke="#fff">0.06</text>
<text x="233.35" y="257.09" fill="#fff" stroke="#fff">0.08</text>
<text x="245.68" y="257.09" fill="#fff" stroke="#fff">0.04</text>
<text x="258.01" y="257.09" fill="#fff" stroke="#fff">0.03</text>
<text x="270.34" y="257.09" fill="#fff" stroke="#fff">0.08</text>
<text x="282.66" y="257.09" fill="#fff" stroke="#fff">0.06</text>
<text x="294.99" y="257.09" fill="#fff" stroke="#fff">0.07</text>
<text x="307.32" y="257.09" fill="#fff" stroke="#fff">0.05</text>
<text x="319.65" y="257.09" fill="#fff" stroke="#fff">0.07</text>
<text x="331.98" y="257.09" fill="#262626" stroke="#262626">1.15</text>
<text x="344.31" y="257.09" fill="#fff" stroke="#fff">0.08</text>
<text x="356.64" y="257.09" fill="#fff" stroke="#fff">0.06</text>
<text x="368.97" y="257.09" fill="#fff" stroke="#fff">0.09</text>
<text x="381.30" y="257.09" fill="#fff" stroke="#fff">0.07</text>
<text x="393.63" y="257.09" fill="#fff" stroke="#fff">0.06</text>
<text x="405.96" y="257.09" fill="#fff" stroke="#fff">0.07</text>
<text x="418.29" y="257.09" fill="#fff" stroke="#fff">0.06</text>
<text x="430.62" y="257.09" fill="#fff" stroke="#fff">0.06</text>
<text x="442.95" y="257.09" fill="#fff" stroke="#fff">0.06</text>
<text x="455.28" y="257.09" fill="#fff" stroke="#fff">0.00</text>
<text x="467.61" y="257.09" fill="#fff" stroke="#fff">0.00</text>
<text x="479.94" y="257.09" fill="#fff" stroke="#fff">0.00</text>
<text x="73.06" y="268.13" fill="#fff" stroke="#fff">0.08</text>
<text x="85.39" y="268.13" fill="#fff" stroke="#fff">0.07</text>
<text x="97.72" y="268.13" fill="#fff" stroke="#fff">0.07</text>
<text x="110.05" y="268.13" fill="#fff" stroke="#fff">0.08</text>
<text x="122.38" y="268.13" fill="#fff" stroke="#fff">0.09</text>
<text x="134.71" y="268.13" fill="#fff" stroke="#fff">0.09</text>
<text x="147.04" y="268.13" fill="#fff" stroke="#fff">0.08</text>
<text x="159.37" y="268.13" fill="#fff" stroke="#fff">0.09</text>
<text x="171.70" y="268.13" fill="#fff" stroke="#fff">0.17</text>
<text x="184.03" y="268.13" fill="#fff" stroke="#fff">0.08</text>
<text x="196.36" y="268.13" fill="#fff" stroke="#fff">0.08</text>
<text x="208.69" y="268.13" fill="#fff" stroke="#fff">0.08</text>
<text x="221.02" y="268.13" fill="#fff" stroke="#fff">0.06</text>
<text x="233.35" y="268.13" fill="#fff" stroke="#fff">0.11</text>
<text x="245.68" y="268.13" fill="#fff" stroke="#fff">0.07</text>
<text x="258.01" y="268.13" fill="#fff" stroke="#fff">0.03</text>
<text x="270.34" y="268.13" fill="#fff" stroke="#fff">0.07</text>
<text x="282.66" y="268.13" fill="#fff" stroke="#fff">0.08</text>
<text x="294.99" y="268.13" fill="#fff" stroke="#fff">0.09</text>
<text x="307.32" y="268.13" fill="#fff" stroke="#fff">0.07</text>
<text x="319.65" y="268.13" fill="#fff" stroke="#fff">0.07</text>
<text x="331.98" y="268.13" fill="#fff" stroke="#fff">0.08</text>
<text x="344.31" y="268.13" fill="#262626" stroke="#262626">1.15</text>
<text x="356.64" y="268.13" fill="#fff" stroke="#fff">0.08</text>
<text x="368.97" y="268.13" fill="#fff" stroke="#fff">0.08</text>
<text x="381.30" y="268.13" fill="#fff" stroke="#fff">0.08</text>
<text x="393.63" y="268.13" fill="#fff" stroke="#fff">0.06</text>
<text x="405.96" y="268.13" fill="#fff" stroke="#fff">0.10</text>
<text x="418.29" y="268.13" fill="#fff" stroke="#fff">0.06</text>
<text x="430.62" y="268.13" fill="#fff" stroke="#fff">0.06</text>
<text x="442.95" y="268.13" fill="#fff" stroke="#fff">0.06</text>
<text x="455.28" y="268.13" fill="#fff" stroke="#fff">0.00</text>
<text x="467.61" y="268.13" fill="#fff" stroke="#fff">0.00</text>
<text x="479.94" y="268.13" fill="#fff" stroke="#fff">0.00</text>
<text x="73.06" y="279.16" fill="#fff" stroke="#fff">0.16</text>
<text x="85.39" y="279.16" fill="#fff" stroke="#fff">0.15</text>
<text x="97.72" y="279.16" fill="#fff" stroke="#fff">0.22</text>
<text x="110.05" y="279.16" fill="#fff" stroke="#fff">0.21</text>
<text x="122.38" y="279.16" fill="#fff" stroke="#fff">0.26</text>
<text x="134.71" y="279.16" fill="#fff" stroke="#fff">0.17</text>
<text x="147.04" y="279.16" fill="#fff" stroke="#fff">0.18</text>
<text x="159.37" y="279.16" fill="#fff" stroke="#fff">0.30</text>
<text x="171.70" y="279.16" fill="#fff" stroke="#fff">0.20</text>
<text x="184.03" y="279.16" fill="#fff" stroke="#fff">0.18</text>
<text x="196.36" y="279.16" fill="#fff" stroke="#fff">0.27</text>
<text x="208.69" y="279.16" fill="#fff" stroke="#fff">0.18</text>
<text x="221.02" y="279.16" fill="#fff" stroke="#fff">0.17</text>
<text x="233.35" y="279.16" fill="#fff" stroke="#fff">0.21</text>
<text x="245.68" y="279.16" fill="#fff" stroke="#fff">0.14</text>
<text x="258.01" y="279.16" fill="#fff" stroke="#fff">0.07</text>
<text x="270.34" y="279.16" fill="#fff" stroke="#fff">0.21</text>
<text x="282.66" y="279.16" fill="#fff" stroke="#fff">0.20</text>
<text x="294.99" y="279.16" fill="#fff" stroke="#fff">0.26</text>
<text x="307.32" y="279.16" fill="#fff" stroke="#fff">0.13</text>
<text x="319.65" y="279.16" fill="#fff" stroke="#fff">0.17</text>
<text x="331.98" y="279.16" fill="#fff" stroke="#fff">0.27</text>
<text x="344.31" y="279.16" fill="#fff" stroke="#fff">0.19</text>
<text x="356.64" y="279.16" fill="#262626" stroke="#262626">1.18</text>
<text x="368.97" y="279.16" fill="#fff" stroke="#fff">0.25</text>
<text x="381.30" y="279.16" fill="#fff" stroke="#fff">0.16</text>
<text x="393.63" y="279.16" fill="#fff" stroke="#fff">0.17</text>
<text x="405.96" y="279.16" fill="#fff" stroke="#fff">0.20</text>
<text x="418.29" y="279.16" fill="#fff" stroke="#fff">0.17</text>
<text x="430.62" y="279.16" fill="#fff" stroke="#fff">0.17</text>
<text x="442.95" y="279.16" fill="#fff" stroke="#fff">0.17</text>
<text x="455.28" y="279.16" fill="#fff" stroke="#fff">0.00</text>
<text x="467.61" y="279.16" fill="#fff" stroke="#fff">0.00</text>
<text x="479.94" y="279.16" fill="#fff" stroke="#fff">0.00</text>
<text x="73.06" y="290.20" fill="#fff" stroke="#fff">0.05</text>
<text x="85.39" y="290.20" fill="#fff" stroke="#fff">0.10</text>
<text x="97.72" y="290.20" fill="#fff" stroke="#fff">0.08</text>
<text x="110.05" y="290.20" fill="#fff" stroke="#fff">0.18</text>
<text x="122.38" y="290.20" fill="#fff" stroke="#fff">0.07</text>
<text x="134.71" y="290.20" fill="#fff" stroke="#fff">0.09</text>
<text x="147.04" y="290.20" fill="#fff" stroke="#fff">0.06</text>
<text x="159.37" y="290.20" fill="#fff" stroke="#fff">0.10</text>
<text x="171.70" y="290.20" fill="#fff" stroke="#fff">0.07</text>
<text x="184.03" y="290.20" fill="#fff" stroke="#fff">0.04</text>
<text x="196.36" y="290.20" fill="#fff" stroke="#fff">0.09</text>
<text x="208.69" y="290.20" fill="#fff" stroke="#fff">0.05</text>
<text x="221.02" y="290.20" fill="#fff" stroke="#fff">0.05</text>
<text x="233.35" y="290.20" fill="#fff" stroke="#fff">0.07</text>
<text x="245.68" y="290.20" fill="#fff" stroke="#fff">0.04</text>
<text x="258.01" y="290.20" fill="#fff" stroke="#fff">0.05</text>
<text x="270.34" y="290.20" fill="#fff" stroke="#fff">0.07</text>
<text x="282.66" y="290.20" fill="#fff" stroke="#fff">0.17</text>
<text x="294.99" y="290.20" fill="#fff" stroke="#fff">0.07</text>
<text x="307.32" y="290.20" fill="#fff" stroke="#fff">0.07</text>
<text x="319.65" y="290.20" fill="#fff" stroke="#fff">0.05</text>
<text x="331.98" y="290.20" fill="#fff" stroke="#fff">0.08</text>
<text x="344.31" y="290.20" fill="#fff" stroke="#fff">0.06</text>
<text x="356.64" y="290.20" fill="#fff" stroke="#fff">0.04</text>
<text x="368.97" y="290.20" fill="#262626" stroke="#262626">1.09</text>
<text x="381.30" y="290.20" fill="#fff" stroke="#fff">0.05</text>
<text x="393.63" y="290.20" fill="#fff" stroke="#fff">0.05</text>
<text x="405.96" y="290.20" fill="#fff" stroke="#fff">0.07</text>
<text x="418.29" y="290.20" fill="#fff" stroke="#fff">0.03</text>
<text x="430.62" y="290.20" fill="#fff" stroke="#fff">0.03</text>
<text x="442.95" y="290.20" fill="#fff" stroke="#fff">0.03</text>
<text x="455.28" y="290.20" fill="#fff" stroke="#fff">0.00</text>
<text x="467.61" y="290.20" fill="#fff" stroke="#fff">0.00</text>
<text x="479.94" y="290.20" fill="#fff" stroke="#fff">0.00</text>
<text x="73.06" y="301.23" fill="#fff" stroke="#fff">0.03</text>
<text x="85.39" y="301.23" fill="#fff" stroke="#fff">0.03</text>
<text x="97.72" y="301.23" fill="#fff" stroke="#fff">0.04</text>
<text x="110.05" y="301.23" fill="#fff" stroke="#fff">0.04</text>
<text x="122.38" y="301.23" fill="#fff" stroke="#fff">0.04</text>
<text x="134.71" y="301.23" fill="#fff" stroke="#fff">0.06</text>
<text x="147.04" y="301.23" fill="#fff" stroke="#fff">0.06</text>
<text x="159.37" y="301.23" fill="#fff" stroke="#fff">0.04</text>
<text x="171.70" y="301.23" fill="#fff" stroke="#fff">0.04</text>
<text x="184.03" y="301.23" fill="#fff" stroke="#fff">0.03</text>
<text x="196.36" y="301.23" fill="#fff" stroke="#fff">0.04</text>
<text x="208.69" y="301.23" fill="#fff" stroke="#fff">0.05</text>
<text x="221.02" y="301.23" fill="#fff" stroke="#fff">0.05</text>
<text x="233.35" y="301.23" fill="#fff" stroke="#fff">0.05</text>
<text x="245.68" y="301.23" fill="#fff" stroke="#fff">0.03</text>
<text x="258.01" y="301.23" fill="#fff" stroke="#fff">0.02</text>
<text x="270.34" y="301.23" fill="#fff" stroke="#fff">0.04</text>
<text x="282.66" y="301.23" fill="#fff" stroke="#fff">0.04</text>
<text x="294.99" y="301.23" fill="#fff" stroke="#fff">0.04</text>
<text x="307.32" y="301.23" fill="#fff" stroke="#fff">0.04</text>
<text x="319.65" y="301.23" fill="#fff" stroke="#fff">0.06</text>
<text x="331.98" y="301.23" fill="#fff" stroke="#fff">0.04</text>
<text x="344.31" y="301.23" fill="#fff" stroke="#fff">0.04</text>
<text x="356.64" y="301.23" fill="#fff" stroke="#fff">0.03</text>
<text x="368.97" y="301.23" fill="#fff" stroke="#fff">0.04</text>
<text x="381.30" y="301.23" fill="#262626" stroke="#262626">1.05</text>
<text x="393.63" y="301.23" fill="#fff" stroke="#fff">0.05</text>
<text x="405.96" y="301.23" fill="#fff" stroke="#fff">0.05</text>
<text x="418.29" y="301.23" fill="#fff" stroke="#fff">0.03</text>
<text x="430.62" y="301.23" fill="#fff" stroke="#fff">0.03</text>
<text x="442.95" y="301.23" fill="#fff" stroke="#fff">0.03</text>
<text x="455.28" y="301.23" fill="#fff" stroke="#fff">0.00</text>
<text x="467.61" y="301.23" fill="#fff" stroke="#fff">0.00</text>
<text x="479.94" y="301.23" fill="#fff" stroke="#fff">0.00</text>
<text x="73.06" y="312.27" fill="#fff" stroke="#fff">0.02</text>
<text x="85.39" y="312.27" fill="#fff" stroke="#fff">0.02</text>
<text x="97.72" y="312.27" fill="#fff" stroke="#fff">0.02</text>
<text x="110.05" y="312.27" fill="#fff" stroke="#fff">0.02</text>
<text x="122.38" y="312.27" fill="#fff" stroke="#fff">0.02</text>
<text x="134.71" y="312.27" fill="#fff" stroke="#fff">0.02</text>
<text x="147.04" y="312.27" fill="#fff" stroke="#fff">0.02</text>
<text x="159.37" y="312.27" fill="#fff" stroke="#fff">0.02</text>
<text x="171.70" y="312.27" fill="#fff" stroke="#fff">0.03</text>
<text x="184.03" y="312.27" fill="#fff" stroke="#fff">0.03</text>
<text x="196.36" y="312.27" fill="#fff" stroke="#fff">0.02</text>
<text x="208.69" y="312.27" fill="#fff" stroke="#fff">0.05</text>
<text x="221.02" y="312.27" fill="#fff" stroke="#fff">0.03</text>
<text x="233.35" y="312.27" fill="#fff" stroke="#fff">0.03</text>
<text x="245.68" y="312.27" fill="#fff" stroke="#fff">0.02</text>
<text x="258.01" y="312.27" fill="#fff" stroke="#fff">0.01</text>
<text x="270.34" y="312.27" fill="#fff" stroke="#fff">0.02</text>
<text x="282.66" y="312.27" fill="#fff" stroke="#fff">0.02</text>
<text x="294.99" y="312.27" fill="#fff" stroke="#fff">0.02</text>
<text x="307.32" y="312.27" fill="#fff" stroke="#fff">0.02</text>
<text x="319.65" y="312.27" fill="#fff" stroke="#fff">0.02</text>
<text x="331.98" y="312.27" fill="#fff" stroke="#fff">0.02</text>
<text x="344.31" y="312.27" fill="#fff" stroke="#fff">0.02</text>
<text x="356.64" y="312.27" fill="#fff" stroke="#fff">0.03</text>
<text x="368.97" y="312.27" fill="#fff" stroke="#fff">0.02</text>
<text x="381.30" y="312.27" fill="#fff" stroke="#fff">0.05</text>
<text x="393.63" y="312.27" fill="#262626" stroke="#262626">1.03</text>
<text x="405.96" y="312.27" fill="#fff" stroke="#fff">0.03</text>
<text x="418.29" y="312.27" fill="#fff" stroke="#fff">0.03</text>
<text x="430.62" y="312.27" fill="#fff" stroke="#fff">0.03</text>
<text x="442.95" y="312.27" fill="#fff" stroke="#fff">0.03</text>
<text x="455.28" y="312.27" fill="#fff" stroke="#fff">0.00</text>
<text x="467.61" y="312.27" fill="#fff" stroke="#fff">0.00</text>
<text x="479.94" y="312.27" fill="#fff" stroke="#fff">0.00</text>
<text x="73.06" y="323.30" fill="#fff" stroke="#fff">0.03</text>
<text x="85.39" y="323.30" fill="#fff" stroke="#fff">0.03</text>
<text x="97.72" y="323.30" fill="#fff" stroke="#fff">0.04</text>
<text x="110.05" y="323.30" fill="#fff" stroke="#fff">0.03</text>
<text x="122.38" y="323.30" fill="#fff" stroke="#fff">0.04</text>
<text x="134.71" y="323.30" fill="#fff" stroke="#fff">0.03</text>
<text x="147.04" y="323.30" fill="#fff" stroke="#fff">0.03</text>
<text x="159.37" y="323.30" fill="#fff" stroke="#fff">0.04</text>
<text x="171.70" y="323.30" fill="#fff" stroke="#fff">0.05</text>
<text x="184.03" y="323.30" fill="#fff" stroke="#fff">0.04</text>
<text x="196.36" y="323.30" fill="#fff" stroke="#fff">0.04</text>
<text x="208.69" y="323.30" fill="#fff" stroke="#fff">0.06</text>
<text x="221.02" y="323.30" fill="#fff" stroke="#fff">0.04</text>
<text x="233.35" y="323.30" fill="#fff" stroke="#fff">0.10</text>
<text x="245.68" y="323.30" fill="#fff" stroke="#fff">0.03</text>
<text x="258.01" y="323.30" fill="#fff" stroke="#fff">0.01</text>
<text x="270.34" y="323.30" fill="#fff" stroke="#fff">0.03</text>
<text x="282.66" y="323.30" fill="#fff" stroke="#fff">0.04</text>
<text x="294.99" y="323.30" fill="#fff" stroke="#fff">0.04</text>
<text x="307.32" y="323.30" fill="#fff" stroke="#fff">0.02</text>
<text x="319.65" y="323.30" fill="#fff" stroke="#fff">0.03</text>
<text x="331.98" y="323.30" fill="#fff" stroke="#fff">0.04</text>
<text x="344.31" y="323.30" fill="#fff" stroke="#fff">0.04</text>
<text x="356.64" y="323.30" fill="#fff" stroke="#fff">0.04</text>
<text x="368.97" y="323.30" fill="#fff" stroke="#fff">0.04</text>
<text x="381.30" y="323.30" fill="#fff" stroke="#fff">0.06</text>
<text x="393.63" y="323.30" fill="#fff" stroke="#fff">0.04</text>
<text x="405.96" y="323.30" fill="#262626" stroke="#262626">1.10</text>
<text x="418.29" y="323.30" fill="#fff" stroke="#fff">0.04</text>
<text x="430.62" y="323.30" fill="#fff" stroke="#fff">0.04</text>
<text x="442.95" y="323.30" fill="#fff" stroke="#fff">0.04</text>
<text x="455.28" y="323.30" fill="#fff" stroke="#fff">0.00</text>
<text x="467.61" y="323.30" fill="#fff" stroke="#fff">0.00</text>
<text x="479.94" y="323.30" fill="#fff" stroke="#fff">0.00</text>
<text x="73.06" y="334.34" fill="#fff" stroke="#fff">0.31</text>
<text x="85.39" y="334.34" fill="#262626" stroke="#262626">0.41</text>
<text x="97.72" y="334.34" fill="#262626" stroke="#262626">0.42</text>
<text x="110.05" y="334.34" fill="#262626" stroke="#262626">0.48</text>
<text x="122.38" y="334.34" fill="#262626" stroke="#262626">0.52</text>
<text x="134.71" y="334.34" fill="#262626" stroke="#262626">0.56</text>
<text x="147.04" y="334.34" fill="#262626" stroke="#262626">0.49</text>
<text x="159.37" y="334.34" fill="#262626" stroke="#262626">0.54</text>
<text x="171.70" y="334.34" fill="#262626" stroke="#262626">0.54</text>
<text x="184.03" y="334.34" fill="#fff" stroke="#fff">0.35</text>
<text x="196.36" y="334.34" fill="#262626" stroke="#262626">0.58</text>
<text x="208.69" y="334.34" fill="#262626" stroke="#262626">0.87</text>
<text x="221.02" y="334.34" fill="#262626" stroke="#262626">0.73</text>
<text x="233.35" y="334.34" fill="#262626" stroke="#262626">0.65</text>
<text x="245.68" y="334.34" fill="#fff" stroke="#fff">0.26</text>
<text x="258.01" y="334.34" fill="#fff" stroke="#fff">0.20</text>
<text x="270.34" y="334.34" fill="#262626" stroke="#262626">0.39</text>
<text x="282.66" y="334.34" fill="#262626" stroke="#262626">0.46</text>
<text x="294.99" y="334.34" fill="#262626" stroke="#262626">0.51</text>
<text x="307.32" y="334.34" fill="#262626" stroke="#262626">0.41</text>
<text x="319.65" y="334.34" fill="#262626" stroke="#262626">0.47</text>
<text x="331.98" y="334.34" fill="#262626" stroke="#262626">0.47</text>
<text x="344.31" y="334.34" fill="#262626" stroke="#262626">0.47</text>
<text x="356.64" y="334.34" fill="#fff" stroke="#fff">0.34</text>
<text x="368.97" y="334.34" fill="#262626" stroke="#262626">0.54</text>
<text x="381.30" y="334.34" fill="#262626" stroke="#262626">0.86</text>
<text x="393.63" y="334.34" fill="#262626" stroke="#262626">0.70</text>
<text x="405.96" y="334.34" fill="#262626" stroke="#262626">0.62</text>
<text x="418.29" y="334.34" fill="#fff" stroke="#fff">1.19</text>
<text x="430.62" y="334.34" fill="#fff" stroke="#fff">0.19</text>
<text x="442.95" y="334.34" fill="#fff" stroke="#fff">0.19</text>
<text x="455.28" y="334.34" fill="#fff" stroke="#fff">0.00</text>
<text x="467.61" y="334.34" fill="#fff" stroke="#fff">0.00</text>
<text x="479.94" y="334.34" fill="#fff" stroke="#fff">0.00</text>
<text x="73.06" y="345.37" fill="#262626" stroke="#262626">0.96</text>
<text x="85.39" y="345.37" fill="#262626" stroke="#262626">0.83</text>
<text x="97.72" y="345.37" fill="#262626" stroke="#262626">0.92</text>
<text x="110.05" y="345.37" fill="#262626" stroke="#262626">0.84</text>
<text x="122.38" y="345.37" fill="#262626" stroke="#262626">0.79</text>
<text x="134.71" y="345.37" fill="#262626" stroke="#262626">0.83</text>
<text x="147.04" y="345.37" fill="#262626" stroke="#262626">0.77</text>
<text x="159.37" y="345.37" fill="#262626" stroke="#262626">0.85</text>
<text x="171.70" y="345.37" fill="#262626" stroke="#262626">0.92</text>
<text x="184.03" y="345.37" fill="#fff" stroke="#fff">1.25</text>
<text x="196.36" y="345.37" fill="#262626" stroke="#262626">0.80</text>
<text x="208.69" y="345.37" fill="#262626" stroke="#262626">0.59</text>
<text x="221.02" y="345.37" fill="#262626" stroke="#262626">0.81</text>
<text x="233.35" y="345.37" fill="#262626" stroke="#262626">0.73</text>
<text x="245.68" y="345.37" fill="#262626" stroke="#262626">0.80</text>
<text x="258.01" y="345.37" fill="#fff" stroke="#fff">0.31</text>
<text x="270.34" y="345.37" fill="#262626" stroke="#262626">0.88</text>
<text x="282.66" y="345.37" fill="#262626" stroke="#262626">0.61</text>
<text x="294.99" y="345.37" fill="#262626" stroke="#262626">0.76</text>
<text x="307.32" y="345.37" fill="#262626" stroke="#262626">0.46</text>
<text x="319.65" y="345.37" fill="#262626" stroke="#262626">0.75</text>
<text x="331.98" y="345.37" fill="#262626" stroke="#262626">0.71</text>
<text x="344.31" y="345.37" fill="#262626" stroke="#262626">0.80</text>
<text x="356.64" y="345.37" fill="#fff" stroke="#fff">1.24</text>
<text x="368.97" y="345.37" fill="#262626" stroke="#262626">0.74</text>
<text x="381.30" y="345.37" fill="#262626" stroke="#262626">0.58</text>
<text x="393.63" y="345.37" fill="#262626" stroke="#262626">0.58</text>
<text x="405.96" y="345.37" fill="#262626" stroke="#262626">0.65</text>
<text x="418.29" y="345.37" fill="#fff" stroke="#fff">0.36</text>
<text x="430.62" y="345.37" fill="#fff" stroke="#fff">1.36</text>
<text x="442.95" y="345.37" fill="#fff" stroke="#fff">0.36</text>
<text x="455.28" y="345.37" fill="#fff" stroke="#fff">0.00</text>
<text x="467.61" y="345.37" fill="#fff" stroke="#fff">0.00</text>
<text x="479.94" y="345.37" fill="#fff" stroke="#fff">0.00</text>
<text x="73.06" y="356.41" fill="#fff" stroke="#fff">1.27</text>
<text x="85.39" y="356.41" fill="#262626" stroke="#262626">1.03</text>
<text x="97.72" y="356.41" fill="#fff" stroke="#fff">1.34</text>
<text x="110.05" y="356.41" fill="#262626" stroke="#262626">1.13</text>
<text x="122.38" y="356.41" fill="#fff" stroke="#fff">1.30</text>
<text x="134.71" y="356.41" fill="#fff" stroke="#fff">1.29</text>
<text x="147.04" y="356.41" fill="#fff" stroke="#fff">1.26</text>
<text x="159.37" y="356.41" fill="#fff" stroke="#fff">1.39</text>
<text x="171.70" y="356.41" fill="#fff" stroke="#fff">1.47</text>
<text x="184.03" y="356.41" fill="#fff" stroke="#fff">1.50</text>
<text x="196.36" y="356.41" fill="#fff" stroke="#fff">1.36</text>
<text x="208.69" y="356.41" fill="#fff" stroke="#fff">1.46</text>
<text x="221.02" y="356.41" fill="#fff" stroke="#fff">1.38</text>
<text x="233.35" y="356.41" fill="#fff" stroke="#fff">1.39</text>
<text x="245.68" y="356.41" fill="#262626" stroke="#262626">1.06</text>
<text x="258.01" y="356.41" fill="#262626" stroke="#262626">0.50</text>
<text x="270.34" y="356.41" fill="#fff" stroke="#fff">1.27</text>
<text x="282.66" y="356.41" fill="#262626" stroke="#262626">1.07</text>
<text x="294.99" y="356.41" fill="#fff" stroke="#fff">1.27</text>
<text x="307.32" y="356.41" fill="#262626" stroke="#262626">0.87</text>
<text x="319.65" y="356.41" fill="#fff" stroke="#fff">1.20</text>
<text x="331.98" y="356.41" fill="#fff" stroke="#fff">1.19</text>
<text x="344.31" y="356.41" fill="#fff" stroke="#fff">1.27</text>
<text x="356.64" y="356.41" fill="#fff" stroke="#fff">1.49</text>
<text x="368.97" y="356.41" fill="#fff" stroke="#fff">1.27</text>
<text x="381.30" y="356.41" fill="#fff" stroke="#fff">1.44</text>
<text x="393.63" y="356.41" fill="#fff" stroke="#fff">1.30</text>
<text x="405.96" y="356.41" fill="#fff" stroke="#fff">1.32</text>
<text x="418.29" y="356.41" fill="#fff" stroke="#fff">1.55</text>
<text x="430.62" y="356.41" fill="#fff" stroke="#fff">1.55</text>
<text x="442.95" y="356.41" fill="#fff" stroke="#fff">1.55</text>
<text x="455.28" y="356.41" fill="#fff" stroke="#fff">0.00</text>
<text x="467.61" y="356.41" fill="#fff" stroke="#fff">0.00</text>
<text x="479.94" y="356.41" fill="#fff" stroke="#fff">0.00</text>
<text x="73.06" y="367.44" fill="#fff" stroke="#fff">0.32</text>
<text x="85.39" y="367.44" fill="#fff" stroke="#fff">0.27</text>
<text x="97.72" y="367.44" fill="#fff" stroke="#fff">0.33</text>
<text x="110.05" y="367.44" fill="#fff" stroke="#fff">0.29</text>
<text x="122.38" y="367.44" fill="#fff" stroke="#fff">0.33</text>
<text x="134.71" y="367.44" fill="#fff" stroke="#fff">0.31</text>
<text x="147.04" y="367.44" fill="#fff" stroke="#fff">0.32</text>
<text x="159.37" y="367.44" fill="#fff" stroke="#fff">0.34</text>
<text x="171.70" y="367.44" fill="#fff" stroke="#fff">0.36</text>
<text x="184.03" y="367.44" fill="#262626" stroke="#262626">0.37</text>
<text x="196.36" y="367.44" fill="#fff" stroke="#fff">0.35</text>
<text x="208.69" y="367.44" fill="#fff" stroke="#fff">0.36</text>
<text x="221.02" y="367.44" fill="#fff" stroke="#fff">0.33</text>
<text x="233.35" y="367.44" fill="#fff" stroke="#fff">0.35</text>
<text x="245.68" y="367.44" fill="#fff" stroke="#fff">0.31</text>
<text x="258.01" y="367.44" fill="#fff" stroke="#fff">0.14</text>
<text x="270.34" y="367.44" fill="#fff" stroke="#fff">0.35</text>
<text x="282.66" y="367.44" fill="#fff" stroke="#fff">0.30</text>
<text x="294.99" y="367.44" fill="#fff" stroke="#fff">0.34</text>
<text x="307.32" y="367.44" fill="#fff" stroke="#fff">0.26</text>
<text x="319.65" y="367.44" fill="#fff" stroke="#fff">0.34</text>
<text x="331.98" y="367.44" fill="#fff" stroke="#fff">0.32</text>
<text x="344.31" y="367.44" fill="#fff" stroke="#fff">0.32</text>
<text x="356.64" y="367.44" fill="#262626" stroke="#262626">0.37</text>
<text x="368.97" y="367.44" fill="#fff" stroke="#fff">0.34</text>
<text x="381.30" y="367.44" fill="#262626" stroke="#262626">0.37</text>
<text x="393.63" y="367.44" fill="#fff" stroke="#fff">0.33</text>
<text x="405.96" y="367.44" fill="#262626" stroke="#262626">0.37</text>
<text x="418.29" y="367.44" fill="#262626" stroke="#262626">0.38</text>
<text x="430.62" y="367.44" fill="#262626" stroke="#262626">0.38</text>
<text x="442.95" y="367.44" fill="#262626" stroke="#262626">0.38</text>
<text x="455.28" y="367.44" fill="#262626" stroke="#262626">1.00</text>
<text x="467.61" y="367.44" fill="#fff" stroke="#fff">0.00</text>
<text x="479.94" y="367.44" fill="#fff" stroke="#fff">0.00</text>
<text x="73.06" y="378.48" fill="#fff" stroke="#fff">0.27</text>
<text x="85.39" y="378.48" fill="#fff" stroke="#fff">0.22</text>
<text x="97.72" y="378.48" fill="#fff" stroke="#fff">0.28</text>
<text x="110.05" y="378.48" fill="#fff" stroke="#fff">0.24</text>
<text x="122.38" y="378.48" fill="#fff" stroke="#fff">0.28</text>
<text x="134.71" y="378.48" fill="#fff" stroke="#fff">0.27</text>
<text x="147.04" y="378.48" fill="#fff" stroke="#fff">0.27</text>
<text x="159.37" y="378.48" fill="#fff" stroke="#fff">0.29</text>
<text x="171.70" y="378.48" fill="#fff" stroke="#fff">0.31</text>
<text x="184.03" y="378.48" fill="#fff" stroke="#fff">0.32</text>
<text x="196.36" y="378.48" fill="#fff" stroke="#fff">0.29</text>
<text x="208.69" y="378.48" fill="#fff" stroke="#fff">0.31</text>
<text x="221.02" y="378.48" fill="#fff" stroke="#fff">0.29</text>
<text x="233.35" y="378.48" fill="#fff" stroke="#fff">0.30</text>
<text x="245.68" y="378.48" fill="#fff" stroke="#fff">0.23</text>
<text x="258.01" y="378.48" fill="#fff" stroke="#fff">0.11</text>
<text x="270.34" y="378.48" fill="#fff" stroke="#fff">0.27</text>
<text x="282.66" y="378.48" fill="#fff" stroke="#fff">0.23</text>
<text x="294.99" y="378.48" fill="#fff" stroke="#fff">0.27</text>
<text x="307.32" y="378.48" fill="#fff" stroke="#fff">0.18</text>
<text x="319.65" y="378.48" fill="#fff" stroke="#fff">0.25</text>
<text x="331.98" y="378.48" fill="#fff" stroke="#fff">0.25</text>
<text x="344.31" y="378.48" fill="#fff" stroke="#fff">0.27</text>
<text x="356.64" y="378.48" fill="#fff" stroke="#fff">0.32</text>
<text x="368.97" y="378.48" fill="#fff" stroke="#fff">0.27</text>
<text x="381.30" y="378.48" fill="#fff" stroke="#fff">0.31</text>
<text x="393.63" y="378.48" fill="#fff" stroke="#fff">0.28</text>
<text x="405.96" y="378.48" fill="#fff" stroke="#fff">0.29</text>
<text x="418.29" y="378.48" fill="#fff" stroke="#fff">0.31</text>
<text x="430.62" y="378.48" fill="#fff" stroke="#fff">0.31</text>
<text x="442.95" y="378.48" fill="#fff" stroke="#fff">0.31</text>
<text x="455.28" y="378.48" fill="#fff" stroke="#fff">0.00</text>
<text x="467.61" y="378.48" fill="#262626" stroke="#262626">1.00</text>
<text x="479.94" y="378.48" fill="#fff" stroke="#fff">0.00</text>
<text x="73.06" y="389.51" fill="#262626" stroke="#262626">0.41</text>
<text x="85.39" y="389.51" fill="#262626" stroke="#262626">0.51</text>
<text x="97.72" y="389.51" fill="#262626" stroke="#262626">0.38</text>
<text x="110.05" y="389.51" fill="#262626" stroke="#262626">0.47</text>
<text x="122.38" y="389.51" fill="#262626" stroke="#262626">0.39</text>
<text x="134.71" y="389.51" fill="#262626" stroke="#262626">0.43</text>
<text x="147.04" y="389.51" fill="#262626" stroke="#262626">0.41</text>
<text x="159.37" y="389.51" fill="#262626" stroke="#262626">0.37</text>
<text x="171.70" y="389.51" fill="#fff" stroke="#fff">0.33</text>
<text x="184.03" y="389.51" fill="#fff" stroke="#fff">0.33</text>
<text x="196.36" y="389.51" fill="#fff" stroke="#fff">0.36</text>
<text x="208.69" y="389.51" fill="#fff" stroke="#fff">0.33</text>
<text x="221.02" y="389.51" fill="#262626" stroke="#262626">0.38</text>
<text x="233.35" y="389.51" fill="#fff" stroke="#fff">0.36</text>
<text x="245.68" y="389.51" fill="#262626" stroke="#262626">0.47</text>
<text x="258.01" y="389.51" fill="#262626" stroke="#262626">0.75</text>
<text x="270.34" y="389.51" fill="#262626" stroke="#262626">0.43</text>
<text x="282.66" y="389.51" fill="#262626" stroke="#262626">0.47</text>
<text x="294.99" y="389.51" fill="#262626" stroke="#262626">0.39</text>
<text x="307.32" y="389.51" fill="#262626" stroke="#262626">0.56</text>
<text x="319.65" y="389.51" fill="#262626" stroke="#262626">0.41</text>
<text x="331.98" y="389.51" fill="#262626" stroke="#262626">0.43</text>
<text x="344.31" y="389.51" fill="#262626" stroke="#262626">0.40</text>
<text x="356.64" y="389.51" fill="#fff" stroke="#fff">0.31</text>
<text x="368.97" y="389.51" fill="#262626" stroke="#262626">0.39</text>
<text x="381.30" y="389.51" fill="#fff" stroke="#fff">0.32</text>
<text x="393.63" y="389.51" fill="#262626" stroke="#262626">0.37</text>
<text x="405.96" y="389.51" fill="#fff" stroke="#fff">0.30</text>
<text x="418.29" y="389.51" fill="#fff" stroke="#fff">0.30</text>
<text x="430.62" y="389.51" fill="#fff" stroke="#fff">0.30</text>
<text x="442.95" y="389.51" fill="#fff" stroke="#fff">0.30</text>
<text x="455.28" y="389.51" fill="#fff" stroke="#fff">0.00</text>
<text x="467.61" y="389.51" fill="#fff" stroke="#fff">0.00</text>
<text x="479.94" y="389.51" fill="#262626" stroke="#262626">1.00</text>
</g>
<g stroke="#000" stroke-width="0.5">
<line x1="65.60" y1="24.12" x2="67.20" y2="24.12"/>
<line x1="73.06" y1="393.50" x2="73.06" y2="395.10"/>
<line x1="65.60" y1="35.15" x2="67.20" y2="35.15"/>
<line x1="85.39" y1="393.50" x2="85.39" y2="395.10"/>
<line x1="65.60" y1="46.19" x2="67.20" y2="46.19"/>
<line x1="97.72" y1="393.50" x2="97.72" y2="395.10"/>
<line x1="65.60" y1="57.22" x2="67.20" y2="57.22"/>
<line x1="110.05" y1="393.50" x2="110.05" y2="395.10"/>
<line x1="65.60" y1="68.26" x2="67.20" y2="68.26"/>
<line x1="122.38" y1="393.50" x2="122.38" y2="395.10"/>
<line x1="65.60" y1="79.29" x2="67.20" y2="79.29"/>
<line x1="134.71" y1="393.50" x2="134.71" y2="395.10"/>
<line x1="65.60" y1="90.33" x2="67.20" y2="90.33"/>
<line x1="147.04" y1="393.50" x2="147.04" y2="395.10"/>
<line x1="65.60" y1="101.36" x2="67.20" y2="101.36"/>
<line x1="159.37" y1="393.50" x2="159.37" y2="395.10"/>
<line x1="65.60" y1="112.40" x2="67.20" y2="112.40"/>
<line x1="171.70" y1="393.50" x2="171.70" y2="395.10"/>
<line x1="65.60" y1="123.44" x2="67.20" y2="123.44"/>
<line x1="184.03" y1="393.50" x2="184.03" y2="395.10"/>
<line x1="65.60" y1="134.47" x2="67.20" y2="134.47"/>
<line x1="196.36" y1="393.50" x2="196.36" y2="395.10"/>
<line x1="65.60" y1="145.51" x2="67.20" y2="145.51"/>
<line x1="208.69" y1="393.50" x2="208.69" y2="395.10"/>
<line x1="65.60" y1="156.54" x2="67.20" y2="156.54"/>
<line x1="221.02" y1="393.50" x2="221.02" y2="395.10"/>
<line x1="65.60" y1="167.58" x2="67.20" y2="167.58"/>
<line x1="233.35" y1="393.50" x2="233.35" y2="395.10"/>
<line x1="65.60" y1="178.61" x2="67.20" y2="178.61"/>
<line x1="245.68" y1="393.50" x2="245.68" y2="395.10"/>
<line x1="65.60" y1="189.65" x2="67.20" y2="189.65"/>
<line x1="258.01" y1="393.50" x2="258.01" y2="395.10"/>
<line x1="65.60" y1="200.68" x2="67.20" y2="200.68"/>
<line x1="270.34" y1="393.50" x2="270.34" y2="395.10"/>
<line x1="65.60" y1="211.72" x2="67.20" y2="211.72"/>
<line x1="282.66" y1="393.50" x2="282.66" y2="395.10"/>
<line x1="65.60" y1="222.75" x2="67.20" y2="222.75"/>
<line x1="294.99" y1="393.50" x2="294.99" y2="395.10"/>
<line x1="65.60" y1="233.79" x2="67.20" y2="233.79"/>
<line x1="307.32" y1="393.50" x2="307.32" y2="395.10"/>
<line x1="65.60" y1="244.82" x2="67.20" y2="244.82"/>
<line x1="319.65" y1="393.50" x2="319.65" y2="395.10"/>
<line x1="65.60" y1="255.86" x2="67.20" y2="255.86"/>
<line x1="331.98" y1="393.50" x2="331.98" y2="395.10"/>
<line x1="65.60" y1="266.89" x2="67.20" y2="266.89"/>
<line x1="344.31" y1="393.50" x2="344.31" y2="395.10"/>
<line x1="65.60" y1="277.93" x2="67.20" y2="277.93"/>
<line x1="356.64" y1="393.50" x2="356.64" y2="395.10"/>
<line x1="65.60" y1="288.96" x2="67.20" y2="288.96"/>
<line x1="368.97" y1="393.50" x2="368.97" y2="395.10"/>
<line x1="65.60" y1="300.00" x2="67.20" y2="300.00"/>
<line x1="381.30" y1="393.50" x2="381.30" y2="395.10"/>
<line x1="65.60" y1="311.04" x2="67.20" y2="311.04"/>
<line x1="393.63" y1="393.50" x2="393.63" y2="395.10"/>
<line x1="65.60" y1="322.07" x2="67.20" y2="322.07"/>
<line x1="405.96" y1="393.50" x2="405.96" y2="395.10"/>
<line x1="65.60" y1="333.11" x2="67.20" y2="333.11"/>
<line x1="418.29" y1="393.50" x2="418.29" y2="395.10"/>
<line x1="65.60" y1="344.14" x2="67.20" y2="344.14"/>
<line x1="430.62" y1="393.50" x2="430.62" y2="395.10"/>
<line x1="65.60" y1="355.18" x2="67.20" y2="355.18"/>
<line x1="442.95" y1="393.50" x2="442.95" y2="395.10"/>
<line x1="65.60" y1="366.21" x2="67.20" y2="366.21"/>
<line x1="455.28" y1="393.50" x2="455.28" y2="395.10"/>
<line x1="65.60" y1="377.25" x2="67.20" y2="377.25"/>
<line x1="467.61" y1="393.50" x2="467.61" y2="395.10"/>
<line x1="65.60" y1="388.28" x2="67.20" y2="388.28"/>
<line x1="479.94" y1="393.50" x2="479.94" y2="395.10"/>
</g>
<g font-size="7.98" fill="#000" opacity="0.92">
<text x="64.10" y="26.75" text-anchor="end">C_sector1</text>
<text x="64.10" y="37.79" text-anchor="end">C_sector2</text>
<text x="64.10" y="48.82" text-anchor="end">C_sector3</text>
<text x="64.10" y="59.86" text-anchor="end">C_sector4</text>
<text x="64.10" y="70.89" text-anchor="end">C_sector5</text>
<text x="64.10" y="81.93" text-anchor="end">C_sector6</text>
<text x="64.10" y="92.96" text-anchor="end">C_sector7</text>
<text x="64.10" y="104.00" text-anchor="end">C_sector8</text>
<text x="64.10" y="115.03" text-anchor="end">C_sector9</text>
<text x="64.10" y="126.07" text-anchor="end">C_sector10</text>
<text x="64.10" y="137.10" text-anchor="end">C_sector11</text>
<text x="64.10" y="148.14" text-anchor="end">C_sector12</text>
<text x="64.10" y="159.17" text-anchor="end">C_sector13</text>
<text x="64.10" y="170.21" text-anchor="end">C_sector14</text>
<text x="64.10" y="181.25" text-anchor="end">A_sector1</text>
<text x="64.10" y="192.28" text-anchor="end">A_sector2</text>
<text x="64.10" y="203.32" text-anchor="end">A_sector3</text>
<text x="64.10" y="214.35" text-anchor="end">A_sector4</text>
<text x="64.10" y="225.39" text-anchor="end">A_sector5</text>
<text x="64.10" y="236.42" text-anchor="end">A_sector6</text>
<text x="64.10" y="247.46" text-anchor="end">A_sector7</text>
<text x="64.10" y="258.49" text-anchor="end">A_sector8</text>
<text x="64.10" y="269.53" text-anchor="end">A_sector9</text>
<text x="64.10" y="280.56" text-anchor="end">A_sector10</text>
<text x="64.10" y="291.60" text-anchor="end">A_sector11</text>
<text x="64.10" y="302.63" text-anchor="end">A_sector12</text>
<text x="64.10" y="313.67" text-anchor="end">A_sector13</text>
<text x="64.10" y="324.70" text-anchor="end">A_sector14</text>
<text x="64.10" y="335.74" text-anchor="end">Labor</text>
<text x="64.10" y="346.77" text-anchor="end">Capital</text>
<text x="64.10" y="357.81" text-anchor="end">Households</text>
<text x="64.10" y="368.85" text-anchor="end">Gov</text>
<text x="64.10" y="379.88" text-anchor="end">Net Capital</text>
<text x="64.10" y="390.92" text-anchor="end">Exports</text>
<text transform="translate(75.30,397.40) rotate(-90)" text-anchor="end">C_sector1</text>
<text transform="translate(87.63,397.40) rotate(-90)" text-anchor="end">C_sector2</text>
<text transform="translate(99.96,397.40) rotate(-90)" text-anchor="end">C_sector3</text>
<text transform="translate(112.29,397.40) rotate(-90)" text-anchor="end">C_sector4</text>
<text transform="translate(124.62,397.40) rotate(-90)" text-anchor="end">C_sector5</text>
<text transform="translate(136.95,397.40) rotate(-90)" text-anchor="end">C_sector6</text>
<text transform="translate(149.28,397.40) rotate(-90)" text-anchor="end">C_sector7</text>
<text transform="translate(161.60,397.40) rotate(-90)" text-anchor="end">C_sector8</text>
<text transform="translate(173.93,397.40) rotate(-90)" text-anchor="end">C_sector9</text>
<text transform="translate(186.26,397.40) rotate(-90)" text-anchor="end">C_sector10</text>
<text transform="translate(198.59,397.40) rotate(-90)" text-anchor="end">C_sector11</text>
<text transform="translate(210.92,397.40) rotate(-90)" text-anchor="end">C_sector12</text>
<text transform="translate(223.25,397.40) rotate(-90)" text-anchor="end">C_sector13</text>
<text transform="translate(235.58,397.40) rotate(-90)" text-anchor="end">C_sector14</text>
<text transform="translate(247.91,397.40) rotate(-90)" text-anchor="end">A_sector1</text>
<text transform="translate(260.24,397.40) rotate(-90)" text-anchor="end">A_sector2</text>
<text transform="translate(272.57,397.40) rotate(-90)" text-anchor="end">A_sector3</text>
<text transform="translate(284.90,397.40) rotate(-90)" text-anchor="end">A_sector4</text>
<text transform="translate(297.23,397.40) rotate(-90)" text-anchor="end">A_sector5</text>
<text transform="translate(309.56,397.40) rotate(-90)" text-anchor="end">A_sector6</text>
<text transform="translate(321.89,397.40) rotate(-90)" text-anchor="end">A_sector7</text>
<text transform="translate(334.22,397.40) rotate(-90)" text-anchor="end">A_sector8</text>
<text transform="translate(346.55,397.40) rotate(-90)" text-anchor="end">A_sector9</text>
<text transform="translate(358.88,397.40) rotate(-90)" text-anchor="end">A_sector10</text>
<text transform="translate(371.20,397.40) rotate(-90)" text-anchor="end">A_sector11</text>
<text transform="translate(383.53,397.40) rotate(-90)" text-anchor="end">A_sector12</text>
<text transform="translate(395.86,397.40) rotate(-90)" text-anchor="end">A_sector13</text>
<text transform="translate(408.19,397.40) rotate(-90)" text-anchor="end">A_sector14</text>
<text transform="translate(420.52,397.40) rotate(-90)" text-anchor="end">Labor</text>
<text transform="translate(432.85,397.40) rotate(-90)" text-anchor="end">Capital</text>
<text transform="translate(445.18,397.40) rotate(-90)" text-anchor="end">Households</text>
<text transform="translate(457.51,397.40) rotate(-90)" text-anchor="end">Gov</text>
<text transform="translate(469.84,397.40) rotate(-90)" text-anchor="end">Net Capital</text>
<text transform="translate(482.17,397.40) rotate(-90)" text-anchor="end">Exports</text>
</g>
<text x="276.50" y="15.3" font-size="13.3" text-anchor="middle" fill="#000" opacity="0.9">Heatmap of Multipliers</text>
<text x="276.50" y="453.5" font-size="9.4" text-anchor="middle" fill="#000" opacity="0.9">Sectors</text>
<text transform="translate(13.1,206.80) rotate(-90)" font-size="9.4" text-anchor="middle" fill="#000" opacity="0.9">Sectors</text>
<defs><linearGradient id="cb" x1="0" y1="1" x2="0" y2="0">
<stop offset="0.0000" stop-color="#3b4cc0"/>
<stop offset="0.0156" stop-color="#3f53c6"/>
<stop offset="0.0312" stop-color="#445acc"/>
<stop offset="0.0469" stop-color="#4961d2"/>
<stop offset="0.0625" stop-color="#4e68d8"/>
<stop offset="0.0781" stop-color="#536edd"/>
<stop offset="0.0938" stop-color="#5875e1"/>
<stop offset="0.1094" stop-color="#5d7ce6"/>
<stop offset="0.1250" stop-color="#6282ea"/>
<stop offset="0.1406" stop-color="#6788ee"/>
<stop offset="0.1562" stop-color="#6c8ff1"/>
<stop offset="0.1719" stop-color="#7295f4"/>
<stop offset="0.1875" stop-color="#779af7"/>
<stop offset="0.2031" stop-color="#7da0f9"/>
<stop offset="0.2188" stop-color="#82a6fb"/>
<stop offset="0.2344" stop-color="#88abfd"/>
<stop offset="0.2500" stop-color="#8db0fe"/>
<stop offset="0.2656" stop-color="#93b5fe"/>
<stop offset="0.2812" stop-color="#98b9ff"/>
<stop offset="0.2969" stop-color="#9ebeff"/>
<stop offset="0.3125" stop-color="#a3c2fe"/>
<stop offset="0.3281" stop-color="#a9c6fd"/>
<stop offset="0.3438" stop-color="#aec9fc"/>
<stop offset="0.3594" stop-color="#b3cdfb"/>
<stop offset="0.3750" stop-color="#b9d0f9"/>
<stop offset="0.3906" stop-color="#bed2f6"/>
<stop offset="0.4062" stop-color="#c3d5f4"/>
<stop offset="0.4219" stop-color="#c7d7f0"/>
<stop offset="0.4375" stop-color="#ccd9ed"/>
<stop offset="0.4531" stop-color="#d1dae9"/>
<stop offset="0.4688" stop-color="#d5dbe5"/>
<stop offset="0.4844" stop-color="#d9dce1"/>
<stop offset="0.5000" stop-color="#dddcdc"/>
<stop offset="0.5156" stop-color="#e1dad6"/>
<stop offset="0.5312" stop-color="#e5d8d1"/>
<stop offset="0.5469" stop-color="#e9d5cb"/>
<stop offset="0.5625" stop-color="#ecd3c5"/>
<stop offset="0.5781" stop-color="#efcfbf"/>
<stop offset="0.5938" stop-color="#f1ccb8"/>
<stop offset="0.6094" stop-color="#f3c8b2"/>
<stop offset="0.6250" stop-color="#f5c4ac"/>
<stop offset="0.6406" stop-color="#f6bfa6"/>
<stop offset="0.6562" stop-color="#f7ba9f"/>
<stop offset="0.6719" stop-color="#f7b599"/>
<stop offset="0.6875" stop-color="#f7b093"/>
<stop offset="0.7031" stop-color="#f7aa8c"/>
<stop offset="0.7188" stop-color="#f6a586"/>
<stop offset="0.7344" stop-color="#f59f80"/>
<stop offset="0.7500" stop-color="#f4987a"/>
<stop offset="0.7656" stop-color="#f29274"/>
<stop offset="0.7812" stop-color="#f08b6e"/>
<stop offset="0.7969" stop-color="#ee8468"/>
<stop offset="0.8125" stop-color="#eb7d62"/>
<stop offset="0.8281" stop-color="#e8765c"/>
<stop offset="0.8438" stop-color="#e46e56"/>
<stop offset="0.8594" stop-color="#e16751"/>
<stop offset="0.8750" stop-color="#dd5f4b"/>
<stop offset="0.8906" stop-color="#d85646"/>
<stop offset="0.9062" stop-color="#d44e41"/>
<stop offset="0.9219" stop-color="#cf453c"/>
<stop offset="0.9375" stop-color="#ca3b37"/>
<stop offset="0.9531" stop-color="#c43032"/>
<stop offset="0.9688" stop-color="#be242e"/>
<stop offset="0.9844" stop-color="#b8122a"/>
<stop offset="1.0000" stop-color="#b40426"/>
</linearGradient>
<linearGradient id="cb2" x1="0" y1="1" x2="0" y2="0">
<stop offset="0.0000" stop-color="#4846c0"/>
<stop offset="0.0156" stop-color="#4d4cc6"/>
<stop offset="0.0312" stop-color="#5253cc"/>
<stop offset="0.0469" stop-color="#5859d2"/>
<stop offset="0.0625" stop-color="#5d60d8"/>
<stop offset="0.0781" stop-color="#6366dd"/>
<stop offset="0.0938" stop-color="#686de1"/>
<stop offset="0.1094" stop-color="#6e73e6"/>
<stop offset="0.1250" stop-color="#7379ea"/>
<stop offset="0.1406" stop-color="#797fee"/>
<stop offset="0.1562" stop-color="#7e85f1"/>
<stop offset="0.1719" stop-color="#848bf4"/>
<stop offset="0.1875" stop-color="#8991f7"/>
<stop offset="0.2031" stop-color="#8e97f9"/>
<stop offset="0.2188" stop-color="#949dfb"/>
<stop offset="0.2344" stop-color="#99a2fd"/>
<stop offset="0.2500" stop-color="#9ea7fe"/>
<stop offset="0.2656" stop-color="#a3acfe"/>
<stop offset="0.2812" stop-color="#a8b1ff"/>
<stop offset="0.2969" stop-color="#adb6ff"/>
<stop offset="0.3125" stop-color="#b2bbfe"/>
<stop offset="0.3281" stop-color="#b6bffd"/>
<stop offset="0.3438" stop-color="#bbc3fc"/>
<stop offset="0.3594" stop-color="#bfc7fb"/>
<stop offset="0.3750" stop-color="#c3caf9"/>
<stop offset="0.3906" stop-color="#c7cef6"/>
<stop offset="0.4062" stop-color="#cbd1f4"/>
<stop offset="0.4219" stop-color="#ced3f0"/>
<stop offset="0.4375" stop-color="#d2d6ed"/>
<stop offset="0.4531" stop-color="#d5d8e9"/>
<stop offset="0.4688" stop-color="#d8dae5"/>
<stop offset="0.4844" stop-color="#dadbe1"/>
<stop offset="0.5000" stop-color="#dddddc"/>
<stop offset="0.5156" stop-color="#dfdcd6"/>
<stop offset="0.5312" stop-color="#e0dbd1"/>
<stop offset="0.5469" stop-color="#e1d9cb"/>
<stop offset="0.5625" stop-color="#e2d8c5"/>
<stop offset="0.5781" stop-color="#e2d5bf"/>
<stop offset="0.5938" stop-color="#e3d3b8"/>
<stop offset="0.6094" stop-color="#e2d0b2"/>
<stop offset="0.6250" stop-color="#e2cdac"/>
<stop offset="0.6406" stop-color="#e1caa6"/>
<stop offset="0.6562" stop-color="#e0c69f"/>
<stop offset="0.6719" stop-color="#dec299"/>
<stop offset="0.6875" stop-color="#dcbe93"/>
<stop offset="0.7031" stop-color="#dab98c"/>
<stop offset="0.7188" stop-color="#d8b486"/>
<stop offset="0.7344" stop-color="#d5af80"/>
<stop offset="0.7500" stop-color="#d2aa7a"/>
<stop offset="0.7656" stop-color="#cea474"/>
<stop offset="0.7812" stop-color="#cb9e6e"/>
<stop offset="0.7969" stop-color="#c79868"/>
<stop offset="0.8125" stop-color="#c29262"/>
<stop offset="0.8281" stop-color="#be8b5c"/>
<stop offset="0.8438" stop-color="#b98456"/>
<stop offset="0.8594" stop-color="#b47d51"/>
<stop offset="0.8750" stop-color="#af764b"/>
<stop offset="0.8906" stop-color="#a96e46"/>
<stop offset="0.9062" stop-color="#a36641"/>
<stop offset="0.9219" stop-color="#9d5e3c"/>
<stop offset="0.9375" stop-color="#975537"/>
<stop offset="0.9531" stop-color="#904b32"/>
<stop offset="0.9688" stop-color="#883f2e"/>
<stop offset="0.9844" stop-color="#7f2f2a"/>
<stop offset="1.0000" stop-color="#772326"/>
</linearGradient>
<clipPath id="cl"><rect x="528" y="232" width="3.10" height="161.80"/></clipPath>
</defs>
<rect x="512.7" y="18.6" width="18.40" height="375.20" fill="url(#cb)"/>
<rect x="512.7" y="18.6" width="18.40" height="375.20" fill="url(#cb2)" clip-path="url(#cl)"/>
<g font-size="7.64" fill="#000" opacity="0.92">
<line x1="531.1" y1="393.80" x2="532.70" y2="393.80" stroke="#000" stroke-width="0.4"/>
<text x="533.90" y="396.40">0.0</text>
<line x1="531.1" y1="345.39" x2="532.70" y2="345.39" stroke="#000" stroke-width="0.4"/>
<text x="533.90" y="347.98">0.2</text>
<line x1="531.1" y1="296.97" x2="532.70" y2="296.97" stroke="#000" stroke-width="0.4"/>
<text x="533.90" y="299.57">0.4</text>
<line x1="531.1" y1="248.56" x2="532.70" y2="248.56" stroke="#000" stroke-width="0.4"/>
<text x="533.90" y="251.16">0.6</text>
<line x1="531.1" y1="200.15" x2="532.70" y2="200.15" stroke="#000" stroke-width="0.4"/>
<text x="533.90" y="202.75">0.8</text>
<line x1="531.1" y1="151.74" x2="532.70" y2="151.74" stroke="#000" stroke-width="0.4"/>
<text x="533.90" y="154.33">1.0</text>
<line x1="531.1" y1="103.32" x2="532.70" y2="103.32" stroke="#000" stroke-width="0.4"/>
<text x="533.90" y="105.92">1.2</text>
<line x1="531.1" y1="54.91" x2="532.70" y2="54.91" stroke="#000" stroke-width="0.4"/>
<text x="533.90" y="57.51">1.4</text>
</g>
</svg></body></html>
